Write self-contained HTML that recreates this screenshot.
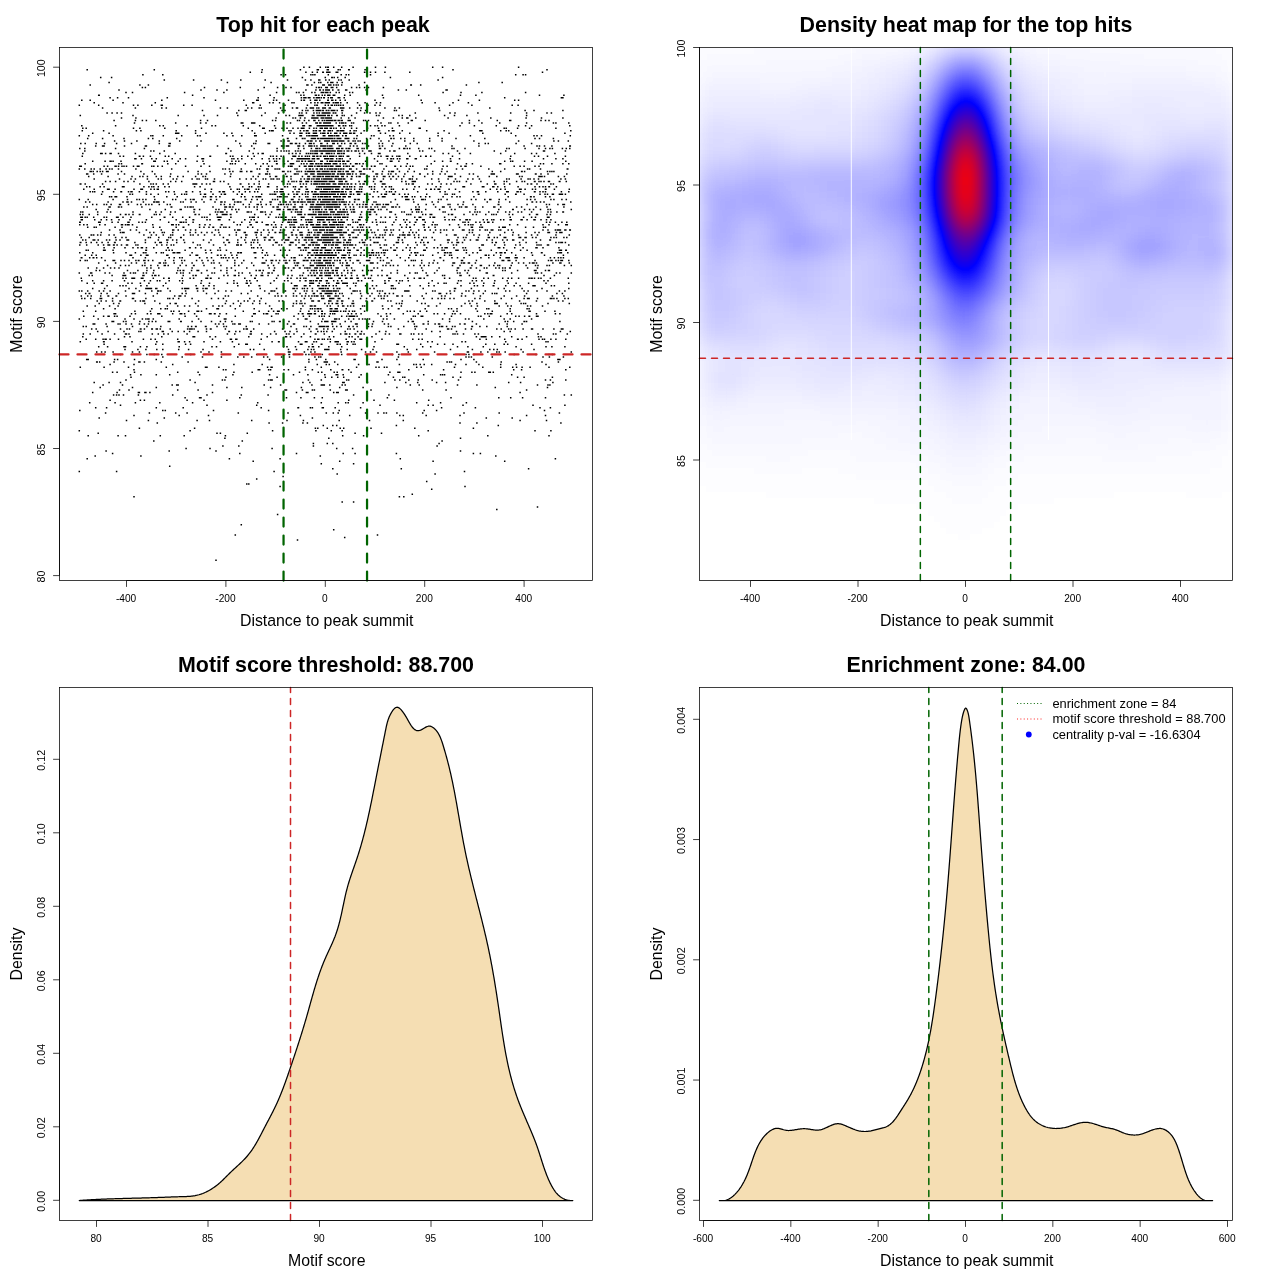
<!DOCTYPE html>
<html lang="en"><head><meta charset="utf-8"><title>Motif enrichment plots</title>
<style>html,body{margin:0;padding:0;background:#fff}svg{display:block}text{font-family:"Liberation Sans", sans-serif;fill:#000}</style></head>
<body>
<svg width="1280" height="1280" viewBox="0 0 1280 1280">
<rect width="1280" height="1280" fill="#fff"/>
<path d="M303.15 67.2h1.5M308.65 67.2h1.5M319.55 67.2h1.5M325.05 67.2h1.5M327.05 67.2h1.5M327.55 67.2h1.5M332.95 67.2h1.5M340.95 67.2h1.5M352.35 67.2h1.5M374.75 67.2h1.5M384.65 67.2h1.5M431.95 67.2h1.5M441.85 67.2h1.5M517.85 67.2h1.5M86.45 69.7h1.5M153.55 69.7h1.5M261.45 69.7h1.5M299.65 69.7h1.5M316.55 69.7h1.5M317.55 69.7h1.5M326.55 69.7h1.5M327.05 69.7h1.5M327.55 69.7h1.5M337.45 69.7h1.5M339.45 69.7h1.5M347.95 69.7h1.5M348.45 69.7h1.5M364.35 69.7h1.5M452.25 69.7h1.5M546.25 69.7h1.5M249.55 72.3h1.5M260.95 72.3h1.5M305.15 72.3h1.5M311.65 72.3h1.5M316.55 72.3h1.5M322.05 72.3h1.5M322.55 72.3h1.5M326.05 72.3h1.5M327.05 72.3h1.5M328.05 72.3h1.5M329.05 72.3h1.5M335.45 72.3h1.5M336.95 72.3h1.5M363.85 72.3h1.5M365.85 72.3h1.5M369.75 72.3h1.5M374.75 72.3h1.5M384.15 72.3h1.5M409.05 72.3h1.5M541.75 72.3h1.5M142.15 74.8h1.5M162.05 74.8h1.5M280.35 74.8h1.5M284.75 74.8h1.5M310.15 74.8h1.5M312.15 74.8h1.5M314.15 74.8h1.5M327.55 74.8h1.5M340.45 74.8h1.5M345.45 74.8h1.5M347.95 74.8h1.5M369.75 74.8h1.5M514.95 74.8h1.5M522.35 74.8h1.5M524.85 74.8h1.5M99.95 77.4h1.5M110.85 77.4h1.5M301.65 77.4h1.5M324.55 77.4h1.5M331.05 77.4h1.5M331.55 77.4h1.5M333.45 77.4h1.5M336.95 77.4h1.5M344.45 77.4h1.5M389.65 77.4h1.5M441.85 77.4h1.5M163.55 79.9h1.5M192.85 79.9h1.5M220.65 79.9h1.5M240.05 79.9h1.5M264.45 79.9h1.5M286.75 79.9h1.5M304.65 79.9h1.5M310.15 79.9h1.5M318.05 79.9h1.5M319.05 79.9h1.5M325.05 79.9h1.5M328.55 79.9h1.5M337.95 79.9h1.5M340.45 79.9h1.5M348.45 79.9h1.5M437.35 79.9h1.5M108.35 82.5h1.5M226.65 82.5h1.5M270.35 82.5h1.5M313.65 82.5h1.5M318.05 82.5h1.5M320.05 82.5h1.5M327.05 82.5h1.5M330.05 82.5h1.5M330.55 82.5h1.5M332.05 82.5h1.5M336.45 82.5h1.5M341.45 82.5h1.5M363.85 82.5h1.5M478.15 82.5h1.5M501.45 82.5h1.5M89.45 85h1.5M139.15 85h1.5M147.65 85h1.5M282.35 85h1.5M306.15 85h1.5M307.15 85h1.5M311.15 85h1.5M322.05 85h1.5M323.55 85h1.5M328.05 85h1.5M329.05 85h1.5M330.05 85h1.5M332.95 85h1.5M335.45 85h1.5M337.45 85h1.5M340.95 85h1.5M358.35 85h1.5M410.05 85h1.5M410.55 85h1.5M419.95 85h1.5M465.65 85h1.5M141.65 87.5h1.5M144.65 87.5h1.5M203.75 87.5h1.5M239.55 87.5h1.5M263.45 87.5h1.5M276.85 87.5h1.5M285.25 87.5h1.5M290.25 87.5h1.5M315.65 87.5h1.5M318.05 87.5h1.5M318.55 87.5h1.5M320.55 87.5h1.5M325.05 87.5h1.5M326.55 87.5h1.5M330.55 87.5h1.5M332.05 87.5h1.5M335.95 87.5h1.5M350.85 87.5h1.5M355.85 87.5h1.5M358.85 87.5h1.5M363.85 87.5h1.5M367.75 87.5h1.5M382.65 87.5h1.5M118.25 90.1h1.5M200.25 90.1h1.5M216.25 90.1h1.5M226.15 90.1h1.5M257.45 90.1h1.5M305.15 90.1h1.5M315.15 90.1h1.5M319.05 90.1h1.5M319.55 90.1h1.5M322.55 90.1h1.5M325.05 90.1h1.5M326.55 90.1h1.5M327.05 90.1h1.5M328.55 90.1h1.5M332.05 90.1h1.5M337.45 90.1h1.5M337.95 90.1h1.5M344.95 90.1h1.5M345.45 90.1h1.5M345.95 90.1h1.5M365.35 90.1h1.5M397.65 90.1h1.5M405.55 90.1h1.5M445.35 90.1h1.5M446.35 90.1h1.5M125.25 92.6h1.5M131.75 92.6h1.5M183.85 92.6h1.5M223.15 92.6h1.5M275.85 92.6h1.5M295.75 92.6h1.5M298.25 92.6h1.5M302.65 92.6h1.5M311.15 92.6h1.5M314.15 92.6h1.5M320.55 92.6h1.5M321.55 92.6h1.5M322.55 92.6h1.5M324.55 92.6h1.5M326.05 92.6h1.5M327.05 92.6h1.5M329.55 92.6h1.5M335.45 92.6h1.5M338.45 92.6h1.5M348.95 92.6h1.5M351.85 92.6h1.5M442.35 92.6h1.5M460.25 92.6h1.5M481.15 92.6h1.5M524.85 92.6h1.5M97.95 95.2h1.5M98.45 95.2h1.5M191.85 95.2h1.5M269.35 95.2h1.5M300.15 95.2h1.5M303.15 95.2h1.5M314.65 95.2h1.5M315.65 95.2h1.5M318.05 95.2h1.5M321.55 95.2h1.5M324.05 95.2h1.5M327.05 95.2h1.5M328.05 95.2h1.5M328.55 95.2h1.5M329.05 95.2h1.5M332.55 95.2h1.5M333.95 95.2h1.5M343.95 95.2h1.5M349.45 95.2h1.5M381.75 95.2h1.5M417.95 95.2h1.5M459.75 95.2h1.5M475.15 95.2h1.5M538.75 95.2h1.5M563.15 95.2h1.5M109.35 97.7h1.5M116.85 97.7h1.5M127.75 97.7h1.5M166.55 97.7h1.5M203.25 97.7h1.5M257.45 97.7h1.5M273.35 97.7h1.5M300.65 97.7h1.5M303.15 97.7h1.5M304.65 97.7h1.5M305.15 97.7h1.5M307.65 97.7h1.5M309.15 97.7h1.5M313.15 97.7h1.5M315.65 97.7h1.5M317.05 97.7h1.5M317.55 97.7h1.5M318.55 97.7h1.5M320.55 97.7h1.5M323.05 97.7h1.5M323.55 97.7h1.5M327.55 97.7h1.5M330.05 97.7h1.5M331.55 97.7h1.5M337.45 97.7h1.5M338.95 97.7h1.5M343.45 97.7h1.5M382.65 97.7h1.5M503.95 97.7h1.5M560.65 97.7h1.5M562.15 97.7h1.5M81.05 100.2h1.5M89.45 100.2h1.5M112.35 100.2h1.5M161.05 100.2h1.5M214.75 100.2h1.5M243.05 100.2h1.5M255.95 100.2h1.5M257.45 100.2h1.5M272.85 100.2h1.5M275.85 100.2h1.5M287.75 100.2h1.5M300.65 100.2h1.5M303.15 100.2h1.5M303.65 100.2h1.5M309.65 100.2h1.5M314.15 100.2h1.5M314.65 100.2h1.5M316.15 100.2h1.5M319.05 100.2h1.5M327.05 100.2h1.5M327.55 100.2h1.5M331.05 100.2h1.5M332.05 100.2h1.5M334.95 100.2h1.5M339.45 100.2h1.5M344.45 100.2h1.5M374.25 100.2h1.5M420.45 100.2h1.5M457.75 100.2h1.5M478.65 100.2h1.5M513.95 100.2h1.5M517.85 100.2h1.5M93.45 102.8h1.5M122.25 102.8h1.5M154.55 102.8h1.5M251.95 102.8h1.5M252.95 102.8h1.5M268.85 102.8h1.5M272.35 102.8h1.5M278.85 102.8h1.5M291.25 102.8h1.5M293.25 102.8h1.5M310.15 102.8h1.5M314.15 102.8h1.5M317.05 102.8h1.5M320.55 102.8h1.5M321.05 102.8h1.5M321.55 102.8h1.5M322.05 102.8h1.5M324.55 102.8h1.5M325.55 102.8h1.5M326.05 102.8h1.5M327.55 102.8h1.5M328.55 102.8h1.5M332.55 102.8h1.5M334.45 102.8h1.5M335.45 102.8h1.5M335.95 102.8h1.5M336.95 102.8h1.5M337.45 102.8h1.5M339.95 102.8h1.5M346.45 102.8h1.5M356.85 102.8h1.5M364.35 102.8h1.5M375.75 102.8h1.5M379.75 102.8h1.5M421.45 102.8h1.5M434.35 102.8h1.5M452.25 102.8h1.5M467.65 102.8h1.5M78.55 105.3h1.5M97.95 105.3h1.5M132.75 105.3h1.5M137.15 105.3h1.5M151.05 105.3h1.5M160.55 105.3h1.5M161.55 105.3h1.5M182.95 105.3h1.5M191.35 105.3h1.5M245.55 105.3h1.5M259.45 105.3h1.5M284.25 105.3h1.5M306.65 105.3h1.5M314.15 105.3h1.5M316.15 105.3h1.5M316.55 105.3h1.5M324.55 105.3h1.5M327.55 105.3h1.5M330.55 105.3h1.5M331.55 105.3h1.5M333.95 105.3h1.5M335.95 105.3h1.5M337.95 105.3h1.5M339.95 105.3h1.5M342.45 105.3h1.5M358.85 105.3h1.5M367.25 105.3h1.5M374.25 105.3h1.5M379.25 105.3h1.5M448.85 105.3h1.5M471.15 105.3h1.5M511.45 105.3h1.5M517.35 105.3h1.5M101.85 107.9h1.5M134.65 107.9h1.5M161.05 107.9h1.5M165.55 107.9h1.5M219.65 107.9h1.5M226.65 107.9h1.5M247.05 107.9h1.5M250.95 107.9h1.5M258.45 107.9h1.5M260.45 107.9h1.5M279.85 107.9h1.5M291.75 107.9h1.5M295.75 107.9h1.5M296.75 107.9h1.5M305.65 107.9h1.5M309.65 107.9h1.5M311.15 107.9h1.5M312.65 107.9h1.5M316.15 107.9h1.5M318.05 107.9h1.5M322.05 107.9h1.5M323.05 107.9h1.5M324.55 107.9h1.5M328.55 107.9h1.5M329.55 107.9h1.5M339.95 107.9h1.5M340.45 107.9h1.5M341.95 107.9h1.5M342.95 107.9h1.5M348.95 107.9h1.5M356.85 107.9h1.5M360.35 107.9h1.5M384.15 107.9h1.5M394.15 107.9h1.5M398.65 107.9h1.5M438.35 107.9h1.5M489.05 107.9h1.5M201.75 110.4h1.5M238.05 110.4h1.5M244.55 110.4h1.5M245.55 110.4h1.5M281.35 110.4h1.5M282.85 110.4h1.5M284.25 110.4h1.5M301.65 110.4h1.5M305.15 110.4h1.5M307.15 110.4h1.5M312.65 110.4h1.5M315.65 110.4h1.5M316.55 110.4h1.5M317.55 110.4h1.5M318.05 110.4h1.5M319.05 110.4h1.5M320.05 110.4h1.5M322.05 110.4h1.5M322.55 110.4h1.5M325.55 110.4h1.5M326.05 110.4h1.5M328.05 110.4h1.5M330.55 110.4h1.5M332.05 110.4h1.5M333.45 110.4h1.5M333.95 110.4h1.5M336.45 110.4h1.5M340.95 110.4h1.5M341.95 110.4h1.5M359.85 110.4h1.5M364.85 110.4h1.5M393.65 110.4h1.5M395.65 110.4h1.5M438.85 110.4h1.5M524.35 110.4h1.5M533.25 110.4h1.5M562.15 110.4h1.5M106.35 113h1.5M111.35 113h1.5M116.35 113h1.5M120.75 113h1.5M236.05 113h1.5M264.45 113h1.5M277.85 113h1.5M298.75 113h1.5M301.15 113h1.5M305.65 113h1.5M313.15 113h1.5M316.15 113h1.5M318.55 113h1.5M321.55 113h1.5M322.05 113h1.5M322.55 113h1.5M324.05 113h1.5M324.55 113h1.5M326.05 113h1.5M327.55 113h1.5M328.55 113h1.5M329.05 113h1.5M332.55 113h1.5M334.45 113h1.5M334.95 113h1.5M341.45 113h1.5M355.85 113h1.5M363.85 113h1.5M369.25 113h1.5M375.25 113h1.5M379.25 113h1.5M414.55 113h1.5M449.25 113h1.5M454.25 113h1.5M477.15 113h1.5M509.95 113h1.5M525.85 113h1.5M546.25 113h1.5M550.65 113h1.5M79.55 115.5h1.5M132.25 115.5h1.5M177.45 115.5h1.5M203.25 115.5h1.5M216.75 115.5h1.5M237.05 115.5h1.5M260.95 115.5h1.5M285.25 115.5h1.5M288.75 115.5h1.5M298.25 115.5h1.5M299.65 115.5h1.5M300.65 115.5h1.5M302.15 115.5h1.5M311.65 115.5h1.5M312.15 115.5h1.5M313.15 115.5h1.5M316.55 115.5h1.5M318.05 115.5h1.5M319.55 115.5h1.5M320.55 115.5h1.5M321.05 115.5h1.5M322.55 115.5h1.5M324.05 115.5h1.5M324.55 115.5h1.5M327.05 115.5h1.5M328.05 115.5h1.5M328.55 115.5h1.5M331.05 115.5h1.5M335.95 115.5h1.5M336.45 115.5h1.5M341.45 115.5h1.5M343.45 115.5h1.5M350.85 115.5h1.5M375.75 115.5h1.5M378.25 115.5h1.5M398.15 115.5h1.5M401.55 115.5h1.5M409.05 115.5h1.5M443.85 115.5h1.5M453.75 115.5h1.5M466.15 115.5h1.5M525.85 115.5h1.5M120.75 118h1.5M135.15 118h1.5M275.35 118h1.5M292.25 118h1.5M294.75 118h1.5M299.65 118h1.5M304.15 118h1.5M311.15 118h1.5M312.15 118h1.5M313.65 118h1.5M314.65 118h1.5M316.15 118h1.5M317.05 118h1.5M320.55 118h1.5M321.55 118h1.5M323.05 118h1.5M325.05 118h1.5M326.55 118h1.5M327.05 118h1.5M327.55 118h1.5M328.05 118h1.5M328.55 118h1.5M330.05 118h1.5M330.55 118h1.5M340.45 118h1.5M347.95 118h1.5M354.35 118h1.5M382.65 118h1.5M392.65 118h1.5M401.55 118h1.5M406.05 118h1.5M407.05 118h1.5M415.05 118h1.5M447.35 118h1.5M490.05 118h1.5M525.35 118h1.5M540.75 118h1.5M562.15 118h1.5M113.35 120.6h1.5M134.65 120.6h1.5M141.65 120.6h1.5M145.65 120.6h1.5M155.05 120.6h1.5M199.85 120.6h1.5M206.75 120.6h1.5M271.85 120.6h1.5M274.85 120.6h1.5M296.75 120.6h1.5M298.75 120.6h1.5M303.65 120.6h1.5M308.15 120.6h1.5M313.15 120.6h1.5M314.15 120.6h1.5M318.05 120.6h1.5M321.55 120.6h1.5M323.55 120.6h1.5M325.55 120.6h1.5M326.05 120.6h1.5M327.05 120.6h1.5M327.55 120.6h1.5M328.05 120.6h1.5M329.55 120.6h1.5M331.05 120.6h1.5M331.55 120.6h1.5M333.45 120.6h1.5M334.95 120.6h1.5M337.45 120.6h1.5M338.45 120.6h1.5M340.45 120.6h1.5M341.45 120.6h1.5M347.45 120.6h1.5M348.95 120.6h1.5M349.45 120.6h1.5M362.85 120.6h1.5M364.85 120.6h1.5M367.75 120.6h1.5M377.25 120.6h1.5M410.55 120.6h1.5M411.55 120.6h1.5M424.45 120.6h1.5M468.65 120.6h1.5M478.15 120.6h1.5M496.55 120.6h1.5M508.95 120.6h1.5M509.95 120.6h1.5M540.25 120.6h1.5M544.75 120.6h1.5M548.25 120.6h1.5M133.75 123.1h1.5M174.95 123.1h1.5M199.85 123.1h1.5M205.25 123.1h1.5M240.55 123.1h1.5M242.05 123.1h1.5M250.95 123.1h1.5M251.45 123.1h1.5M252.45 123.1h1.5M253.95 123.1h1.5M286.25 123.1h1.5M289.75 123.1h1.5M301.65 123.1h1.5M305.65 123.1h1.5M315.15 123.1h1.5M316.55 123.1h1.5M319.05 123.1h1.5M319.55 123.1h1.5M320.05 123.1h1.5M323.05 123.1h1.5M324.05 123.1h1.5M325.05 123.1h1.5M325.55 123.1h1.5M327.05 123.1h1.5M327.55 123.1h1.5M328.55 123.1h1.5M329.55 123.1h1.5M335.45 123.1h1.5M338.95 123.1h1.5M340.95 123.1h1.5M341.95 123.1h1.5M342.45 123.1h1.5M342.95 123.1h1.5M344.95 123.1h1.5M350.85 123.1h1.5M352.85 123.1h1.5M380.25 123.1h1.5M388.15 123.1h1.5M390.15 123.1h1.5M397.15 123.1h1.5M407.55 123.1h1.5M461.25 123.1h1.5M468.65 123.1h1.5M481.15 123.1h1.5M498.95 123.1h1.5M525.85 123.1h1.5M552.65 123.1h1.5M555.15 123.1h1.5M568.05 123.1h1.5M81.05 125.7h1.5M114.85 125.7h1.5M159.05 125.7h1.5M162.55 125.7h1.5M186.35 125.7h1.5M211.25 125.7h1.5M214.75 125.7h1.5M242.55 125.7h1.5M258.95 125.7h1.5M273.85 125.7h1.5M302.15 125.7h1.5M303.15 125.7h1.5M303.65 125.7h1.5M308.65 125.7h1.5M310.15 125.7h1.5M316.55 125.7h1.5M317.55 125.7h1.5M319.05 125.7h1.5M319.55 125.7h1.5M320.05 125.7h1.5M321.05 125.7h1.5M322.05 125.7h1.5M323.55 125.7h1.5M324.05 125.7h1.5M324.55 125.7h1.5M326.05 125.7h1.5M327.05 125.7h1.5M327.55 125.7h1.5M329.05 125.7h1.5M330.05 125.7h1.5M331.05 125.7h1.5M331.55 125.7h1.5M332.05 125.7h1.5M337.95 125.7h1.5M338.95 125.7h1.5M342.45 125.7h1.5M342.95 125.7h1.5M344.95 125.7h1.5M348.95 125.7h1.5M350.85 125.7h1.5M369.75 125.7h1.5M374.25 125.7h1.5M376.75 125.7h1.5M381.25 125.7h1.5M384.15 125.7h1.5M398.65 125.7h1.5M459.25 125.7h1.5M473.65 125.7h1.5M495.55 125.7h1.5M517.85 125.7h1.5M524.85 125.7h1.5M530.85 125.7h1.5M569.05 125.7h1.5M82.05 128.2h1.5M85.45 128.2h1.5M132.75 128.2h1.5M139.15 128.2h1.5M164.05 128.2h1.5M200.75 128.2h1.5M247.55 128.2h1.5M261.95 128.2h1.5M263.45 128.2h1.5M274.85 128.2h1.5M281.35 128.2h1.5M286.25 128.2h1.5M292.25 128.2h1.5M297.25 128.2h1.5M300.65 128.2h1.5M302.15 128.2h1.5M303.15 128.2h1.5M308.65 128.2h1.5M313.15 128.2h1.5M315.65 128.2h1.5M319.55 128.2h1.5M320.55 128.2h1.5M321.55 128.2h1.5M324.05 128.2h1.5M325.05 128.2h1.5M326.55 128.2h1.5M329.55 128.2h1.5M330.55 128.2h1.5M332.95 128.2h1.5M335.45 128.2h1.5M339.95 128.2h1.5M343.45 128.2h1.5M350.85 128.2h1.5M355.85 128.2h1.5M366.75 128.2h1.5M377.75 128.2h1.5M391.65 128.2h1.5M418.45 128.2h1.5M419.45 128.2h1.5M503.45 128.2h1.5M505.45 128.2h1.5M516.85 128.2h1.5M528.85 128.2h1.5M555.15 128.2h1.5M81.55 130.8h1.5M102.85 130.8h1.5M135.65 130.8h1.5M140.15 130.8h1.5M175.45 130.8h1.5M194.85 130.8h1.5M251.45 130.8h1.5M268.85 130.8h1.5M270.85 130.8h1.5M272.35 130.8h1.5M288.25 130.8h1.5M290.25 130.8h1.5M299.65 130.8h1.5M303.15 130.8h1.5M305.65 130.8h1.5M306.65 130.8h1.5M307.15 130.8h1.5M312.65 130.8h1.5M313.15 130.8h1.5M315.15 130.8h1.5M315.65 130.8h1.5M318.55 130.8h1.5M319.05 130.8h1.5M319.55 130.8h1.5M323.05 130.8h1.5M324.05 130.8h1.5M327.55 130.8h1.5M328.05 130.8h1.5M329.55 130.8h1.5M331.55 130.8h1.5M336.45 130.8h1.5M337.45 130.8h1.5M339.45 130.8h1.5M339.95 130.8h1.5M341.45 130.8h1.5M342.95 130.8h1.5M349.45 130.8h1.5M353.35 130.8h1.5M355.35 130.8h1.5M363.35 130.8h1.5M365.85 130.8h1.5M377.75 130.8h1.5M378.75 130.8h1.5M388.15 130.8h1.5M391.65 130.8h1.5M393.15 130.8h1.5M401.55 130.8h1.5M425.95 130.8h1.5M443.35 130.8h1.5M479.15 130.8h1.5M480.65 130.8h1.5M481.15 130.8h1.5M499.95 130.8h1.5M505.45 130.8h1.5M507.95 130.8h1.5M570.05 130.8h1.5M91.95 133.3h1.5M108.35 133.3h1.5M174.95 133.3h1.5M176.45 133.3h1.5M177.95 133.3h1.5M194.85 133.3h1.5M205.25 133.3h1.5M223.15 133.3h1.5M231.15 133.3h1.5M253.95 133.3h1.5M264.45 133.3h1.5M289.25 133.3h1.5M293.25 133.3h1.5M299.25 133.3h1.5M300.15 133.3h1.5M301.15 133.3h1.5M305.65 133.3h1.5M307.65 133.3h1.5M308.65 133.3h1.5M312.65 133.3h1.5M313.65 133.3h1.5M315.15 133.3h1.5M315.65 133.3h1.5M320.05 133.3h1.5M322.05 133.3h1.5M323.05 133.3h1.5M324.05 133.3h1.5M327.05 133.3h1.5M327.55 133.3h1.5M330.05 133.3h1.5M333.95 133.3h1.5M334.95 133.3h1.5M335.45 133.3h1.5M335.95 133.3h1.5M339.45 133.3h1.5M342.95 133.3h1.5M344.45 133.3h1.5M345.95 133.3h1.5M348.95 133.3h1.5M350.35 133.3h1.5M352.85 133.3h1.5M353.85 133.3h1.5M360.35 133.3h1.5M379.75 133.3h1.5M384.65 133.3h1.5M399.05 133.3h1.5M409.05 133.3h1.5M437.35 133.3h1.5M448.35 133.3h1.5M482.05 133.3h1.5M510.45 133.3h1.5M564.15 133.3h1.5M78.55 135.8h1.5M87.95 135.8h1.5M112.35 135.8h1.5M150.15 135.8h1.5M152.05 135.8h1.5M162.55 135.8h1.5M180.95 135.8h1.5M196.85 135.8h1.5M199.35 135.8h1.5M226.15 135.8h1.5M232.15 135.8h1.5M241.05 135.8h1.5M253.95 135.8h1.5M255.45 135.8h1.5M281.85 135.8h1.5M299.25 135.8h1.5M300.65 135.8h1.5M306.15 135.8h1.5M308.15 135.8h1.5M309.15 135.8h1.5M311.15 135.8h1.5M311.65 135.8h1.5M312.65 135.8h1.5M313.15 135.8h1.5M313.65 135.8h1.5M315.15 135.8h1.5M315.65 135.8h1.5M316.55 135.8h1.5M322.55 135.8h1.5M323.05 135.8h1.5M324.05 135.8h1.5M328.05 135.8h1.5M329.05 135.8h1.5M330.55 135.8h1.5M331.05 135.8h1.5M331.55 135.8h1.5M333.45 135.8h1.5M335.45 135.8h1.5M335.95 135.8h1.5M336.95 135.8h1.5M337.45 135.8h1.5M337.95 135.8h1.5M341.95 135.8h1.5M344.95 135.8h1.5M345.45 135.8h1.5M356.35 135.8h1.5M370.75 135.8h1.5M373.25 135.8h1.5M389.15 135.8h1.5M392.65 135.8h1.5M437.35 135.8h1.5M469.65 135.8h1.5M514.95 135.8h1.5M533.25 135.8h1.5M536.25 135.8h1.5M540.75 135.8h1.5M569.55 135.8h1.5M86.95 138.4h1.5M101.85 138.4h1.5M123.25 138.4h1.5M147.65 138.4h1.5M152.05 138.4h1.5M175.95 138.4h1.5M286.75 138.4h1.5M287.25 138.4h1.5M295.75 138.4h1.5M301.65 138.4h1.5M302.15 138.4h1.5M304.15 138.4h1.5M310.65 138.4h1.5M311.15 138.4h1.5M312.15 138.4h1.5M312.65 138.4h1.5M313.65 138.4h1.5M314.65 138.4h1.5M317.05 138.4h1.5M317.55 138.4h1.5M318.05 138.4h1.5M320.05 138.4h1.5M321.05 138.4h1.5M322.55 138.4h1.5M323.05 138.4h1.5M324.05 138.4h1.5M325.55 138.4h1.5M326.05 138.4h1.5M327.55 138.4h1.5M328.55 138.4h1.5M329.05 138.4h1.5M330.05 138.4h1.5M330.55 138.4h1.5M332.05 138.4h1.5M333.95 138.4h1.5M336.45 138.4h1.5M337.45 138.4h1.5M338.45 138.4h1.5M339.95 138.4h1.5M344.45 138.4h1.5M344.95 138.4h1.5M346.45 138.4h1.5M347.95 138.4h1.5M353.35 138.4h1.5M355.85 138.4h1.5M365.85 138.4h1.5M369.75 138.4h1.5M378.25 138.4h1.5M390.15 138.4h1.5M390.65 138.4h1.5M393.15 138.4h1.5M400.05 138.4h1.5M404.05 138.4h1.5M413.05 138.4h1.5M428.95 138.4h1.5M441.35 138.4h1.5M455.25 138.4h1.5M484.05 138.4h1.5M534.25 138.4h1.5M538.75 138.4h1.5M552.65 138.4h1.5M113.85 140.9h1.5M123.75 140.9h1.5M136.15 140.9h1.5M158.55 140.9h1.5M178.95 140.9h1.5M200.25 140.9h1.5M235.05 140.9h1.5M255.45 140.9h1.5M280.35 140.9h1.5M283.25 140.9h1.5M287.25 140.9h1.5M288.25 140.9h1.5M306.65 140.9h1.5M307.65 140.9h1.5M309.65 140.9h1.5M310.65 140.9h1.5M311.15 140.9h1.5M315.15 140.9h1.5M319.05 140.9h1.5M324.05 140.9h1.5M324.55 140.9h1.5M326.05 140.9h1.5M326.55 140.9h1.5M327.05 140.9h1.5M328.55 140.9h1.5M331.05 140.9h1.5M332.55 140.9h1.5M332.95 140.9h1.5M334.45 140.9h1.5M334.95 140.9h1.5M335.95 140.9h1.5M336.45 140.9h1.5M338.45 140.9h1.5M338.95 140.9h1.5M339.95 140.9h1.5M341.45 140.9h1.5M342.95 140.9h1.5M347.45 140.9h1.5M347.95 140.9h1.5M352.35 140.9h1.5M354.35 140.9h1.5M357.35 140.9h1.5M359.35 140.9h1.5M380.25 140.9h1.5M388.15 140.9h1.5M404.05 140.9h1.5M413.05 140.9h1.5M428.95 140.9h1.5M441.35 140.9h1.5M473.15 140.9h1.5M517.85 140.9h1.5M553.15 140.9h1.5M557.65 140.9h1.5M567.55 140.9h1.5M80.05 143.5h1.5M84.45 143.5h1.5M95.45 143.5h1.5M103.85 143.5h1.5M115.85 143.5h1.5M130.75 143.5h1.5M158.55 143.5h1.5M168.45 143.5h1.5M169.45 143.5h1.5M239.05 143.5h1.5M252.95 143.5h1.5M254.95 143.5h1.5M267.35 143.5h1.5M268.85 143.5h1.5M289.75 143.5h1.5M290.75 143.5h1.5M291.25 143.5h1.5M294.75 143.5h1.5M295.75 143.5h1.5M298.75 143.5h1.5M304.65 143.5h1.5M308.65 143.5h1.5M310.15 143.5h1.5M310.65 143.5h1.5M313.15 143.5h1.5M320.05 143.5h1.5M320.55 143.5h1.5M321.05 143.5h1.5M326.55 143.5h1.5M332.05 143.5h1.5M333.45 143.5h1.5M336.95 143.5h1.5M340.95 143.5h1.5M343.95 143.5h1.5M349.45 143.5h1.5M350.35 143.5h1.5M354.35 143.5h1.5M354.85 143.5h1.5M361.85 143.5h1.5M364.35 143.5h1.5M378.25 143.5h1.5M381.75 143.5h1.5M392.15 143.5h1.5M409.55 143.5h1.5M416.45 143.5h1.5M478.15 143.5h1.5M484.55 143.5h1.5M487.55 143.5h1.5M515.35 143.5h1.5M530.85 143.5h1.5M94.95 146h1.5M101.85 146h1.5M103.35 146h1.5M123.75 146h1.5M144.65 146h1.5M145.65 146h1.5M167.95 146h1.5M168.95 146h1.5M196.35 146h1.5M216.75 146h1.5M240.05 146h1.5M250.95 146h1.5M280.85 146h1.5M281.35 146h1.5M282.85 146h1.5M285.75 146h1.5M287.25 146h1.5M287.75 146h1.5M297.25 146h1.5M298.75 146h1.5M302.65 146h1.5M308.15 146h1.5M309.15 146h1.5M309.65 146h1.5M310.65 146h1.5M311.15 146h1.5M313.65 146h1.5M316.15 146h1.5M320.05 146h1.5M320.55 146h1.5M321.05 146h1.5M321.55 146h1.5M322.05 146h1.5M323.05 146h1.5M324.05 146h1.5M324.55 146h1.5M325.05 146h1.5M327.05 146h1.5M329.05 146h1.5M330.05 146h1.5M330.55 146h1.5M331.05 146h1.5M338.45 146h1.5M339.95 146h1.5M349.45 146h1.5M352.85 146h1.5M356.35 146h1.5M367.75 146h1.5M378.75 146h1.5M381.75 146h1.5M391.15 146h1.5M405.05 146h1.5M451.25 146h1.5M478.15 146h1.5M523.35 146h1.5M536.25 146h1.5M538.75 146h1.5M543.75 146h1.5M551.15 146h1.5M569.05 146h1.5M569.55 146h1.5M79.05 148.5h1.5M84.05 148.5h1.5M114.85 148.5h1.5M143.65 148.5h1.5M227.65 148.5h1.5M253.45 148.5h1.5M276.35 148.5h1.5M297.75 148.5h1.5M303.15 148.5h1.5M310.65 148.5h1.5M315.15 148.5h1.5M316.15 148.5h1.5M317.05 148.5h1.5M319.05 148.5h1.5M322.55 148.5h1.5M323.05 148.5h1.5M324.05 148.5h1.5M324.55 148.5h1.5M325.05 148.5h1.5M327.05 148.5h1.5M327.55 148.5h1.5M328.05 148.5h1.5M329.55 148.5h1.5M330.05 148.5h1.5M331.05 148.5h1.5M331.55 148.5h1.5M332.05 148.5h1.5M335.95 148.5h1.5M336.95 148.5h1.5M337.45 148.5h1.5M338.45 148.5h1.5M340.95 148.5h1.5M341.95 148.5h1.5M345.45 148.5h1.5M347.45 148.5h1.5M348.95 148.5h1.5M356.35 148.5h1.5M356.85 148.5h1.5M357.35 148.5h1.5M361.35 148.5h1.5M363.35 148.5h1.5M378.75 148.5h1.5M379.75 148.5h1.5M384.15 148.5h1.5M398.65 148.5h1.5M403.05 148.5h1.5M403.55 148.5h1.5M404.05 148.5h1.5M406.55 148.5h1.5M409.05 148.5h1.5M417.95 148.5h1.5M428.45 148.5h1.5M430.95 148.5h1.5M451.25 148.5h1.5M453.25 148.5h1.5M464.25 148.5h1.5M505.95 148.5h1.5M508.45 148.5h1.5M524.35 148.5h1.5M538.25 148.5h1.5M544.75 148.5h1.5M549.15 148.5h1.5M551.65 148.5h1.5M561.65 148.5h1.5M565.55 148.5h1.5M569.05 148.5h1.5M84.05 151.1h1.5M150.15 151.1h1.5M153.05 151.1h1.5M163.55 151.1h1.5M230.15 151.1h1.5M248.55 151.1h1.5M276.35 151.1h1.5M280.35 151.1h1.5M283.25 151.1h1.5M285.75 151.1h1.5M288.25 151.1h1.5M294.75 151.1h1.5M297.25 151.1h1.5M299.65 151.1h1.5M310.15 151.1h1.5M312.15 151.1h1.5M314.15 151.1h1.5M315.15 151.1h1.5M316.55 151.1h1.5M317.05 151.1h1.5M319.05 151.1h1.5M320.55 151.1h1.5M321.05 151.1h1.5M322.05 151.1h1.5M322.55 151.1h1.5M323.05 151.1h1.5M324.55 151.1h1.5M325.05 151.1h1.5M326.05 151.1h1.5M327.55 151.1h1.5M328.05 151.1h1.5M328.55 151.1h1.5M330.05 151.1h1.5M331.55 151.1h1.5M332.55 151.1h1.5M333.45 151.1h1.5M333.95 151.1h1.5M334.45 151.1h1.5M336.95 151.1h1.5M337.45 151.1h1.5M338.45 151.1h1.5M339.95 151.1h1.5M340.95 151.1h1.5M343.45 151.1h1.5M346.45 151.1h1.5M347.95 151.1h1.5M350.85 151.1h1.5M354.35 151.1h1.5M355.35 151.1h1.5M357.85 151.1h1.5M361.85 151.1h1.5M368.25 151.1h1.5M369.75 151.1h1.5M370.25 151.1h1.5M389.15 151.1h1.5M393.15 151.1h1.5M394.15 151.1h1.5M418.95 151.1h1.5M421.95 151.1h1.5M433.85 151.1h1.5M456.75 151.1h1.5M493.55 151.1h1.5M504.95 151.1h1.5M542.75 151.1h1.5M543.75 151.1h1.5M564.65 151.1h1.5M82.05 153.6h1.5M99.95 153.6h1.5M101.35 153.6h1.5M104.85 153.6h1.5M109.35 153.6h1.5M110.35 153.6h1.5M117.75 153.6h1.5M134.65 153.6h1.5M159.05 153.6h1.5M174.45 153.6h1.5M225.15 153.6h1.5M225.65 153.6h1.5M252.45 153.6h1.5M257.45 153.6h1.5M261.45 153.6h1.5M262.45 153.6h1.5M288.25 153.6h1.5M291.75 153.6h1.5M295.25 153.6h1.5M299.25 153.6h1.5M305.65 153.6h1.5M307.65 153.6h1.5M309.65 153.6h1.5M310.15 153.6h1.5M312.15 153.6h1.5M314.15 153.6h1.5M315.15 153.6h1.5M315.65 153.6h1.5M316.15 153.6h1.5M316.55 153.6h1.5M320.55 153.6h1.5M321.05 153.6h1.5M321.55 153.6h1.5M325.55 153.6h1.5M326.55 153.6h1.5M327.55 153.6h1.5M329.05 153.6h1.5M331.05 153.6h1.5M333.45 153.6h1.5M336.95 153.6h1.5M338.45 153.6h1.5M340.45 153.6h1.5M342.45 153.6h1.5M342.95 153.6h1.5M343.45 153.6h1.5M358.85 153.6h1.5M363.85 153.6h1.5M370.75 153.6h1.5M377.75 153.6h1.5M379.25 153.6h1.5M407.05 153.6h1.5M442.35 153.6h1.5M447.85 153.6h1.5M458.75 153.6h1.5M469.65 153.6h1.5M499.95 153.6h1.5M513.95 153.6h1.5M530.85 153.6h1.5M535.75 153.6h1.5M554.15 153.6h1.5M81.55 156.2h1.5M119.25 156.2h1.5M122.75 156.2h1.5M138.65 156.2h1.5M139.15 156.2h1.5M142.65 156.2h1.5M149.65 156.2h1.5M164.55 156.2h1.5M167.95 156.2h1.5M196.85 156.2h1.5M209.25 156.2h1.5M209.75 156.2h1.5M229.65 156.2h1.5M232.15 156.2h1.5M241.05 156.2h1.5M247.05 156.2h1.5M253.45 156.2h1.5M269.85 156.2h1.5M272.35 156.2h1.5M275.85 156.2h1.5M280.35 156.2h1.5M282.85 156.2h1.5M292.25 156.2h1.5M292.75 156.2h1.5M293.75 156.2h1.5M294.75 156.2h1.5M298.25 156.2h1.5M301.15 156.2h1.5M304.65 156.2h1.5M306.65 156.2h1.5M308.65 156.2h1.5M312.15 156.2h1.5M313.65 156.2h1.5M316.15 156.2h1.5M317.05 156.2h1.5M319.55 156.2h1.5M320.05 156.2h1.5M323.05 156.2h1.5M324.55 156.2h1.5M326.55 156.2h1.5M329.05 156.2h1.5M330.55 156.2h1.5M331.55 156.2h1.5M332.95 156.2h1.5M335.45 156.2h1.5M338.45 156.2h1.5M339.45 156.2h1.5M340.45 156.2h1.5M342.45 156.2h1.5M346.45 156.2h1.5M347.95 156.2h1.5M358.85 156.2h1.5M377.25 156.2h1.5M380.25 156.2h1.5M385.65 156.2h1.5M387.15 156.2h1.5M391.65 156.2h1.5M396.15 156.2h1.5M398.15 156.2h1.5M399.05 156.2h1.5M409.05 156.2h1.5M419.95 156.2h1.5M424.95 156.2h1.5M425.45 156.2h1.5M429.95 156.2h1.5M451.75 156.2h1.5M509.95 156.2h1.5M533.75 156.2h1.5M537.75 156.2h1.5M546.75 156.2h1.5M564.65 156.2h1.5M134.15 158.7h1.5M135.15 158.7h1.5M140.65 158.7h1.5M151.05 158.7h1.5M155.55 158.7h1.5M171.45 158.7h1.5M179.45 158.7h1.5M184.85 158.7h1.5M201.25 158.7h1.5M202.75 158.7h1.5M231.15 158.7h1.5M233.15 158.7h1.5M237.05 158.7h1.5M241.05 158.7h1.5M250.95 158.7h1.5M261.45 158.7h1.5M268.35 158.7h1.5M272.85 158.7h1.5M275.85 158.7h1.5M278.85 158.7h1.5M291.25 158.7h1.5M296.75 158.7h1.5M298.25 158.7h1.5M299.25 158.7h1.5M300.65 158.7h1.5M301.65 158.7h1.5M302.65 158.7h1.5M303.15 158.7h1.5M303.65 158.7h1.5M305.15 158.7h1.5M305.65 158.7h1.5M307.15 158.7h1.5M308.15 158.7h1.5M308.65 158.7h1.5M311.65 158.7h1.5M312.15 158.7h1.5M313.15 158.7h1.5M313.65 158.7h1.5M316.55 158.7h1.5M317.05 158.7h1.5M317.55 158.7h1.5M318.05 158.7h1.5M324.05 158.7h1.5M324.55 158.7h1.5M325.05 158.7h1.5M326.05 158.7h1.5M327.55 158.7h1.5M328.05 158.7h1.5M330.05 158.7h1.5M330.55 158.7h1.5M331.05 158.7h1.5M331.55 158.7h1.5M332.05 158.7h1.5M335.95 158.7h1.5M338.45 158.7h1.5M339.45 158.7h1.5M341.45 158.7h1.5M349.45 158.7h1.5M373.75 158.7h1.5M386.65 158.7h1.5M390.15 158.7h1.5M390.65 158.7h1.5M392.65 158.7h1.5M396.65 158.7h1.5M399.05 158.7h1.5M406.05 158.7h1.5M407.05 158.7h1.5M414.55 158.7h1.5M415.55 158.7h1.5M449.75 158.7h1.5M458.75 158.7h1.5M509.45 158.7h1.5M542.75 158.7h1.5M555.15 158.7h1.5M562.15 158.7h1.5M91.95 161.3h1.5M104.35 161.3h1.5M109.35 161.3h1.5M110.35 161.3h1.5M112.35 161.3h1.5M120.25 161.3h1.5M153.05 161.3h1.5M154.55 161.3h1.5M163.55 161.3h1.5M166.55 161.3h1.5M177.45 161.3h1.5M196.35 161.3h1.5M202.25 161.3h1.5M226.15 161.3h1.5M231.15 161.3h1.5M235.05 161.3h1.5M238.05 161.3h1.5M268.85 161.3h1.5M273.85 161.3h1.5M275.85 161.3h1.5M282.85 161.3h1.5M287.25 161.3h1.5M296.25 161.3h1.5M298.25 161.3h1.5M301.15 161.3h1.5M301.65 161.3h1.5M304.65 161.3h1.5M307.65 161.3h1.5M309.15 161.3h1.5M310.15 161.3h1.5M311.15 161.3h1.5M313.65 161.3h1.5M320.05 161.3h1.5M320.55 161.3h1.5M321.05 161.3h1.5M321.55 161.3h1.5M326.55 161.3h1.5M329.05 161.3h1.5M329.55 161.3h1.5M331.05 161.3h1.5M331.55 161.3h1.5M332.05 161.3h1.5M334.45 161.3h1.5M334.95 161.3h1.5M335.45 161.3h1.5M337.45 161.3h1.5M337.95 161.3h1.5M338.45 161.3h1.5M339.45 161.3h1.5M341.95 161.3h1.5M343.45 161.3h1.5M346.45 161.3h1.5M347.95 161.3h1.5M364.85 161.3h1.5M365.85 161.3h1.5M376.75 161.3h1.5M389.65 161.3h1.5M391.15 161.3h1.5M398.15 161.3h1.5M433.85 161.3h1.5M441.85 161.3h1.5M449.75 161.3h1.5M450.25 161.3h1.5M503.95 161.3h1.5M509.95 161.3h1.5M511.95 161.3h1.5M523.85 161.3h1.5M531.35 161.3h1.5M565.05 161.3h1.5M84.45 163.8h1.5M118.25 163.8h1.5M120.75 163.8h1.5M141.15 163.8h1.5M141.65 163.8h1.5M167.05 163.8h1.5M174.95 163.8h1.5M203.25 163.8h1.5M229.65 163.8h1.5M231.65 163.8h1.5M234.55 163.8h1.5M244.55 163.8h1.5M254.95 163.8h1.5M262.45 163.8h1.5M266.45 163.8h1.5M275.85 163.8h1.5M276.35 163.8h1.5M283.75 163.8h1.5M289.75 163.8h1.5M291.25 163.8h1.5M292.75 163.8h1.5M300.65 163.8h1.5M303.15 163.8h1.5M306.15 163.8h1.5M309.65 163.8h1.5M310.15 163.8h1.5M311.65 163.8h1.5M312.15 163.8h1.5M315.15 163.8h1.5M316.15 163.8h1.5M318.05 163.8h1.5M320.05 163.8h1.5M321.05 163.8h1.5M324.05 163.8h1.5M325.05 163.8h1.5M325.55 163.8h1.5M326.05 163.8h1.5M327.05 163.8h1.5M328.05 163.8h1.5M329.55 163.8h1.5M332.55 163.8h1.5M332.95 163.8h1.5M333.95 163.8h1.5M334.45 163.8h1.5M334.95 163.8h1.5M335.95 163.8h1.5M339.45 163.8h1.5M342.45 163.8h1.5M344.45 163.8h1.5M344.95 163.8h1.5M349.85 163.8h1.5M354.85 163.8h1.5M356.35 163.8h1.5M358.85 163.8h1.5M362.35 163.8h1.5M365.85 163.8h1.5M379.25 163.8h1.5M381.25 163.8h1.5M406.55 163.8h1.5M430.45 163.8h1.5M456.75 163.8h1.5M465.65 163.8h1.5M471.65 163.8h1.5M498.95 163.8h1.5M499.95 163.8h1.5M539.75 163.8h1.5M542.75 163.8h1.5M551.15 163.8h1.5M562.15 163.8h1.5M568.05 163.8h1.5M79.05 166.3h1.5M80.55 166.3h1.5M103.35 166.3h1.5M106.85 166.3h1.5M114.35 166.3h1.5M115.35 166.3h1.5M117.75 166.3h1.5M121.25 166.3h1.5M123.25 166.3h1.5M125.75 166.3h1.5M132.75 166.3h1.5M136.65 166.3h1.5M138.15 166.3h1.5M151.05 166.3h1.5M153.05 166.3h1.5M157.05 166.3h1.5M161.55 166.3h1.5M184.85 166.3h1.5M200.25 166.3h1.5M208.75 166.3h1.5M259.95 166.3h1.5M267.85 166.3h1.5M271.35 166.3h1.5M287.75 166.3h1.5M289.75 166.3h1.5M291.25 166.3h1.5M298.75 166.3h1.5M303.65 166.3h1.5M304.65 166.3h1.5M305.15 166.3h1.5M308.15 166.3h1.5M308.65 166.3h1.5M309.15 166.3h1.5M310.65 166.3h1.5M311.15 166.3h1.5M311.65 166.3h1.5M314.15 166.3h1.5M316.55 166.3h1.5M317.05 166.3h1.5M317.55 166.3h1.5M318.05 166.3h1.5M318.55 166.3h1.5M319.05 166.3h1.5M321.05 166.3h1.5M321.55 166.3h1.5M322.05 166.3h1.5M324.05 166.3h1.5M324.55 166.3h1.5M325.55 166.3h1.5M327.55 166.3h1.5M329.55 166.3h1.5M330.55 166.3h1.5M332.05 166.3h1.5M335.45 166.3h1.5M336.45 166.3h1.5M336.95 166.3h1.5M337.45 166.3h1.5M337.95 166.3h1.5M338.45 166.3h1.5M338.95 166.3h1.5M339.45 166.3h1.5M342.95 166.3h1.5M345.45 166.3h1.5M346.45 166.3h1.5M348.45 166.3h1.5M351.85 166.3h1.5M352.85 166.3h1.5M361.35 166.3h1.5M370.75 166.3h1.5M373.75 166.3h1.5M374.25 166.3h1.5M385.65 166.3h1.5M394.15 166.3h1.5M394.65 166.3h1.5M400.05 166.3h1.5M405.55 166.3h1.5M409.55 166.3h1.5M412.05 166.3h1.5M426.45 166.3h1.5M442.35 166.3h1.5M446.35 166.3h1.5M460.25 166.3h1.5M464.25 166.3h1.5M465.25 166.3h1.5M480.15 166.3h1.5M513.45 166.3h1.5M519.35 166.3h1.5M523.35 166.3h1.5M534.25 166.3h1.5M538.25 166.3h1.5M78.55 168.9h1.5M84.05 168.9h1.5M90.45 168.9h1.5M93.45 168.9h1.5M99.45 168.9h1.5M105.35 168.9h1.5M108.85 168.9h1.5M111.35 168.9h1.5M117.75 168.9h1.5M135.15 168.9h1.5M170.95 168.9h1.5M222.15 168.9h1.5M224.65 168.9h1.5M228.65 168.9h1.5M240.55 168.9h1.5M256.45 168.9h1.5M258.95 168.9h1.5M265.95 168.9h1.5M267.35 168.9h1.5M274.35 168.9h1.5M276.35 168.9h1.5M278.35 168.9h1.5M278.85 168.9h1.5M294.25 168.9h1.5M296.25 168.9h1.5M305.65 168.9h1.5M308.65 168.9h1.5M309.15 168.9h1.5M309.65 168.9h1.5M312.15 168.9h1.5M315.65 168.9h1.5M316.15 168.9h1.5M316.55 168.9h1.5M319.55 168.9h1.5M320.05 168.9h1.5M320.55 168.9h1.5M321.55 168.9h1.5M324.05 168.9h1.5M326.55 168.9h1.5M327.05 168.9h1.5M329.05 168.9h1.5M330.05 168.9h1.5M331.05 168.9h1.5M332.05 168.9h1.5M333.95 168.9h1.5M334.95 168.9h1.5M335.95 168.9h1.5M337.95 168.9h1.5M339.95 168.9h1.5M340.45 168.9h1.5M342.45 168.9h1.5M342.95 168.9h1.5M348.95 168.9h1.5M350.35 168.9h1.5M355.85 168.9h1.5M362.85 168.9h1.5M363.35 168.9h1.5M363.85 168.9h1.5M366.25 168.9h1.5M368.75 168.9h1.5M369.25 168.9h1.5M383.15 168.9h1.5M396.65 168.9h1.5M408.55 168.9h1.5M423.95 168.9h1.5M425.95 168.9h1.5M441.35 168.9h1.5M455.75 168.9h1.5M461.75 168.9h1.5M488.05 168.9h1.5M503.95 168.9h1.5M526.85 168.9h1.5M528.85 168.9h1.5M539.75 168.9h1.5M566.55 168.9h1.5M567.05 168.9h1.5M89.45 171.4h1.5M90.45 171.4h1.5M92.45 171.4h1.5M96.45 171.4h1.5M99.45 171.4h1.5M101.85 171.4h1.5M105.85 171.4h1.5M107.35 171.4h1.5M120.75 171.4h1.5M140.15 171.4h1.5M151.55 171.4h1.5M187.35 171.4h1.5M197.35 171.4h1.5M209.25 171.4h1.5M229.15 171.4h1.5M232.15 171.4h1.5M239.55 171.4h1.5M241.05 171.4h1.5M246.05 171.4h1.5M250.05 171.4h1.5M250.95 171.4h1.5M266.85 171.4h1.5M281.85 171.4h1.5M283.25 171.4h1.5M287.25 171.4h1.5M289.75 171.4h1.5M296.25 171.4h1.5M298.25 171.4h1.5M300.65 171.4h1.5M304.65 171.4h1.5M306.65 171.4h1.5M308.15 171.4h1.5M309.15 171.4h1.5M310.65 171.4h1.5M312.15 171.4h1.5M313.65 171.4h1.5M316.55 171.4h1.5M317.05 171.4h1.5M318.05 171.4h1.5M318.55 171.4h1.5M319.05 171.4h1.5M321.55 171.4h1.5M323.05 171.4h1.5M323.55 171.4h1.5M325.05 171.4h1.5M325.55 171.4h1.5M326.05 171.4h1.5M326.55 171.4h1.5M327.55 171.4h1.5M328.05 171.4h1.5M330.55 171.4h1.5M331.55 171.4h1.5M333.45 171.4h1.5M333.95 171.4h1.5M334.45 171.4h1.5M337.45 171.4h1.5M337.95 171.4h1.5M338.45 171.4h1.5M339.95 171.4h1.5M342.45 171.4h1.5M345.45 171.4h1.5M346.45 171.4h1.5M347.45 171.4h1.5M351.35 171.4h1.5M352.85 171.4h1.5M358.85 171.4h1.5M360.35 171.4h1.5M372.25 171.4h1.5M381.75 171.4h1.5M388.15 171.4h1.5M390.65 171.4h1.5M392.15 171.4h1.5M392.65 171.4h1.5M398.65 171.4h1.5M407.05 171.4h1.5M413.55 171.4h1.5M431.95 171.4h1.5M440.85 171.4h1.5M446.35 171.4h1.5M491.55 171.4h1.5M499.95 171.4h1.5M520.85 171.4h1.5M521.35 171.4h1.5M523.85 171.4h1.5M546.75 171.4h1.5M549.15 171.4h1.5M551.15 171.4h1.5M553.15 171.4h1.5M85.95 174h1.5M86.95 174h1.5M92.95 174h1.5M100.85 174h1.5M117.35 174h1.5M123.75 174h1.5M143.15 174h1.5M154.05 174h1.5M169.95 174h1.5M197.35 174h1.5M200.75 174h1.5M205.75 174h1.5M224.15 174h1.5M230.15 174h1.5M258.45 174h1.5M258.95 174h1.5M264.95 174h1.5M266.45 174h1.5M268.85 174h1.5M284.75 174h1.5M293.75 174h1.5M294.25 174h1.5M294.75 174h1.5M295.25 174h1.5M297.25 174h1.5M304.65 174h1.5M306.15 174h1.5M310.15 174h1.5M311.15 174h1.5M311.65 174h1.5M312.15 174h1.5M313.15 174h1.5M317.05 174h1.5M317.55 174h1.5M318.55 174h1.5M319.55 174h1.5M320.05 174h1.5M320.55 174h1.5M321.05 174h1.5M321.55 174h1.5M322.05 174h1.5M323.05 174h1.5M324.05 174h1.5M325.55 174h1.5M326.55 174h1.5M327.05 174h1.5M327.55 174h1.5M328.05 174h1.5M329.05 174h1.5M329.55 174h1.5M331.55 174h1.5M332.95 174h1.5M333.45 174h1.5M336.95 174h1.5M337.45 174h1.5M339.45 174h1.5M339.95 174h1.5M340.95 174h1.5M341.95 174h1.5M342.45 174h1.5M342.95 174h1.5M343.45 174h1.5M346.45 174h1.5M347.95 174h1.5M348.45 174h1.5M349.45 174h1.5M351.85 174h1.5M355.35 174h1.5M359.85 174h1.5M360.35 174h1.5M362.35 174h1.5M363.85 174h1.5M375.25 174h1.5M376.75 174h1.5M381.25 174h1.5M387.65 174h1.5M390.15 174h1.5M395.15 174h1.5M404.05 174h1.5M418.95 174h1.5M419.45 174h1.5M426.95 174h1.5M431.95 174h1.5M439.35 174h1.5M444.35 174h1.5M454.25 174h1.5M468.65 174h1.5M472.65 174h1.5M490.55 174h1.5M492.05 174h1.5M493.55 174h1.5M515.85 174h1.5M517.35 174h1.5M534.75 174h1.5M535.25 174h1.5M540.25 174h1.5M547.25 174h1.5M566.05 174h1.5M87.95 176.5h1.5M107.35 176.5h1.5M131.25 176.5h1.5M139.15 176.5h1.5M142.15 176.5h1.5M146.65 176.5h1.5M155.55 176.5h1.5M160.55 176.5h1.5M169.45 176.5h1.5M176.95 176.5h1.5M182.45 176.5h1.5M194.85 176.5h1.5M202.25 176.5h1.5M204.75 176.5h1.5M229.65 176.5h1.5M252.45 176.5h1.5M257.45 176.5h1.5M269.35 176.5h1.5M274.85 176.5h1.5M275.85 176.5h1.5M282.85 176.5h1.5M285.75 176.5h1.5M286.25 176.5h1.5M290.25 176.5h1.5M301.65 176.5h1.5M307.15 176.5h1.5M308.65 176.5h1.5M312.65 176.5h1.5M314.15 176.5h1.5M316.55 176.5h1.5M317.05 176.5h1.5M317.55 176.5h1.5M318.05 176.5h1.5M319.05 176.5h1.5M319.55 176.5h1.5M320.05 176.5h1.5M322.05 176.5h1.5M322.55 176.5h1.5M325.05 176.5h1.5M325.55 176.5h1.5M326.05 176.5h1.5M327.05 176.5h1.5M327.55 176.5h1.5M329.05 176.5h1.5M331.05 176.5h1.5M332.55 176.5h1.5M332.95 176.5h1.5M334.95 176.5h1.5M335.45 176.5h1.5M336.45 176.5h1.5M337.45 176.5h1.5M340.95 176.5h1.5M341.45 176.5h1.5M342.45 176.5h1.5M346.45 176.5h1.5M350.85 176.5h1.5M351.35 176.5h1.5M355.85 176.5h1.5M358.35 176.5h1.5M359.35 176.5h1.5M365.85 176.5h1.5M368.25 176.5h1.5M373.25 176.5h1.5M376.25 176.5h1.5M382.65 176.5h1.5M384.15 176.5h1.5M388.65 176.5h1.5M392.15 176.5h1.5M392.65 176.5h1.5M397.65 176.5h1.5M403.05 176.5h1.5M412.05 176.5h1.5M423.95 176.5h1.5M447.85 176.5h1.5M449.25 176.5h1.5M449.75 176.5h1.5M451.25 176.5h1.5M459.75 176.5h1.5M477.15 176.5h1.5M488.55 176.5h1.5M496.05 176.5h1.5M518.85 176.5h1.5M521.35 176.5h1.5M538.25 176.5h1.5M539.75 176.5h1.5M540.75 176.5h1.5M541.25 176.5h1.5M543.75 176.5h1.5M557.65 176.5h1.5M563.65 176.5h1.5M93.45 179h1.5M118.75 179h1.5M130.25 179h1.5M134.65 179h1.5M146.65 179h1.5M157.55 179h1.5M160.55 179h1.5M172.45 179h1.5M175.95 179h1.5M191.35 179h1.5M196.35 179h1.5M198.35 179h1.5M204.75 179h1.5M206.75 179h1.5M213.75 179h1.5M239.05 179h1.5M245.55 179h1.5M250.45 179h1.5M254.95 179h1.5M262.45 179h1.5M264.95 179h1.5M270.35 179h1.5M272.35 179h1.5M272.85 179h1.5M276.35 179h1.5M278.35 179h1.5M290.25 179h1.5M300.15 179h1.5M303.65 179h1.5M306.65 179h1.5M307.65 179h1.5M308.65 179h1.5M311.15 179h1.5M313.15 179h1.5M315.65 179h1.5M316.15 179h1.5M316.55 179h1.5M317.05 179h1.5M317.55 179h1.5M318.55 179h1.5M321.05 179h1.5M323.05 179h1.5M323.55 179h1.5M324.05 179h1.5M324.55 179h1.5M326.05 179h1.5M327.05 179h1.5M327.55 179h1.5M328.55 179h1.5M329.05 179h1.5M330.55 179h1.5M331.05 179h1.5M334.45 179h1.5M335.45 179h1.5M335.95 179h1.5M337.95 179h1.5M338.95 179h1.5M339.95 179h1.5M340.95 179h1.5M342.95 179h1.5M343.95 179h1.5M350.35 179h1.5M350.85 179h1.5M373.25 179h1.5M374.25 179h1.5M382.65 179h1.5M390.15 179h1.5M395.65 179h1.5M401.05 179h1.5M408.55 179h1.5M409.55 179h1.5M411.55 179h1.5M415.95 179h1.5M430.95 179h1.5M437.85 179h1.5M447.35 179h1.5M454.75 179h1.5M467.15 179h1.5M472.15 179h1.5M478.65 179h1.5M505.95 179h1.5M508.45 179h1.5M520.35 179h1.5M527.35 179h1.5M529.35 179h1.5M533.25 179h1.5M537.75 179h1.5M560.15 179h1.5M564.65 179h1.5M104.85 181.6h1.5M109.35 181.6h1.5M114.85 181.6h1.5M123.25 181.6h1.5M127.25 181.6h1.5M133.25 181.6h1.5M148.15 181.6h1.5M169.95 181.6h1.5M174.95 181.6h1.5M180.95 181.6h1.5M212.75 181.6h1.5M213.75 181.6h1.5M219.65 181.6h1.5M223.15 181.6h1.5M258.45 181.6h1.5M281.35 181.6h1.5M287.75 181.6h1.5M291.25 181.6h1.5M293.25 181.6h1.5M295.75 181.6h1.5M299.25 181.6h1.5M300.65 181.6h1.5M305.15 181.6h1.5M306.65 181.6h1.5M307.65 181.6h1.5M310.65 181.6h1.5M313.65 181.6h1.5M314.15 181.6h1.5M315.65 181.6h1.5M316.15 181.6h1.5M316.55 181.6h1.5M317.55 181.6h1.5M318.55 181.6h1.5M320.05 181.6h1.5M321.05 181.6h1.5M322.55 181.6h1.5M323.05 181.6h1.5M323.55 181.6h1.5M324.05 181.6h1.5M325.05 181.6h1.5M326.05 181.6h1.5M328.55 181.6h1.5M329.05 181.6h1.5M330.55 181.6h1.5M331.05 181.6h1.5M331.55 181.6h1.5M332.05 181.6h1.5M332.95 181.6h1.5M333.45 181.6h1.5M338.45 181.6h1.5M339.95 181.6h1.5M341.45 181.6h1.5M344.95 181.6h1.5M345.95 181.6h1.5M358.35 181.6h1.5M363.85 181.6h1.5M365.35 181.6h1.5M366.75 181.6h1.5M372.75 181.6h1.5M379.75 181.6h1.5M380.75 181.6h1.5M401.05 181.6h1.5M405.05 181.6h1.5M411.55 181.6h1.5M412.05 181.6h1.5M413.05 181.6h1.5M414.55 181.6h1.5M438.35 181.6h1.5M453.25 181.6h1.5M456.25 181.6h1.5M458.75 181.6h1.5M465.65 181.6h1.5M480.15 181.6h1.5M493.55 181.6h1.5M503.45 181.6h1.5M505.95 181.6h1.5M515.85 181.6h1.5M521.35 181.6h1.5M523.85 181.6h1.5M533.75 181.6h1.5M534.25 181.6h1.5M538.25 181.6h1.5M540.25 181.6h1.5M543.25 181.6h1.5M547.75 181.6h1.5M548.65 181.6h1.5M558.65 181.6h1.5M559.15 181.6h1.5M565.55 181.6h1.5M79.55 184.1h1.5M80.05 184.1h1.5M84.45 184.1h1.5M101.85 184.1h1.5M139.15 184.1h1.5M150.15 184.1h1.5M152.55 184.1h1.5M155.55 184.1h1.5M162.55 184.1h1.5M167.45 184.1h1.5M192.35 184.1h1.5M192.85 184.1h1.5M193.85 184.1h1.5M194.85 184.1h1.5M195.85 184.1h1.5M201.25 184.1h1.5M205.75 184.1h1.5M209.25 184.1h1.5M227.65 184.1h1.5M239.55 184.1h1.5M240.05 184.1h1.5M248.05 184.1h1.5M253.45 184.1h1.5M258.45 184.1h1.5M267.85 184.1h1.5M286.75 184.1h1.5M289.25 184.1h1.5M299.65 184.1h1.5M302.65 184.1h1.5M305.65 184.1h1.5M310.65 184.1h1.5M313.15 184.1h1.5M313.65 184.1h1.5M314.65 184.1h1.5M315.15 184.1h1.5M316.15 184.1h1.5M316.55 184.1h1.5M317.05 184.1h1.5M319.05 184.1h1.5M321.05 184.1h1.5M322.05 184.1h1.5M323.05 184.1h1.5M323.55 184.1h1.5M324.05 184.1h1.5M326.05 184.1h1.5M326.55 184.1h1.5M327.05 184.1h1.5M328.55 184.1h1.5M329.05 184.1h1.5M332.55 184.1h1.5M333.45 184.1h1.5M334.95 184.1h1.5M337.95 184.1h1.5M339.45 184.1h1.5M339.95 184.1h1.5M340.45 184.1h1.5M340.95 184.1h1.5M341.95 184.1h1.5M343.95 184.1h1.5M346.45 184.1h1.5M347.45 184.1h1.5M350.35 184.1h1.5M350.85 184.1h1.5M354.85 184.1h1.5M359.35 184.1h1.5M362.35 184.1h1.5M362.85 184.1h1.5M363.35 184.1h1.5M374.25 184.1h1.5M381.75 184.1h1.5M383.15 184.1h1.5M384.15 184.1h1.5M405.55 184.1h1.5M408.05 184.1h1.5M411.55 184.1h1.5M412.55 184.1h1.5M426.95 184.1h1.5M431.45 184.1h1.5M440.35 184.1h1.5M445.85 184.1h1.5M450.25 184.1h1.5M470.15 184.1h1.5M486.55 184.1h1.5M494.05 184.1h1.5M495.05 184.1h1.5M503.45 184.1h1.5M508.95 184.1h1.5M526.85 184.1h1.5M530.35 184.1h1.5M530.85 184.1h1.5M536.25 184.1h1.5M550.15 184.1h1.5M552.65 184.1h1.5M85.95 186.7h1.5M88.95 186.7h1.5M99.45 186.7h1.5M103.35 186.7h1.5M121.75 186.7h1.5M123.25 186.7h1.5M143.15 186.7h1.5M148.15 186.7h1.5M151.05 186.7h1.5M153.05 186.7h1.5M157.55 186.7h1.5M164.05 186.7h1.5M168.45 186.7h1.5M193.85 186.7h1.5M199.35 186.7h1.5M229.15 186.7h1.5M242.05 186.7h1.5M248.55 186.7h1.5M250.95 186.7h1.5M257.45 186.7h1.5M259.45 186.7h1.5M266.85 186.7h1.5M267.85 186.7h1.5M276.35 186.7h1.5M283.75 186.7h1.5M284.25 186.7h1.5M286.75 186.7h1.5M292.75 186.7h1.5M294.75 186.7h1.5M300.15 186.7h1.5M300.65 186.7h1.5M301.15 186.7h1.5M305.15 186.7h1.5M316.15 186.7h1.5M318.05 186.7h1.5M318.55 186.7h1.5M319.05 186.7h1.5M320.05 186.7h1.5M321.55 186.7h1.5M322.55 186.7h1.5M323.05 186.7h1.5M324.55 186.7h1.5M325.05 186.7h1.5M325.55 186.7h1.5M326.05 186.7h1.5M327.55 186.7h1.5M328.05 186.7h1.5M329.05 186.7h1.5M330.05 186.7h1.5M330.55 186.7h1.5M332.05 186.7h1.5M333.45 186.7h1.5M334.45 186.7h1.5M334.95 186.7h1.5M336.45 186.7h1.5M337.95 186.7h1.5M338.45 186.7h1.5M338.95 186.7h1.5M342.95 186.7h1.5M343.95 186.7h1.5M346.45 186.7h1.5M348.95 186.7h1.5M350.85 186.7h1.5M353.85 186.7h1.5M359.35 186.7h1.5M361.35 186.7h1.5M368.75 186.7h1.5M370.75 186.7h1.5M373.75 186.7h1.5M381.25 186.7h1.5M385.15 186.7h1.5M388.65 186.7h1.5M390.65 186.7h1.5M414.05 186.7h1.5M418.45 186.7h1.5M435.35 186.7h1.5M439.85 186.7h1.5M462.25 186.7h1.5M463.75 186.7h1.5M481.65 186.7h1.5M483.05 186.7h1.5M492.05 186.7h1.5M493.05 186.7h1.5M497.05 186.7h1.5M503.95 186.7h1.5M517.35 186.7h1.5M534.25 186.7h1.5M538.75 186.7h1.5M542.25 186.7h1.5M544.75 186.7h1.5M548.25 186.7h1.5M548.65 186.7h1.5M555.65 186.7h1.5M83.05 189.2h1.5M93.45 189.2h1.5M106.85 189.2h1.5M108.35 189.2h1.5M114.35 189.2h1.5M133.25 189.2h1.5M140.15 189.2h1.5M141.65 189.2h1.5M150.15 189.2h1.5M153.55 189.2h1.5M156.55 189.2h1.5M157.55 189.2h1.5M204.25 189.2h1.5M210.75 189.2h1.5M230.15 189.2h1.5M236.55 189.2h1.5M238.55 189.2h1.5M244.05 189.2h1.5M246.55 189.2h1.5M248.05 189.2h1.5M255.45 189.2h1.5M257.95 189.2h1.5M276.35 189.2h1.5M280.35 189.2h1.5M281.85 189.2h1.5M294.25 189.2h1.5M298.25 189.2h1.5M298.75 189.2h1.5M305.65 189.2h1.5M306.65 189.2h1.5M315.15 189.2h1.5M315.65 189.2h1.5M316.15 189.2h1.5M316.55 189.2h1.5M318.05 189.2h1.5M320.55 189.2h1.5M323.05 189.2h1.5M324.55 189.2h1.5M325.05 189.2h1.5M325.55 189.2h1.5M326.05 189.2h1.5M326.55 189.2h1.5M327.55 189.2h1.5M328.05 189.2h1.5M328.55 189.2h1.5M329.55 189.2h1.5M330.05 189.2h1.5M332.05 189.2h1.5M334.95 189.2h1.5M335.45 189.2h1.5M335.95 189.2h1.5M336.95 189.2h1.5M337.95 189.2h1.5M341.45 189.2h1.5M341.95 189.2h1.5M345.45 189.2h1.5M346.95 189.2h1.5M347.45 189.2h1.5M347.95 189.2h1.5M350.35 189.2h1.5M353.85 189.2h1.5M358.85 189.2h1.5M360.85 189.2h1.5M370.75 189.2h1.5M373.75 189.2h1.5M383.65 189.2h1.5M390.65 189.2h1.5M392.65 189.2h1.5M402.05 189.2h1.5M406.05 189.2h1.5M413.05 189.2h1.5M425.45 189.2h1.5M429.95 189.2h1.5M430.45 189.2h1.5M433.85 189.2h1.5M437.35 189.2h1.5M438.85 189.2h1.5M448.35 189.2h1.5M454.75 189.2h1.5M489.55 189.2h1.5M496.05 189.2h1.5M499.95 189.2h1.5M504.45 189.2h1.5M518.85 189.2h1.5M520.35 189.2h1.5M524.35 189.2h1.5M531.75 189.2h1.5M534.75 189.2h1.5M544.75 189.2h1.5M545.25 189.2h1.5M553.65 189.2h1.5M568.55 189.2h1.5M89.45 191.8h1.5M91.95 191.8h1.5M93.95 191.8h1.5M101.85 191.8h1.5M112.85 191.8h1.5M120.25 191.8h1.5M120.75 191.8h1.5M127.75 191.8h1.5M130.25 191.8h1.5M131.25 191.8h1.5M138.65 191.8h1.5M145.65 191.8h1.5M165.05 191.8h1.5M167.95 191.8h1.5M173.45 191.8h1.5M185.35 191.8h1.5M185.85 191.8h1.5M191.85 191.8h1.5M199.35 191.8h1.5M210.25 191.8h1.5M218.65 191.8h1.5M219.15 191.8h1.5M222.15 191.8h1.5M223.65 191.8h1.5M232.65 191.8h1.5M238.55 191.8h1.5M244.55 191.8h1.5M249.05 191.8h1.5M253.95 191.8h1.5M256.95 191.8h1.5M273.85 191.8h1.5M276.35 191.8h1.5M279.35 191.8h1.5M280.85 191.8h1.5M281.85 191.8h1.5M282.35 191.8h1.5M292.25 191.8h1.5M296.25 191.8h1.5M298.25 191.8h1.5M305.15 191.8h1.5M307.15 191.8h1.5M307.65 191.8h1.5M311.15 191.8h1.5M311.65 191.8h1.5M314.15 191.8h1.5M315.15 191.8h1.5M319.55 191.8h1.5M320.55 191.8h1.5M321.05 191.8h1.5M321.55 191.8h1.5M322.05 191.8h1.5M322.55 191.8h1.5M323.55 191.8h1.5M324.55 191.8h1.5M325.55 191.8h1.5M326.05 191.8h1.5M326.55 191.8h1.5M328.55 191.8h1.5M330.55 191.8h1.5M331.55 191.8h1.5M332.95 191.8h1.5M333.95 191.8h1.5M334.95 191.8h1.5M335.95 191.8h1.5M336.45 191.8h1.5M337.45 191.8h1.5M337.95 191.8h1.5M338.45 191.8h1.5M340.45 191.8h1.5M340.95 191.8h1.5M341.95 191.8h1.5M342.45 191.8h1.5M344.95 191.8h1.5M349.45 191.8h1.5M350.35 191.8h1.5M355.85 191.8h1.5M357.35 191.8h1.5M358.35 191.8h1.5M360.35 191.8h1.5M360.85 191.8h1.5M373.25 191.8h1.5M376.75 191.8h1.5M385.65 191.8h1.5M388.65 191.8h1.5M390.65 191.8h1.5M394.65 191.8h1.5M416.95 191.8h1.5M439.35 191.8h1.5M444.35 191.8h1.5M458.75 191.8h1.5M472.15 191.8h1.5M476.65 191.8h1.5M477.65 191.8h1.5M485.05 191.8h1.5M497.05 191.8h1.5M505.95 191.8h1.5M507.45 191.8h1.5M516.35 191.8h1.5M517.35 191.8h1.5M519.85 191.8h1.5M533.75 191.8h1.5M534.25 191.8h1.5M539.25 191.8h1.5M542.25 191.8h1.5M544.75 191.8h1.5M560.65 191.8h1.5M568.05 191.8h1.5M100.85 194.3h1.5M129.25 194.3h1.5M131.75 194.3h1.5M145.65 194.3h1.5M150.15 194.3h1.5M157.55 194.3h1.5M173.95 194.3h1.5M180.95 194.3h1.5M183.85 194.3h1.5M185.85 194.3h1.5M199.85 194.3h1.5M203.75 194.3h1.5M204.75 194.3h1.5M212.25 194.3h1.5M220.65 194.3h1.5M223.65 194.3h1.5M224.65 194.3h1.5M236.55 194.3h1.5M241.05 194.3h1.5M241.55 194.3h1.5M260.95 194.3h1.5M269.35 194.3h1.5M271.35 194.3h1.5M273.35 194.3h1.5M274.85 194.3h1.5M280.35 194.3h1.5M281.35 194.3h1.5M283.25 194.3h1.5M287.75 194.3h1.5M293.25 194.3h1.5M295.75 194.3h1.5M296.75 194.3h1.5M301.65 194.3h1.5M304.65 194.3h1.5M307.15 194.3h1.5M312.65 194.3h1.5M314.15 194.3h1.5M315.15 194.3h1.5M315.65 194.3h1.5M317.05 194.3h1.5M317.55 194.3h1.5M319.55 194.3h1.5M320.05 194.3h1.5M320.55 194.3h1.5M322.05 194.3h1.5M322.55 194.3h1.5M323.55 194.3h1.5M325.05 194.3h1.5M325.55 194.3h1.5M326.55 194.3h1.5M327.55 194.3h1.5M328.05 194.3h1.5M329.05 194.3h1.5M329.55 194.3h1.5M330.05 194.3h1.5M331.05 194.3h1.5M331.55 194.3h1.5M332.95 194.3h1.5M334.45 194.3h1.5M336.95 194.3h1.5M337.45 194.3h1.5M339.95 194.3h1.5M341.45 194.3h1.5M341.95 194.3h1.5M342.95 194.3h1.5M343.45 194.3h1.5M345.45 194.3h1.5M349.45 194.3h1.5M350.35 194.3h1.5M352.85 194.3h1.5M356.85 194.3h1.5M357.35 194.3h1.5M358.85 194.3h1.5M363.85 194.3h1.5M365.85 194.3h1.5M366.75 194.3h1.5M369.25 194.3h1.5M380.75 194.3h1.5M384.15 194.3h1.5M385.65 194.3h1.5M392.15 194.3h1.5M393.65 194.3h1.5M398.65 194.3h1.5M404.05 194.3h1.5M407.55 194.3h1.5M425.95 194.3h1.5M444.35 194.3h1.5M446.35 194.3h1.5M451.75 194.3h1.5M453.75 194.3h1.5M477.65 194.3h1.5M478.15 194.3h1.5M504.45 194.3h1.5M514.95 194.3h1.5M515.35 194.3h1.5M523.35 194.3h1.5M539.25 194.3h1.5M544.25 194.3h1.5M546.75 194.3h1.5M551.65 194.3h1.5M552.65 194.3h1.5M558.65 194.3h1.5M560.15 194.3h1.5M561.65 194.3h1.5M564.65 194.3h1.5M108.85 196.8h1.5M110.85 196.8h1.5M114.35 196.8h1.5M115.85 196.8h1.5M126.25 196.8h1.5M153.55 196.8h1.5M166.05 196.8h1.5M176.45 196.8h1.5M202.75 196.8h1.5M204.75 196.8h1.5M209.75 196.8h1.5M210.75 196.8h1.5M215.25 196.8h1.5M219.15 196.8h1.5M240.55 196.8h1.5M244.05 196.8h1.5M251.95 196.8h1.5M255.45 196.8h1.5M257.45 196.8h1.5M258.45 196.8h1.5M259.95 196.8h1.5M276.85 196.8h1.5M278.85 196.8h1.5M280.35 196.8h1.5M284.25 196.8h1.5M286.25 196.8h1.5M293.25 196.8h1.5M293.75 196.8h1.5M298.75 196.8h1.5M305.15 196.8h1.5M307.15 196.8h1.5M312.65 196.8h1.5M314.65 196.8h1.5M317.55 196.8h1.5M319.55 196.8h1.5M320.55 196.8h1.5M321.05 196.8h1.5M321.55 196.8h1.5M323.55 196.8h1.5M324.05 196.8h1.5M324.55 196.8h1.5M325.55 196.8h1.5M326.05 196.8h1.5M326.55 196.8h1.5M327.05 196.8h1.5M329.05 196.8h1.5M329.55 196.8h1.5M332.95 196.8h1.5M333.45 196.8h1.5M333.95 196.8h1.5M334.45 196.8h1.5M334.95 196.8h1.5M335.95 196.8h1.5M336.45 196.8h1.5M338.45 196.8h1.5M339.45 196.8h1.5M342.45 196.8h1.5M343.45 196.8h1.5M343.95 196.8h1.5M344.45 196.8h1.5M347.95 196.8h1.5M348.45 196.8h1.5M349.45 196.8h1.5M366.25 196.8h1.5M366.75 196.8h1.5M372.25 196.8h1.5M377.75 196.8h1.5M381.75 196.8h1.5M382.65 196.8h1.5M384.15 196.8h1.5M401.55 196.8h1.5M404.55 196.8h1.5M405.05 196.8h1.5M406.55 196.8h1.5M411.55 196.8h1.5M414.05 196.8h1.5M419.95 196.8h1.5M424.95 196.8h1.5M428.95 196.8h1.5M442.35 196.8h1.5M451.25 196.8h1.5M456.25 196.8h1.5M459.25 196.8h1.5M473.15 196.8h1.5M507.45 196.8h1.5M529.85 196.8h1.5M530.35 196.8h1.5M533.25 196.8h1.5M544.75 196.8h1.5M549.15 196.8h1.5M78.55 199.4h1.5M87.45 199.4h1.5M112.35 199.4h1.5M126.75 199.4h1.5M136.15 199.4h1.5M138.65 199.4h1.5M142.15 199.4h1.5M145.15 199.4h1.5M154.05 199.4h1.5M171.95 199.4h1.5M174.95 199.4h1.5M184.85 199.4h1.5M189.85 199.4h1.5M192.35 199.4h1.5M193.35 199.4h1.5M201.25 199.4h1.5M209.75 199.4h1.5M210.25 199.4h1.5M215.75 199.4h1.5M232.15 199.4h1.5M232.65 199.4h1.5M233.15 199.4h1.5M244.55 199.4h1.5M245.05 199.4h1.5M250.95 199.4h1.5M256.45 199.4h1.5M261.45 199.4h1.5M271.85 199.4h1.5M274.35 199.4h1.5M276.85 199.4h1.5M290.75 199.4h1.5M292.25 199.4h1.5M298.25 199.4h1.5M301.15 199.4h1.5M306.15 199.4h1.5M306.65 199.4h1.5M307.65 199.4h1.5M309.15 199.4h1.5M309.65 199.4h1.5M311.65 199.4h1.5M312.15 199.4h1.5M313.15 199.4h1.5M314.15 199.4h1.5M315.15 199.4h1.5M318.05 199.4h1.5M318.55 199.4h1.5M319.05 199.4h1.5M319.55 199.4h1.5M322.05 199.4h1.5M322.55 199.4h1.5M323.55 199.4h1.5M324.05 199.4h1.5M325.05 199.4h1.5M325.55 199.4h1.5M326.05 199.4h1.5M327.05 199.4h1.5M328.05 199.4h1.5M329.05 199.4h1.5M330.05 199.4h1.5M331.05 199.4h1.5M332.05 199.4h1.5M332.55 199.4h1.5M332.95 199.4h1.5M333.45 199.4h1.5M335.95 199.4h1.5M337.45 199.4h1.5M337.95 199.4h1.5M338.45 199.4h1.5M338.95 199.4h1.5M339.45 199.4h1.5M341.45 199.4h1.5M342.45 199.4h1.5M353.85 199.4h1.5M354.85 199.4h1.5M357.35 199.4h1.5M358.35 199.4h1.5M367.75 199.4h1.5M394.65 199.4h1.5M405.05 199.4h1.5M406.05 199.4h1.5M407.55 199.4h1.5M408.05 199.4h1.5M412.55 199.4h1.5M420.95 199.4h1.5M422.45 199.4h1.5M424.45 199.4h1.5M437.85 199.4h1.5M440.35 199.4h1.5M446.35 199.4h1.5M470.65 199.4h1.5M475.15 199.4h1.5M484.05 199.4h1.5M489.05 199.4h1.5M490.05 199.4h1.5M498.45 199.4h1.5M504.95 199.4h1.5M526.35 199.4h1.5M529.85 199.4h1.5M534.25 199.4h1.5M550.15 199.4h1.5M553.15 199.4h1.5M561.15 199.4h1.5M565.55 199.4h1.5M84.95 201.9h1.5M88.95 201.9h1.5M107.35 201.9h1.5M122.25 201.9h1.5M126.25 201.9h1.5M127.25 201.9h1.5M130.75 201.9h1.5M142.65 201.9h1.5M153.05 201.9h1.5M153.55 201.9h1.5M155.55 201.9h1.5M157.05 201.9h1.5M158.05 201.9h1.5M163.05 201.9h1.5M179.95 201.9h1.5M182.45 201.9h1.5M190.35 201.9h1.5M195.35 201.9h1.5M203.25 201.9h1.5M214.25 201.9h1.5M220.15 201.9h1.5M221.15 201.9h1.5M224.15 201.9h1.5M234.05 201.9h1.5M236.55 201.9h1.5M238.05 201.9h1.5M240.05 201.9h1.5M250.05 201.9h1.5M259.95 201.9h1.5M269.35 201.9h1.5M270.35 201.9h1.5M279.35 201.9h1.5M282.85 201.9h1.5M284.75 201.9h1.5M285.25 201.9h1.5M289.25 201.9h1.5M292.75 201.9h1.5M294.25 201.9h1.5M296.75 201.9h1.5M297.75 201.9h1.5M300.15 201.9h1.5M301.15 201.9h1.5M302.15 201.9h1.5M304.15 201.9h1.5M307.15 201.9h1.5M307.65 201.9h1.5M308.15 201.9h1.5M309.65 201.9h1.5M311.65 201.9h1.5M313.15 201.9h1.5M317.05 201.9h1.5M320.05 201.9h1.5M320.55 201.9h1.5M321.05 201.9h1.5M321.55 201.9h1.5M323.05 201.9h1.5M323.55 201.9h1.5M324.05 201.9h1.5M324.55 201.9h1.5M326.05 201.9h1.5M327.05 201.9h1.5M328.05 201.9h1.5M328.55 201.9h1.5M329.05 201.9h1.5M331.55 201.9h1.5M332.55 201.9h1.5M333.45 201.9h1.5M334.95 201.9h1.5M335.45 201.9h1.5M335.95 201.9h1.5M338.45 201.9h1.5M340.45 201.9h1.5M341.95 201.9h1.5M342.45 201.9h1.5M343.45 201.9h1.5M345.45 201.9h1.5M348.95 201.9h1.5M353.85 201.9h1.5M362.85 201.9h1.5M365.85 201.9h1.5M373.25 201.9h1.5M375.25 201.9h1.5M390.15 201.9h1.5M413.05 201.9h1.5M431.45 201.9h1.5M437.35 201.9h1.5M462.75 201.9h1.5M486.55 201.9h1.5M498.05 201.9h1.5M508.95 201.9h1.5M531.35 201.9h1.5M531.75 201.9h1.5M535.75 201.9h1.5M539.75 201.9h1.5M543.25 201.9h1.5M570.05 201.9h1.5M91.95 204.5h1.5M95.95 204.5h1.5M103.35 204.5h1.5M105.85 204.5h1.5M110.35 204.5h1.5M118.75 204.5h1.5M119.75 204.5h1.5M127.75 204.5h1.5M136.65 204.5h1.5M140.15 204.5h1.5M145.15 204.5h1.5M148.15 204.5h1.5M151.05 204.5h1.5M158.55 204.5h1.5M166.55 204.5h1.5M169.45 204.5h1.5M220.15 204.5h1.5M223.65 204.5h1.5M229.15 204.5h1.5M233.55 204.5h1.5M242.55 204.5h1.5M248.55 204.5h1.5M256.45 204.5h1.5M257.45 204.5h1.5M260.45 204.5h1.5M265.45 204.5h1.5M269.85 204.5h1.5M277.85 204.5h1.5M279.85 204.5h1.5M280.85 204.5h1.5M282.85 204.5h1.5M285.75 204.5h1.5M287.75 204.5h1.5M290.25 204.5h1.5M294.25 204.5h1.5M301.65 204.5h1.5M305.65 204.5h1.5M310.15 204.5h1.5M310.65 204.5h1.5M311.15 204.5h1.5M312.65 204.5h1.5M315.65 204.5h1.5M316.15 204.5h1.5M317.55 204.5h1.5M318.55 204.5h1.5M319.55 204.5h1.5M320.05 204.5h1.5M321.55 204.5h1.5M322.05 204.5h1.5M323.55 204.5h1.5M324.05 204.5h1.5M326.05 204.5h1.5M327.05 204.5h1.5M327.55 204.5h1.5M328.05 204.5h1.5M328.55 204.5h1.5M329.05 204.5h1.5M329.55 204.5h1.5M330.05 204.5h1.5M330.55 204.5h1.5M332.05 204.5h1.5M332.95 204.5h1.5M333.45 204.5h1.5M334.45 204.5h1.5M334.95 204.5h1.5M335.45 204.5h1.5M335.95 204.5h1.5M336.45 204.5h1.5M338.45 204.5h1.5M338.95 204.5h1.5M339.45 204.5h1.5M343.45 204.5h1.5M344.95 204.5h1.5M347.95 204.5h1.5M351.85 204.5h1.5M356.35 204.5h1.5M358.85 204.5h1.5M362.35 204.5h1.5M364.85 204.5h1.5M366.25 204.5h1.5M371.75 204.5h1.5M375.75 204.5h1.5M377.25 204.5h1.5M379.25 204.5h1.5M382.65 204.5h1.5M385.15 204.5h1.5M386.65 204.5h1.5M387.65 204.5h1.5M396.65 204.5h1.5M417.45 204.5h1.5M425.45 204.5h1.5M432.85 204.5h1.5M447.35 204.5h1.5M449.25 204.5h1.5M457.25 204.5h1.5M462.25 204.5h1.5M472.15 204.5h1.5M497.55 204.5h1.5M498.05 204.5h1.5M526.35 204.5h1.5M545.75 204.5h1.5M548.65 204.5h1.5M557.15 204.5h1.5M562.15 204.5h1.5M563.65 204.5h1.5M83.05 207h1.5M86.45 207h1.5M108.35 207h1.5M109.35 207h1.5M117.75 207h1.5M118.25 207h1.5M120.75 207h1.5M141.15 207h1.5M170.45 207h1.5M170.95 207h1.5M184.35 207h1.5M186.85 207h1.5M189.35 207h1.5M190.35 207h1.5M192.35 207h1.5M212.25 207h1.5M224.15 207h1.5M225.65 207h1.5M228.65 207h1.5M229.65 207h1.5M232.15 207h1.5M245.05 207h1.5M248.55 207h1.5M253.45 207h1.5M256.45 207h1.5M261.45 207h1.5M272.35 207h1.5M272.85 207h1.5M276.35 207h1.5M277.35 207h1.5M283.75 207h1.5M286.75 207h1.5M292.75 207h1.5M294.25 207h1.5M299.25 207h1.5M299.65 207h1.5M300.65 207h1.5M301.65 207h1.5M309.65 207h1.5M311.15 207h1.5M312.15 207h1.5M314.15 207h1.5M314.65 207h1.5M315.15 207h1.5M316.15 207h1.5M316.55 207h1.5M317.55 207h1.5M318.05 207h1.5M319.55 207h1.5M320.05 207h1.5M323.55 207h1.5M325.55 207h1.5M326.55 207h1.5M327.55 207h1.5M329.05 207h1.5M329.55 207h1.5M331.05 207h1.5M332.05 207h1.5M333.95 207h1.5M334.95 207h1.5M335.95 207h1.5M337.45 207h1.5M337.95 207h1.5M338.45 207h1.5M344.95 207h1.5M349.45 207h1.5M352.85 207h1.5M358.85 207h1.5M361.85 207h1.5M364.85 207h1.5M366.25 207h1.5M370.25 207h1.5M374.25 207h1.5M376.75 207h1.5M381.75 207h1.5M382.25 207h1.5M384.15 207h1.5M391.15 207h1.5M392.65 207h1.5M395.15 207h1.5M398.65 207h1.5M415.05 207h1.5M418.45 207h1.5M434.85 207h1.5M441.85 207h1.5M443.35 207h1.5M449.25 207h1.5M458.75 207h1.5M460.75 207h1.5M464.75 207h1.5M466.15 207h1.5M474.65 207h1.5M482.05 207h1.5M493.05 207h1.5M494.05 207h1.5M499.95 207h1.5M515.85 207h1.5M520.85 207h1.5M535.25 207h1.5M546.25 207h1.5M563.15 207h1.5M95.45 209.6h1.5M107.35 209.6h1.5M149.15 209.6h1.5M164.55 209.6h1.5M179.45 209.6h1.5M180.45 209.6h1.5M193.35 209.6h1.5M193.85 209.6h1.5M198.85 209.6h1.5M215.25 209.6h1.5M218.15 209.6h1.5M224.15 209.6h1.5M231.15 209.6h1.5M235.05 209.6h1.5M238.05 209.6h1.5M256.45 209.6h1.5M276.35 209.6h1.5M276.85 209.6h1.5M278.35 209.6h1.5M279.35 209.6h1.5M282.85 209.6h1.5M287.25 209.6h1.5M288.25 209.6h1.5M289.25 209.6h1.5M289.75 209.6h1.5M292.25 209.6h1.5M294.75 209.6h1.5M296.25 209.6h1.5M300.65 209.6h1.5M308.65 209.6h1.5M309.15 209.6h1.5M309.65 209.6h1.5M312.15 209.6h1.5M312.65 209.6h1.5M314.65 209.6h1.5M315.65 209.6h1.5M316.15 209.6h1.5M317.05 209.6h1.5M317.55 209.6h1.5M318.55 209.6h1.5M321.05 209.6h1.5M324.55 209.6h1.5M325.55 209.6h1.5M328.55 209.6h1.5M329.05 209.6h1.5M330.05 209.6h1.5M331.55 209.6h1.5M334.95 209.6h1.5M335.45 209.6h1.5M339.45 209.6h1.5M342.45 209.6h1.5M343.45 209.6h1.5M345.95 209.6h1.5M349.85 209.6h1.5M352.35 209.6h1.5M353.35 209.6h1.5M367.25 209.6h1.5M369.75 209.6h1.5M370.75 209.6h1.5M371.25 209.6h1.5M372.75 209.6h1.5M377.75 209.6h1.5M380.25 209.6h1.5M386.15 209.6h1.5M410.55 209.6h1.5M415.05 209.6h1.5M416.45 209.6h1.5M417.45 209.6h1.5M418.45 209.6h1.5M424.95 209.6h1.5M438.85 209.6h1.5M450.75 209.6h1.5M454.25 209.6h1.5M474.65 209.6h1.5M498.05 209.6h1.5M511.95 209.6h1.5M512.45 209.6h1.5M523.85 209.6h1.5M528.85 209.6h1.5M532.75 209.6h1.5M539.75 209.6h1.5M547.25 209.6h1.5M549.65 209.6h1.5M570.55 209.6h1.5M80.05 212.1h1.5M82.05 212.1h1.5M96.95 212.1h1.5M106.35 212.1h1.5M109.85 212.1h1.5M132.25 212.1h1.5M155.05 212.1h1.5M160.55 212.1h1.5M169.95 212.1h1.5M174.45 212.1h1.5M193.35 212.1h1.5M214.75 212.1h1.5M217.15 212.1h1.5M219.65 212.1h1.5M220.65 212.1h1.5M222.15 212.1h1.5M226.15 212.1h1.5M236.05 212.1h1.5M246.55 212.1h1.5M248.05 212.1h1.5M250.45 212.1h1.5M259.95 212.1h1.5M260.95 212.1h1.5M261.95 212.1h1.5M264.45 212.1h1.5M270.85 212.1h1.5M290.75 212.1h1.5M294.75 212.1h1.5M296.75 212.1h1.5M297.25 212.1h1.5M299.25 212.1h1.5M300.65 212.1h1.5M312.65 212.1h1.5M315.15 212.1h1.5M317.55 212.1h1.5M318.05 212.1h1.5M319.05 212.1h1.5M319.55 212.1h1.5M320.55 212.1h1.5M322.55 212.1h1.5M323.55 212.1h1.5M325.55 212.1h1.5M326.05 212.1h1.5M330.05 212.1h1.5M331.55 212.1h1.5M332.05 212.1h1.5M332.95 212.1h1.5M333.45 212.1h1.5M336.95 212.1h1.5M337.95 212.1h1.5M338.95 212.1h1.5M339.45 212.1h1.5M340.45 212.1h1.5M340.95 212.1h1.5M341.95 212.1h1.5M342.45 212.1h1.5M342.95 212.1h1.5M344.45 212.1h1.5M346.45 212.1h1.5M350.85 212.1h1.5M352.85 212.1h1.5M353.85 212.1h1.5M360.85 212.1h1.5M368.25 212.1h1.5M369.75 212.1h1.5M373.75 212.1h1.5M374.25 212.1h1.5M389.15 212.1h1.5M389.65 212.1h1.5M390.65 212.1h1.5M401.05 212.1h1.5M403.55 212.1h1.5M411.55 212.1h1.5M415.95 212.1h1.5M417.95 212.1h1.5M420.95 212.1h1.5M442.35 212.1h1.5M444.35 212.1h1.5M469.15 212.1h1.5M474.15 212.1h1.5M476.65 212.1h1.5M479.15 212.1h1.5M488.05 212.1h1.5M497.05 212.1h1.5M504.95 212.1h1.5M508.95 212.1h1.5M517.35 212.1h1.5M520.85 212.1h1.5M530.85 212.1h1.5M547.25 212.1h1.5M550.15 212.1h1.5M556.15 212.1h1.5M562.15 212.1h1.5M562.65 212.1h1.5M79.55 214.6h1.5M82.05 214.6h1.5M88.45 214.6h1.5M96.95 214.6h1.5M119.75 214.6h1.5M124.75 214.6h1.5M125.25 214.6h1.5M128.25 214.6h1.5M132.25 214.6h1.5M138.65 214.6h1.5M139.15 214.6h1.5M153.55 214.6h1.5M155.55 214.6h1.5M159.05 214.6h1.5M169.45 214.6h1.5M194.35 214.6h1.5M194.85 214.6h1.5M198.35 214.6h1.5M209.25 214.6h1.5M216.25 214.6h1.5M221.65 214.6h1.5M223.15 214.6h1.5M224.65 214.6h1.5M226.15 214.6h1.5M229.65 214.6h1.5M230.15 214.6h1.5M253.95 214.6h1.5M264.95 214.6h1.5M269.35 214.6h1.5M278.85 214.6h1.5M282.35 214.6h1.5M297.25 214.6h1.5M298.25 214.6h1.5M299.25 214.6h1.5M300.65 214.6h1.5M304.15 214.6h1.5M307.65 214.6h1.5M308.15 214.6h1.5M308.65 214.6h1.5M309.15 214.6h1.5M310.15 214.6h1.5M310.65 214.6h1.5M311.15 214.6h1.5M312.15 214.6h1.5M312.65 214.6h1.5M313.65 214.6h1.5M314.65 214.6h1.5M315.15 214.6h1.5M318.05 214.6h1.5M319.05 214.6h1.5M319.55 214.6h1.5M320.55 214.6h1.5M322.55 214.6h1.5M323.55 214.6h1.5M324.55 214.6h1.5M325.55 214.6h1.5M326.05 214.6h1.5M326.55 214.6h1.5M327.55 214.6h1.5M329.55 214.6h1.5M330.05 214.6h1.5M332.55 214.6h1.5M332.95 214.6h1.5M334.95 214.6h1.5M335.45 214.6h1.5M335.95 214.6h1.5M336.45 214.6h1.5M337.45 214.6h1.5M337.95 214.6h1.5M338.95 214.6h1.5M340.95 214.6h1.5M343.45 214.6h1.5M346.45 214.6h1.5M347.45 214.6h1.5M359.85 214.6h1.5M365.85 214.6h1.5M368.75 214.6h1.5M369.75 214.6h1.5M375.75 214.6h1.5M394.65 214.6h1.5M406.05 214.6h1.5M408.05 214.6h1.5M410.05 214.6h1.5M421.95 214.6h1.5M424.95 214.6h1.5M429.45 214.6h1.5M430.95 214.6h1.5M447.85 214.6h1.5M450.75 214.6h1.5M451.75 214.6h1.5M463.25 214.6h1.5M472.15 214.6h1.5M475.65 214.6h1.5M485.05 214.6h1.5M491.05 214.6h1.5M493.05 214.6h1.5M495.55 214.6h1.5M508.45 214.6h1.5M511.95 214.6h1.5M528.85 214.6h1.5M535.75 214.6h1.5M536.75 214.6h1.5M546.25 214.6h1.5M549.65 214.6h1.5M80.05 217.2h1.5M81.55 217.2h1.5M84.45 217.2h1.5M86.45 217.2h1.5M92.95 217.2h1.5M103.35 217.2h1.5M105.85 217.2h1.5M115.85 217.2h1.5M117.35 217.2h1.5M122.25 217.2h1.5M130.25 217.2h1.5M151.05 217.2h1.5M163.55 217.2h1.5M164.05 217.2h1.5M171.95 217.2h1.5M181.95 217.2h1.5M188.85 217.2h1.5M201.25 217.2h1.5M203.75 217.2h1.5M206.25 217.2h1.5M216.75 217.2h1.5M217.15 217.2h1.5M218.15 217.2h1.5M219.65 217.2h1.5M220.15 217.2h1.5M230.15 217.2h1.5M249.05 217.2h1.5M251.45 217.2h1.5M252.45 217.2h1.5M253.45 217.2h1.5M257.45 217.2h1.5M267.85 217.2h1.5M275.35 217.2h1.5M277.85 217.2h1.5M280.35 217.2h1.5M280.85 217.2h1.5M281.85 217.2h1.5M284.75 217.2h1.5M285.25 217.2h1.5M291.75 217.2h1.5M294.25 217.2h1.5M300.65 217.2h1.5M301.65 217.2h1.5M302.65 217.2h1.5M303.15 217.2h1.5M311.65 217.2h1.5M315.15 217.2h1.5M316.55 217.2h1.5M317.05 217.2h1.5M318.55 217.2h1.5M319.05 217.2h1.5M319.55 217.2h1.5M320.05 217.2h1.5M321.05 217.2h1.5M321.55 217.2h1.5M322.05 217.2h1.5M322.55 217.2h1.5M324.05 217.2h1.5M324.55 217.2h1.5M325.05 217.2h1.5M325.55 217.2h1.5M327.55 217.2h1.5M328.05 217.2h1.5M328.55 217.2h1.5M329.05 217.2h1.5M330.55 217.2h1.5M333.45 217.2h1.5M334.95 217.2h1.5M336.95 217.2h1.5M337.45 217.2h1.5M337.95 217.2h1.5M339.45 217.2h1.5M341.95 217.2h1.5M342.45 217.2h1.5M342.95 217.2h1.5M343.45 217.2h1.5M343.95 217.2h1.5M344.45 217.2h1.5M346.45 217.2h1.5M346.95 217.2h1.5M358.85 217.2h1.5M360.85 217.2h1.5M367.25 217.2h1.5M380.25 217.2h1.5M384.65 217.2h1.5M389.15 217.2h1.5M395.65 217.2h1.5M414.05 217.2h1.5M418.45 217.2h1.5M419.95 217.2h1.5M429.45 217.2h1.5M432.35 217.2h1.5M433.85 217.2h1.5M443.85 217.2h1.5M454.75 217.2h1.5M509.45 217.2h1.5M522.85 217.2h1.5M530.85 217.2h1.5M534.75 217.2h1.5M546.75 217.2h1.5M548.25 217.2h1.5M80.55 219.7h1.5M81.55 219.7h1.5M93.95 219.7h1.5M100.45 219.7h1.5M105.85 219.7h1.5M110.85 219.7h1.5M118.25 219.7h1.5M129.25 219.7h1.5M145.65 219.7h1.5M159.55 219.7h1.5M175.45 219.7h1.5M185.35 219.7h1.5M192.35 219.7h1.5M192.85 219.7h1.5M206.25 219.7h1.5M209.25 219.7h1.5M217.65 219.7h1.5M219.15 219.7h1.5M228.65 219.7h1.5M244.05 219.7h1.5M250.45 219.7h1.5M253.45 219.7h1.5M282.85 219.7h1.5M283.75 219.7h1.5M285.25 219.7h1.5M287.75 219.7h1.5M288.25 219.7h1.5M290.25 219.7h1.5M292.75 219.7h1.5M294.25 219.7h1.5M295.25 219.7h1.5M300.65 219.7h1.5M305.15 219.7h1.5M307.15 219.7h1.5M307.65 219.7h1.5M309.65 219.7h1.5M311.15 219.7h1.5M317.05 219.7h1.5M318.55 219.7h1.5M319.05 219.7h1.5M319.55 219.7h1.5M320.55 219.7h1.5M322.05 219.7h1.5M323.05 219.7h1.5M326.05 219.7h1.5M326.55 219.7h1.5M327.05 219.7h1.5M327.55 219.7h1.5M329.05 219.7h1.5M331.05 219.7h1.5M332.55 219.7h1.5M334.45 219.7h1.5M337.45 219.7h1.5M340.45 219.7h1.5M340.95 219.7h1.5M346.45 219.7h1.5M351.85 219.7h1.5M357.85 219.7h1.5M359.35 219.7h1.5M365.35 219.7h1.5M375.25 219.7h1.5M395.15 219.7h1.5M403.05 219.7h1.5M406.05 219.7h1.5M415.95 219.7h1.5M416.45 219.7h1.5M421.95 219.7h1.5M423.45 219.7h1.5M444.35 219.7h1.5M448.35 219.7h1.5M451.75 219.7h1.5M453.75 219.7h1.5M459.25 219.7h1.5M465.25 219.7h1.5M466.65 219.7h1.5M469.15 219.7h1.5M482.55 219.7h1.5M486.55 219.7h1.5M491.05 219.7h1.5M493.05 219.7h1.5M499.95 219.7h1.5M502.95 219.7h1.5M509.45 219.7h1.5M510.45 219.7h1.5M520.35 219.7h1.5M521.35 219.7h1.5M526.35 219.7h1.5M533.25 219.7h1.5M534.25 219.7h1.5M540.25 219.7h1.5M545.75 219.7h1.5M550.15 219.7h1.5M79.05 222.3h1.5M79.55 222.3h1.5M97.95 222.3h1.5M99.45 222.3h1.5M111.35 222.3h1.5M117.35 222.3h1.5M127.25 222.3h1.5M128.25 222.3h1.5M138.15 222.3h1.5M141.65 222.3h1.5M144.65 222.3h1.5M167.95 222.3h1.5M179.45 222.3h1.5M180.45 222.3h1.5M180.95 222.3h1.5M182.95 222.3h1.5M185.35 222.3h1.5M192.35 222.3h1.5M233.15 222.3h1.5M241.05 222.3h1.5M249.05 222.3h1.5M255.45 222.3h1.5M256.45 222.3h1.5M261.45 222.3h1.5M273.35 222.3h1.5M281.85 222.3h1.5M287.25 222.3h1.5M288.75 222.3h1.5M290.75 222.3h1.5M293.25 222.3h1.5M294.25 222.3h1.5M295.75 222.3h1.5M305.65 222.3h1.5M308.15 222.3h1.5M309.15 222.3h1.5M309.65 222.3h1.5M311.15 222.3h1.5M317.05 222.3h1.5M319.05 222.3h1.5M322.55 222.3h1.5M323.55 222.3h1.5M324.05 222.3h1.5M328.55 222.3h1.5M332.55 222.3h1.5M333.45 222.3h1.5M333.95 222.3h1.5M335.45 222.3h1.5M337.95 222.3h1.5M338.45 222.3h1.5M338.95 222.3h1.5M340.45 222.3h1.5M341.45 222.3h1.5M341.95 222.3h1.5M342.45 222.3h1.5M343.45 222.3h1.5M352.35 222.3h1.5M354.85 222.3h1.5M356.85 222.3h1.5M365.85 222.3h1.5M371.75 222.3h1.5M375.75 222.3h1.5M379.75 222.3h1.5M382.25 222.3h1.5M384.65 222.3h1.5M393.15 222.3h1.5M404.55 222.3h1.5M409.05 222.3h1.5M414.55 222.3h1.5M415.05 222.3h1.5M424.45 222.3h1.5M432.35 222.3h1.5M462.25 222.3h1.5M464.25 222.3h1.5M467.65 222.3h1.5M475.15 222.3h1.5M479.15 222.3h1.5M483.55 222.3h1.5M487.05 222.3h1.5M488.05 222.3h1.5M492.05 222.3h1.5M545.75 222.3h1.5M549.15 222.3h1.5M554.65 222.3h1.5M561.15 222.3h1.5M566.05 222.3h1.5M79.05 224.8h1.5M83.05 224.8h1.5M86.45 224.8h1.5M98.95 224.8h1.5M104.35 224.8h1.5M120.75 224.8h1.5M121.75 224.8h1.5M124.75 224.8h1.5M126.75 224.8h1.5M128.25 224.8h1.5M131.75 224.8h1.5M152.05 224.8h1.5M170.95 224.8h1.5M172.45 224.8h1.5M175.45 224.8h1.5M177.95 224.8h1.5M187.85 224.8h1.5M198.85 224.8h1.5M204.25 224.8h1.5M209.25 224.8h1.5M220.65 224.8h1.5M221.15 224.8h1.5M236.55 224.8h1.5M239.55 224.8h1.5M249.55 224.8h1.5M250.45 224.8h1.5M265.45 224.8h1.5M266.85 224.8h1.5M267.35 224.8h1.5M270.85 224.8h1.5M274.85 224.8h1.5M280.85 224.8h1.5M289.25 224.8h1.5M291.25 224.8h1.5M293.25 224.8h1.5M300.15 224.8h1.5M302.15 224.8h1.5M305.65 224.8h1.5M306.15 224.8h1.5M306.65 224.8h1.5M310.15 224.8h1.5M310.65 224.8h1.5M311.15 224.8h1.5M312.65 224.8h1.5M315.65 224.8h1.5M316.15 224.8h1.5M317.05 224.8h1.5M317.55 224.8h1.5M319.05 224.8h1.5M322.55 224.8h1.5M323.05 224.8h1.5M323.55 224.8h1.5M324.05 224.8h1.5M325.05 224.8h1.5M325.55 224.8h1.5M326.05 224.8h1.5M329.05 224.8h1.5M329.55 224.8h1.5M331.05 224.8h1.5M331.55 224.8h1.5M332.55 224.8h1.5M333.45 224.8h1.5M335.45 224.8h1.5M336.95 224.8h1.5M337.45 224.8h1.5M339.45 224.8h1.5M341.45 224.8h1.5M341.95 224.8h1.5M347.45 224.8h1.5M349.45 224.8h1.5M358.85 224.8h1.5M360.35 224.8h1.5M362.85 224.8h1.5M376.25 224.8h1.5M391.65 224.8h1.5M399.55 224.8h1.5M406.05 224.8h1.5M413.55 224.8h1.5M422.45 224.8h1.5M423.45 224.8h1.5M431.45 224.8h1.5M434.35 224.8h1.5M436.35 224.8h1.5M448.85 224.8h1.5M457.75 224.8h1.5M464.25 224.8h1.5M467.65 224.8h1.5M470.15 224.8h1.5M472.15 224.8h1.5M480.15 224.8h1.5M508.95 224.8h1.5M516.85 224.8h1.5M542.25 224.8h1.5M548.25 224.8h1.5M557.65 224.8h1.5M565.05 224.8h1.5M566.55 224.8h1.5M86.95 227.3h1.5M93.45 227.3h1.5M95.45 227.3h1.5M114.35 227.3h1.5M121.25 227.3h1.5M136.15 227.3h1.5M152.55 227.3h1.5M159.05 227.3h1.5M175.45 227.3h1.5M182.45 227.3h1.5M182.95 227.3h1.5M198.85 227.3h1.5M203.25 227.3h1.5M208.25 227.3h1.5M212.25 227.3h1.5M212.75 227.3h1.5M219.65 227.3h1.5M223.15 227.3h1.5M225.15 227.3h1.5M228.65 227.3h1.5M247.05 227.3h1.5M251.95 227.3h1.5M272.85 227.3h1.5M275.35 227.3h1.5M280.35 227.3h1.5M285.25 227.3h1.5M289.75 227.3h1.5M292.75 227.3h1.5M293.75 227.3h1.5M294.25 227.3h1.5M297.75 227.3h1.5M298.25 227.3h1.5M300.65 227.3h1.5M303.15 227.3h1.5M306.15 227.3h1.5M312.15 227.3h1.5M313.15 227.3h1.5M314.65 227.3h1.5M315.15 227.3h1.5M316.15 227.3h1.5M317.55 227.3h1.5M318.55 227.3h1.5M319.55 227.3h1.5M320.05 227.3h1.5M322.05 227.3h1.5M322.55 227.3h1.5M323.05 227.3h1.5M325.05 227.3h1.5M326.05 227.3h1.5M326.55 227.3h1.5M327.05 227.3h1.5M328.05 227.3h1.5M330.05 227.3h1.5M331.05 227.3h1.5M332.05 227.3h1.5M333.45 227.3h1.5M333.95 227.3h1.5M336.95 227.3h1.5M337.45 227.3h1.5M339.45 227.3h1.5M340.95 227.3h1.5M341.95 227.3h1.5M345.45 227.3h1.5M351.85 227.3h1.5M356.85 227.3h1.5M359.85 227.3h1.5M361.85 227.3h1.5M365.85 227.3h1.5M368.75 227.3h1.5M385.15 227.3h1.5M401.05 227.3h1.5M405.55 227.3h1.5M409.05 227.3h1.5M409.55 227.3h1.5M423.45 227.3h1.5M427.95 227.3h1.5M434.35 227.3h1.5M458.75 227.3h1.5M470.65 227.3h1.5M471.65 227.3h1.5M479.15 227.3h1.5M481.15 227.3h1.5M481.65 227.3h1.5M498.45 227.3h1.5M501.95 227.3h1.5M503.45 227.3h1.5M504.45 227.3h1.5M524.85 227.3h1.5M532.75 227.3h1.5M542.75 227.3h1.5M544.75 227.3h1.5M108.85 229.9h1.5M119.25 229.9h1.5M129.75 229.9h1.5M135.65 229.9h1.5M145.65 229.9h1.5M160.55 229.9h1.5M171.95 229.9h1.5M172.95 229.9h1.5M177.45 229.9h1.5M184.85 229.9h1.5M189.85 229.9h1.5M194.85 229.9h1.5M214.75 229.9h1.5M217.65 229.9h1.5M234.05 229.9h1.5M237.05 229.9h1.5M238.05 229.9h1.5M239.05 229.9h1.5M256.95 229.9h1.5M262.95 229.9h1.5M267.35 229.9h1.5M271.85 229.9h1.5M279.85 229.9h1.5M282.85 229.9h1.5M283.75 229.9h1.5M292.75 229.9h1.5M297.25 229.9h1.5M307.65 229.9h1.5M313.15 229.9h1.5M315.15 229.9h1.5M315.65 229.9h1.5M316.15 229.9h1.5M319.05 229.9h1.5M320.55 229.9h1.5M321.05 229.9h1.5M322.55 229.9h1.5M323.05 229.9h1.5M323.55 229.9h1.5M326.05 229.9h1.5M326.55 229.9h1.5M328.55 229.9h1.5M329.05 229.9h1.5M330.05 229.9h1.5M331.05 229.9h1.5M331.55 229.9h1.5M336.45 229.9h1.5M338.45 229.9h1.5M339.95 229.9h1.5M340.95 229.9h1.5M347.45 229.9h1.5M353.35 229.9h1.5M355.35 229.9h1.5M357.35 229.9h1.5M358.35 229.9h1.5M360.85 229.9h1.5M362.85 229.9h1.5M370.25 229.9h1.5M377.25 229.9h1.5M383.65 229.9h1.5M385.65 229.9h1.5M386.15 229.9h1.5M390.15 229.9h1.5M392.65 229.9h1.5M398.65 229.9h1.5M410.05 229.9h1.5M417.95 229.9h1.5M423.95 229.9h1.5M424.45 229.9h1.5M429.45 229.9h1.5M434.85 229.9h1.5M439.85 229.9h1.5M443.35 229.9h1.5M445.85 229.9h1.5M452.25 229.9h1.5M461.75 229.9h1.5M463.25 229.9h1.5M468.65 229.9h1.5M471.65 229.9h1.5M472.15 229.9h1.5M479.15 229.9h1.5M484.55 229.9h1.5M486.55 229.9h1.5M490.55 229.9h1.5M492.05 229.9h1.5M498.05 229.9h1.5M499.95 229.9h1.5M507.45 229.9h1.5M510.95 229.9h1.5M542.25 229.9h1.5M547.25 229.9h1.5M554.65 229.9h1.5M556.65 229.9h1.5M557.65 229.9h1.5M559.15 229.9h1.5M559.65 229.9h1.5M564.15 229.9h1.5M565.05 229.9h1.5M569.05 229.9h1.5M569.55 229.9h1.5M100.45 232.4h1.5M119.75 232.4h1.5M121.75 232.4h1.5M123.25 232.4h1.5M138.65 232.4h1.5M149.15 232.4h1.5M153.05 232.4h1.5M161.55 232.4h1.5M163.55 232.4h1.5M171.95 232.4h1.5M189.35 232.4h1.5M194.85 232.4h1.5M200.75 232.4h1.5M206.25 232.4h1.5M211.25 232.4h1.5M218.15 232.4h1.5M235.55 232.4h1.5M243.55 232.4h1.5M244.55 232.4h1.5M254.45 232.4h1.5M255.95 232.4h1.5M256.45 232.4h1.5M260.45 232.4h1.5M268.35 232.4h1.5M274.35 232.4h1.5M274.85 232.4h1.5M278.85 232.4h1.5M279.35 232.4h1.5M281.35 232.4h1.5M290.75 232.4h1.5M291.25 232.4h1.5M299.25 232.4h1.5M299.65 232.4h1.5M300.15 232.4h1.5M301.15 232.4h1.5M307.65 232.4h1.5M308.15 232.4h1.5M308.65 232.4h1.5M310.65 232.4h1.5M314.15 232.4h1.5M316.55 232.4h1.5M317.05 232.4h1.5M317.55 232.4h1.5M319.05 232.4h1.5M320.05 232.4h1.5M324.05 232.4h1.5M326.05 232.4h1.5M327.05 232.4h1.5M329.05 232.4h1.5M329.55 232.4h1.5M330.05 232.4h1.5M330.55 232.4h1.5M331.55 232.4h1.5M332.55 232.4h1.5M333.95 232.4h1.5M334.45 232.4h1.5M335.45 232.4h1.5M335.95 232.4h1.5M336.45 232.4h1.5M337.95 232.4h1.5M338.45 232.4h1.5M338.95 232.4h1.5M340.45 232.4h1.5M342.45 232.4h1.5M343.95 232.4h1.5M345.45 232.4h1.5M351.35 232.4h1.5M352.85 232.4h1.5M359.35 232.4h1.5M365.85 232.4h1.5M367.75 232.4h1.5M371.25 232.4h1.5M373.75 232.4h1.5M384.65 232.4h1.5M390.65 232.4h1.5M402.55 232.4h1.5M408.55 232.4h1.5M412.05 232.4h1.5M415.55 232.4h1.5M432.85 232.4h1.5M439.85 232.4h1.5M468.65 232.4h1.5M471.65 232.4h1.5M489.05 232.4h1.5M503.95 232.4h1.5M512.45 232.4h1.5M525.35 232.4h1.5M534.25 232.4h1.5M538.25 232.4h1.5M547.25 232.4h1.5M548.65 232.4h1.5M555.65 232.4h1.5M559.15 232.4h1.5M560.65 232.4h1.5M561.15 232.4h1.5M79.05 235h1.5M90.45 235h1.5M90.95 235h1.5M92.95 235h1.5M96.95 235h1.5M99.95 235h1.5M108.35 235h1.5M113.35 235h1.5M143.15 235h1.5M150.65 235h1.5M155.55 235h1.5M162.55 235h1.5M169.95 235h1.5M171.95 235h1.5M182.95 235h1.5M189.85 235h1.5M192.35 235h1.5M197.35 235h1.5M203.75 235h1.5M213.75 235h1.5M219.15 235h1.5M228.65 235h1.5M235.55 235h1.5M245.05 235h1.5M246.05 235h1.5M255.45 235h1.5M260.45 235h1.5M267.35 235h1.5M283.25 235h1.5M285.25 235h1.5M291.25 235h1.5M291.75 235h1.5M295.25 235h1.5M295.75 235h1.5M299.65 235h1.5M300.65 235h1.5M301.65 235h1.5M306.65 235h1.5M308.65 235h1.5M313.15 235h1.5M314.15 235h1.5M316.55 235h1.5M318.05 235h1.5M322.05 235h1.5M323.55 235h1.5M324.05 235h1.5M325.05 235h1.5M325.55 235h1.5M327.05 235h1.5M328.05 235h1.5M329.05 235h1.5M330.05 235h1.5M330.55 235h1.5M331.05 235h1.5M331.55 235h1.5M332.05 235h1.5M339.45 235h1.5M340.95 235h1.5M341.95 235h1.5M347.95 235h1.5M349.45 235h1.5M357.35 235h1.5M363.85 235h1.5M365.35 235h1.5M374.75 235h1.5M379.25 235h1.5M381.75 235h1.5M384.15 235h1.5M389.15 235h1.5M389.65 235h1.5M392.15 235h1.5M399.05 235h1.5M401.55 235h1.5M403.05 235h1.5M404.05 235h1.5M407.05 235h1.5M408.05 235h1.5M409.05 235h1.5M413.55 235h1.5M417.95 235h1.5M445.85 235h1.5M453.75 235h1.5M455.25 235h1.5M466.15 235h1.5M473.15 235h1.5M478.65 235h1.5M487.55 235h1.5M499.45 235h1.5M511.95 235h1.5M517.85 235h1.5M530.85 235h1.5M536.75 235h1.5M555.15 235h1.5M568.55 235h1.5M80.55 237.5h1.5M88.45 237.5h1.5M114.85 237.5h1.5M121.25 237.5h1.5M125.25 237.5h1.5M147.65 237.5h1.5M149.65 237.5h1.5M158.05 237.5h1.5M167.95 237.5h1.5M169.95 237.5h1.5M179.95 237.5h1.5M180.45 237.5h1.5M222.65 237.5h1.5M240.55 237.5h1.5M245.05 237.5h1.5M255.95 237.5h1.5M263.45 237.5h1.5M264.95 237.5h1.5M270.35 237.5h1.5M271.85 237.5h1.5M287.75 237.5h1.5M288.25 237.5h1.5M296.25 237.5h1.5M301.65 237.5h1.5M304.65 237.5h1.5M305.65 237.5h1.5M306.65 237.5h1.5M308.15 237.5h1.5M309.15 237.5h1.5M309.65 237.5h1.5M310.65 237.5h1.5M311.65 237.5h1.5M314.65 237.5h1.5M316.15 237.5h1.5M317.05 237.5h1.5M317.55 237.5h1.5M321.05 237.5h1.5M321.55 237.5h1.5M322.05 237.5h1.5M322.55 237.5h1.5M323.05 237.5h1.5M323.55 237.5h1.5M324.05 237.5h1.5M325.05 237.5h1.5M326.05 237.5h1.5M326.55 237.5h1.5M327.05 237.5h1.5M328.05 237.5h1.5M330.05 237.5h1.5M331.55 237.5h1.5M332.95 237.5h1.5M333.45 237.5h1.5M333.95 237.5h1.5M334.95 237.5h1.5M335.45 237.5h1.5M336.45 237.5h1.5M339.45 237.5h1.5M342.45 237.5h1.5M342.95 237.5h1.5M348.95 237.5h1.5M352.35 237.5h1.5M354.35 237.5h1.5M355.85 237.5h1.5M366.75 237.5h1.5M369.25 237.5h1.5M372.75 237.5h1.5M375.75 237.5h1.5M377.75 237.5h1.5M378.75 237.5h1.5M382.25 237.5h1.5M397.15 237.5h1.5M398.65 237.5h1.5M404.05 237.5h1.5M414.05 237.5h1.5M417.95 237.5h1.5M422.95 237.5h1.5M425.45 237.5h1.5M431.45 237.5h1.5M457.25 237.5h1.5M462.75 237.5h1.5M465.25 237.5h1.5M477.65 237.5h1.5M487.55 237.5h1.5M488.55 237.5h1.5M493.55 237.5h1.5M496.55 237.5h1.5M503.45 237.5h1.5M504.95 237.5h1.5M518.35 237.5h1.5M519.35 237.5h1.5M519.85 237.5h1.5M524.35 237.5h1.5M525.35 237.5h1.5M531.75 237.5h1.5M535.25 237.5h1.5M550.15 237.5h1.5M553.15 237.5h1.5M555.65 237.5h1.5M563.15 237.5h1.5M566.05 237.5h1.5M82.05 240.1h1.5M84.95 240.1h1.5M92.45 240.1h1.5M93.95 240.1h1.5M97.45 240.1h1.5M105.85 240.1h1.5M108.85 240.1h1.5M115.35 240.1h1.5M119.25 240.1h1.5M126.25 240.1h1.5M126.75 240.1h1.5M127.75 240.1h1.5M144.65 240.1h1.5M157.55 240.1h1.5M166.05 240.1h1.5M167.05 240.1h1.5M171.95 240.1h1.5M175.95 240.1h1.5M182.95 240.1h1.5M202.75 240.1h1.5M210.25 240.1h1.5M226.15 240.1h1.5M227.15 240.1h1.5M237.05 240.1h1.5M244.05 240.1h1.5M251.95 240.1h1.5M253.95 240.1h1.5M256.95 240.1h1.5M263.95 240.1h1.5M268.35 240.1h1.5M268.85 240.1h1.5M269.35 240.1h1.5M273.35 240.1h1.5M281.35 240.1h1.5M284.75 240.1h1.5M286.25 240.1h1.5M286.75 240.1h1.5M287.25 240.1h1.5M287.75 240.1h1.5M294.75 240.1h1.5M295.25 240.1h1.5M298.25 240.1h1.5M303.65 240.1h1.5M305.15 240.1h1.5M308.15 240.1h1.5M310.65 240.1h1.5M311.15 240.1h1.5M311.65 240.1h1.5M317.05 240.1h1.5M317.55 240.1h1.5M318.05 240.1h1.5M318.55 240.1h1.5M319.05 240.1h1.5M319.55 240.1h1.5M320.55 240.1h1.5M322.55 240.1h1.5M323.55 240.1h1.5M324.05 240.1h1.5M324.55 240.1h1.5M325.55 240.1h1.5M326.55 240.1h1.5M327.05 240.1h1.5M328.55 240.1h1.5M329.05 240.1h1.5M329.55 240.1h1.5M330.05 240.1h1.5M330.55 240.1h1.5M331.05 240.1h1.5M332.05 240.1h1.5M336.45 240.1h1.5M336.95 240.1h1.5M337.45 240.1h1.5M343.45 240.1h1.5M344.45 240.1h1.5M347.95 240.1h1.5M348.45 240.1h1.5M348.95 240.1h1.5M349.85 240.1h1.5M361.35 240.1h1.5M364.85 240.1h1.5M369.75 240.1h1.5M384.65 240.1h1.5M397.65 240.1h1.5M401.55 240.1h1.5M420.95 240.1h1.5M421.45 240.1h1.5M433.85 240.1h1.5M446.85 240.1h1.5M448.35 240.1h1.5M456.25 240.1h1.5M463.75 240.1h1.5M469.65 240.1h1.5M475.65 240.1h1.5M477.15 240.1h1.5M486.05 240.1h1.5M491.55 240.1h1.5M501.95 240.1h1.5M506.45 240.1h1.5M511.95 240.1h1.5M512.95 240.1h1.5M522.35 240.1h1.5M539.75 240.1h1.5M549.15 240.1h1.5M549.65 240.1h1.5M79.55 242.6h1.5M80.05 242.6h1.5M85.45 242.6h1.5M90.45 242.6h1.5M95.95 242.6h1.5M101.35 242.6h1.5M107.35 242.6h1.5M113.85 242.6h1.5M114.35 242.6h1.5M134.15 242.6h1.5M144.65 242.6h1.5M154.55 242.6h1.5M159.05 242.6h1.5M160.55 242.6h1.5M166.55 242.6h1.5M175.95 242.6h1.5M183.85 242.6h1.5M192.35 242.6h1.5M208.25 242.6h1.5M223.15 242.6h1.5M228.15 242.6h1.5M228.65 242.6h1.5M237.05 242.6h1.5M245.05 242.6h1.5M250.45 242.6h1.5M252.95 242.6h1.5M256.95 242.6h1.5M274.85 242.6h1.5M276.35 242.6h1.5M283.75 242.6h1.5M289.75 242.6h1.5M290.75 242.6h1.5M292.25 242.6h1.5M298.25 242.6h1.5M305.65 242.6h1.5M310.65 242.6h1.5M311.65 242.6h1.5M313.15 242.6h1.5M313.65 242.6h1.5M314.15 242.6h1.5M316.15 242.6h1.5M322.05 242.6h1.5M323.05 242.6h1.5M324.55 242.6h1.5M325.55 242.6h1.5M326.05 242.6h1.5M326.55 242.6h1.5M327.05 242.6h1.5M327.55 242.6h1.5M328.05 242.6h1.5M329.55 242.6h1.5M332.05 242.6h1.5M332.95 242.6h1.5M335.45 242.6h1.5M336.45 242.6h1.5M336.95 242.6h1.5M337.45 242.6h1.5M338.45 242.6h1.5M339.45 242.6h1.5M339.95 242.6h1.5M342.95 242.6h1.5M345.95 242.6h1.5M347.45 242.6h1.5M349.45 242.6h1.5M358.85 242.6h1.5M361.85 242.6h1.5M363.35 242.6h1.5M363.85 242.6h1.5M373.25 242.6h1.5M374.25 242.6h1.5M376.25 242.6h1.5M376.75 242.6h1.5M377.25 242.6h1.5M395.65 242.6h1.5M397.15 242.6h1.5M397.65 242.6h1.5M402.05 242.6h1.5M415.05 242.6h1.5M419.95 242.6h1.5M422.95 242.6h1.5M426.95 242.6h1.5M427.45 242.6h1.5M447.35 242.6h1.5M451.25 242.6h1.5M456.25 242.6h1.5M457.75 242.6h1.5M461.75 242.6h1.5M491.55 242.6h1.5M495.05 242.6h1.5M495.55 242.6h1.5M503.45 242.6h1.5M518.85 242.6h1.5M525.35 242.6h1.5M535.75 242.6h1.5M555.15 242.6h1.5M558.15 242.6h1.5M560.15 242.6h1.5M561.65 242.6h1.5M564.65 242.6h1.5M79.05 245.1h1.5M85.95 245.1h1.5M97.45 245.1h1.5M102.85 245.1h1.5M107.35 245.1h1.5M108.85 245.1h1.5M112.85 245.1h1.5M113.35 245.1h1.5M116.35 245.1h1.5M120.75 245.1h1.5M125.75 245.1h1.5M126.75 245.1h1.5M135.15 245.1h1.5M137.15 245.1h1.5M156.05 245.1h1.5M161.05 245.1h1.5M166.05 245.1h1.5M170.45 245.1h1.5M172.95 245.1h1.5M196.85 245.1h1.5M199.35 245.1h1.5M212.75 245.1h1.5M224.65 245.1h1.5M236.05 245.1h1.5M237.55 245.1h1.5M240.05 245.1h1.5M240.55 245.1h1.5M250.45 245.1h1.5M258.95 245.1h1.5M272.35 245.1h1.5M278.35 245.1h1.5M280.85 245.1h1.5M288.75 245.1h1.5M289.75 245.1h1.5M295.25 245.1h1.5M301.65 245.1h1.5M303.15 245.1h1.5M303.65 245.1h1.5M308.15 245.1h1.5M309.65 245.1h1.5M312.15 245.1h1.5M312.65 245.1h1.5M315.15 245.1h1.5M316.55 245.1h1.5M317.05 245.1h1.5M318.05 245.1h1.5M318.55 245.1h1.5M324.05 245.1h1.5M325.55 245.1h1.5M328.05 245.1h1.5M330.55 245.1h1.5M332.05 245.1h1.5M332.55 245.1h1.5M334.95 245.1h1.5M335.45 245.1h1.5M336.95 245.1h1.5M342.95 245.1h1.5M344.45 245.1h1.5M346.45 245.1h1.5M346.95 245.1h1.5M348.95 245.1h1.5M349.45 245.1h1.5M349.85 245.1h1.5M350.35 245.1h1.5M351.85 245.1h1.5M354.85 245.1h1.5M363.85 245.1h1.5M366.25 245.1h1.5M369.75 245.1h1.5M379.25 245.1h1.5M383.65 245.1h1.5M385.65 245.1h1.5M393.15 245.1h1.5M407.05 245.1h1.5M416.45 245.1h1.5M423.45 245.1h1.5M423.95 245.1h1.5M439.85 245.1h1.5M452.75 245.1h1.5M455.75 245.1h1.5M481.15 245.1h1.5M482.55 245.1h1.5M494.05 245.1h1.5M503.95 245.1h1.5M514.95 245.1h1.5M519.35 245.1h1.5M536.25 245.1h1.5M538.25 245.1h1.5M540.25 245.1h1.5M546.75 245.1h1.5M547.75 245.1h1.5M568.05 245.1h1.5M103.35 247.7h1.5M113.35 247.7h1.5M124.25 247.7h1.5M132.25 247.7h1.5M137.15 247.7h1.5M140.65 247.7h1.5M141.65 247.7h1.5M145.65 247.7h1.5M153.05 247.7h1.5M167.05 247.7h1.5M167.45 247.7h1.5M188.85 247.7h1.5M189.35 247.7h1.5M194.85 247.7h1.5M200.25 247.7h1.5M219.15 247.7h1.5M250.95 247.7h1.5M252.95 247.7h1.5M256.95 247.7h1.5M260.45 247.7h1.5M297.75 247.7h1.5M299.25 247.7h1.5M304.15 247.7h1.5M305.15 247.7h1.5M305.65 247.7h1.5M307.65 247.7h1.5M314.15 247.7h1.5M316.55 247.7h1.5M317.05 247.7h1.5M317.55 247.7h1.5M321.05 247.7h1.5M321.55 247.7h1.5M322.55 247.7h1.5M323.05 247.7h1.5M323.55 247.7h1.5M324.05 247.7h1.5M324.55 247.7h1.5M331.05 247.7h1.5M334.95 247.7h1.5M336.95 247.7h1.5M338.45 247.7h1.5M338.95 247.7h1.5M343.95 247.7h1.5M346.95 247.7h1.5M353.35 247.7h1.5M360.35 247.7h1.5M379.75 247.7h1.5M380.25 247.7h1.5M390.15 247.7h1.5M396.15 247.7h1.5M405.55 247.7h1.5M409.55 247.7h1.5M414.05 247.7h1.5M425.95 247.7h1.5M433.35 247.7h1.5M436.85 247.7h1.5M441.35 247.7h1.5M444.35 247.7h1.5M445.35 247.7h1.5M446.35 247.7h1.5M453.25 247.7h1.5M462.25 247.7h1.5M464.75 247.7h1.5M478.65 247.7h1.5M497.55 247.7h1.5M498.95 247.7h1.5M502.95 247.7h1.5M513.95 247.7h1.5M522.35 247.7h1.5M535.25 247.7h1.5M536.25 247.7h1.5M542.25 247.7h1.5M558.15 247.7h1.5M85.45 250.2h1.5M87.45 250.2h1.5M102.85 250.2h1.5M104.35 250.2h1.5M112.35 250.2h1.5M145.15 250.2h1.5M145.65 250.2h1.5M165.55 250.2h1.5M168.45 250.2h1.5M171.45 250.2h1.5M184.35 250.2h1.5M204.75 250.2h1.5M209.75 250.2h1.5M217.15 250.2h1.5M219.65 250.2h1.5M225.65 250.2h1.5M261.95 250.2h1.5M279.85 250.2h1.5M284.25 250.2h1.5M288.75 250.2h1.5M300.15 250.2h1.5M302.65 250.2h1.5M305.15 250.2h1.5M311.65 250.2h1.5M312.65 250.2h1.5M313.15 250.2h1.5M315.15 250.2h1.5M316.15 250.2h1.5M317.05 250.2h1.5M319.55 250.2h1.5M320.55 250.2h1.5M321.05 250.2h1.5M324.55 250.2h1.5M326.05 250.2h1.5M326.55 250.2h1.5M327.05 250.2h1.5M328.05 250.2h1.5M329.05 250.2h1.5M330.05 250.2h1.5M333.45 250.2h1.5M336.45 250.2h1.5M336.95 250.2h1.5M337.95 250.2h1.5M338.95 250.2h1.5M339.45 250.2h1.5M340.45 250.2h1.5M342.95 250.2h1.5M343.45 250.2h1.5M347.45 250.2h1.5M347.95 250.2h1.5M349.45 250.2h1.5M356.35 250.2h1.5M357.35 250.2h1.5M363.35 250.2h1.5M371.75 250.2h1.5M382.65 250.2h1.5M384.65 250.2h1.5M386.65 250.2h1.5M393.15 250.2h1.5M394.65 250.2h1.5M402.05 250.2h1.5M409.05 250.2h1.5M422.95 250.2h1.5M424.45 250.2h1.5M441.35 250.2h1.5M443.35 250.2h1.5M455.25 250.2h1.5M455.75 250.2h1.5M457.25 250.2h1.5M463.25 250.2h1.5M465.65 250.2h1.5M479.15 250.2h1.5M480.15 250.2h1.5M490.55 250.2h1.5M505.95 250.2h1.5M519.85 250.2h1.5M526.35 250.2h1.5M558.65 250.2h1.5M559.15 250.2h1.5M560.65 250.2h1.5M565.05 250.2h1.5M565.55 250.2h1.5M79.05 252.8h1.5M91.95 252.8h1.5M112.85 252.8h1.5M125.25 252.8h1.5M134.65 252.8h1.5M142.65 252.8h1.5M143.15 252.8h1.5M145.15 252.8h1.5M155.55 252.8h1.5M160.55 252.8h1.5M162.55 252.8h1.5M172.45 252.8h1.5M173.95 252.8h1.5M176.45 252.8h1.5M177.45 252.8h1.5M178.95 252.8h1.5M191.35 252.8h1.5M205.25 252.8h1.5M210.75 252.8h1.5M230.15 252.8h1.5M237.05 252.8h1.5M237.55 252.8h1.5M239.55 252.8h1.5M240.55 252.8h1.5M253.45 252.8h1.5M254.45 252.8h1.5M254.95 252.8h1.5M261.45 252.8h1.5M265.95 252.8h1.5M307.65 252.8h1.5M309.15 252.8h1.5M313.65 252.8h1.5M315.65 252.8h1.5M316.55 252.8h1.5M319.55 252.8h1.5M321.05 252.8h1.5M324.05 252.8h1.5M325.05 252.8h1.5M327.05 252.8h1.5M328.05 252.8h1.5M329.05 252.8h1.5M331.05 252.8h1.5M331.55 252.8h1.5M334.95 252.8h1.5M337.95 252.8h1.5M346.95 252.8h1.5M348.95 252.8h1.5M360.35 252.8h1.5M368.25 252.8h1.5M370.75 252.8h1.5M371.25 252.8h1.5M372.75 252.8h1.5M375.75 252.8h1.5M377.75 252.8h1.5M380.75 252.8h1.5M383.15 252.8h1.5M384.15 252.8h1.5M410.55 252.8h1.5M414.05 252.8h1.5M415.05 252.8h1.5M416.95 252.8h1.5M437.35 252.8h1.5M443.85 252.8h1.5M444.85 252.8h1.5M446.85 252.8h1.5M449.25 252.8h1.5M450.25 252.8h1.5M465.65 252.8h1.5M472.15 252.8h1.5M476.65 252.8h1.5M495.55 252.8h1.5M499.45 252.8h1.5M500.95 252.8h1.5M503.95 252.8h1.5M504.45 252.8h1.5M510.95 252.8h1.5M530.85 252.8h1.5M540.75 252.8h1.5M541.25 252.8h1.5M557.15 252.8h1.5M559.15 252.8h1.5M560.65 252.8h1.5M567.05 252.8h1.5M84.45 255.3h1.5M90.95 255.3h1.5M95.45 255.3h1.5M129.25 255.3h1.5M130.75 255.3h1.5M140.15 255.3h1.5M145.65 255.3h1.5M147.15 255.3h1.5M166.05 255.3h1.5M167.05 255.3h1.5M189.35 255.3h1.5M195.35 255.3h1.5M196.85 255.3h1.5M216.75 255.3h1.5M217.15 255.3h1.5M220.15 255.3h1.5M224.15 255.3h1.5M231.15 255.3h1.5M236.05 255.3h1.5M264.45 255.3h1.5M266.85 255.3h1.5M273.85 255.3h1.5M281.85 255.3h1.5M286.25 255.3h1.5M298.75 255.3h1.5M301.15 255.3h1.5M307.15 255.3h1.5M310.65 255.3h1.5M312.15 255.3h1.5M314.65 255.3h1.5M315.65 255.3h1.5M316.15 255.3h1.5M317.55 255.3h1.5M318.05 255.3h1.5M318.55 255.3h1.5M320.05 255.3h1.5M320.55 255.3h1.5M321.05 255.3h1.5M321.55 255.3h1.5M322.55 255.3h1.5M323.05 255.3h1.5M323.55 255.3h1.5M325.05 255.3h1.5M326.05 255.3h1.5M326.55 255.3h1.5M327.55 255.3h1.5M328.55 255.3h1.5M329.55 255.3h1.5M330.05 255.3h1.5M331.55 255.3h1.5M332.05 255.3h1.5M333.45 255.3h1.5M333.95 255.3h1.5M335.45 255.3h1.5M341.45 255.3h1.5M341.95 255.3h1.5M342.95 255.3h1.5M343.45 255.3h1.5M344.95 255.3h1.5M348.45 255.3h1.5M353.35 255.3h1.5M355.35 255.3h1.5M359.85 255.3h1.5M363.35 255.3h1.5M368.75 255.3h1.5M370.25 255.3h1.5M372.75 255.3h1.5M375.25 255.3h1.5M378.25 255.3h1.5M383.65 255.3h1.5M396.15 255.3h1.5M409.05 255.3h1.5M415.05 255.3h1.5M415.55 255.3h1.5M419.95 255.3h1.5M422.45 255.3h1.5M431.95 255.3h1.5M443.85 255.3h1.5M448.85 255.3h1.5M450.75 255.3h1.5M468.65 255.3h1.5M484.55 255.3h1.5M485.55 255.3h1.5M488.05 255.3h1.5M493.05 255.3h1.5M499.95 255.3h1.5M514.95 255.3h1.5M531.75 255.3h1.5M543.75 255.3h1.5M562.65 255.3h1.5M80.55 257.8h1.5M81.05 257.8h1.5M88.95 257.8h1.5M92.45 257.8h1.5M92.95 257.8h1.5M95.95 257.8h1.5M100.85 257.8h1.5M132.25 257.8h1.5M144.65 257.8h1.5M168.45 257.8h1.5M173.45 257.8h1.5M178.95 257.8h1.5M181.45 257.8h1.5M198.85 257.8h1.5M206.25 257.8h1.5M210.75 257.8h1.5M220.65 257.8h1.5M222.65 257.8h1.5M225.15 257.8h1.5M228.15 257.8h1.5M232.15 257.8h1.5M236.55 257.8h1.5M254.45 257.8h1.5M254.95 257.8h1.5M261.95 257.8h1.5M283.75 257.8h1.5M290.75 257.8h1.5M293.25 257.8h1.5M294.25 257.8h1.5M304.65 257.8h1.5M308.15 257.8h1.5M308.65 257.8h1.5M309.15 257.8h1.5M314.65 257.8h1.5M318.55 257.8h1.5M319.55 257.8h1.5M320.05 257.8h1.5M323.55 257.8h1.5M324.05 257.8h1.5M327.55 257.8h1.5M329.55 257.8h1.5M330.55 257.8h1.5M332.95 257.8h1.5M336.95 257.8h1.5M337.45 257.8h1.5M340.95 257.8h1.5M342.95 257.8h1.5M343.95 257.8h1.5M347.95 257.8h1.5M349.45 257.8h1.5M349.85 257.8h1.5M369.25 257.8h1.5M376.75 257.8h1.5M379.75 257.8h1.5M386.65 257.8h1.5M399.55 257.8h1.5M408.05 257.8h1.5M439.35 257.8h1.5M439.85 257.8h1.5M451.25 257.8h1.5M456.75 257.8h1.5M463.25 257.8h1.5M480.15 257.8h1.5M488.05 257.8h1.5M499.45 257.8h1.5M505.45 257.8h1.5M506.95 257.8h1.5M508.45 257.8h1.5M514.45 257.8h1.5M515.35 257.8h1.5M516.35 257.8h1.5M523.35 257.8h1.5M549.65 257.8h1.5M553.65 257.8h1.5M557.65 257.8h1.5M560.15 257.8h1.5M562.65 257.8h1.5M79.55 260.4h1.5M84.45 260.4h1.5M86.45 260.4h1.5M104.35 260.4h1.5M112.35 260.4h1.5M113.85 260.4h1.5M120.25 260.4h1.5M123.75 260.4h1.5M128.25 260.4h1.5M135.15 260.4h1.5M137.65 260.4h1.5M138.15 260.4h1.5M143.15 260.4h1.5M144.15 260.4h1.5M147.65 260.4h1.5M152.05 260.4h1.5M164.55 260.4h1.5M172.95 260.4h1.5M180.95 260.4h1.5M183.85 260.4h1.5M195.85 260.4h1.5M201.25 260.4h1.5M207.25 260.4h1.5M212.75 260.4h1.5M226.65 260.4h1.5M234.05 260.4h1.5M243.05 260.4h1.5M265.45 260.4h1.5M270.35 260.4h1.5M271.85 260.4h1.5M275.35 260.4h1.5M278.85 260.4h1.5M283.25 260.4h1.5M285.25 260.4h1.5M288.75 260.4h1.5M293.25 260.4h1.5M294.25 260.4h1.5M302.65 260.4h1.5M304.15 260.4h1.5M306.15 260.4h1.5M307.15 260.4h1.5M310.65 260.4h1.5M312.65 260.4h1.5M313.65 260.4h1.5M316.15 260.4h1.5M318.05 260.4h1.5M319.55 260.4h1.5M323.05 260.4h1.5M323.55 260.4h1.5M324.05 260.4h1.5M324.55 260.4h1.5M325.55 260.4h1.5M327.05 260.4h1.5M329.05 260.4h1.5M330.05 260.4h1.5M333.95 260.4h1.5M336.45 260.4h1.5M338.95 260.4h1.5M339.45 260.4h1.5M344.95 260.4h1.5M349.45 260.4h1.5M356.35 260.4h1.5M357.85 260.4h1.5M365.85 260.4h1.5M367.25 260.4h1.5M368.75 260.4h1.5M379.75 260.4h1.5M382.65 260.4h1.5M390.65 260.4h1.5M404.55 260.4h1.5M410.55 260.4h1.5M412.55 260.4h1.5M414.55 260.4h1.5M420.95 260.4h1.5M433.35 260.4h1.5M442.85 260.4h1.5M460.75 260.4h1.5M461.75 260.4h1.5M475.65 260.4h1.5M501.45 260.4h1.5M502.95 260.4h1.5M507.45 260.4h1.5M508.95 260.4h1.5M515.35 260.4h1.5M534.25 260.4h1.5M547.75 260.4h1.5M550.15 260.4h1.5M551.15 260.4h1.5M555.15 260.4h1.5M557.65 260.4h1.5M560.15 260.4h1.5M561.65 260.4h1.5M568.05 260.4h1.5M97.95 262.9h1.5M114.85 262.9h1.5M130.75 262.9h1.5M135.65 262.9h1.5M144.15 262.9h1.5M158.55 262.9h1.5M159.55 262.9h1.5M163.05 262.9h1.5M165.05 262.9h1.5M173.45 262.9h1.5M181.45 262.9h1.5M191.35 262.9h1.5M202.25 262.9h1.5M210.75 262.9h1.5M213.25 262.9h1.5M218.65 262.9h1.5M234.05 262.9h1.5M241.05 262.9h1.5M250.95 262.9h1.5M261.45 262.9h1.5M262.45 262.9h1.5M263.45 262.9h1.5M263.95 262.9h1.5M270.85 262.9h1.5M277.85 262.9h1.5M284.75 262.9h1.5M286.25 262.9h1.5M293.75 262.9h1.5M296.25 262.9h1.5M297.75 262.9h1.5M309.65 262.9h1.5M314.15 262.9h1.5M316.15 262.9h1.5M318.05 262.9h1.5M319.05 262.9h1.5M320.55 262.9h1.5M321.55 262.9h1.5M325.05 262.9h1.5M326.05 262.9h1.5M326.55 262.9h1.5M328.05 262.9h1.5M329.55 262.9h1.5M332.05 262.9h1.5M332.95 262.9h1.5M339.45 262.9h1.5M341.95 262.9h1.5M345.95 262.9h1.5M346.45 262.9h1.5M352.35 262.9h1.5M359.35 262.9h1.5M369.75 262.9h1.5M371.25 262.9h1.5M372.25 262.9h1.5M376.75 262.9h1.5M386.15 262.9h1.5M388.15 262.9h1.5M420.95 262.9h1.5M428.45 262.9h1.5M432.35 262.9h1.5M436.85 262.9h1.5M452.25 262.9h1.5M452.75 262.9h1.5M453.75 262.9h1.5M460.75 262.9h1.5M462.75 262.9h1.5M463.75 262.9h1.5M467.65 262.9h1.5M468.65 262.9h1.5M474.65 262.9h1.5M494.05 262.9h1.5M511.45 262.9h1.5M517.85 262.9h1.5M522.85 262.9h1.5M528.85 262.9h1.5M531.75 262.9h1.5M533.25 262.9h1.5M535.75 262.9h1.5M552.15 262.9h1.5M559.15 262.9h1.5M560.15 262.9h1.5M568.55 262.9h1.5M106.85 265.5h1.5M119.75 265.5h1.5M124.75 265.5h1.5M128.25 265.5h1.5M141.65 265.5h1.5M144.15 265.5h1.5M150.15 265.5h1.5M157.05 265.5h1.5M163.55 265.5h1.5M164.55 265.5h1.5M167.45 265.5h1.5M179.45 265.5h1.5M185.35 265.5h1.5M192.85 265.5h1.5M193.35 265.5h1.5M203.25 265.5h1.5M220.15 265.5h1.5M234.05 265.5h1.5M238.05 265.5h1.5M252.95 265.5h1.5M267.35 265.5h1.5M272.85 265.5h1.5M294.75 265.5h1.5M296.75 265.5h1.5M302.65 265.5h1.5M309.65 265.5h1.5M310.65 265.5h1.5M311.15 265.5h1.5M312.65 265.5h1.5M316.15 265.5h1.5M317.55 265.5h1.5M319.05 265.5h1.5M319.55 265.5h1.5M320.05 265.5h1.5M320.55 265.5h1.5M321.55 265.5h1.5M322.55 265.5h1.5M323.05 265.5h1.5M323.55 265.5h1.5M324.55 265.5h1.5M327.05 265.5h1.5M329.05 265.5h1.5M330.55 265.5h1.5M332.95 265.5h1.5M341.45 265.5h1.5M345.45 265.5h1.5M346.45 265.5h1.5M346.95 265.5h1.5M348.45 265.5h1.5M363.35 265.5h1.5M382.25 265.5h1.5M385.15 265.5h1.5M389.65 265.5h1.5M392.65 265.5h1.5M397.15 265.5h1.5M408.05 265.5h1.5M413.05 265.5h1.5M419.45 265.5h1.5M423.45 265.5h1.5M427.95 265.5h1.5M451.75 265.5h1.5M459.25 265.5h1.5M471.15 265.5h1.5M479.65 265.5h1.5M480.65 265.5h1.5M488.55 265.5h1.5M493.05 265.5h1.5M497.05 265.5h1.5M498.95 265.5h1.5M510.45 265.5h1.5M525.35 265.5h1.5M534.75 265.5h1.5M537.25 265.5h1.5M546.25 265.5h1.5M548.65 265.5h1.5M563.65 265.5h1.5M570.55 265.5h1.5M87.45 268h1.5M95.95 268h1.5M102.85 268h1.5M109.85 268h1.5M113.85 268h1.5M118.25 268h1.5M146.15 268h1.5M150.15 268h1.5M158.05 268h1.5M177.45 268h1.5M191.35 268h1.5M213.75 268h1.5M226.15 268h1.5M230.65 268h1.5M246.05 268h1.5M268.35 268h1.5M273.85 268h1.5M282.85 268h1.5M284.25 268h1.5M284.75 268h1.5M287.75 268h1.5M292.75 268h1.5M293.25 268h1.5M298.75 268h1.5M299.25 268h1.5M304.15 268h1.5M306.15 268h1.5M306.65 268h1.5M307.15 268h1.5M309.15 268h1.5M314.15 268h1.5M315.15 268h1.5M315.65 268h1.5M316.55 268h1.5M319.55 268h1.5M322.05 268h1.5M325.05 268h1.5M327.55 268h1.5M330.55 268h1.5M335.45 268h1.5M335.95 268h1.5M337.45 268h1.5M345.95 268h1.5M350.85 268h1.5M373.25 268h1.5M376.75 268h1.5M420.95 268h1.5M438.35 268h1.5M456.75 268h1.5M457.75 268h1.5M469.65 268h1.5M470.15 268h1.5M475.65 268h1.5M483.55 268h1.5M486.05 268h1.5M495.05 268h1.5M498.45 268h1.5M501.95 268h1.5M504.45 268h1.5M508.95 268h1.5M509.45 268h1.5M526.85 268h1.5M536.75 268h1.5M95.45 270.6h1.5M98.95 270.6h1.5M126.75 270.6h1.5M137.15 270.6h1.5M146.15 270.6h1.5M153.05 270.6h1.5M176.95 270.6h1.5M179.45 270.6h1.5M182.45 270.6h1.5M182.95 270.6h1.5M190.85 270.6h1.5M196.35 270.6h1.5M197.85 270.6h1.5M206.25 270.6h1.5M220.15 270.6h1.5M226.15 270.6h1.5M234.55 270.6h1.5M255.45 270.6h1.5M258.45 270.6h1.5M259.45 270.6h1.5M262.45 270.6h1.5M272.85 270.6h1.5M273.35 270.6h1.5M290.75 270.6h1.5M307.15 270.6h1.5M310.65 270.6h1.5M311.15 270.6h1.5M313.15 270.6h1.5M313.65 270.6h1.5M315.65 270.6h1.5M319.05 270.6h1.5M321.05 270.6h1.5M324.55 270.6h1.5M326.55 270.6h1.5M327.55 270.6h1.5M331.55 270.6h1.5M332.05 270.6h1.5M332.55 270.6h1.5M334.95 270.6h1.5M335.95 270.6h1.5M336.45 270.6h1.5M343.45 270.6h1.5M346.95 270.6h1.5M351.85 270.6h1.5M353.85 270.6h1.5M361.85 270.6h1.5M367.75 270.6h1.5M370.25 270.6h1.5M371.25 270.6h1.5M381.25 270.6h1.5M396.65 270.6h1.5M421.95 270.6h1.5M436.35 270.6h1.5M456.25 270.6h1.5M464.25 270.6h1.5M467.65 270.6h1.5M479.15 270.6h1.5M501.95 270.6h1.5M504.45 270.6h1.5M516.85 270.6h1.5M533.75 270.6h1.5M535.25 270.6h1.5M544.75 270.6h1.5M547.75 270.6h1.5M548.65 270.6h1.5M78.55 273.1h1.5M89.95 273.1h1.5M90.45 273.1h1.5M90.95 273.1h1.5M104.35 273.1h1.5M108.85 273.1h1.5M123.25 273.1h1.5M129.75 273.1h1.5M132.75 273.1h1.5M134.65 273.1h1.5M142.65 273.1h1.5M145.65 273.1h1.5M152.55 273.1h1.5M175.95 273.1h1.5M179.95 273.1h1.5M182.45 273.1h1.5M188.85 273.1h1.5M200.75 273.1h1.5M211.25 273.1h1.5M213.75 273.1h1.5M226.15 273.1h1.5M238.05 273.1h1.5M241.55 273.1h1.5M249.05 273.1h1.5M261.45 273.1h1.5M267.35 273.1h1.5M268.35 273.1h1.5M271.35 273.1h1.5M302.65 273.1h1.5M309.65 273.1h1.5M313.15 273.1h1.5M316.15 273.1h1.5M316.55 273.1h1.5M320.05 273.1h1.5M321.05 273.1h1.5M324.05 273.1h1.5M326.05 273.1h1.5M328.05 273.1h1.5M329.55 273.1h1.5M331.55 273.1h1.5M332.55 273.1h1.5M335.95 273.1h1.5M336.45 273.1h1.5M340.95 273.1h1.5M346.95 273.1h1.5M350.35 273.1h1.5M350.85 273.1h1.5M366.25 273.1h1.5M390.15 273.1h1.5M396.65 273.1h1.5M409.05 273.1h1.5M414.55 273.1h1.5M416.45 273.1h1.5M425.45 273.1h1.5M433.85 273.1h1.5M456.75 273.1h1.5M459.25 273.1h1.5M466.65 273.1h1.5M485.55 273.1h1.5M486.55 273.1h1.5M510.95 273.1h1.5M534.75 273.1h1.5M536.75 273.1h1.5M540.75 273.1h1.5M555.65 273.1h1.5M559.15 273.1h1.5M570.55 273.1h1.5M88.45 275.6h1.5M91.45 275.6h1.5M111.35 275.6h1.5M122.25 275.6h1.5M123.75 275.6h1.5M124.75 275.6h1.5M142.15 275.6h1.5M143.15 275.6h1.5M151.55 275.6h1.5M154.05 275.6h1.5M155.05 275.6h1.5M158.05 275.6h1.5M182.45 275.6h1.5M192.35 275.6h1.5M194.85 275.6h1.5M195.35 275.6h1.5M207.25 275.6h1.5M223.15 275.6h1.5M227.15 275.6h1.5M233.55 275.6h1.5M234.55 275.6h1.5M238.05 275.6h1.5M250.45 275.6h1.5M255.45 275.6h1.5M260.45 275.6h1.5M261.95 275.6h1.5M267.35 275.6h1.5M277.35 275.6h1.5M287.25 275.6h1.5M291.25 275.6h1.5M299.25 275.6h1.5M301.65 275.6h1.5M307.65 275.6h1.5M310.65 275.6h1.5M311.15 275.6h1.5M313.65 275.6h1.5M314.65 275.6h1.5M319.05 275.6h1.5M320.55 275.6h1.5M321.05 275.6h1.5M324.55 275.6h1.5M325.55 275.6h1.5M327.05 275.6h1.5M327.55 275.6h1.5M328.05 275.6h1.5M328.55 275.6h1.5M329.05 275.6h1.5M329.55 275.6h1.5M333.95 275.6h1.5M336.45 275.6h1.5M337.45 275.6h1.5M340.95 275.6h1.5M341.45 275.6h1.5M344.45 275.6h1.5M350.85 275.6h1.5M356.35 275.6h1.5M362.35 275.6h1.5M363.35 275.6h1.5M370.75 275.6h1.5M377.25 275.6h1.5M381.25 275.6h1.5M386.15 275.6h1.5M386.65 275.6h1.5M404.05 275.6h1.5M426.45 275.6h1.5M426.95 275.6h1.5M441.85 275.6h1.5M443.85 275.6h1.5M459.25 275.6h1.5M460.25 275.6h1.5M468.65 275.6h1.5M492.55 275.6h1.5M493.05 275.6h1.5M543.25 275.6h1.5M553.65 275.6h1.5M80.55 278.2h1.5M122.25 278.2h1.5M125.25 278.2h1.5M131.25 278.2h1.5M132.75 278.2h1.5M133.25 278.2h1.5M133.75 278.2h1.5M140.65 278.2h1.5M142.15 278.2h1.5M152.55 278.2h1.5M163.05 278.2h1.5M167.95 278.2h1.5M168.45 278.2h1.5M181.45 278.2h1.5M189.35 278.2h1.5M192.85 278.2h1.5M205.25 278.2h1.5M206.75 278.2h1.5M209.75 278.2h1.5M210.25 278.2h1.5M218.15 278.2h1.5M244.05 278.2h1.5M253.95 278.2h1.5M254.45 278.2h1.5M275.85 278.2h1.5M286.75 278.2h1.5M290.25 278.2h1.5M296.25 278.2h1.5M299.65 278.2h1.5M303.15 278.2h1.5M305.15 278.2h1.5M316.15 278.2h1.5M316.55 278.2h1.5M317.55 278.2h1.5M321.05 278.2h1.5M328.05 278.2h1.5M330.05 278.2h1.5M331.05 278.2h1.5M338.45 278.2h1.5M339.45 278.2h1.5M344.95 278.2h1.5M345.95 278.2h1.5M349.85 278.2h1.5M351.35 278.2h1.5M356.35 278.2h1.5M357.35 278.2h1.5M364.35 278.2h1.5M367.75 278.2h1.5M369.75 278.2h1.5M388.15 278.2h1.5M389.65 278.2h1.5M407.05 278.2h1.5M413.55 278.2h1.5M418.45 278.2h1.5M419.95 278.2h1.5M423.45 278.2h1.5M443.85 278.2h1.5M448.85 278.2h1.5M472.65 278.2h1.5M475.15 278.2h1.5M483.05 278.2h1.5M487.55 278.2h1.5M501.95 278.2h1.5M507.45 278.2h1.5M510.95 278.2h1.5M517.85 278.2h1.5M528.35 278.2h1.5M530.35 278.2h1.5M531.35 278.2h1.5M533.75 278.2h1.5M537.75 278.2h1.5M540.25 278.2h1.5M549.65 278.2h1.5M567.55 278.2h1.5M81.05 280.7h1.5M91.95 280.7h1.5M102.85 280.7h1.5M111.35 280.7h1.5M123.75 280.7h1.5M143.65 280.7h1.5M149.65 280.7h1.5M156.55 280.7h1.5M159.05 280.7h1.5M168.45 280.7h1.5M178.95 280.7h1.5M181.95 280.7h1.5M200.75 280.7h1.5M233.15 280.7h1.5M246.05 280.7h1.5M249.05 280.7h1.5M256.45 280.7h1.5M273.35 280.7h1.5M283.75 280.7h1.5M287.25 280.7h1.5M299.25 280.7h1.5M304.65 280.7h1.5M305.15 280.7h1.5M309.15 280.7h1.5M310.65 280.7h1.5M312.65 280.7h1.5M315.15 280.7h1.5M315.65 280.7h1.5M316.15 280.7h1.5M319.05 280.7h1.5M319.55 280.7h1.5M320.55 280.7h1.5M325.55 280.7h1.5M326.55 280.7h1.5M332.95 280.7h1.5M336.95 280.7h1.5M340.95 280.7h1.5M357.35 280.7h1.5M357.85 280.7h1.5M360.85 280.7h1.5M371.75 280.7h1.5M384.15 280.7h1.5M388.15 280.7h1.5M395.65 280.7h1.5M399.05 280.7h1.5M401.55 280.7h1.5M407.55 280.7h1.5M431.45 280.7h1.5M457.75 280.7h1.5M460.25 280.7h1.5M471.65 280.7h1.5M475.65 280.7h1.5M481.15 280.7h1.5M494.05 280.7h1.5M506.45 280.7h1.5M543.25 280.7h1.5M547.25 280.7h1.5M86.45 283.3h1.5M93.45 283.3h1.5M100.85 283.3h1.5M101.85 283.3h1.5M127.25 283.3h1.5M131.25 283.3h1.5M139.65 283.3h1.5M148.15 283.3h1.5M165.05 283.3h1.5M181.45 283.3h1.5M200.25 283.3h1.5M208.75 283.3h1.5M226.65 283.3h1.5M233.15 283.3h1.5M236.55 283.3h1.5M245.55 283.3h1.5M246.55 283.3h1.5M250.05 283.3h1.5M269.85 283.3h1.5M290.75 283.3h1.5M309.15 283.3h1.5M310.15 283.3h1.5M311.15 283.3h1.5M312.65 283.3h1.5M318.55 283.3h1.5M326.05 283.3h1.5M328.05 283.3h1.5M335.95 283.3h1.5M336.45 283.3h1.5M337.45 283.3h1.5M337.95 283.3h1.5M341.95 283.3h1.5M342.95 283.3h1.5M343.45 283.3h1.5M344.95 283.3h1.5M346.45 283.3h1.5M352.85 283.3h1.5M355.35 283.3h1.5M384.15 283.3h1.5M384.65 283.3h1.5M398.15 283.3h1.5M427.95 283.3h1.5M437.35 283.3h1.5M443.35 283.3h1.5M445.35 283.3h1.5M456.75 283.3h1.5M469.15 283.3h1.5M473.15 283.3h1.5M483.05 283.3h1.5M493.55 283.3h1.5M507.45 283.3h1.5M515.35 283.3h1.5M527.85 283.3h1.5M545.25 283.3h1.5M568.05 283.3h1.5M106.35 285.8h1.5M119.25 285.8h1.5M122.25 285.8h1.5M125.25 285.8h1.5M140.15 285.8h1.5M146.15 285.8h1.5M162.55 285.8h1.5M195.35 285.8h1.5M202.75 285.8h1.5M208.25 285.8h1.5M213.25 285.8h1.5M237.05 285.8h1.5M248.05 285.8h1.5M258.45 285.8h1.5M258.95 285.8h1.5M293.75 285.8h1.5M295.25 285.8h1.5M296.25 285.8h1.5M303.65 285.8h1.5M305.15 285.8h1.5M309.15 285.8h1.5M317.05 285.8h1.5M318.05 285.8h1.5M321.55 285.8h1.5M322.55 285.8h1.5M324.55 285.8h1.5M325.55 285.8h1.5M328.55 285.8h1.5M332.55 285.8h1.5M335.45 285.8h1.5M346.45 285.8h1.5M354.85 285.8h1.5M364.85 285.8h1.5M371.75 285.8h1.5M375.75 285.8h1.5M390.65 285.8h1.5M392.15 285.8h1.5M409.05 285.8h1.5M419.45 285.8h1.5M427.95 285.8h1.5M433.35 285.8h1.5M460.25 285.8h1.5M473.65 285.8h1.5M476.65 285.8h1.5M482.55 285.8h1.5M492.55 285.8h1.5M493.05 285.8h1.5M504.95 285.8h1.5M513.45 285.8h1.5M519.35 285.8h1.5M532.25 285.8h1.5M532.75 285.8h1.5M534.25 285.8h1.5M550.65 285.8h1.5M553.65 285.8h1.5M91.95 288.4h1.5M103.85 288.4h1.5M128.25 288.4h1.5M135.15 288.4h1.5M145.15 288.4h1.5M146.65 288.4h1.5M148.15 288.4h1.5M149.65 288.4h1.5M150.65 288.4h1.5M155.05 288.4h1.5M156.05 288.4h1.5M167.05 288.4h1.5M181.45 288.4h1.5M183.85 288.4h1.5M184.85 288.4h1.5M186.35 288.4h1.5M187.85 288.4h1.5M195.85 288.4h1.5M196.35 288.4h1.5M196.85 288.4h1.5M202.25 288.4h1.5M204.75 288.4h1.5M206.25 288.4h1.5M213.25 288.4h1.5M259.45 288.4h1.5M275.85 288.4h1.5M292.25 288.4h1.5M293.75 288.4h1.5M296.25 288.4h1.5M301.65 288.4h1.5M303.65 288.4h1.5M306.65 288.4h1.5M311.65 288.4h1.5M318.55 288.4h1.5M320.05 288.4h1.5M321.55 288.4h1.5M322.55 288.4h1.5M324.55 288.4h1.5M326.55 288.4h1.5M327.55 288.4h1.5M332.95 288.4h1.5M336.45 288.4h1.5M338.45 288.4h1.5M338.95 288.4h1.5M349.45 288.4h1.5M369.25 288.4h1.5M373.25 288.4h1.5M390.65 288.4h1.5M392.65 288.4h1.5M394.65 288.4h1.5M422.45 288.4h1.5M453.75 288.4h1.5M454.75 288.4h1.5M470.65 288.4h1.5M497.55 288.4h1.5M503.45 288.4h1.5M521.35 288.4h1.5M541.25 288.4h1.5M568.05 288.4h1.5M78.55 290.9h1.5M81.05 290.9h1.5M86.95 290.9h1.5M98.45 290.9h1.5M102.85 290.9h1.5M109.35 290.9h1.5M124.75 290.9h1.5M138.65 290.9h1.5M151.05 290.9h1.5M157.05 290.9h1.5M158.05 290.9h1.5M160.05 290.9h1.5M169.45 290.9h1.5M184.85 290.9h1.5M196.85 290.9h1.5M202.75 290.9h1.5M217.65 290.9h1.5M225.15 290.9h1.5M230.65 290.9h1.5M250.45 290.9h1.5M263.95 290.9h1.5M270.35 290.9h1.5M271.35 290.9h1.5M273.35 290.9h1.5M273.85 290.9h1.5M284.25 290.9h1.5M284.75 290.9h1.5M294.75 290.9h1.5M303.65 290.9h1.5M306.15 290.9h1.5M311.65 290.9h1.5M316.55 290.9h1.5M321.55 290.9h1.5M322.05 290.9h1.5M322.55 290.9h1.5M324.05 290.9h1.5M326.05 290.9h1.5M326.55 290.9h1.5M328.05 290.9h1.5M328.55 290.9h1.5M330.05 290.9h1.5M331.05 290.9h1.5M332.95 290.9h1.5M334.45 290.9h1.5M335.45 290.9h1.5M337.45 290.9h1.5M352.35 290.9h1.5M353.35 290.9h1.5M354.35 290.9h1.5M356.35 290.9h1.5M359.35 290.9h1.5M366.25 290.9h1.5M376.75 290.9h1.5M379.25 290.9h1.5M381.75 290.9h1.5M404.05 290.9h1.5M405.05 290.9h1.5M406.05 290.9h1.5M407.55 290.9h1.5M408.05 290.9h1.5M431.95 290.9h1.5M434.35 290.9h1.5M449.25 290.9h1.5M453.75 290.9h1.5M465.25 290.9h1.5M468.15 290.9h1.5M473.15 290.9h1.5M478.15 290.9h1.5M484.55 290.9h1.5M504.95 290.9h1.5M508.95 290.9h1.5M523.35 290.9h1.5M527.35 290.9h1.5M536.25 290.9h1.5M546.25 290.9h1.5M558.65 290.9h1.5M564.15 290.9h1.5M84.95 293.4h1.5M88.45 293.4h1.5M88.95 293.4h1.5M100.45 293.4h1.5M106.35 293.4h1.5M117.75 293.4h1.5M131.75 293.4h1.5M133.25 293.4h1.5M133.75 293.4h1.5M144.65 293.4h1.5M156.55 293.4h1.5M181.45 293.4h1.5M185.35 293.4h1.5M205.75 293.4h1.5M214.25 293.4h1.5M240.55 293.4h1.5M247.05 293.4h1.5M268.35 293.4h1.5M276.85 293.4h1.5M292.75 293.4h1.5M299.25 293.4h1.5M305.15 293.4h1.5M312.65 293.4h1.5M313.65 293.4h1.5M319.55 293.4h1.5M320.55 293.4h1.5M324.55 293.4h1.5M326.05 293.4h1.5M327.55 293.4h1.5M328.05 293.4h1.5M329.55 293.4h1.5M331.05 293.4h1.5M334.95 293.4h1.5M338.95 293.4h1.5M341.45 293.4h1.5M350.85 293.4h1.5M359.85 293.4h1.5M366.75 293.4h1.5M367.25 293.4h1.5M371.25 293.4h1.5M378.75 293.4h1.5M384.15 293.4h1.5M384.65 293.4h1.5M388.65 293.4h1.5M392.65 293.4h1.5M425.45 293.4h1.5M438.35 293.4h1.5M439.85 293.4h1.5M445.85 293.4h1.5M449.75 293.4h1.5M461.25 293.4h1.5M472.65 293.4h1.5M482.55 293.4h1.5M491.55 293.4h1.5M494.05 293.4h1.5M496.05 293.4h1.5M525.85 293.4h1.5M556.15 293.4h1.5M561.65 293.4h1.5M80.55 296h1.5M86.95 296h1.5M90.45 296h1.5M99.95 296h1.5M107.35 296h1.5M107.85 296h1.5M115.35 296h1.5M115.85 296h1.5M125.25 296h1.5M152.55 296h1.5M173.95 296h1.5M178.45 296h1.5M179.95 296h1.5M184.35 296h1.5M224.65 296h1.5M227.65 296h1.5M256.95 296h1.5M274.35 296h1.5M277.35 296h1.5M280.85 296h1.5M285.25 296h1.5M292.75 296h1.5M295.75 296h1.5M301.15 296h1.5M304.65 296h1.5M308.15 296h1.5M311.15 296h1.5M313.65 296h1.5M315.65 296h1.5M317.05 296h1.5M320.55 296h1.5M322.55 296h1.5M327.05 296h1.5M328.55 296h1.5M329.05 296h1.5M334.45 296h1.5M335.45 296h1.5M337.45 296h1.5M342.45 296h1.5M360.85 296h1.5M369.25 296h1.5M377.75 296h1.5M380.25 296h1.5M383.65 296h1.5M386.65 296h1.5M396.15 296h1.5M397.15 296h1.5M401.55 296h1.5M409.55 296h1.5M421.45 296h1.5M440.85 296h1.5M444.35 296h1.5M460.75 296h1.5M464.75 296h1.5M479.65 296h1.5M503.45 296h1.5M515.85 296h1.5M523.85 296h1.5M551.65 296h1.5M563.15 296h1.5M81.05 298.5h1.5M84.05 298.5h1.5M89.95 298.5h1.5M99.45 298.5h1.5M100.85 298.5h1.5M111.85 298.5h1.5M131.75 298.5h1.5M132.75 298.5h1.5M145.15 298.5h1.5M167.05 298.5h1.5M168.95 298.5h1.5M172.45 298.5h1.5M177.95 298.5h1.5M191.35 298.5h1.5M210.75 298.5h1.5M217.65 298.5h1.5M222.65 298.5h1.5M249.05 298.5h1.5M260.45 298.5h1.5M303.65 298.5h1.5M310.15 298.5h1.5M321.05 298.5h1.5M321.55 298.5h1.5M322.05 298.5h1.5M323.05 298.5h1.5M329.05 298.5h1.5M329.55 298.5h1.5M331.05 298.5h1.5M332.05 298.5h1.5M332.95 298.5h1.5M337.45 298.5h1.5M337.95 298.5h1.5M338.95 298.5h1.5M347.95 298.5h1.5M359.85 298.5h1.5M365.85 298.5h1.5M373.75 298.5h1.5M380.75 298.5h1.5M383.15 298.5h1.5M422.95 298.5h1.5M431.45 298.5h1.5M437.35 298.5h1.5M440.85 298.5h1.5M443.85 298.5h1.5M449.25 298.5h1.5M453.25 298.5h1.5M474.15 298.5h1.5M479.15 298.5h1.5M500.45 298.5h1.5M510.95 298.5h1.5M523.35 298.5h1.5M526.85 298.5h1.5M528.35 298.5h1.5M536.75 298.5h1.5M549.65 298.5h1.5M551.15 298.5h1.5M553.15 298.5h1.5M556.15 298.5h1.5M564.15 298.5h1.5M567.55 298.5h1.5M96.45 301.1h1.5M100.45 301.1h1.5M105.35 301.1h1.5M111.85 301.1h1.5M119.25 301.1h1.5M119.75 301.1h1.5M134.65 301.1h1.5M139.65 301.1h1.5M142.15 301.1h1.5M143.65 301.1h1.5M154.05 301.1h1.5M197.85 301.1h1.5M225.65 301.1h1.5M237.55 301.1h1.5M243.55 301.1h1.5M247.05 301.1h1.5M253.45 301.1h1.5M258.95 301.1h1.5M278.35 301.1h1.5M281.85 301.1h1.5M295.75 301.1h1.5M300.15 301.1h1.5M311.15 301.1h1.5M311.65 301.1h1.5M312.15 301.1h1.5M312.65 301.1h1.5M317.55 301.1h1.5M318.55 301.1h1.5M328.05 301.1h1.5M329.05 301.1h1.5M330.05 301.1h1.5M336.45 301.1h1.5M336.95 301.1h1.5M340.95 301.1h1.5M341.95 301.1h1.5M352.35 301.1h1.5M365.35 301.1h1.5M371.25 301.1h1.5M371.75 301.1h1.5M387.15 301.1h1.5M390.15 301.1h1.5M401.55 301.1h1.5M416.45 301.1h1.5M468.15 301.1h1.5M471.65 301.1h1.5M484.05 301.1h1.5M494.05 301.1h1.5M518.85 301.1h1.5M535.75 301.1h1.5M557.65 301.1h1.5M562.15 301.1h1.5M98.45 303.6h1.5M112.85 303.6h1.5M118.25 303.6h1.5M144.15 303.6h1.5M159.05 303.6h1.5M169.45 303.6h1.5M174.45 303.6h1.5M175.45 303.6h1.5M194.85 303.6h1.5M224.65 303.6h1.5M232.65 303.6h1.5M240.05 303.6h1.5M251.95 303.6h1.5M258.95 303.6h1.5M264.95 303.6h1.5M292.75 303.6h1.5M295.75 303.6h1.5M299.25 303.6h1.5M301.15 303.6h1.5M304.15 303.6h1.5M324.05 303.6h1.5M328.05 303.6h1.5M331.55 303.6h1.5M335.45 303.6h1.5M336.95 303.6h1.5M341.45 303.6h1.5M351.35 303.6h1.5M352.85 303.6h1.5M395.65 303.6h1.5M398.65 303.6h1.5M401.05 303.6h1.5M420.95 303.6h1.5M424.45 303.6h1.5M439.35 303.6h1.5M464.25 303.6h1.5M469.15 303.6h1.5M476.15 303.6h1.5M494.05 303.6h1.5M495.55 303.6h1.5M496.55 303.6h1.5M505.45 303.6h1.5M520.35 303.6h1.5M522.85 303.6h1.5M524.85 303.6h1.5M547.25 303.6h1.5M568.55 303.6h1.5M86.45 306.1h1.5M94.45 306.1h1.5M108.85 306.1h1.5M117.35 306.1h1.5M166.55 306.1h1.5M176.95 306.1h1.5M183.85 306.1h1.5M188.85 306.1h1.5M197.35 306.1h1.5M212.25 306.1h1.5M218.15 306.1h1.5M221.65 306.1h1.5M229.65 306.1h1.5M239.05 306.1h1.5M268.85 306.1h1.5M292.25 306.1h1.5M302.15 306.1h1.5M309.65 306.1h1.5M311.15 306.1h1.5M313.65 306.1h1.5M314.65 306.1h1.5M326.55 306.1h1.5M329.55 306.1h1.5M337.45 306.1h1.5M341.95 306.1h1.5M342.95 306.1h1.5M346.95 306.1h1.5M349.85 306.1h1.5M352.85 306.1h1.5M361.85 306.1h1.5M363.85 306.1h1.5M381.75 306.1h1.5M391.15 306.1h1.5M400.55 306.1h1.5M427.45 306.1h1.5M427.95 306.1h1.5M435.85 306.1h1.5M460.75 306.1h1.5M470.65 306.1h1.5M476.65 306.1h1.5M498.45 306.1h1.5M506.95 306.1h1.5M510.45 306.1h1.5M526.85 306.1h1.5M529.85 306.1h1.5M541.75 306.1h1.5M102.85 308.7h1.5M114.35 308.7h1.5M151.05 308.7h1.5M160.05 308.7h1.5M164.55 308.7h1.5M166.55 308.7h1.5M205.75 308.7h1.5M216.25 308.7h1.5M217.65 308.7h1.5M234.55 308.7h1.5M253.45 308.7h1.5M270.85 308.7h1.5M280.85 308.7h1.5M286.25 308.7h1.5M300.15 308.7h1.5M309.65 308.7h1.5M311.65 308.7h1.5M314.15 308.7h1.5M316.55 308.7h1.5M318.05 308.7h1.5M320.05 308.7h1.5M329.55 308.7h1.5M331.05 308.7h1.5M334.45 308.7h1.5M334.95 308.7h1.5M336.45 308.7h1.5M345.45 308.7h1.5M359.85 308.7h1.5M382.25 308.7h1.5M387.65 308.7h1.5M397.65 308.7h1.5M398.15 308.7h1.5M424.45 308.7h1.5M447.85 308.7h1.5M450.75 308.7h1.5M456.25 308.7h1.5M475.15 308.7h1.5M486.05 308.7h1.5M488.05 308.7h1.5M509.45 308.7h1.5M526.35 308.7h1.5M528.35 308.7h1.5M82.55 311.2h1.5M94.95 311.2h1.5M134.15 311.2h1.5M149.65 311.2h1.5M170.45 311.2h1.5M172.95 311.2h1.5M178.45 311.2h1.5M187.85 311.2h1.5M196.35 311.2h1.5M197.85 311.2h1.5M200.75 311.2h1.5M242.55 311.2h1.5M258.45 311.2h1.5M267.85 311.2h1.5M272.85 311.2h1.5M276.85 311.2h1.5M278.35 311.2h1.5M299.65 311.2h1.5M308.15 311.2h1.5M314.15 311.2h1.5M317.55 311.2h1.5M321.05 311.2h1.5M321.55 311.2h1.5M329.55 311.2h1.5M331.05 311.2h1.5M332.95 311.2h1.5M333.45 311.2h1.5M334.95 311.2h1.5M335.45 311.2h1.5M336.95 311.2h1.5M339.95 311.2h1.5M342.95 311.2h1.5M344.95 311.2h1.5M348.45 311.2h1.5M351.85 311.2h1.5M353.85 311.2h1.5M363.85 311.2h1.5M406.55 311.2h1.5M409.55 311.2h1.5M413.55 311.2h1.5M419.45 311.2h1.5M425.95 311.2h1.5M452.75 311.2h1.5M456.25 311.2h1.5M476.65 311.2h1.5M491.55 311.2h1.5M509.45 311.2h1.5M528.35 311.2h1.5M529.35 311.2h1.5M544.25 311.2h1.5M554.15 311.2h1.5M113.35 313.8h1.5M114.85 313.8h1.5M130.75 313.8h1.5M134.65 313.8h1.5M146.65 313.8h1.5M150.15 313.8h1.5M157.05 313.8h1.5M157.55 313.8h1.5M159.05 313.8h1.5M171.95 313.8h1.5M179.45 313.8h1.5M180.95 313.8h1.5M183.85 313.8h1.5M193.85 313.8h1.5M208.75 313.8h1.5M210.25 313.8h1.5M213.75 313.8h1.5M214.25 313.8h1.5M219.15 313.8h1.5M225.65 313.8h1.5M252.95 313.8h1.5M254.45 313.8h1.5M262.95 313.8h1.5M265.45 313.8h1.5M266.85 313.8h1.5M275.35 313.8h1.5M277.35 313.8h1.5M297.75 313.8h1.5M301.65 313.8h1.5M302.15 313.8h1.5M307.15 313.8h1.5M308.65 313.8h1.5M309.15 313.8h1.5M310.65 313.8h1.5M313.65 313.8h1.5M314.15 313.8h1.5M314.65 313.8h1.5M321.05 313.8h1.5M321.55 313.8h1.5M324.05 313.8h1.5M329.55 313.8h1.5M332.05 313.8h1.5M333.95 313.8h1.5M347.45 313.8h1.5M350.85 313.8h1.5M355.35 313.8h1.5M360.35 313.8h1.5M377.25 313.8h1.5M385.65 313.8h1.5M389.65 313.8h1.5M402.55 313.8h1.5M417.45 313.8h1.5M433.35 313.8h1.5M436.85 313.8h1.5M443.85 313.8h1.5M451.75 313.8h1.5M454.25 313.8h1.5M459.75 313.8h1.5M484.05 313.8h1.5M487.05 313.8h1.5M489.55 313.8h1.5M491.05 313.8h1.5M506.45 313.8h1.5M510.95 313.8h1.5M535.75 313.8h1.5M554.65 313.8h1.5M559.15 313.8h1.5M83.05 316.3h1.5M92.95 316.3h1.5M102.85 316.3h1.5M107.35 316.3h1.5M108.35 316.3h1.5M113.85 316.3h1.5M116.35 316.3h1.5M129.25 316.3h1.5M161.05 316.3h1.5M184.35 316.3h1.5M195.85 316.3h1.5M218.15 316.3h1.5M234.55 316.3h1.5M251.45 316.3h1.5M270.85 316.3h1.5M293.25 316.3h1.5M302.65 316.3h1.5M308.65 316.3h1.5M318.55 316.3h1.5M321.05 316.3h1.5M323.55 316.3h1.5M328.55 316.3h1.5M340.95 316.3h1.5M345.95 316.3h1.5M348.45 316.3h1.5M349.85 316.3h1.5M351.35 316.3h1.5M352.35 316.3h1.5M352.85 316.3h1.5M353.85 316.3h1.5M356.35 316.3h1.5M380.25 316.3h1.5M386.15 316.3h1.5M412.55 316.3h1.5M414.55 316.3h1.5M420.45 316.3h1.5M421.95 316.3h1.5M450.75 316.3h1.5M477.65 316.3h1.5M480.15 316.3h1.5M488.55 316.3h1.5M499.95 316.3h1.5M514.95 316.3h1.5M518.35 316.3h1.5M523.85 316.3h1.5M528.35 316.3h1.5M528.85 316.3h1.5M535.75 316.3h1.5M537.25 316.3h1.5M78.55 318.9h1.5M97.45 318.9h1.5M124.25 318.9h1.5M133.25 318.9h1.5M141.65 318.9h1.5M145.15 318.9h1.5M147.15 318.9h1.5M148.15 318.9h1.5M152.55 318.9h1.5M178.45 318.9h1.5M197.85 318.9h1.5M223.65 318.9h1.5M225.15 318.9h1.5M297.25 318.9h1.5M304.65 318.9h1.5M306.15 318.9h1.5M322.05 318.9h1.5M333.95 318.9h1.5M334.45 318.9h1.5M335.95 318.9h1.5M338.45 318.9h1.5M347.95 318.9h1.5M352.85 318.9h1.5M358.35 318.9h1.5M361.85 318.9h1.5M364.35 318.9h1.5M366.75 318.9h1.5M368.75 318.9h1.5M382.65 318.9h1.5M386.15 318.9h1.5M393.65 318.9h1.5M410.55 318.9h1.5M441.85 318.9h1.5M448.85 318.9h1.5M464.75 318.9h1.5M468.15 318.9h1.5M483.05 318.9h1.5M503.45 318.9h1.5M509.45 318.9h1.5M530.85 318.9h1.5M111.35 321.4h1.5M112.85 321.4h1.5M122.75 321.4h1.5M125.25 321.4h1.5M139.15 321.4h1.5M148.15 321.4h1.5M151.55 321.4h1.5M155.05 321.4h1.5M167.45 321.4h1.5M168.95 321.4h1.5M179.95 321.4h1.5M180.45 321.4h1.5M191.35 321.4h1.5M200.25 321.4h1.5M210.75 321.4h1.5M219.65 321.4h1.5M224.65 321.4h1.5M231.15 321.4h1.5M249.55 321.4h1.5M251.45 321.4h1.5M271.35 321.4h1.5M273.35 321.4h1.5M278.85 321.4h1.5M279.35 321.4h1.5M288.25 321.4h1.5M309.65 321.4h1.5M321.05 321.4h1.5M324.05 321.4h1.5M325.55 321.4h1.5M327.05 321.4h1.5M331.05 321.4h1.5M332.05 321.4h1.5M332.95 321.4h1.5M333.45 321.4h1.5M333.95 321.4h1.5M334.95 321.4h1.5M344.45 321.4h1.5M350.35 321.4h1.5M372.75 321.4h1.5M381.75 321.4h1.5M407.55 321.4h1.5M411.55 321.4h1.5M412.55 321.4h1.5M427.45 321.4h1.5M448.85 321.4h1.5M471.65 321.4h1.5M504.45 321.4h1.5M506.95 321.4h1.5M512.95 321.4h1.5M523.35 321.4h1.5M523.85 321.4h1.5M525.85 321.4h1.5M559.15 321.4h1.5M92.45 323.9h1.5M93.95 323.9h1.5M105.35 323.9h1.5M117.35 323.9h1.5M119.25 323.9h1.5M125.25 323.9h1.5M130.75 323.9h1.5M138.65 323.9h1.5M143.65 323.9h1.5M147.65 323.9h1.5M214.75 323.9h1.5M218.15 323.9h1.5M222.65 323.9h1.5M232.15 323.9h1.5M234.05 323.9h1.5M238.05 323.9h1.5M239.55 323.9h1.5M258.45 323.9h1.5M267.85 323.9h1.5M286.75 323.9h1.5M292.75 323.9h1.5M293.75 323.9h1.5M317.55 323.9h1.5M331.55 323.9h1.5M339.45 323.9h1.5M354.85 323.9h1.5M356.35 323.9h1.5M367.75 323.9h1.5M371.75 323.9h1.5M383.65 323.9h1.5M387.65 323.9h1.5M413.55 323.9h1.5M422.45 323.9h1.5M422.95 323.9h1.5M427.45 323.9h1.5M434.35 323.9h1.5M437.85 323.9h1.5M438.85 323.9h1.5M459.25 323.9h1.5M463.75 323.9h1.5M464.25 323.9h1.5M475.65 323.9h1.5M498.45 323.9h1.5M506.45 323.9h1.5M521.35 323.9h1.5M82.55 326.5h1.5M85.45 326.5h1.5M106.35 326.5h1.5M131.75 326.5h1.5M146.15 326.5h1.5M160.05 326.5h1.5M187.35 326.5h1.5M190.85 326.5h1.5M194.85 326.5h1.5M195.35 326.5h1.5M204.75 326.5h1.5M205.25 326.5h1.5M216.25 326.5h1.5M223.15 326.5h1.5M225.65 326.5h1.5M245.55 326.5h1.5M290.25 326.5h1.5M303.15 326.5h1.5M305.65 326.5h1.5M310.15 326.5h1.5M318.55 326.5h1.5M319.05 326.5h1.5M320.55 326.5h1.5M321.55 326.5h1.5M322.55 326.5h1.5M323.05 326.5h1.5M324.05 326.5h1.5M326.05 326.5h1.5M327.55 326.5h1.5M332.05 326.5h1.5M335.95 326.5h1.5M340.45 326.5h1.5M347.95 326.5h1.5M348.45 326.5h1.5M352.35 326.5h1.5M356.35 326.5h1.5M367.75 326.5h1.5M371.25 326.5h1.5M387.65 326.5h1.5M390.15 326.5h1.5M403.05 326.5h1.5M414.05 326.5h1.5M415.95 326.5h1.5M438.85 326.5h1.5M440.85 326.5h1.5M441.85 326.5h1.5M445.85 326.5h1.5M451.75 326.5h1.5M454.25 326.5h1.5M471.15 326.5h1.5M471.65 326.5h1.5M479.15 326.5h1.5M486.05 326.5h1.5M506.45 326.5h1.5M90.95 329h1.5M95.45 329h1.5M119.75 329h1.5M126.25 329h1.5M128.75 329h1.5M139.65 329h1.5M140.15 329h1.5M143.65 329h1.5M151.05 329h1.5M151.55 329h1.5M155.55 329h1.5M156.55 329h1.5M159.55 329h1.5M169.45 329h1.5M186.85 329h1.5M188.85 329h1.5M189.85 329h1.5M191.35 329h1.5M193.35 329h1.5M205.75 329h1.5M209.75 329h1.5M210.25 329h1.5M224.65 329h1.5M243.05 329h1.5M245.55 329h1.5M246.55 329h1.5M252.95 329h1.5M281.85 329h1.5M295.75 329h1.5M308.65 329h1.5M315.65 329h1.5M316.15 329h1.5M323.05 329h1.5M327.05 329h1.5M333.45 329h1.5M346.95 329h1.5M349.45 329h1.5M353.35 329h1.5M397.65 329h1.5M414.55 329h1.5M425.45 329h1.5M446.85 329h1.5M447.85 329h1.5M450.75 329h1.5M464.75 329h1.5M470.65 329h1.5M496.05 329h1.5M500.45 329h1.5M507.95 329h1.5M510.45 329h1.5M514.45 329h1.5M522.35 329h1.5M530.85 329h1.5M531.75 329h1.5M542.25 329h1.5M553.15 329h1.5M560.65 329h1.5M562.15 329h1.5M96.95 331.6h1.5M107.35 331.6h1.5M123.25 331.6h1.5M138.15 331.6h1.5M140.15 331.6h1.5M161.55 331.6h1.5M162.55 331.6h1.5M171.45 331.6h1.5M177.45 331.6h1.5M183.45 331.6h1.5M188.85 331.6h1.5M197.35 331.6h1.5M205.75 331.6h1.5M228.15 331.6h1.5M228.65 331.6h1.5M235.05 331.6h1.5M239.05 331.6h1.5M250.05 331.6h1.5M250.45 331.6h1.5M273.85 331.6h1.5M284.25 331.6h1.5M289.25 331.6h1.5M296.25 331.6h1.5M310.15 331.6h1.5M317.05 331.6h1.5M320.55 331.6h1.5M323.05 331.6h1.5M326.05 331.6h1.5M331.55 331.6h1.5M344.45 331.6h1.5M356.85 331.6h1.5M360.85 331.6h1.5M378.75 331.6h1.5M385.15 331.6h1.5M430.95 331.6h1.5M439.35 331.6h1.5M455.75 331.6h1.5M503.45 331.6h1.5M509.45 331.6h1.5M559.65 331.6h1.5M569.55 331.6h1.5M82.55 334.1h1.5M89.45 334.1h1.5M101.35 334.1h1.5M113.85 334.1h1.5M124.75 334.1h1.5M125.75 334.1h1.5M128.25 334.1h1.5M151.55 334.1h1.5M157.55 334.1h1.5M163.05 334.1h1.5M167.45 334.1h1.5M186.35 334.1h1.5M226.65 334.1h1.5M234.05 334.1h1.5M249.55 334.1h1.5M250.45 334.1h1.5M260.95 334.1h1.5M269.85 334.1h1.5M275.35 334.1h1.5M285.75 334.1h1.5M288.25 334.1h1.5M293.25 334.1h1.5M303.15 334.1h1.5M314.65 334.1h1.5M315.15 334.1h1.5M323.55 334.1h1.5M339.95 334.1h1.5M344.45 334.1h1.5M345.95 334.1h1.5M348.95 334.1h1.5M354.35 334.1h1.5M354.85 334.1h1.5M359.35 334.1h1.5M359.85 334.1h1.5M360.35 334.1h1.5M363.35 334.1h1.5M375.25 334.1h1.5M384.65 334.1h1.5M388.65 334.1h1.5M399.05 334.1h1.5M400.05 334.1h1.5M410.55 334.1h1.5M413.05 334.1h1.5M417.95 334.1h1.5M421.45 334.1h1.5M452.25 334.1h1.5M454.25 334.1h1.5M456.75 334.1h1.5M462.75 334.1h1.5M474.15 334.1h1.5M477.65 334.1h1.5M537.25 334.1h1.5M552.65 334.1h1.5M555.15 334.1h1.5M566.55 334.1h1.5M82.05 336.7h1.5M123.75 336.7h1.5M129.25 336.7h1.5M161.05 336.7h1.5M192.35 336.7h1.5M193.85 336.7h1.5M209.25 336.7h1.5M214.75 336.7h1.5M248.05 336.7h1.5M266.45 336.7h1.5M284.75 336.7h1.5M285.75 336.7h1.5M289.75 336.7h1.5M300.65 336.7h1.5M309.65 336.7h1.5M328.55 336.7h1.5M332.95 336.7h1.5M348.45 336.7h1.5M351.35 336.7h1.5M357.35 336.7h1.5M371.25 336.7h1.5M439.35 336.7h1.5M475.65 336.7h1.5M480.65 336.7h1.5M482.05 336.7h1.5M483.55 336.7h1.5M485.05 336.7h1.5M491.05 336.7h1.5M498.95 336.7h1.5M510.95 336.7h1.5M525.85 336.7h1.5M537.75 336.7h1.5M540.25 336.7h1.5M85.45 339.2h1.5M94.95 339.2h1.5M102.35 339.2h1.5M104.35 339.2h1.5M105.35 339.2h1.5M109.35 339.2h1.5M117.75 339.2h1.5M142.65 339.2h1.5M150.15 339.2h1.5M154.55 339.2h1.5M176.95 339.2h1.5M211.75 339.2h1.5M229.65 339.2h1.5M230.65 339.2h1.5M235.05 339.2h1.5M236.05 339.2h1.5M260.45 339.2h1.5M314.15 339.2h1.5M317.05 339.2h1.5M317.55 339.2h1.5M318.05 339.2h1.5M321.55 339.2h1.5M323.55 339.2h1.5M327.05 339.2h1.5M329.55 339.2h1.5M345.45 339.2h1.5M354.35 339.2h1.5M359.35 339.2h1.5M360.85 339.2h1.5M365.85 339.2h1.5M381.25 339.2h1.5M412.05 339.2h1.5M417.95 339.2h1.5M421.45 339.2h1.5M479.15 339.2h1.5M485.55 339.2h1.5M503.95 339.2h1.5M516.85 339.2h1.5M517.35 339.2h1.5M521.35 339.2h1.5M538.25 339.2h1.5M541.75 339.2h1.5M543.75 339.2h1.5M550.15 339.2h1.5M555.15 339.2h1.5M565.05 339.2h1.5M79.55 341.7h1.5M102.85 341.7h1.5M103.35 341.7h1.5M131.25 341.7h1.5M156.05 341.7h1.5M177.45 341.7h1.5M178.45 341.7h1.5M183.85 341.7h1.5M188.85 341.7h1.5M203.25 341.7h1.5M219.65 341.7h1.5M231.65 341.7h1.5M271.35 341.7h1.5M277.85 341.7h1.5M278.35 341.7h1.5M297.75 341.7h1.5M304.65 341.7h1.5M306.15 341.7h1.5M313.15 341.7h1.5M315.65 341.7h1.5M329.55 341.7h1.5M334.45 341.7h1.5M334.95 341.7h1.5M336.45 341.7h1.5M337.45 341.7h1.5M346.45 341.7h1.5M347.45 341.7h1.5M350.85 341.7h1.5M353.35 341.7h1.5M374.25 341.7h1.5M426.95 341.7h1.5M431.45 341.7h1.5M461.25 341.7h1.5M464.75 341.7h1.5M504.95 341.7h1.5M545.25 341.7h1.5M547.25 341.7h1.5M103.35 344.3h1.5M155.05 344.3h1.5M162.05 344.3h1.5M184.85 344.3h1.5M189.85 344.3h1.5M238.05 344.3h1.5M245.05 344.3h1.5M246.55 344.3h1.5M258.95 344.3h1.5M299.65 344.3h1.5M301.15 344.3h1.5M311.65 344.3h1.5M320.55 344.3h1.5M321.05 344.3h1.5M336.45 344.3h1.5M336.95 344.3h1.5M339.45 344.3h1.5M346.45 344.3h1.5M352.35 344.3h1.5M354.35 344.3h1.5M396.15 344.3h1.5M396.65 344.3h1.5M397.65 344.3h1.5M419.95 344.3h1.5M436.85 344.3h1.5M443.85 344.3h1.5M452.25 344.3h1.5M485.05 344.3h1.5M494.05 344.3h1.5M503.45 344.3h1.5M506.95 344.3h1.5M530.85 344.3h1.5M97.95 346.8h1.5M106.85 346.8h1.5M123.25 346.8h1.5M124.75 346.8h1.5M139.65 346.8h1.5M146.15 346.8h1.5M178.45 346.8h1.5M211.25 346.8h1.5M215.75 346.8h1.5M233.55 346.8h1.5M282.85 346.8h1.5M286.25 346.8h1.5M294.75 346.8h1.5M308.15 346.8h1.5M311.65 346.8h1.5M312.65 346.8h1.5M318.05 346.8h1.5M328.05 346.8h1.5M340.95 346.8h1.5M373.25 346.8h1.5M403.55 346.8h1.5M421.95 346.8h1.5M429.95 346.8h1.5M456.75 346.8h1.5M467.15 346.8h1.5M482.55 346.8h1.5M515.35 346.8h1.5M545.25 346.8h1.5M551.15 346.8h1.5M564.15 346.8h1.5M124.25 349.4h1.5M137.15 349.4h1.5M145.15 349.4h1.5M156.05 349.4h1.5M162.05 349.4h1.5M177.95 349.4h1.5M187.85 349.4h1.5M202.25 349.4h1.5M249.55 349.4h1.5M252.95 349.4h1.5M263.45 349.4h1.5M287.75 349.4h1.5M295.75 349.4h1.5M307.15 349.4h1.5M310.65 349.4h1.5M313.15 349.4h1.5M324.05 349.4h1.5M325.55 349.4h1.5M327.05 349.4h1.5M328.05 349.4h1.5M339.95 349.4h1.5M346.45 349.4h1.5M360.85 349.4h1.5M372.25 349.4h1.5M406.55 349.4h1.5M415.95 349.4h1.5M449.75 349.4h1.5M471.65 349.4h1.5M489.05 349.4h1.5M493.05 349.4h1.5M496.55 349.4h1.5M520.35 349.4h1.5M533.25 349.4h1.5M95.95 351.9h1.5M100.85 351.9h1.5M104.35 351.9h1.5M112.35 351.9h1.5M131.75 351.9h1.5M138.65 351.9h1.5M200.25 351.9h1.5M208.25 351.9h1.5M220.65 351.9h1.5M287.75 351.9h1.5M289.25 351.9h1.5M303.65 351.9h1.5M310.15 351.9h1.5M314.15 351.9h1.5M340.45 351.9h1.5M364.85 351.9h1.5M369.75 351.9h1.5M375.75 351.9h1.5M396.15 351.9h1.5M407.55 351.9h1.5M433.85 351.9h1.5M466.65 351.9h1.5M467.65 351.9h1.5M480.15 351.9h1.5M487.05 351.9h1.5M496.05 351.9h1.5M498.45 351.9h1.5M504.45 351.9h1.5M522.35 351.9h1.5M570.55 351.9h1.5M119.75 354.4h1.5M146.15 354.4h1.5M153.55 354.4h1.5M161.05 354.4h1.5M189.85 354.4h1.5M239.05 354.4h1.5M255.95 354.4h1.5M288.25 354.4h1.5M288.75 354.4h1.5M305.15 354.4h1.5M308.15 354.4h1.5M321.55 354.4h1.5M340.95 354.4h1.5M354.85 354.4h1.5M391.65 354.4h1.5M398.15 354.4h1.5M453.25 354.4h1.5M465.25 354.4h1.5M468.15 354.4h1.5M473.15 354.4h1.5M513.45 354.4h1.5M535.25 354.4h1.5M548.25 354.4h1.5M551.65 354.4h1.5M162.05 357h1.5M181.45 357h1.5M201.75 357h1.5M220.65 357h1.5M237.05 357h1.5M243.05 357h1.5M250.95 357h1.5M262.95 357h1.5M266.85 357h1.5M280.85 357h1.5M288.75 357h1.5M314.15 357h1.5M318.05 357h1.5M320.05 357h1.5M397.65 357h1.5M465.25 357h1.5M468.15 357h1.5M470.65 357h1.5M491.55 357h1.5M542.25 357h1.5M548.65 357h1.5M562.65 357h1.5M85.95 359.5h1.5M87.45 359.5h1.5M113.85 359.5h1.5M116.85 359.5h1.5M133.75 359.5h1.5M155.55 359.5h1.5M268.85 359.5h1.5M308.15 359.5h1.5M315.65 359.5h1.5M325.05 359.5h1.5M353.35 359.5h1.5M354.35 359.5h1.5M381.25 359.5h1.5M396.15 359.5h1.5M422.45 359.5h1.5M460.25 359.5h1.5M473.15 359.5h1.5M557.15 359.5h1.5M557.65 359.5h1.5M559.15 359.5h1.5M95.95 362.1h1.5M96.45 362.1h1.5M98.95 362.1h1.5M113.35 362.1h1.5M123.25 362.1h1.5M138.15 362.1h1.5M139.15 362.1h1.5M143.65 362.1h1.5M160.55 362.1h1.5M187.35 362.1h1.5M308.15 362.1h1.5M323.55 362.1h1.5M325.05 362.1h1.5M326.55 362.1h1.5M333.95 362.1h1.5M376.25 362.1h1.5M377.25 362.1h1.5M446.35 362.1h1.5M448.85 362.1h1.5M450.75 362.1h1.5M475.65 362.1h1.5M500.45 362.1h1.5M541.25 362.1h1.5M557.65 362.1h1.5M109.35 364.6h1.5M133.25 364.6h1.5M171.95 364.6h1.5M233.15 364.6h1.5M261.45 364.6h1.5M316.55 364.6h1.5M325.55 364.6h1.5M328.55 364.6h1.5M336.95 364.6h1.5M357.85 364.6h1.5M368.25 364.6h1.5M398.65 364.6h1.5M413.05 364.6h1.5M415.55 364.6h1.5M419.45 364.6h1.5M423.45 364.6h1.5M430.95 364.6h1.5M454.75 364.6h1.5M465.25 364.6h1.5M478.15 364.6h1.5M499.95 364.6h1.5M515.35 364.6h1.5M545.25 364.6h1.5M79.55 367.2h1.5M103.35 367.2h1.5M127.75 367.2h1.5M165.55 367.2h1.5M204.75 367.2h1.5M206.25 367.2h1.5M218.15 367.2h1.5M266.85 367.2h1.5M270.35 367.2h1.5M271.35 367.2h1.5M304.65 367.2h1.5M320.55 367.2h1.5M355.85 367.2h1.5M375.25 367.2h1.5M378.25 367.2h1.5M383.65 367.2h1.5M386.15 367.2h1.5M415.95 367.2h1.5M420.45 367.2h1.5M453.75 367.2h1.5M482.05 367.2h1.5M499.95 367.2h1.5M511.95 367.2h1.5M515.85 367.2h1.5M521.35 367.2h1.5M529.35 367.2h1.5M548.25 367.2h1.5M569.05 367.2h1.5M133.25 369.7h1.5M222.65 369.7h1.5M225.15 369.7h1.5M257.45 369.7h1.5M258.95 369.7h1.5M267.85 369.7h1.5M269.85 369.7h1.5M283.25 369.7h1.5M287.75 369.7h1.5M304.65 369.7h1.5M311.65 369.7h1.5M330.05 369.7h1.5M341.45 369.7h1.5M341.95 369.7h1.5M347.95 369.7h1.5M408.05 369.7h1.5M442.85 369.7h1.5M512.95 369.7h1.5M520.85 369.7h1.5M565.05 369.7h1.5M111.85 372.2h1.5M116.35 372.2h1.5M133.75 372.2h1.5M176.95 372.2h1.5M197.35 372.2h1.5M233.15 372.2h1.5M251.45 372.2h1.5M298.75 372.2h1.5M317.55 372.2h1.5M321.05 372.2h1.5M333.45 372.2h1.5M336.45 372.2h1.5M350.35 372.2h1.5M389.15 372.2h1.5M397.15 372.2h1.5M398.65 372.2h1.5M399.05 372.2h1.5M460.25 372.2h1.5M471.15 372.2h1.5M474.15 372.2h1.5M488.05 372.2h1.5M489.55 372.2h1.5M492.55 372.2h1.5M129.75 374.8h1.5M140.15 374.8h1.5M155.55 374.8h1.5M168.95 374.8h1.5M198.85 374.8h1.5M232.15 374.8h1.5M268.85 374.8h1.5M292.75 374.8h1.5M307.15 374.8h1.5M324.05 374.8h1.5M335.45 374.8h1.5M336.95 374.8h1.5M342.45 374.8h1.5M360.35 374.8h1.5M387.65 374.8h1.5M422.95 374.8h1.5M439.85 374.8h1.5M441.85 374.8h1.5M443.85 374.8h1.5M510.95 374.8h1.5M130.25 377.3h1.5M225.15 377.3h1.5M276.35 377.3h1.5M324.55 377.3h1.5M331.05 377.3h1.5M336.95 377.3h1.5M342.95 377.3h1.5M358.35 377.3h1.5M392.65 377.3h1.5M402.05 377.3h1.5M404.05 377.3h1.5M452.25 377.3h1.5M459.75 377.3h1.5M516.85 377.3h1.5M523.35 377.3h1.5M551.65 377.3h1.5M125.25 379.9h1.5M189.35 379.9h1.5M221.65 379.9h1.5M224.15 379.9h1.5M267.85 379.9h1.5M269.85 379.9h1.5M271.35 379.9h1.5M307.65 379.9h1.5M320.55 379.9h1.5M345.95 379.9h1.5M347.95 379.9h1.5M394.15 379.9h1.5M399.05 379.9h1.5M408.05 379.9h1.5M417.45 379.9h1.5M431.45 379.9h1.5M457.75 379.9h1.5M544.75 379.9h1.5M549.65 379.9h1.5M565.05 379.9h1.5M93.45 382.4h1.5M108.35 382.4h1.5M119.75 382.4h1.5M194.35 382.4h1.5M302.15 382.4h1.5M309.15 382.4h1.5M341.95 382.4h1.5M343.45 382.4h1.5M366.75 382.4h1.5M384.15 382.4h1.5M405.05 382.4h1.5M416.95 382.4h1.5M435.85 382.4h1.5M444.85 382.4h1.5M507.95 382.4h1.5M519.85 382.4h1.5M552.15 382.4h1.5M102.35 385h1.5M121.75 385h1.5M171.45 385h1.5M175.95 385h1.5M177.45 385h1.5M211.75 385h1.5M263.45 385h1.5M279.85 385h1.5M311.15 385h1.5M320.55 385h1.5M322.05 385h1.5M323.55 385h1.5M329.05 385h1.5M341.45 385h1.5M344.45 385h1.5M409.55 385h1.5M418.45 385h1.5M456.75 385h1.5M476.15 385h1.5M536.75 385h1.5M547.25 385h1.5M549.15 385h1.5M99.45 387.5h1.5M131.75 387.5h1.5M155.55 387.5h1.5M226.15 387.5h1.5M241.05 387.5h1.5M269.85 387.5h1.5M300.65 387.5h1.5M338.95 387.5h1.5M362.35 387.5h1.5M396.15 387.5h1.5M494.55 387.5h1.5M546.75 387.5h1.5M118.75 390h1.5M128.25 390h1.5M176.95 390h1.5M197.35 390h1.5M284.25 390h1.5M285.75 390h1.5M301.65 390h1.5M311.65 390h1.5M313.65 390h1.5M329.55 390h1.5M344.95 390h1.5M346.45 390h1.5M370.25 390h1.5M421.95 390h1.5M445.35 390h1.5M525.85 390h1.5M91.95 392.6h1.5M116.35 392.6h1.5M137.65 392.6h1.5M138.65 392.6h1.5M144.15 392.6h1.5M145.15 392.6h1.5M149.15 392.6h1.5M211.75 392.6h1.5M295.75 392.6h1.5M305.65 392.6h1.5M307.15 392.6h1.5M332.95 392.6h1.5M335.95 392.6h1.5M337.45 392.6h1.5M519.35 392.6h1.5M112.85 395.1h1.5M115.85 395.1h1.5M118.25 395.1h1.5M122.75 395.1h1.5M137.65 395.1h1.5M171.95 395.1h1.5M206.25 395.1h1.5M240.55 395.1h1.5M267.35 395.1h1.5M352.85 395.1h1.5M388.15 395.1h1.5M563.65 395.1h1.5M570.55 395.1h1.5M184.35 397.7h1.5M198.85 397.7h1.5M200.25 397.7h1.5M239.05 397.7h1.5M285.75 397.7h1.5M300.15 397.7h1.5M313.65 397.7h1.5M321.55 397.7h1.5M386.65 397.7h1.5M450.25 397.7h1.5M498.05 397.7h1.5M509.95 397.7h1.5M521.85 397.7h1.5M544.75 397.7h1.5M109.35 400.2h1.5M139.65 400.2h1.5M143.65 400.2h1.5M186.35 400.2h1.5M203.25 400.2h1.5M226.15 400.2h1.5M347.95 400.2h1.5M373.25 400.2h1.5M393.65 400.2h1.5M427.95 400.2h1.5M88.95 402.7h1.5M114.35 402.7h1.5M134.65 402.7h1.5M159.05 402.7h1.5M191.85 402.7h1.5M256.95 402.7h1.5M320.55 402.7h1.5M337.45 402.7h1.5M344.95 402.7h1.5M347.45 402.7h1.5M362.35 402.7h1.5M415.95 402.7h1.5M439.85 402.7h1.5M465.65 402.7h1.5M119.75 405.3h1.5M206.25 405.3h1.5M255.95 405.3h1.5M379.25 405.3h1.5M427.45 405.3h1.5M432.35 405.3h1.5M462.25 405.3h1.5M532.25 405.3h1.5M564.15 405.3h1.5M94.95 407.8h1.5M105.85 407.8h1.5M155.55 407.8h1.5M182.45 407.8h1.5M260.45 407.8h1.5M297.25 407.8h1.5M297.75 407.8h1.5M309.65 407.8h1.5M311.65 407.8h1.5M321.55 407.8h1.5M322.55 407.8h1.5M334.45 407.8h1.5M359.85 407.8h1.5M440.85 407.8h1.5M474.65 407.8h1.5M539.25 407.8h1.5M549.65 407.8h1.5M79.05 410.4h1.5M162.05 410.4h1.5M164.55 410.4h1.5M212.75 410.4h1.5M267.85 410.4h1.5M338.45 410.4h1.5M423.45 410.4h1.5M435.85 410.4h1.5M543.75 410.4h1.5M104.85 412.9h1.5M148.65 412.9h1.5M174.95 412.9h1.5M186.35 412.9h1.5M237.55 412.9h1.5M287.25 412.9h1.5M325.55 412.9h1.5M332.55 412.9h1.5M337.45 412.9h1.5M364.85 412.9h1.5M377.25 412.9h1.5M383.15 412.9h1.5M385.65 412.9h1.5M396.15 412.9h1.5M421.95 412.9h1.5M463.25 412.9h1.5M498.45 412.9h1.5M558.65 412.9h1.5M133.25 415.5h1.5M178.45 415.5h1.5M207.75 415.5h1.5M299.65 415.5h1.5M348.95 415.5h1.5M399.05 415.5h1.5M402.55 415.5h1.5M425.45 415.5h1.5M459.25 415.5h1.5M525.85 415.5h1.5M544.75 415.5h1.5M98.45 418h1.5M163.55 418h1.5M311.65 418h1.5M485.55 418h1.5M511.45 418h1.5M125.75 420.5h1.5M147.65 420.5h1.5M196.35 420.5h1.5M208.75 420.5h1.5M250.95 420.5h1.5M286.25 420.5h1.5M302.65 420.5h1.5M338.45 420.5h1.5M368.75 420.5h1.5M402.55 420.5h1.5M519.35 420.5h1.5M545.75 420.5h1.5M156.55 423.1h1.5M268.35 423.1h1.5M281.85 423.1h1.5M302.15 423.1h1.5M306.65 423.1h1.5M459.25 423.1h1.5M476.15 423.1h1.5M560.15 423.1h1.5M322.55 425.6h1.5M332.05 425.6h1.5M335.95 425.6h1.5M395.65 425.6h1.5M497.55 425.6h1.5M138.65 428.2h1.5M193.85 428.2h1.5M314.65 428.2h1.5M317.05 428.2h1.5M326.55 428.2h1.5M339.45 428.2h1.5M342.95 428.2h1.5M370.25 428.2h1.5M414.05 428.2h1.5M472.65 428.2h1.5M78.55 430.7h1.5M189.35 430.7h1.5M271.85 430.7h1.5M315.15 430.7h1.5M330.55 430.7h1.5M341.45 430.7h1.5M427.45 430.7h1.5M534.25 430.7h1.5M550.15 430.7h1.5M97.45 433.2h1.5M216.25 433.2h1.5M219.65 433.2h1.5M246.55 433.2h1.5M354.35 433.2h1.5M380.75 433.2h1.5M87.45 435.8h1.5M117.35 435.8h1.5M124.75 435.8h1.5M159.55 435.8h1.5M183.45 435.8h1.5M224.65 435.8h1.5M341.95 435.8h1.5M362.85 435.8h1.5M417.95 435.8h1.5M487.05 435.8h1.5M548.25 435.8h1.5M224.15 438.3h1.5M328.05 438.3h1.5M459.75 438.3h1.5M153.05 440.9h1.5M241.55 440.9h1.5M441.35 440.9h1.5M312.65 443.4h1.5M326.55 443.4h1.5M332.05 443.4h1.5M438.35 443.4h1.5M222.15 446h1.5M238.05 446h1.5M312.65 446h1.5M436.35 446h1.5M185.35 448.5h1.5M209.25 448.5h1.5M271.35 448.5h1.5M335.95 448.5h1.5M351.85 448.5h1.5M105.35 451h1.5M168.45 451h1.5M215.25 451h1.5M459.75 451h1.5M111.85 453.6h1.5M239.05 453.6h1.5M295.75 453.6h1.5M342.45 453.6h1.5M354.35 453.6h1.5M395.65 453.6h1.5M472.65 453.6h1.5M479.65 453.6h1.5M94.45 456.1h1.5M140.15 456.1h1.5M319.55 456.1h1.5M495.05 456.1h1.5M86.45 458.7h1.5M228.65 458.7h1.5M279.35 458.7h1.5M399.55 458.7h1.5M554.65 458.7h1.5M252.45 461.2h1.5M338.95 461.2h1.5M432.35 461.2h1.5M503.95 461.2h1.5M320.55 463.8h1.5M352.85 463.8h1.5M168.95 466.3h1.5M332.05 468.8h1.5M400.55 468.8h1.5M527.85 468.8h1.5M78.55 471.4h1.5M115.85 471.4h1.5M273.35 471.4h1.5M463.75 471.4h1.5M336.45 473.9h1.5M434.35 473.9h1.5M282.35 476.5h1.5M255.95 479h1.5M425.95 481.5h1.5M246.05 484.1h1.5M248.05 484.1h1.5M279.35 486.6h1.5M464.25 486.6h1.5M430.95 489.2h1.5M411.55 494.3h1.5M133.25 496.8h1.5M398.65 496.8h1.5M403.05 496.8h1.5M341.45 501.9h1.5M352.85 501.9h1.5M536.75 507h1.5M496.05 509.5h1.5M276.85 514.6h1.5M240.55 524.8h1.5M332.95 529.8h1.5M234.55 534.9h1.5M376.75 534.9h1.5M343.95 537.5h1.5M296.75 540h1.5M215.25 560.3h1.5" stroke="#000" stroke-width="1.5" fill="none"/>
<path d="M59.5 354.45H592.5" stroke="#cd2626" stroke-width="2.25" stroke-dasharray="9 9" stroke-linecap="round" fill="none"/>
<path d="M283.55 580.5V47.5" stroke="#006400" stroke-width="2.25" stroke-dasharray="9 9" stroke-linecap="round" fill="none"/>
<path d="M367.05 580.5V47.5" stroke="#006400" stroke-width="2.25" stroke-dasharray="9 9" stroke-linecap="round" fill="none"/>
<rect x="59.5" y="47.5" width="533" height="533" fill="none" stroke="#000" stroke-width="0.75"/>
<path d="M126.5 580.5H524.1M126.5 580.5v6.4M225.9 580.5v6.4M325.3 580.5v6.4M424.7 580.5v6.4M524.1 580.5v6.4" fill="none" stroke="#000" stroke-width="0.75"/>
<text transform="translate(126.1 601.9) scale(0.95 1)" text-anchor="middle" font-size="10.7">-400</text>
<text transform="translate(225.5 601.9) scale(0.95 1)" text-anchor="middle" font-size="10.7">-200</text>
<text transform="translate(324.9 601.9) scale(0.95 1)" text-anchor="middle" font-size="10.7">0</text>
<text transform="translate(424.3 601.9) scale(0.95 1)" text-anchor="middle" font-size="10.7">200</text>
<text transform="translate(523.7 601.9) scale(0.95 1)" text-anchor="middle" font-size="10.7">400</text>
<path d="M59.5 67.2V575.6M59.5 575.6h-6.4M59.5 448.5h-6.4M59.5 321.4h-6.4M59.5 194.3h-6.4M59.5 67.2h-6.4" fill="none" stroke="#000" stroke-width="0.75"/>
<text transform="translate(45 576.6) rotate(-90)" text-anchor="middle" font-size="10.7">80</text>
<text transform="translate(45 449.5) rotate(-90)" text-anchor="middle" font-size="10.7">85</text>
<text transform="translate(45 322.4) rotate(-90)" text-anchor="middle" font-size="10.7">90</text>
<text transform="translate(45 195.3) rotate(-90)" text-anchor="middle" font-size="10.7">95</text>
<text transform="translate(45 68.2) rotate(-90)" text-anchor="middle" font-size="10.7">100</text>
<text transform="translate(323 31.9) scale(0.943 1)" text-anchor="middle" font-size="22.7" font-weight="bold">Top hit for each peak</text>
<text transform="translate(326.7 626.4)" text-anchor="middle" font-size="15.85">Distance to peak summit</text>
<text transform="translate(22.3 314) rotate(-90)" text-anchor="middle" font-size="15.85">Motif score</text>
<clipPath id="c2"><rect x="699.5" y="47.5" width="533" height="533"/></clipPath>
<filter id="heat" x="-5%" y="-5%" width="110%" height="110%" color-interpolation-filters="sRGB"><feGaussianBlur stdDeviation="4"/><feComponentTransfer><feFuncR type="table" tableValues="1 0 1"/><feFuncG type="table" tableValues="1 0 0"/><feFuncB type="table" tableValues="1 1 0"/><feFuncA type="linear" slope="0" intercept="1"/></feComponentTransfer></filter>
<g clip-path="url(#c2)"><g filter="url(#heat)" shape-rendering="crispEdges">
<rect x="666" y="14" width="602" height="602" fill="#000"/>
<path fill="#010101" d="M694 30h66v6h-66zM802 30h72v6h-72zM1156 30h84v6h-84zM694 36h12v6h-12zM1228 36h12v6h-12zM688 42h12v6h-12zM1228 42h12v6h-12zM688 48h12v6h-12zM1234 48h6v6h-6zM688 54h12v6h-12zM1234 54h12v6h-12zM688 60h6v6h-6zM1234 60h12v6h-12zM688 66h6v6h-6zM1234 66h12v6h-12zM682 72h12v6h-12zM1240 72h6v6h-6zM682 78h12v6h-12zM1240 78h6v6h-6zM682 84h6v6h-6zM1240 84h6v6h-6zM682 90h6v6h-6zM1240 90h12v6h-12zM682 96h6v6h-6zM1246 96h6v6h-6zM682 102h6v6h-6zM1246 102h6v6h-6zM682 108h6v6h-6zM1246 108h6v6h-6zM682 114h6v6h-6zM1246 114h6v6h-6zM1246 120h6v6h-6zM1246 126h6v6h-6zM1246 132h6v6h-6zM1246 306h6v6h-6zM1246 312h6v6h-6zM1246 318h6v6h-6zM1246 324h6v6h-6zM1246 330h6v6h-6zM1246 336h6v6h-6zM1246 342h6v6h-6zM1246 348h6v6h-6zM682 354h6v6h-6zM1246 354h6v6h-6zM682 360h6v6h-6zM1246 360h6v6h-6zM682 366h6v6h-6zM1246 366h6v6h-6zM682 372h6v6h-6zM1246 372h6v6h-6zM682 378h6v6h-6zM1240 378h12v6h-12zM682 384h6v6h-6zM1240 384h6v6h-6zM682 390h6v6h-6zM1240 390h6v6h-6zM682 396h6v6h-6zM1240 396h6v6h-6zM682 402h6v6h-6zM1240 402h6v6h-6zM682 408h6v6h-6zM1240 408h6v6h-6zM682 414h6v6h-6zM1240 414h6v6h-6zM682 420h12v6h-12zM1240 420h6v6h-6zM688 426h6v6h-6zM1240 426h6v6h-6zM688 432h6v6h-6zM1234 432h12v6h-12zM688 438h6v6h-6zM1234 438h12v6h-12zM688 444h12v6h-12zM1234 444h6v6h-6zM688 450h12v6h-12zM1228 450h12v6h-12zM688 456h12v6h-12zM1222 456h18v6h-18zM694 462h12v6h-12zM1222 462h18v6h-18zM694 468h60v6h-60zM802 468h36v6h-36zM1210 468h30v6h-30zM694 474h162v6h-162zM1018 474h216v6h-216zM700 480h228v6h-228zM1006 480h228v6h-228zM706 486h228v6h-228zM994 486h240v6h-240zM766 492h180v6h-180zM988 492h126v6h-126zM1186 492h36v6h-36zM874 498h78v6h-78zM982 498h72v6h-72zM916 504h102v6h-102zM928 510h78v6h-78zM934 516h66v6h-66zM940 522h54v6h-54zM946 528h36v6h-36zM958 534h12v6h-12z"/>
<path fill="#020202" d="M760 30h42v6h-42zM874 30h48v6h-48zM1012 30h144v6h-144zM706 36h198v6h-198zM1072 36h156v6h-156zM700 42h72v6h-72zM796 42h54v6h-54zM1144 42h84v6h-84zM700 48h54v6h-54zM1216 48h18v6h-18zM700 54h6v6h-6zM1222 54h12v6h-12zM694 60h6v6h-6zM1228 60h6v6h-6zM694 66h6v6h-6zM1228 66h6v6h-6zM694 72h6v6h-6zM1234 72h6v6h-6zM1234 78h6v6h-6zM688 84h6v6h-6zM1234 84h6v6h-6zM688 90h6v6h-6zM688 96h6v6h-6zM1240 96h6v6h-6zM1240 102h6v6h-6zM1240 108h6v6h-6zM682 120h6v6h-6zM682 126h6v6h-6zM682 132h6v6h-6zM682 138h6v6h-6zM1246 138h6v6h-6zM682 144h6v6h-6zM1246 144h6v6h-6zM1246 150h6v6h-6zM1246 156h6v6h-6zM1246 162h6v6h-6zM1246 168h6v6h-6zM1246 174h6v6h-6zM1246 180h6v6h-6zM1246 186h6v6h-6zM1246 192h6v6h-6zM1246 198h6v6h-6zM1246 204h6v6h-6zM1246 210h6v6h-6zM1246 216h6v6h-6zM1246 222h6v6h-6zM1246 228h6v6h-6zM1246 234h6v6h-6zM1246 240h6v6h-6zM1246 258h6v6h-6zM1246 264h6v6h-6zM1246 270h6v6h-6zM1246 276h6v6h-6zM1246 282h6v6h-6zM1246 288h6v6h-6zM1246 294h6v6h-6zM1246 300h6v6h-6zM682 336h6v6h-6zM682 342h6v6h-6zM682 348h6v6h-6zM688 366h6v6h-6zM1240 366h6v6h-6zM688 372h6v6h-6zM1240 372h6v6h-6zM688 378h6v6h-6zM688 384h6v6h-6zM1234 384h6v6h-6zM688 390h6v6h-6zM1234 390h6v6h-6zM688 396h6v6h-6zM1234 396h6v6h-6zM688 402h6v6h-6zM1234 402h6v6h-6zM688 408h6v6h-6zM1234 408h6v6h-6zM688 414h6v6h-6zM1234 414h6v6h-6zM1234 420h6v6h-6zM694 426h6v6h-6zM1234 426h6v6h-6zM694 432h6v6h-6zM1228 432h6v6h-6zM694 438h6v6h-6zM1228 438h6v6h-6zM700 444h6v6h-6zM1216 444h18v6h-18zM700 450h12v6h-12zM808 450h42v6h-42zM1192 450h36v6h-36zM700 456h66v6h-66zM790 456h66v6h-66zM1024 456h78v6h-78zM1156 456h66v6h-66zM706 462h210v6h-210zM1006 462h216v6h-216zM754 468h48v6h-48zM838 468h90v6h-90zM994 468h216v6h-216zM856 474h84v6h-84zM988 474h30v6h-30zM928 480h24v6h-24zM982 480h24v6h-24zM934 486h60v6h-60zM946 492h42v6h-42zM952 498h30v6h-30z"/>
<path fill="#030303" d="M922 30h12v6h-12zM994 30h18v6h-18zM904 36h18v6h-18zM1012 36h60v6h-60zM772 42h24v6h-24zM850 42h54v6h-54zM1036 42h108v6h-108zM754 48h102v6h-102zM1090 48h126v6h-126zM706 54h132v6h-132zM1144 54h78v6h-78zM700 60h66v6h-66zM1198 60h30v6h-30zM700 66h6v6h-6zM1222 66h6v6h-6zM1228 72h6v6h-6zM694 78h6v6h-6zM1228 78h6v6h-6zM694 84h6v6h-6zM1234 90h6v6h-6zM688 102h6v6h-6zM688 108h6v6h-6zM688 114h6v6h-6zM1240 114h6v6h-6zM1240 120h6v6h-6zM1240 126h6v6h-6zM682 150h6v6h-6zM682 156h6v6h-6zM682 162h6v6h-6zM682 168h6v6h-6zM682 210h6v6h-6zM682 216h6v6h-6zM1246 246h6v6h-6zM1246 252h6v6h-6zM682 288h6v6h-6zM682 294h6v6h-6zM682 300h6v6h-6zM682 306h6v6h-6zM682 312h6v6h-6zM1240 312h6v6h-6zM682 318h6v6h-6zM1240 318h6v6h-6zM682 324h6v6h-6zM1240 324h6v6h-6zM682 330h6v6h-6zM1240 330h6v6h-6zM1240 336h6v6h-6zM1240 342h6v6h-6zM1240 348h6v6h-6zM688 354h6v6h-6zM1240 354h6v6h-6zM688 360h6v6h-6zM1240 360h6v6h-6zM1234 378h6v6h-6zM694 408h6v6h-6zM694 414h6v6h-6zM1228 414h6v6h-6zM694 420h6v6h-6zM1228 420h6v6h-6zM700 426h6v6h-6zM1228 426h6v6h-6zM700 432h6v6h-6zM838 432h24v6h-24zM1222 432h6v6h-6zM700 438h12v6h-12zM802 438h72v6h-72zM1066 438h30v6h-30zM1168 438h24v6h-24zM1210 438h18v6h-18zM706 444h180v6h-180zM1024 444h84v6h-84zM1138 444h78v6h-78zM712 450h96v6h-96zM850 450h60v6h-60zM1006 450h186v6h-186zM766 456h24v6h-24zM856 456h72v6h-72zM994 456h30v6h-30zM1102 456h54v6h-54zM916 462h24v6h-24zM988 462h18v6h-18zM928 468h18v6h-18zM982 468h12v6h-12zM940 474h48v6h-48zM952 480h30v6h-30z"/>
<path fill="#040404" d="M934 30h12v6h-12zM988 30h6v6h-6zM922 36h6v6h-6zM1006 36h6v6h-6zM904 42h12v6h-12zM1018 42h18v6h-18zM856 48h42v6h-42zM1036 48h54v6h-54zM838 54h24v6h-24zM1066 54h78v6h-78zM766 60h78v6h-78zM1120 60h78v6h-78zM706 66h120v6h-120zM1186 66h36v6h-36zM700 72h12v6h-12zM1216 72h12v6h-12zM700 78h6v6h-6zM1222 78h6v6h-6zM1228 84h6v6h-6zM694 90h6v6h-6zM1234 96h6v6h-6zM1234 102h6v6h-6zM688 120h6v6h-6zM688 126h6v6h-6zM1240 132h6v6h-6zM1240 138h6v6h-6zM1240 144h6v6h-6zM1240 150h6v6h-6zM1240 156h6v6h-6zM682 174h6v6h-6zM682 180h6v6h-6zM682 186h6v6h-6zM682 192h6v6h-6zM682 198h6v6h-6zM682 204h6v6h-6zM682 222h6v6h-6zM682 228h6v6h-6zM682 234h6v6h-6zM682 240h6v6h-6zM682 246h6v6h-6zM682 252h6v6h-6zM682 258h6v6h-6zM682 264h6v6h-6zM682 270h6v6h-6zM682 276h6v6h-6zM682 282h6v6h-6zM1240 282h6v6h-6zM1240 288h6v6h-6zM1240 294h6v6h-6zM1240 300h6v6h-6zM1240 306h6v6h-6zM688 342h6v6h-6zM688 348h6v6h-6zM1234 372h6v6h-6zM1228 384h6v6h-6zM694 390h6v6h-6zM1228 390h6v6h-6zM694 396h6v6h-6zM1228 396h6v6h-6zM694 402h6v6h-6zM1228 402h6v6h-6zM1228 408h6v6h-6zM700 414h6v6h-6zM700 420h6v6h-6zM784 420h48v6h-48zM856 420h12v6h-12zM1222 420h6v6h-6zM706 426h6v6h-6zM724 426h156v6h-156zM1042 426h54v6h-54zM1150 426h36v6h-36zM1222 426h6v6h-6zM706 432h132v6h-132zM862 432h24v6h-24zM1018 432h96v6h-96zM1126 432h96v6h-96zM712 438h90v6h-90zM874 438h24v6h-24zM1012 438h54v6h-54zM1096 438h72v6h-72zM1192 438h18v6h-18zM886 444h42v6h-42zM1000 444h24v6h-24zM1108 444h30v6h-30zM910 450h24v6h-24zM994 450h12v6h-12zM928 456h18v6h-18zM982 456h12v6h-12zM940 462h12v6h-12zM976 462h12v6h-12zM946 468h36v6h-36z"/>
<path fill="#050505" d="M946 30h12v6h-12zM976 30h12v6h-12zM928 36h6v6h-6zM1000 36h6v6h-6zM916 42h6v6h-6zM1012 42h6v6h-6zM898 48h12v6h-12zM1024 48h12v6h-12zM862 54h24v6h-24zM1036 54h30v6h-30zM844 60h18v6h-18zM1060 60h60v6h-60zM826 66h24v6h-24zM1084 66h102v6h-102zM712 72h120v6h-120zM1102 72h6v6h-6zM1186 72h30v6h-30zM706 78h6v6h-6zM760 78h42v6h-42zM1216 78h6v6h-6zM700 84h6v6h-6zM1228 90h6v6h-6zM694 96h6v6h-6zM694 102h6v6h-6zM1234 108h6v6h-6zM688 132h6v6h-6zM688 138h6v6h-6zM688 144h6v6h-6zM1240 162h6v6h-6zM1240 168h6v6h-6zM1240 174h6v6h-6zM1240 180h6v6h-6zM1240 186h6v6h-6zM1240 270h6v6h-6zM1240 276h6v6h-6zM688 336h6v6h-6zM694 360h6v6h-6zM1234 360h6v6h-6zM694 366h6v6h-6zM1234 366h6v6h-6zM694 372h6v6h-6zM694 378h6v6h-6zM1228 378h6v6h-6zM694 384h6v6h-6zM1222 390h6v6h-6zM1222 396h6v6h-6zM1222 402h6v6h-6zM700 408h6v6h-6zM784 408h36v6h-36zM1222 408h6v6h-6zM706 414h6v6h-6zM730 414h156v6h-156zM1024 414h66v6h-66zM1150 414h42v6h-42zM1222 414h6v6h-6zM706 420h78v6h-78zM832 420h24v6h-24zM868 420h30v6h-30zM1018 420h90v6h-90zM1132 420h72v6h-72zM1210 420h12v6h-12zM712 426h12v6h-12zM880 426h30v6h-30zM1012 426h30v6h-30zM1096 426h54v6h-54zM1186 426h36v6h-36zM886 432h36v6h-36zM1006 432h12v6h-12zM1114 432h12v6h-12zM898 438h36v6h-36zM1000 438h12v6h-12zM928 444h12v6h-12zM988 444h12v6h-12zM934 450h12v6h-12zM982 450h12v6h-12zM946 456h36v6h-36zM952 462h24v6h-24z"/>
<path fill="#060606" d="M958 30h18v6h-18zM934 36h6v6h-6zM994 36h6v6h-6zM922 42h6v6h-6zM1006 42h6v6h-6zM910 48h6v6h-6zM1018 48h6v6h-6zM886 54h18v6h-18zM1030 54h6v6h-6zM862 60h18v6h-18zM1042 60h18v6h-18zM850 66h12v6h-12zM1060 66h24v6h-24zM832 72h18v6h-18zM1078 72h24v6h-24zM1108 72h78v6h-78zM712 78h48v6h-48zM802 78h30v6h-30zM1084 78h48v6h-48zM1192 78h24v6h-24zM760 84h36v6h-36zM1216 84h12v6h-12zM700 90h6v6h-6zM1228 96h6v6h-6zM694 108h6v6h-6zM694 114h6v6h-6zM1234 114h6v6h-6zM1234 120h6v6h-6zM688 150h6v6h-6zM688 156h6v6h-6zM1240 192h6v6h-6zM1240 198h6v6h-6zM1240 204h6v6h-6zM1240 210h6v6h-6zM1240 216h6v6h-6zM1240 222h6v6h-6zM1240 228h6v6h-6zM1240 234h6v6h-6zM1240 240h6v6h-6zM1240 246h6v6h-6zM1240 252h6v6h-6zM1240 258h6v6h-6zM1240 264h6v6h-6zM688 324h6v6h-6zM688 330h6v6h-6zM1234 342h6v6h-6zM1234 348h6v6h-6zM694 354h6v6h-6zM1234 354h6v6h-6zM1228 372h6v6h-6zM1222 384h6v6h-6zM1210 390h12v6h-12zM700 396h6v6h-6zM1030 396h30v6h-30zM1162 396h60v6h-60zM700 402h6v6h-6zM748 402h66v6h-66zM1018 402h54v6h-54zM1150 402h72v6h-72zM706 408h12v6h-12zM724 408h60v6h-60zM820 408h78v6h-78zM1012 408h84v6h-84zM1138 408h84v6h-84zM712 414h18v6h-18zM886 414h24v6h-24zM1012 414h12v6h-12zM1090 414h60v6h-60zM1192 414h30v6h-30zM898 420h24v6h-24zM1006 420h12v6h-12zM1108 420h24v6h-24zM1204 420h6v6h-6zM910 426h18v6h-18zM1000 426h12v6h-12zM922 432h18v6h-18zM994 432h12v6h-12zM934 438h12v6h-12zM988 438h12v6h-12zM940 444h12v6h-12zM976 444h12v6h-12zM946 450h36v6h-36z"/>
<path fill="#070707" d="M940 36h6v6h-6zM988 36h6v6h-6zM1000 42h6v6h-6zM916 48h6v6h-6zM1012 48h6v6h-6zM904 54h6v6h-6zM1024 54h6v6h-6zM880 60h12v6h-12zM1030 60h12v6h-12zM862 66h12v6h-12zM1042 66h18v6h-18zM850 72h18v6h-18zM1060 72h18v6h-18zM832 78h24v6h-24zM1072 78h12v6h-12zM1132 78h60v6h-60zM706 84h54v6h-54zM796 84h24v6h-24zM1078 84h54v6h-54zM1204 84h12v6h-12zM760 90h30v6h-30zM1084 90h24v6h-24zM1222 90h6v6h-6zM700 96h6v6h-6zM1228 102h6v6h-6zM694 120h6v6h-6zM1234 126h6v6h-6zM1234 132h6v6h-6zM688 162h6v6h-6zM688 300h6v6h-6zM688 306h6v6h-6zM688 312h6v6h-6zM1234 312h6v6h-6zM688 318h6v6h-6zM1234 318h6v6h-6zM1234 324h6v6h-6zM1234 330h6v6h-6zM1234 336h6v6h-6zM694 348h6v6h-6zM1222 378h6v6h-6zM1174 384h48v6h-48zM700 390h6v6h-6zM1030 390h36v6h-36zM1150 390h60v6h-60zM748 396h54v6h-54zM1018 396h12v6h-12zM1060 396h18v6h-18zM1132 396h30v6h-30zM706 402h6v6h-6zM736 402h12v6h-12zM814 402h84v6h-84zM1012 402h6v6h-6zM1072 402h24v6h-24zM1126 402h24v6h-24zM718 408h6v6h-6zM898 408h18v6h-18zM1006 408h6v6h-6zM1096 408h42v6h-42zM910 414h18v6h-18zM1000 414h12v6h-12zM922 420h12v6h-12zM1000 420h6v6h-6zM928 426h12v6h-12zM994 426h6v6h-6zM940 432h6v6h-6zM988 432h6v6h-6zM946 438h6v6h-6zM976 438h12v6h-12zM952 444h24v6h-24z"/>
<path fill="#080808" d="M946 36h6v6h-6zM982 36h6v6h-6zM928 42h6v6h-6zM1006 48h6v6h-6zM910 54h6v6h-6zM1018 54h6v6h-6zM892 60h12v6h-12zM1024 60h6v6h-6zM874 66h12v6h-12zM1036 66h6v6h-6zM868 72h6v6h-6zM1048 72h12v6h-12zM856 78h12v6h-12zM1060 78h12v6h-12zM820 84h42v6h-42zM1066 84h12v6h-12zM1132 84h72v6h-72zM706 90h54v6h-54zM790 90h18v6h-18zM1072 90h12v6h-12zM1108 90h24v6h-24zM1210 90h12v6h-12zM772 96h6v6h-6zM1084 96h30v6h-30zM1222 96h6v6h-6zM700 102h6v6h-6zM1228 108h6v6h-6zM694 126h6v6h-6zM1234 138h6v6h-6zM1234 144h6v6h-6zM688 168h6v6h-6zM688 204h6v6h-6zM688 210h6v6h-6zM688 216h6v6h-6zM688 252h6v6h-6zM688 258h6v6h-6zM688 282h6v6h-6zM688 288h6v6h-6zM688 294h6v6h-6zM1234 300h6v6h-6zM1234 306h6v6h-6zM700 360h6v6h-6zM700 366h6v6h-6zM1228 366h6v6h-6zM700 372h6v6h-6zM1222 372h6v6h-6zM700 378h6v6h-6zM1180 378h6v6h-6zM1204 378h18v6h-18zM700 384h6v6h-6zM1030 384h30v6h-30zM1144 384h30v6h-30zM754 390h48v6h-48zM862 390h12v6h-12zM1018 390h12v6h-12zM1066 390h12v6h-12zM1126 390h24v6h-24zM706 396h6v6h-6zM736 396h12v6h-12zM802 396h96v6h-96zM1012 396h6v6h-6zM1078 396h54v6h-54zM712 402h24v6h-24zM898 402h18v6h-18zM1006 402h6v6h-6zM1096 402h30v6h-30zM916 408h12v6h-12zM1000 408h6v6h-6zM928 414h6v6h-6zM994 414h6v6h-6zM934 420h6v6h-6zM994 420h6v6h-6zM940 426h6v6h-6zM988 426h6v6h-6zM946 432h12v6h-12zM976 432h12v6h-12zM952 438h24v6h-24z"/>
<path fill="#090909" d="M952 36h6v6h-6zM976 36h6v6h-6zM994 42h6v6h-6zM922 48h6v6h-6zM1012 54h6v6h-6zM904 60h6v6h-6zM886 66h12v6h-12zM1030 66h6v6h-6zM874 72h12v6h-12zM1036 72h12v6h-12zM868 78h12v6h-12zM1048 78h12v6h-12zM862 84h6v6h-6zM1054 84h12v6h-12zM808 90h54v6h-54zM1060 90h12v6h-12zM1132 90h78v6h-78zM706 96h66v6h-66zM778 96h24v6h-24zM1072 96h12v6h-12zM1114 96h18v6h-18zM1174 96h48v6h-48zM706 102h6v6h-6zM1084 102h36v6h-36zM1186 102h18v6h-18zM1222 102h6v6h-6zM700 108h6v6h-6zM1228 114h6v6h-6zM694 132h6v6h-6zM1234 150h6v6h-6zM1234 156h6v6h-6zM688 174h6v6h-6zM688 180h6v6h-6zM688 186h6v6h-6zM688 192h6v6h-6zM688 198h6v6h-6zM688 222h6v6h-6zM688 228h6v6h-6zM688 234h6v6h-6zM688 240h6v6h-6zM688 246h6v6h-6zM688 264h6v6h-6zM688 270h6v6h-6zM688 276h6v6h-6zM1234 282h6v6h-6zM1234 288h6v6h-6zM1234 294h6v6h-6zM694 342h6v6h-6zM700 354h6v6h-6zM1228 360h6v6h-6zM1036 372h12v6h-12zM1030 378h30v6h-30zM1138 378h42v6h-42zM1186 378h18v6h-18zM754 384h42v6h-42zM862 384h24v6h-24zM1024 384h6v6h-6zM1060 384h18v6h-18zM1114 384h30v6h-30zM706 390h6v6h-6zM742 390h12v6h-12zM802 390h18v6h-18zM838 390h24v6h-24zM874 390h24v6h-24zM1012 390h6v6h-6zM1078 390h48v6h-48zM712 396h12v6h-12zM730 396h6v6h-6zM898 396h18v6h-18zM1006 396h6v6h-6zM916 402h12v6h-12zM1000 402h6v6h-6zM928 408h6v6h-6zM994 408h6v6h-6zM934 414h6v6h-6zM988 414h6v6h-6zM940 420h6v6h-6zM988 420h6v6h-6zM946 426h12v6h-12zM982 426h6v6h-6zM958 432h18v6h-18z"/>
<path fill="#0a0a0a" d="M958 36h18v6h-18zM934 42h6v6h-6zM916 54h6v6h-6zM1018 60h6v6h-6zM898 66h6v6h-6zM1024 66h6v6h-6zM886 72h6v6h-6zM1030 72h6v6h-6zM880 78h6v6h-6zM1042 78h6v6h-6zM868 84h12v6h-12zM1048 84h6v6h-6zM862 90h6v6h-6zM1054 90h6v6h-6zM802 96h18v6h-18zM832 96h30v6h-30zM1060 96h12v6h-12zM1132 96h42v6h-42zM712 102h84v6h-84zM1072 102h12v6h-12zM1120 102h24v6h-24zM1162 102h24v6h-24zM1204 102h18v6h-18zM706 108h6v6h-6zM1084 108h48v6h-48zM1180 108h48v6h-48zM700 114h6v6h-6zM1228 120h6v6h-6zM694 138h6v6h-6zM694 144h6v6h-6zM1234 162h6v6h-6zM1234 276h6v6h-6zM694 336h6v6h-6zM1228 354h6v6h-6zM1036 366h12v6h-12zM1222 366h6v6h-6zM1024 372h12v6h-12zM1048 372h12v6h-12zM1114 372h108v6h-108zM760 378h36v6h-36zM868 378h24v6h-24zM1024 378h6v6h-6zM1060 378h12v6h-12zM1102 378h36v6h-36zM706 384h6v6h-6zM748 384h6v6h-6zM796 384h18v6h-18zM844 384h18v6h-18zM886 384h18v6h-18zM1018 384h6v6h-6zM1078 384h36v6h-36zM736 390h6v6h-6zM820 390h18v6h-18zM898 390h18v6h-18zM1006 390h6v6h-6zM724 396h6v6h-6zM916 396h6v6h-6zM1000 396h6v6h-6zM928 402h6v6h-6zM994 402h6v6h-6zM934 408h6v6h-6zM988 408h6v6h-6zM940 414h6v6h-6zM946 420h6v6h-6zM982 420h6v6h-6zM958 426h24v6h-24z"/>
<path fill="#0b0b0b" d="M988 42h6v6h-6zM928 48h6v6h-6zM1000 48h6v6h-6zM1006 54h6v6h-6zM910 60h6v6h-6zM904 66h6v6h-6zM892 72h6v6h-6zM886 78h6v6h-6zM1036 78h6v6h-6zM880 84h6v6h-6zM1042 84h6v6h-6zM868 90h12v6h-12zM1048 90h6v6h-6zM820 96h12v6h-12zM862 96h6v6h-6zM1054 96h6v6h-6zM796 102h18v6h-18zM838 102h18v6h-18zM1066 102h6v6h-6zM1144 102h18v6h-18zM712 108h78v6h-78zM1072 108h12v6h-12zM1132 108h48v6h-48zM1096 114h48v6h-48zM1180 114h36v6h-36zM1222 114h6v6h-6zM700 120h6v6h-6zM1120 120h24v6h-24zM1132 126h12v6h-12zM1228 126h6v6h-6zM694 150h6v6h-6zM1234 168h6v6h-6zM1234 174h6v6h-6zM1234 180h6v6h-6zM1234 186h6v6h-6zM1234 270h6v6h-6zM1228 330h6v6h-6zM1228 336h6v6h-6zM1228 342h6v6h-6zM700 348h6v6h-6zM1228 348h6v6h-6zM706 354h6v6h-6zM706 360h6v6h-6zM1036 360h12v6h-12zM1114 360h30v6h-30zM706 366h6v6h-6zM760 366h30v6h-30zM1024 366h12v6h-12zM1048 366h12v6h-12zM1108 366h48v6h-48zM706 372h6v6h-6zM754 372h48v6h-48zM874 372h12v6h-12zM1018 372h6v6h-6zM1060 372h12v6h-12zM1096 372h18v6h-18zM706 378h6v6h-6zM748 378h12v6h-12zM796 378h18v6h-18zM850 378h18v6h-18zM892 378h12v6h-12zM1018 378h6v6h-6zM1072 378h30v6h-30zM742 384h6v6h-6zM814 384h30v6h-30zM904 384h12v6h-12zM1012 384h6v6h-6zM712 390h12v6h-12zM730 390h6v6h-6zM916 390h6v6h-6zM1000 390h6v6h-6zM922 396h12v6h-12zM994 396h6v6h-6zM934 402h6v6h-6zM988 402h6v6h-6zM940 408h6v6h-6zM946 414h6v6h-6zM982 414h6v6h-6zM952 420h30v6h-30z"/>
<path fill="#0c0c0c" d="M940 42h6v6h-6zM922 54h6v6h-6zM1012 60h6v6h-6zM1018 66h6v6h-6zM898 72h6v6h-6zM1024 72h6v6h-6zM892 78h6v6h-6zM1030 78h6v6h-6zM886 84h6v6h-6zM1036 84h6v6h-6zM1042 90h6v6h-6zM868 96h6v6h-6zM1048 96h6v6h-6zM814 102h24v6h-24zM856 102h12v6h-12zM1060 102h6v6h-6zM790 108h24v6h-24zM832 108h24v6h-24zM1066 108h6v6h-6zM706 114h6v6h-6zM730 114h72v6h-72zM1078 114h18v6h-18zM1144 114h36v6h-36zM1216 114h6v6h-6zM1108 120h12v6h-12zM1144 120h12v6h-12zM1186 120h18v6h-18zM1120 126h12v6h-12zM1144 126h6v6h-6zM1126 132h24v6h-24zM1228 132h6v6h-6zM694 156h6v6h-6zM1234 192h6v6h-6zM1234 198h6v6h-6zM1234 216h6v6h-6zM1234 222h6v6h-6zM1234 228h6v6h-6zM1234 234h6v6h-6zM1234 264h6v6h-6zM1228 312h6v6h-6zM1228 318h6v6h-6zM694 324h6v6h-6zM1228 324h6v6h-6zM694 330h6v6h-6zM712 354h6v6h-6zM772 354h18v6h-18zM1114 354h30v6h-30zM712 360h6v6h-6zM754 360h42v6h-42zM1030 360h6v6h-6zM1048 360h12v6h-12zM1102 360h12v6h-12zM1144 360h6v6h-6zM1222 360h6v6h-6zM712 366h6v6h-6zM748 366h12v6h-12zM790 366h12v6h-12zM1018 366h6v6h-6zM1060 366h12v6h-12zM1090 366h18v6h-18zM1156 366h66v6h-66zM748 372h6v6h-6zM802 372h18v6h-18zM856 372h18v6h-18zM886 372h18v6h-18zM1072 372h24v6h-24zM742 378h6v6h-6zM814 378h36v6h-36zM904 378h12v6h-12zM1012 378h6v6h-6zM712 384h6v6h-6zM736 384h6v6h-6zM916 384h6v6h-6zM1006 384h6v6h-6zM724 390h6v6h-6zM922 390h6v6h-6zM946 408h6v6h-6zM982 408h6v6h-6zM952 414h12v6h-12zM970 414h12v6h-12z"/>
<path fill="#0d0d0d" d="M982 42h6v6h-6zM994 48h6v6h-6zM916 60h6v6h-6zM910 66h6v6h-6zM904 72h6v6h-6zM898 78h6v6h-6zM1024 78h6v6h-6zM892 84h6v6h-6zM1030 84h6v6h-6zM880 90h6v6h-6zM1036 90h6v6h-6zM874 96h6v6h-6zM1042 96h6v6h-6zM868 102h6v6h-6zM1048 102h12v6h-12zM814 108h18v6h-18zM856 108h12v6h-12zM1060 108h6v6h-6zM712 114h18v6h-18zM802 114h54v6h-54zM1072 114h6v6h-6zM766 120h72v6h-72zM1090 120h18v6h-18zM1156 120h30v6h-30zM1204 120h24v6h-24zM700 126h6v6h-6zM790 126h36v6h-36zM1114 126h6v6h-6zM1150 126h12v6h-12zM1120 132h6v6h-6zM1150 132h6v6h-6zM1132 138h12v6h-12zM1228 138h6v6h-6zM694 162h6v6h-6zM1234 204h6v6h-6zM1234 210h6v6h-6zM1234 240h6v6h-6zM1234 246h6v6h-6zM1234 252h6v6h-6zM1234 258h6v6h-6zM1228 306h6v6h-6zM694 312h6v6h-6zM694 318h6v6h-6zM700 342h6v6h-6zM706 348h6v6h-6zM778 348h18v6h-18zM718 354h6v6h-6zM754 354h18v6h-18zM790 354h18v6h-18zM1036 354h12v6h-12zM1108 354h6v6h-6zM1144 354h6v6h-6zM1222 354h6v6h-6zM718 360h12v6h-12zM736 360h18v6h-18zM796 360h18v6h-18zM1024 360h6v6h-6zM1060 360h12v6h-12zM1090 360h12v6h-12zM1150 360h12v6h-12zM1216 360h6v6h-6zM718 366h6v6h-6zM742 366h6v6h-6zM802 366h24v6h-24zM862 366h36v6h-36zM1072 366h18v6h-18zM712 372h6v6h-6zM742 372h6v6h-6zM820 372h36v6h-36zM904 372h12v6h-12zM1012 372h6v6h-6zM712 378h6v6h-6zM736 378h6v6h-6zM916 378h6v6h-6zM1006 378h6v6h-6zM718 384h6v6h-6zM730 384h6v6h-6zM922 384h6v6h-6zM1000 384h6v6h-6zM928 390h6v6h-6zM994 390h6v6h-6zM934 396h6v6h-6zM988 396h6v6h-6zM940 402h6v6h-6zM982 402h6v6h-6zM952 408h6v6h-6zM976 408h6v6h-6zM964 414h6v6h-6z"/>
<path fill="#0e0e0e" d="M946 42h6v6h-6zM934 48h6v6h-6zM1012 66h6v6h-6zM1018 72h6v6h-6zM886 90h6v6h-6zM880 96h6v6h-6zM1036 96h6v6h-6zM874 102h6v6h-6zM868 108h6v6h-6zM1054 108h6v6h-6zM856 114h6v6h-6zM1066 114h6v6h-6zM706 120h6v6h-6zM724 120h42v6h-42zM838 120h18v6h-18zM1078 120h12v6h-12zM778 126h12v6h-12zM826 126h24v6h-24zM1102 126h12v6h-12zM1162 126h42v6h-42zM1222 126h6v6h-6zM700 132h6v6h-6zM796 132h30v6h-30zM1114 132h6v6h-6zM1156 132h6v6h-6zM700 138h6v6h-6zM1126 138h6v6h-6zM1144 138h6v6h-6zM1228 144h6v6h-6zM694 300h6v6h-6zM1228 300h6v6h-6zM694 306h6v6h-6zM784 342h12v6h-12zM712 348h6v6h-6zM766 348h12v6h-12zM796 348h12v6h-12zM1114 348h30v6h-30zM1222 348h6v6h-6zM724 354h30v6h-30zM808 354h12v6h-12zM1030 354h6v6h-6zM1048 354h12v6h-12zM1096 354h12v6h-12zM1150 354h6v6h-6zM730 360h6v6h-6zM814 360h18v6h-18zM874 360h6v6h-6zM1018 360h6v6h-6zM1072 360h18v6h-18zM1162 360h54v6h-54zM724 366h18v6h-18zM826 366h36v6h-36zM898 366h12v6h-12zM1012 366h6v6h-6zM718 372h6v6h-6zM736 372h6v6h-6zM916 372h6v6h-6zM1006 372h6v6h-6zM718 378h6v6h-6zM730 378h6v6h-6zM922 378h6v6h-6zM1000 378h6v6h-6zM724 384h6v6h-6zM928 384h6v6h-6zM994 384h6v6h-6zM934 390h6v6h-6zM988 390h6v6h-6zM940 396h6v6h-6zM982 396h6v6h-6zM946 402h6v6h-6zM976 402h6v6h-6zM958 408h18v6h-18z"/>
<path fill="#0f0f0f" d="M976 42h6v6h-6zM1000 54h6v6h-6zM1006 60h6v6h-6zM910 72h6v6h-6zM904 78h6v6h-6zM898 84h6v6h-6zM1024 84h6v6h-6zM892 90h6v6h-6zM1030 90h6v6h-6zM886 96h6v6h-6zM1042 102h6v6h-6zM1048 108h6v6h-6zM862 114h6v6h-6zM1060 114h6v6h-6zM712 120h12v6h-12zM856 120h6v6h-6zM1072 120h6v6h-6zM706 126h6v6h-6zM736 126h42v6h-42zM850 126h6v6h-6zM1090 126h12v6h-12zM1204 126h18v6h-18zM784 132h12v6h-12zM826 132h24v6h-24zM1108 132h6v6h-6zM1162 132h6v6h-6zM1120 138h6v6h-6zM1150 138h6v6h-6zM700 144h6v6h-6zM1132 144h12v6h-12zM1228 150h6v6h-6zM694 168h6v6h-6zM694 288h6v6h-6zM1228 288h6v6h-6zM694 294h6v6h-6zM1228 294h6v6h-6zM700 336h6v6h-6zM1222 336h6v6h-6zM772 342h12v6h-12zM796 342h12v6h-12zM1222 342h6v6h-6zM718 348h12v6h-12zM754 348h12v6h-12zM808 348h12v6h-12zM1108 348h6v6h-6zM1144 348h6v6h-6zM820 354h12v6h-12zM1024 354h6v6h-6zM1060 354h12v6h-12zM1090 354h6v6h-6zM1156 354h6v6h-6zM1210 354h12v6h-12zM832 360h42v6h-42zM880 360h24v6h-24zM1012 360h6v6h-6zM910 366h12v6h-12zM724 372h12v6h-12zM922 372h6v6h-6zM724 378h6v6h-6zM928 378h6v6h-6zM934 384h6v6h-6zM946 396h6v6h-6zM952 402h6v6h-6zM970 402h6v6h-6z"/>
<path fill="#101010" d="M952 42h6v6h-6zM928 54h6v6h-6zM922 60h6v6h-6zM916 66h6v6h-6zM1018 78h6v6h-6zM1030 96h6v6h-6zM880 102h6v6h-6zM1036 102h6v6h-6zM874 108h6v6h-6zM868 114h6v6h-6zM1054 114h6v6h-6zM862 120h6v6h-6zM1066 120h6v6h-6zM712 126h24v6h-24zM856 126h6v6h-6zM1078 126h12v6h-12zM706 132h6v6h-6zM778 132h6v6h-6zM850 132h6v6h-6zM1102 132h6v6h-6zM1168 132h18v6h-18zM1222 132h6v6h-6zM790 138h48v6h-48zM1114 138h6v6h-6zM1156 138h6v6h-6zM1126 144h6v6h-6zM1144 144h12v6h-12zM700 150h6v6h-6zM1228 156h6v6h-6zM694 174h6v6h-6zM694 210h6v6h-6zM694 276h6v6h-6zM1228 276h6v6h-6zM694 282h6v6h-6zM1228 282h6v6h-6zM1222 318h6v6h-6zM1222 324h6v6h-6zM1222 330h6v6h-6zM778 336h30v6h-30zM706 342h6v6h-6zM766 342h6v6h-6zM808 342h12v6h-12zM1126 342h6v6h-6zM730 348h24v6h-24zM820 348h6v6h-6zM1030 348h30v6h-30zM1102 348h6v6h-6zM1150 348h6v6h-6zM1216 348h6v6h-6zM832 354h66v6h-66zM1018 354h6v6h-6zM1072 354h18v6h-18zM1162 354h48v6h-48zM904 360h12v6h-12zM1006 366h6v6h-6zM1000 372h6v6h-6zM994 378h6v6h-6zM988 384h6v6h-6zM940 390h6v6h-6zM982 390h6v6h-6zM976 396h6v6h-6zM958 402h12v6h-12z"/>
<path fill="#111111" d="M958 42h18v6h-18zM988 48h6v6h-6zM1012 72h6v6h-6zM904 84h6v6h-6zM898 90h6v6h-6zM1024 90h6v6h-6zM892 96h6v6h-6zM886 102h6v6h-6zM880 108h6v6h-6zM1042 108h6v6h-6zM874 114h6v6h-6zM1048 114h6v6h-6zM868 120h6v6h-6zM1060 120h6v6h-6zM862 126h6v6h-6zM1072 126h6v6h-6zM712 132h42v6h-42zM766 132h12v6h-12zM856 132h6v6h-6zM1096 132h6v6h-6zM1186 132h36v6h-36zM706 138h6v6h-6zM724 138h12v6h-12zM784 138h6v6h-6zM838 138h18v6h-18zM1108 138h6v6h-6zM1162 138h6v6h-6zM1222 138h6v6h-6zM1120 144h6v6h-6zM1156 144h6v6h-6zM1228 162h6v6h-6zM694 198h6v6h-6zM694 204h6v6h-6zM694 216h6v6h-6zM694 222h6v6h-6zM694 240h6v6h-6zM694 246h6v6h-6zM694 252h6v6h-6zM694 258h6v6h-6zM694 264h6v6h-6zM694 270h6v6h-6zM1222 312h6v6h-6zM772 336h6v6h-6zM808 336h6v6h-6zM712 342h12v6h-12zM760 342h6v6h-6zM820 342h6v6h-6zM1114 342h12v6h-12zM1132 342h12v6h-12zM1216 342h6v6h-6zM826 348h66v6h-66zM1024 348h6v6h-6zM1060 348h6v6h-6zM1096 348h6v6h-6zM1156 348h6v6h-6zM1204 348h12v6h-12zM898 354h12v6h-12zM916 360h6v6h-6zM1006 360h6v6h-6zM922 366h6v6h-6zM928 372h6v6h-6zM934 378h6v6h-6zM940 384h6v6h-6zM946 390h6v6h-6zM952 396h12v6h-12zM970 396h6v6h-6z"/>
<path fill="#121212" d="M940 48h6v6h-6zM1006 66h6v6h-6zM910 78h6v6h-6zM1018 84h6v6h-6zM1024 96h6v6h-6zM1030 102h6v6h-6zM1036 108h6v6h-6zM874 120h6v6h-6zM1054 120h6v6h-6zM868 126h6v6h-6zM1066 126h6v6h-6zM754 132h12v6h-12zM862 132h6v6h-6zM1090 132h6v6h-6zM712 138h12v6h-12zM736 138h6v6h-6zM778 138h6v6h-6zM856 138h6v6h-6zM1168 138h12v6h-12zM706 144h6v6h-6zM718 144h12v6h-12zM796 144h18v6h-18zM1114 144h6v6h-6zM1222 144h6v6h-6zM1132 150h18v6h-18zM700 156h6v6h-6zM1228 168h6v6h-6zM1228 174h6v6h-6zM694 180h6v6h-6zM1228 180h6v6h-6zM694 186h6v6h-6zM1228 186h6v6h-6zM694 192h6v6h-6zM694 228h6v6h-6zM694 234h6v6h-6zM1228 270h6v6h-6zM1222 306h6v6h-6zM700 330h6v6h-6zM778 330h36v6h-36zM766 336h6v6h-6zM814 336h12v6h-12zM1216 336h6v6h-6zM724 342h36v6h-36zM826 342h60v6h-60zM1036 342h18v6h-18zM1108 342h6v6h-6zM1144 342h6v6h-6zM1210 342h6v6h-6zM892 348h12v6h-12zM1066 348h30v6h-30zM1162 348h6v6h-6zM1186 348h18v6h-18zM910 354h6v6h-6zM1012 354h6v6h-6zM922 360h6v6h-6zM928 366h6v6h-6zM1000 366h6v6h-6zM994 372h6v6h-6zM988 378h6v6h-6zM982 384h6v6h-6zM976 390h6v6h-6zM964 396h6v6h-6z"/>
<path fill="#131313" d="M994 54h6v6h-6zM1000 60h6v6h-6zM916 72h6v6h-6zM1012 78h6v6h-6zM904 90h6v6h-6zM898 96h6v6h-6zM892 102h6v6h-6zM886 108h6v6h-6zM880 114h6v6h-6zM1042 114h6v6h-6zM874 126h6v6h-6zM1060 126h6v6h-6zM868 132h6v6h-6zM1078 132h12v6h-12zM742 138h12v6h-12zM772 138h6v6h-6zM862 138h6v6h-6zM1102 138h6v6h-6zM1180 138h42v6h-42zM712 144h6v6h-6zM730 144h12v6h-12zM790 144h6v6h-6zM814 144h42v6h-42zM1162 144h6v6h-6zM706 150h6v6h-6zM1126 150h6v6h-6zM1150 150h6v6h-6zM1228 192h6v6h-6zM1222 300h6v6h-6zM1216 318h6v6h-6zM700 324h6v6h-6zM772 324h36v6h-36zM1216 324h6v6h-6zM766 330h12v6h-12zM814 330h18v6h-18zM1216 330h6v6h-6zM706 336h6v6h-6zM760 336h6v6h-6zM826 336h42v6h-42zM886 342h12v6h-12zM1030 342h6v6h-6zM1054 342h6v6h-6zM1102 342h6v6h-6zM1150 342h6v6h-6zM1204 342h6v6h-6zM904 348h6v6h-6zM1018 348h6v6h-6zM1168 348h18v6h-18zM916 354h6v6h-6zM934 372h6v6h-6zM940 378h6v6h-6zM946 384h6v6h-6zM952 390h12v6h-12zM970 390h6v6h-6z"/>
<path fill="#141414" d="M982 48h6v6h-6zM934 54h6v6h-6zM922 66h6v6h-6zM910 84h6v6h-6zM1018 90h6v6h-6zM1024 102h6v6h-6zM1030 108h6v6h-6zM1036 114h6v6h-6zM880 120h6v6h-6zM1048 120h6v6h-6zM874 132h6v6h-6zM1072 132h6v6h-6zM754 138h18v6h-18zM868 138h6v6h-6zM1096 138h6v6h-6zM742 144h6v6h-6zM784 144h6v6h-6zM856 144h6v6h-6zM1108 144h6v6h-6zM1168 144h6v6h-6zM1216 144h6v6h-6zM712 150h18v6h-18zM1120 150h6v6h-6zM1156 150h6v6h-6zM1222 150h6v6h-6zM700 162h6v6h-6zM1228 222h6v6h-6zM1228 264h6v6h-6zM1054 282h6v6h-6zM1048 288h18v6h-18zM1222 288h6v6h-6zM1048 294h18v6h-18zM1222 294h6v6h-6zM1048 300h18v6h-18zM766 306h6v6h-6zM1042 306h18v6h-18zM700 312h6v6h-6zM760 312h24v6h-24zM1042 312h18v6h-18zM1216 312h6v6h-6zM700 318h6v6h-6zM760 318h42v6h-42zM1036 318h24v6h-24zM760 324h12v6h-12zM808 324h42v6h-42zM1036 324h18v6h-18zM760 330h6v6h-6zM832 330h30v6h-30zM1042 330h6v6h-6zM1210 330h6v6h-6zM712 336h48v6h-48zM868 336h18v6h-18zM1030 336h24v6h-24zM1114 336h30v6h-30zM1210 336h6v6h-6zM898 342h6v6h-6zM1024 342h6v6h-6zM1060 342h12v6h-12zM1096 342h6v6h-6zM1156 342h12v6h-12zM1186 342h18v6h-18zM910 348h6v6h-6zM922 354h6v6h-6zM1006 354h6v6h-6zM1000 360h6v6h-6zM994 366h6v6h-6zM988 372h6v6h-6zM982 378h6v6h-6zM952 384h6v6h-6zM976 384h6v6h-6zM964 390h6v6h-6z"/>
<path fill="#151515" d="M946 48h6v6h-6zM928 60h6v6h-6zM1006 72h6v6h-6zM898 102h6v6h-6zM892 108h6v6h-6zM886 114h6v6h-6zM1042 120h6v6h-6zM880 126h6v6h-6zM1054 126h6v6h-6zM1066 132h6v6h-6zM874 138h6v6h-6zM1090 138h6v6h-6zM778 144h6v6h-6zM862 144h6v6h-6zM1174 144h12v6h-12zM1210 144h6v6h-6zM730 150h12v6h-12zM790 150h24v6h-24zM1162 150h6v6h-6zM706 156h6v6h-6zM1132 156h18v6h-18zM1222 156h6v6h-6zM1228 198h6v6h-6zM1228 210h6v6h-6zM1228 216h6v6h-6zM1228 228h6v6h-6zM1228 234h6v6h-6zM1048 282h6v6h-6zM1060 282h12v6h-12zM1222 282h6v6h-6zM1066 288h6v6h-6zM1042 294h6v6h-6zM1066 294h6v6h-6zM1042 300h6v6h-6zM1066 300h6v6h-6zM700 306h6v6h-6zM754 306h12v6h-12zM772 306h12v6h-12zM1036 306h6v6h-6zM1060 306h6v6h-6zM1216 306h6v6h-6zM754 312h6v6h-6zM784 312h12v6h-12zM1036 312h6v6h-6zM1060 312h6v6h-6zM1210 312h6v6h-6zM754 318h6v6h-6zM802 318h48v6h-48zM1030 318h6v6h-6zM1060 318h6v6h-6zM1210 318h6v6h-6zM754 324h6v6h-6zM850 324h12v6h-12zM1030 324h6v6h-6zM1054 324h12v6h-12zM1210 324h6v6h-6zM706 330h6v6h-6zM748 330h12v6h-12zM862 330h12v6h-12zM1030 330h12v6h-12zM1048 330h12v6h-12zM886 336h6v6h-6zM1054 336h12v6h-12zM1108 336h6v6h-6zM1144 336h12v6h-12zM1198 336h12v6h-12zM904 342h6v6h-6zM1072 342h24v6h-24zM1168 342h18v6h-18zM916 348h6v6h-6zM1012 348h6v6h-6zM928 360h6v6h-6zM934 366h6v6h-6zM940 372h6v6h-6zM946 378h6v6h-6zM958 384h6v6h-6zM970 384h6v6h-6z"/>
<path fill="#161616" d="M916 78h6v6h-6zM1012 84h6v6h-6zM904 96h6v6h-6zM1018 96h6v6h-6zM1024 108h6v6h-6zM1030 114h6v6h-6zM886 120h6v6h-6zM1048 126h6v6h-6zM880 132h6v6h-6zM1060 132h6v6h-6zM1084 138h6v6h-6zM748 144h12v6h-12zM772 144h6v6h-6zM868 144h6v6h-6zM1102 144h6v6h-6zM1186 144h24v6h-24zM784 150h6v6h-6zM814 150h42v6h-42zM1114 150h6v6h-6zM1168 150h6v6h-6zM1216 150h6v6h-6zM712 156h6v6h-6zM1126 156h6v6h-6zM1150 156h6v6h-6zM700 168h6v6h-6zM1228 204h6v6h-6zM1228 240h6v6h-6zM1228 258h6v6h-6zM1048 276h24v6h-24zM1222 276h6v6h-6zM1042 282h6v6h-6zM1042 288h6v6h-6zM1072 288h6v6h-6zM700 294h6v6h-6zM1072 294h6v6h-6zM700 300h6v6h-6zM760 300h18v6h-18zM1036 300h6v6h-6zM1216 300h6v6h-6zM784 306h6v6h-6zM1066 306h6v6h-6zM1210 306h6v6h-6zM748 312h6v6h-6zM796 312h18v6h-18zM820 312h30v6h-30zM1030 312h6v6h-6zM1066 312h6v6h-6zM1204 312h6v6h-6zM748 318h6v6h-6zM850 318h6v6h-6zM1024 318h6v6h-6zM1066 318h6v6h-6zM1204 318h6v6h-6zM748 324h6v6h-6zM862 324h6v6h-6zM1024 324h6v6h-6zM1066 324h6v6h-6zM1204 324h6v6h-6zM736 330h12v6h-12zM874 330h6v6h-6zM1024 330h6v6h-6zM1060 330h6v6h-6zM1198 330h12v6h-12zM892 336h12v6h-12zM1024 336h6v6h-6zM1066 336h6v6h-6zM1096 336h12v6h-12zM1156 336h12v6h-12zM1186 336h12v6h-12zM910 342h6v6h-6zM1018 342h6v6h-6zM922 348h6v6h-6zM1000 354h6v6h-6zM994 360h6v6h-6zM982 372h6v6h-6zM976 378h6v6h-6zM964 384h6v6h-6z"/>
<path fill="#171717" d="M1000 66h6v6h-6zM910 90h6v6h-6zM892 114h6v6h-6zM1036 120h6v6h-6zM886 126h6v6h-6zM880 138h6v6h-6zM1078 138h6v6h-6zM760 144h12v6h-12zM874 144h6v6h-6zM1096 144h6v6h-6zM742 150h6v6h-6zM778 150h6v6h-6zM856 150h12v6h-12zM1108 150h6v6h-6zM718 156h18v6h-18zM1156 156h6v6h-6zM1222 162h6v6h-6zM1228 246h6v6h-6zM1228 252h6v6h-6zM1054 270h12v6h-12zM1042 276h6v6h-6zM1072 276h6v6h-6zM1072 282h6v6h-6zM700 288h6v6h-6zM1216 288h6v6h-6zM760 294h6v6h-6zM1036 294h6v6h-6zM1216 294h6v6h-6zM754 300h6v6h-6zM778 300h6v6h-6zM838 300h12v6h-12zM1072 300h6v6h-6zM1204 300h12v6h-12zM748 306h6v6h-6zM790 306h6v6h-6zM826 306h30v6h-30zM1030 306h6v6h-6zM1072 306h6v6h-6zM1174 306h36v6h-36zM742 312h6v6h-6zM814 312h6v6h-6zM850 312h6v6h-6zM1024 312h6v6h-6zM1072 312h6v6h-6zM1162 312h42v6h-42zM742 318h6v6h-6zM856 318h6v6h-6zM1072 318h6v6h-6zM1162 318h42v6h-42zM706 324h6v6h-6zM736 324h12v6h-12zM868 324h6v6h-6zM1072 324h6v6h-6zM1156 324h48v6h-48zM712 330h24v6h-24zM880 330h6v6h-6zM1066 330h12v6h-12zM1108 330h90v6h-90zM904 336h6v6h-6zM1018 336h6v6h-6zM1072 336h24v6h-24zM1168 336h18v6h-18zM916 342h6v6h-6zM1006 348h6v6h-6zM928 354h6v6h-6zM934 360h6v6h-6zM988 366h6v6h-6zM952 378h6v6h-6zM970 378h6v6h-6z"/>
<path fill="#181818" d="M952 48h6v6h-6zM976 48h6v6h-6zM988 54h6v6h-6zM994 60h6v6h-6zM922 72h6v6h-6zM904 102h6v6h-6zM1018 102h6v6h-6zM898 108h6v6h-6zM1042 126h6v6h-6zM886 132h6v6h-6zM1054 132h6v6h-6zM1072 138h6v6h-6zM1090 144h6v6h-6zM748 150h6v6h-6zM772 150h6v6h-6zM868 150h6v6h-6zM1174 150h12v6h-12zM1204 150h12v6h-12zM736 156h6v6h-6zM796 156h6v6h-6zM1120 156h6v6h-6zM706 162h6v6h-6zM1132 162h18v6h-18zM700 174h6v6h-6zM1222 180h6v6h-6zM844 270h12v6h-12zM1048 270h6v6h-6zM1066 270h6v6h-6zM1222 270h6v6h-6zM700 276h6v6h-6zM838 276h18v6h-18zM1078 276h6v6h-6zM700 282h6v6h-6zM838 282h18v6h-18zM1036 282h6v6h-6zM1078 282h6v6h-6zM1216 282h6v6h-6zM838 288h18v6h-18zM1036 288h6v6h-6zM1078 288h6v6h-6zM748 294h12v6h-12zM766 294h12v6h-12zM832 294h24v6h-24zM1078 294h6v6h-6zM1204 294h12v6h-12zM748 300h6v6h-6zM784 300h6v6h-6zM832 300h6v6h-6zM850 300h6v6h-6zM1030 300h6v6h-6zM1078 300h6v6h-6zM1168 300h36v6h-36zM742 306h6v6h-6zM796 306h30v6h-30zM856 306h6v6h-6zM1024 306h6v6h-6zM1078 306h6v6h-6zM1162 306h12v6h-12zM856 312h6v6h-6zM1078 312h6v6h-6zM1156 312h6v6h-6zM706 318h6v6h-6zM736 318h6v6h-6zM862 318h6v6h-6zM1018 318h6v6h-6zM1078 318h6v6h-6zM1150 318h12v6h-12zM724 324h12v6h-12zM1018 324h6v6h-6zM1078 324h12v6h-12zM1138 324h18v6h-18zM886 330h6v6h-6zM1018 330h6v6h-6zM1078 330h30v6h-30zM910 336h6v6h-6zM1012 342h6v6h-6zM940 366h6v6h-6zM946 372h6v6h-6zM958 378h12v6h-12z"/>
<path fill="#191919" d="M940 54h6v6h-6zM1006 78h6v6h-6zM916 84h6v6h-6zM1012 90h6v6h-6zM1024 114h6v6h-6zM892 120h6v6h-6zM1030 120h6v6h-6zM1036 126h6v6h-6zM1048 132h6v6h-6zM1066 138h6v6h-6zM880 144h6v6h-6zM1084 144h6v6h-6zM754 150h18v6h-18zM1102 150h6v6h-6zM1186 150h18v6h-18zM742 156h6v6h-6zM784 156h12v6h-12zM802 156h18v6h-18zM1114 156h6v6h-6zM1162 156h6v6h-6zM1216 156h6v6h-6zM712 162h6v6h-6zM1126 162h6v6h-6zM1150 162h6v6h-6zM1222 168h6v6h-6zM1222 174h6v6h-6zM1222 186h6v6h-6zM700 258h6v6h-6zM700 264h6v6h-6zM844 264h18v6h-18zM700 270h6v6h-6zM742 270h6v6h-6zM838 270h6v6h-6zM856 270h6v6h-6zM1042 270h6v6h-6zM1072 270h12v6h-12zM736 276h18v6h-18zM832 276h6v6h-6zM856 276h6v6h-6zM1084 276h6v6h-6zM736 282h24v6h-24zM832 282h6v6h-6zM856 282h6v6h-6zM1084 282h6v6h-6zM742 288h30v6h-30zM832 288h6v6h-6zM856 288h6v6h-6zM1084 288h6v6h-6zM1204 288h12v6h-12zM742 294h6v6h-6zM778 294h6v6h-6zM826 294h6v6h-6zM856 294h6v6h-6zM1030 294h6v6h-6zM1084 294h6v6h-6zM1162 294h42v6h-42zM742 300h6v6h-6zM790 300h6v6h-6zM820 300h12v6h-12zM856 300h6v6h-6zM1084 300h6v6h-6zM1156 300h12v6h-12zM736 306h6v6h-6zM1084 306h6v6h-6zM1150 306h12v6h-12zM706 312h6v6h-6zM736 312h6v6h-6zM862 312h6v6h-6zM1018 312h6v6h-6zM1084 312h6v6h-6zM1144 312h12v6h-12zM730 318h6v6h-6zM868 318h6v6h-6zM1084 318h12v6h-12zM1138 318h12v6h-12zM712 324h12v6h-12zM874 324h6v6h-6zM1090 324h48v6h-48zM892 330h6v6h-6zM922 342h6v6h-6zM928 348h6v6h-6zM994 354h6v6h-6zM988 360h6v6h-6zM982 366h6v6h-6zM976 372h6v6h-6z"/>
<path fill="#1a1a1a" d="M958 48h6v6h-6zM970 48h6v6h-6zM934 60h6v6h-6zM928 66h6v6h-6zM910 96h6v6h-6zM1018 108h6v6h-6zM898 114h6v6h-6zM892 126h6v6h-6zM886 138h6v6h-6zM1060 138h6v6h-6zM1078 144h6v6h-6zM874 150h6v6h-6zM748 156h6v6h-6zM778 156h6v6h-6zM820 156h42v6h-42zM1168 156h6v6h-6zM1210 156h6v6h-6zM718 162h12v6h-12zM706 168h6v6h-6zM1138 168h6v6h-6zM700 180h6v6h-6zM1222 192h6v6h-6zM700 204h6v6h-6zM700 210h6v6h-6zM700 216h6v6h-6zM700 246h6v6h-6zM700 252h6v6h-6zM850 258h18v6h-18zM742 264h12v6h-12zM838 264h6v6h-6zM862 264h6v6h-6zM1048 264h30v6h-30zM736 270h6v6h-6zM748 270h12v6h-12zM832 270h6v6h-6zM862 270h6v6h-6zM1084 270h18v6h-18zM730 276h6v6h-6zM754 276h12v6h-12zM826 276h6v6h-6zM862 276h6v6h-6zM1036 276h6v6h-6zM1090 276h12v6h-12zM1216 276h6v6h-6zM730 282h6v6h-6zM760 282h6v6h-6zM826 282h6v6h-6zM862 282h6v6h-6zM1090 282h6v6h-6zM1204 282h12v6h-12zM736 288h6v6h-6zM772 288h6v6h-6zM826 288h6v6h-6zM862 288h6v6h-6zM1030 288h6v6h-6zM1090 288h6v6h-6zM1156 288h48v6h-48zM736 294h6v6h-6zM784 294h6v6h-6zM820 294h6v6h-6zM862 294h6v6h-6zM1090 294h6v6h-6zM1150 294h12v6h-12zM706 300h6v6h-6zM736 300h6v6h-6zM796 300h24v6h-24zM862 300h6v6h-6zM1024 300h6v6h-6zM1090 300h6v6h-6zM1144 300h12v6h-12zM706 306h6v6h-6zM862 306h6v6h-6zM1018 306h6v6h-6zM1090 306h6v6h-6zM1144 306h6v6h-6zM730 312h6v6h-6zM1090 312h6v6h-6zM1138 312h6v6h-6zM712 318h18v6h-18zM1012 318h6v6h-6zM1096 318h12v6h-12zM1126 318h12v6h-12zM880 324h6v6h-6zM1012 324h6v6h-6zM898 330h6v6h-6zM1012 330h6v6h-6zM916 336h6v6h-6zM1012 336h6v6h-6zM1006 342h6v6h-6zM1000 348h6v6h-6zM934 354h6v6h-6zM952 372h6v6h-6zM970 372h6v6h-6z"/>
<path fill="#1b1b1b" d="M964 48h6v6h-6zM1012 96h6v6h-6zM904 108h6v6h-6zM898 120h6v6h-6zM1024 120h6v6h-6zM1030 126h6v6h-6zM892 132h6v6h-6zM1042 132h6v6h-6zM1054 138h6v6h-6zM886 144h6v6h-6zM1072 144h6v6h-6zM880 150h6v6h-6zM1096 150h6v6h-6zM754 156h6v6h-6zM766 156h12v6h-12zM862 156h6v6h-6zM1108 156h6v6h-6zM1174 156h6v6h-6zM1204 156h6v6h-6zM730 162h12v6h-12zM1120 162h6v6h-6zM1156 162h6v6h-6zM1216 162h6v6h-6zM1126 168h12v6h-12zM1144 168h6v6h-6zM700 186h6v6h-6zM700 198h6v6h-6zM700 222h6v6h-6zM700 240h6v6h-6zM856 252h6v6h-6zM748 258h6v6h-6zM844 258h6v6h-6zM868 258h6v6h-6zM736 264h6v6h-6zM754 264h6v6h-6zM832 264h6v6h-6zM868 264h6v6h-6zM1078 264h30v6h-30zM1222 264h6v6h-6zM730 270h6v6h-6zM760 270h6v6h-6zM826 270h6v6h-6zM868 270h6v6h-6zM1036 270h6v6h-6zM1102 270h12v6h-12zM766 276h6v6h-6zM820 276h6v6h-6zM868 276h6v6h-6zM1102 276h12v6h-12zM1210 276h6v6h-6zM724 282h6v6h-6zM766 282h6v6h-6zM820 282h6v6h-6zM868 282h6v6h-6zM1030 282h6v6h-6zM1096 282h12v6h-12zM1150 282h54v6h-54zM706 288h6v6h-6zM730 288h6v6h-6zM778 288h6v6h-6zM820 288h6v6h-6zM868 288h12v6h-12zM1096 288h6v6h-6zM1138 288h18v6h-18zM706 294h6v6h-6zM730 294h6v6h-6zM790 294h6v6h-6zM814 294h6v6h-6zM868 294h12v6h-12zM1096 294h6v6h-6zM1132 294h18v6h-18zM730 300h6v6h-6zM868 300h6v6h-6zM1096 300h6v6h-6zM1132 300h12v6h-12zM730 306h6v6h-6zM868 306h6v6h-6zM1096 306h6v6h-6zM1132 306h12v6h-12zM712 312h18v6h-18zM868 312h6v6h-6zM1012 312h6v6h-6zM1096 312h12v6h-12zM1126 312h12v6h-12zM874 318h6v6h-6zM1108 318h18v6h-18zM886 324h6v6h-6zM904 330h6v6h-6zM928 342h6v6h-6zM940 360h6v6h-6zM946 366h6v6h-6zM958 372h12v6h-12z"/>
<path fill="#1c1c1c" d="M1000 72h6v6h-6zM922 78h6v6h-6zM1006 84h6v6h-6zM916 90h6v6h-6zM1036 132h6v6h-6zM892 138h6v6h-6zM1066 144h6v6h-6zM1090 150h6v6h-6zM760 156h6v6h-6zM868 156h6v6h-6zM1180 156h6v6h-6zM1198 156h6v6h-6zM742 162h6v6h-6zM790 162h12v6h-12zM712 168h6v6h-6zM1126 174h18v6h-18zM1216 180h6v6h-6zM700 192h6v6h-6zM1222 198h6v6h-6zM1222 222h6v6h-6zM700 228h6v6h-6zM1222 228h6v6h-6zM700 234h6v6h-6zM850 252h6v6h-6zM862 252h12v6h-12zM736 258h12v6h-12zM754 258h6v6h-6zM838 258h6v6h-6zM874 258h6v6h-6zM1090 258h18v6h-18zM730 264h6v6h-6zM760 264h6v6h-6zM826 264h6v6h-6zM874 264h6v6h-6zM1042 264h6v6h-6zM1108 264h6v6h-6zM724 270h6v6h-6zM766 270h6v6h-6zM820 270h6v6h-6zM874 270h6v6h-6zM1114 270h6v6h-6zM1216 270h6v6h-6zM724 276h6v6h-6zM772 276h6v6h-6zM814 276h6v6h-6zM874 276h6v6h-6zM1030 276h6v6h-6zM1114 276h6v6h-6zM1162 276h48v6h-48zM706 282h6v6h-6zM772 282h12v6h-12zM814 282h6v6h-6zM874 282h6v6h-6zM1108 282h12v6h-12zM1138 282h12v6h-12zM724 288h6v6h-6zM784 288h6v6h-6zM814 288h6v6h-6zM880 288h6v6h-6zM1102 288h36v6h-36zM724 294h6v6h-6zM796 294h18v6h-18zM880 294h6v6h-6zM1024 294h6v6h-6zM1102 294h30v6h-30zM712 300h6v6h-6zM724 300h6v6h-6zM874 300h6v6h-6zM1018 300h6v6h-6zM1102 300h30v6h-30zM712 306h18v6h-18zM874 306h6v6h-6zM1102 306h30v6h-30zM874 312h6v6h-6zM1108 312h18v6h-18zM880 318h6v6h-6zM892 324h6v6h-6zM910 330h6v6h-6zM922 336h6v6h-6zM1006 336h6v6h-6zM934 348h6v6h-6zM976 366h6v6h-6z"/>
<path fill="#1d1d1d" d="M982 54h6v6h-6zM910 102h6v6h-6zM904 114h6v6h-6zM1018 114h6v6h-6zM898 126h6v6h-6zM1048 138h6v6h-6zM1060 144h6v6h-6zM1078 150h12v6h-12zM874 156h6v6h-6zM1102 156h6v6h-6zM1186 156h12v6h-12zM748 162h6v6h-6zM778 162h12v6h-12zM802 162h18v6h-18zM1114 162h6v6h-6zM1162 162h6v6h-6zM1210 162h6v6h-6zM718 168h12v6h-12zM1120 168h6v6h-6zM1150 168h6v6h-6zM1216 168h6v6h-6zM706 174h6v6h-6zM1216 174h6v6h-6zM1126 180h6v6h-6zM1216 186h6v6h-6zM1222 204h6v6h-6zM1222 210h6v6h-6zM1222 216h6v6h-6zM1222 234h6v6h-6zM856 246h12v6h-12zM742 252h12v6h-12zM844 252h6v6h-6zM874 252h6v6h-6zM760 258h6v6h-6zM832 258h6v6h-6zM1048 258h42v6h-42zM1222 258h6v6h-6zM766 264h6v6h-6zM820 264h6v6h-6zM880 264h6v6h-6zM1036 264h6v6h-6zM772 270h6v6h-6zM814 270h6v6h-6zM880 270h6v6h-6zM706 276h6v6h-6zM718 276h6v6h-6zM778 276h6v6h-6zM808 276h6v6h-6zM880 276h6v6h-6zM1120 276h6v6h-6zM1144 276h18v6h-18zM712 282h12v6h-12zM784 282h6v6h-6zM808 282h6v6h-6zM880 282h6v6h-6zM1120 282h18v6h-18zM712 288h12v6h-12zM790 288h6v6h-6zM808 288h6v6h-6zM886 288h6v6h-6zM1024 288h6v6h-6zM712 294h12v6h-12zM886 294h6v6h-6zM718 300h6v6h-6zM880 300h6v6h-6zM1012 306h6v6h-6zM880 312h6v6h-6zM886 318h6v6h-6zM1006 318h6v6h-6zM898 324h6v6h-6zM1006 324h6v6h-6zM916 330h6v6h-6zM1006 330h6v6h-6zM1000 342h6v6h-6zM994 348h6v6h-6zM940 354h6v6h-6zM988 354h6v6h-6zM982 360h6v6h-6zM952 366h6v6h-6z"/>
<path fill="#1e1e1e" d="M946 54h6v6h-6zM994 66h6v6h-6zM1012 102h6v6h-6zM1024 126h6v6h-6zM898 132h6v6h-6zM1030 132h6v6h-6zM1042 138h6v6h-6zM892 144h6v6h-6zM886 150h6v6h-6zM1072 150h6v6h-6zM754 162h24v6h-24zM820 162h42v6h-42zM730 168h6v6h-6zM1156 168h6v6h-6zM1120 174h6v6h-6zM1144 174h6v6h-6zM1120 180h6v6h-6zM1132 180h12v6h-12zM1216 192h6v6h-6zM1222 240h6v6h-6zM742 246h12v6h-12zM850 246h6v6h-6zM868 246h6v6h-6zM736 252h6v6h-6zM754 252h6v6h-6zM838 252h6v6h-6zM1096 252h6v6h-6zM730 258h6v6h-6zM826 258h6v6h-6zM880 258h6v6h-6zM1042 258h6v6h-6zM1108 258h6v6h-6zM706 264h6v6h-6zM724 264h6v6h-6zM772 264h6v6h-6zM814 264h6v6h-6zM1114 264h6v6h-6zM706 270h6v6h-6zM718 270h6v6h-6zM778 270h6v6h-6zM808 270h6v6h-6zM886 270h6v6h-6zM1030 270h6v6h-6zM1120 270h6v6h-6zM1168 270h48v6h-48zM712 276h6v6h-6zM784 276h6v6h-6zM802 276h6v6h-6zM886 276h6v6h-6zM1126 276h18v6h-18zM790 282h18v6h-18zM886 282h6v6h-6zM1024 282h6v6h-6zM796 288h12v6h-12zM892 288h6v6h-6zM892 294h6v6h-6zM886 300h12v6h-12zM880 306h6v6h-6zM1006 312h6v6h-6zM892 318h6v6h-6zM904 324h6v6h-6zM928 336h6v6h-6zM946 360h6v6h-6zM958 366h6v6h-6zM970 366h6v6h-6z"/>
<path fill="#1f1f1f" d="M988 60h6v6h-6zM928 72h6v6h-6zM922 84h6v6h-6zM1006 90h6v6h-6zM916 96h6v6h-6zM904 120h6v6h-6zM1054 144h6v6h-6zM1066 150h6v6h-6zM880 156h6v6h-6zM1096 156h6v6h-6zM862 162h12v6h-12zM1108 162h6v6h-6zM1168 162h6v6h-6zM1204 162h6v6h-6zM736 168h12v6h-12zM1114 168h6v6h-6zM1210 168h6v6h-6zM712 174h12v6h-12zM1114 174h6v6h-6zM1150 174h6v6h-6zM1210 174h6v6h-6zM706 180h6v6h-6zM1114 180h6v6h-6zM1210 180h6v6h-6zM1210 186h6v6h-6zM826 216h12v6h-12zM748 234h6v6h-6zM742 240h12v6h-12zM856 240h18v6h-18zM754 246h6v6h-6zM844 246h6v6h-6zM874 246h6v6h-6zM1222 246h6v6h-6zM760 252h6v6h-6zM880 252h6v6h-6zM1084 252h12v6h-12zM1102 252h6v6h-6zM1222 252h6v6h-6zM706 258h6v6h-6zM724 258h6v6h-6zM766 258h6v6h-6zM886 258h6v6h-6zM718 264h6v6h-6zM778 264h6v6h-6zM808 264h6v6h-6zM886 264h6v6h-6zM1216 264h6v6h-6zM712 270h6v6h-6zM784 270h24v6h-24zM1126 270h6v6h-6zM1150 270h18v6h-18zM790 276h12v6h-12zM892 276h6v6h-6zM1024 276h6v6h-6zM892 282h6v6h-6zM898 288h6v6h-6zM898 294h6v6h-6zM1018 294h6v6h-6zM898 300h6v6h-6zM1012 300h6v6h-6zM886 306h6v6h-6zM886 312h6v6h-6zM910 324h6v6h-6zM922 330h6v6h-6zM934 342h6v6h-6zM976 360h6v6h-6zM964 366h6v6h-6z"/>
<path fill="#202020" d="M1000 78h6v6h-6zM910 108h6v6h-6zM1012 108h6v6h-6zM1018 120h6v6h-6zM898 138h6v6h-6zM1036 138h6v6h-6zM1048 144h6v6h-6zM892 150h6v6h-6zM1060 150h6v6h-6zM1078 156h18v6h-18zM874 162h6v6h-6zM1174 162h6v6h-6zM1198 162h6v6h-6zM748 168h6v6h-6zM778 168h30v6h-30zM724 174h12v6h-12zM1144 180h6v6h-6zM1120 186h18v6h-18zM820 210h18v6h-18zM820 216h6v6h-6zM838 216h12v6h-12zM838 222h6v6h-6zM748 228h12v6h-12zM742 234h6v6h-6zM754 234h6v6h-6zM754 240h6v6h-6zM850 240h6v6h-6zM874 240h6v6h-6zM736 246h6v6h-6zM880 246h6v6h-6zM706 252h6v6h-6zM730 252h6v6h-6zM832 252h6v6h-6zM1048 252h36v6h-36zM1108 252h6v6h-6zM772 258h6v6h-6zM820 258h6v6h-6zM1036 258h6v6h-6zM1114 258h6v6h-6zM712 264h6v6h-6zM784 264h24v6h-24zM892 264h6v6h-6zM1030 264h6v6h-6zM1120 264h6v6h-6zM1174 264h30v6h-30zM892 270h6v6h-6zM1132 270h18v6h-18zM898 282h6v6h-6zM904 288h6v6h-6zM904 294h6v6h-6zM904 300h6v6h-6zM892 306h12v6h-12zM1006 306h6v6h-6zM892 312h6v6h-6zM898 318h6v6h-6zM1000 318h6v6h-6zM1000 324h6v6h-6zM1000 330h6v6h-6zM1000 336h6v6h-6zM940 348h6v6h-6zM982 354h6v6h-6z"/>
<path fill="#212121" d="M976 54h6v6h-6zM940 60h6v6h-6zM934 66h6v6h-6zM904 126h6v6h-6zM1024 132h6v6h-6zM898 144h6v6h-6zM886 156h6v6h-6zM1066 156h12v6h-12zM1102 162h6v6h-6zM1180 162h18v6h-18zM754 168h24v6h-24zM808 168h12v6h-12zM1108 168h6v6h-6zM1162 168h6v6h-6zM1204 168h6v6h-6zM736 174h6v6h-6zM1156 174h6v6h-6zM1204 174h6v6h-6zM1108 180h6v6h-6zM1204 180h6v6h-6zM706 186h6v6h-6zM1114 186h6v6h-6zM1204 186h6v6h-6zM1210 192h6v6h-6zM1216 198h6v6h-6zM814 204h18v6h-18zM814 210h6v6h-6zM838 210h12v6h-12zM814 216h6v6h-6zM850 216h6v6h-6zM748 222h6v6h-6zM826 222h12v6h-12zM844 222h12v6h-12zM1216 222h6v6h-6zM742 228h6v6h-6zM850 228h12v6h-12zM1216 228h6v6h-6zM760 234h6v6h-6zM850 234h24v6h-24zM736 240h6v6h-6zM760 240h6v6h-6zM844 240h6v6h-6zM706 246h6v6h-6zM760 246h6v6h-6zM838 246h6v6h-6zM1096 246h12v6h-12zM724 252h6v6h-6zM766 252h6v6h-6zM826 252h6v6h-6zM886 252h6v6h-6zM1042 252h6v6h-6zM712 258h12v6h-12zM814 258h6v6h-6zM892 258h6v6h-6zM1126 264h6v6h-6zM1168 264h6v6h-6zM1204 264h12v6h-12zM1024 270h6v6h-6zM898 276h6v6h-6zM1018 288h6v6h-6zM898 312h6v6h-6zM904 318h6v6h-6zM916 324h6v6h-6zM994 342h6v6h-6zM988 348h6v6h-6zM946 354h6v6h-6zM952 360h6v6h-6z"/>
<path fill="#222222" d="M910 114h6v6h-6zM1030 138h6v6h-6zM1042 144h6v6h-6zM1054 150h6v6h-6zM1060 156h6v6h-6zM880 162h6v6h-6zM1066 162h12v6h-12zM820 168h54v6h-54zM1198 168h6v6h-6zM742 174h6v6h-6zM1108 174h6v6h-6zM712 180h12v6h-12zM1150 180h6v6h-6zM802 186h6v6h-6zM1108 186h6v6h-6zM1138 186h6v6h-6zM802 192h18v6h-18zM802 198h24v6h-24zM706 204h6v6h-6zM808 204h6v6h-6zM832 204h12v6h-12zM1216 204h6v6h-6zM706 210h6v6h-6zM808 210h6v6h-6zM850 210h6v6h-6zM1216 210h6v6h-6zM706 216h6v6h-6zM856 216h6v6h-6zM1216 216h6v6h-6zM742 222h6v6h-6zM754 222h6v6h-6zM820 222h6v6h-6zM856 222h6v6h-6zM760 228h6v6h-6zM838 228h12v6h-12zM862 228h6v6h-6zM736 234h6v6h-6zM844 234h6v6h-6zM874 234h6v6h-6zM1216 234h6v6h-6zM706 240h6v6h-6zM880 240h6v6h-6zM730 246h6v6h-6zM886 246h6v6h-6zM1084 246h12v6h-12zM1108 246h6v6h-6zM1036 252h6v6h-6zM1114 252h6v6h-6zM778 258h6v6h-6zM808 258h6v6h-6zM1030 258h6v6h-6zM1120 258h6v6h-6zM1180 258h24v6h-24zM1216 258h6v6h-6zM1024 264h6v6h-6zM1156 264h12v6h-12zM898 270h6v6h-6zM904 282h6v6h-6zM1018 282h6v6h-6zM910 294h6v6h-6zM1012 294h6v6h-6zM910 300h6v6h-6zM904 306h6v6h-6zM904 312h6v6h-6zM1000 312h6v6h-6zM910 318h6v6h-6zM928 330h6v6h-6zM934 336h6v6h-6zM958 360h6v6h-6zM970 360h6v6h-6z"/>
<path fill="#232323" d="M952 54h6v6h-6zM922 90h6v6h-6zM1006 96h6v6h-6zM916 102h6v6h-6zM1012 114h6v6h-6zM1018 126h6v6h-6zM904 132h6v6h-6zM1048 150h6v6h-6zM892 156h6v6h-6zM1054 156h6v6h-6zM886 162h6v6h-6zM1060 162h6v6h-6zM1078 162h24v6h-24zM874 168h6v6h-6zM1060 168h12v6h-12zM1102 168h6v6h-6zM1168 168h6v6h-6zM748 174h6v6h-6zM778 174h36v6h-36zM1198 174h6v6h-6zM724 180h12v6h-12zM790 180h18v6h-18zM1198 180h6v6h-6zM790 186h12v6h-12zM808 186h12v6h-12zM1144 186h6v6h-6zM1198 186h6v6h-6zM706 192h6v6h-6zM796 192h6v6h-6zM820 192h6v6h-6zM1120 192h12v6h-12zM1204 192h6v6h-6zM706 198h6v6h-6zM826 198h12v6h-12zM802 204h6v6h-6zM844 204h6v6h-6zM808 216h6v6h-6zM706 222h6v6h-6zM760 222h6v6h-6zM814 222h6v6h-6zM862 222h6v6h-6zM706 228h6v6h-6zM736 228h6v6h-6zM832 228h6v6h-6zM868 228h6v6h-6zM706 234h6v6h-6zM838 234h6v6h-6zM880 234h6v6h-6zM730 240h6v6h-6zM838 240h6v6h-6zM886 240h6v6h-6zM1216 240h6v6h-6zM724 246h6v6h-6zM766 246h6v6h-6zM832 246h6v6h-6zM1042 246h42v6h-42zM712 252h12v6h-12zM772 252h6v6h-6zM820 252h6v6h-6zM892 252h6v6h-6zM1186 252h12v6h-12zM784 258h24v6h-24zM1174 258h6v6h-6zM1204 258h12v6h-12zM898 264h6v6h-6zM1132 264h6v6h-6zM1150 264h6v6h-6zM910 288h6v6h-6zM1006 300h6v6h-6zM910 306h6v6h-6zM910 312h6v6h-6zM922 324h6v6h-6zM994 336h6v6h-6zM940 342h6v6h-6zM976 354h6v6h-6zM964 360h6v6h-6z"/>
<path fill="#242424" d="M994 72h6v6h-6zM928 78h6v6h-6zM904 138h6v6h-6zM1036 144h6v6h-6zM898 150h6v6h-6zM1054 162h6v6h-6zM880 168h6v6h-6zM1072 168h6v6h-6zM1174 168h6v6h-6zM1192 168h6v6h-6zM754 174h24v6h-24zM814 174h66v6h-66zM1102 174h6v6h-6zM1162 174h6v6h-6zM736 180h6v6h-6zM784 180h6v6h-6zM808 180h12v6h-12zM1102 180h6v6h-6zM1156 180h6v6h-6zM712 186h6v6h-6zM784 186h6v6h-6zM820 186h6v6h-6zM1102 186h6v6h-6zM790 192h6v6h-6zM826 192h12v6h-12zM1114 192h6v6h-6zM1132 192h6v6h-6zM796 198h6v6h-6zM838 198h6v6h-6zM1210 198h6v6h-6zM850 204h6v6h-6zM802 210h6v6h-6zM856 210h6v6h-6zM742 216h18v6h-18zM862 216h6v6h-6zM736 222h6v6h-6zM868 222h6v6h-6zM1210 222h6v6h-6zM766 228h6v6h-6zM826 228h6v6h-6zM874 228h6v6h-6zM1210 228h6v6h-6zM730 234h6v6h-6zM766 234h6v6h-6zM832 234h6v6h-6zM1192 234h12v6h-12zM1210 234h6v6h-6zM766 240h6v6h-6zM832 240h6v6h-6zM1036 240h18v6h-18zM1096 240h18v6h-18zM1186 240h12v6h-12zM712 246h6v6h-6zM826 246h6v6h-6zM892 246h6v6h-6zM1036 246h6v6h-6zM1114 246h6v6h-6zM1186 246h12v6h-12zM1030 252h6v6h-6zM1180 252h6v6h-6zM1198 252h6v6h-6zM1216 252h6v6h-6zM898 258h6v6h-6zM1024 258h6v6h-6zM1168 258h6v6h-6zM1138 264h12v6h-12zM904 276h6v6h-6zM1018 276h6v6h-6zM1000 306h6v6h-6zM916 318h6v6h-6zM946 348h6v6h-6zM982 348h6v6h-6zM952 354h6v6h-6z"/>
<path fill="#252525" d="M958 54h6v6h-6zM970 54h6v6h-6zM1000 84h6v6h-6zM910 120h6v6h-6zM1024 138h6v6h-6zM1042 150h6v6h-6zM1048 156h6v6h-6zM886 168h6v6h-6zM1054 168h6v6h-6zM1078 168h12v6h-12zM1096 168h6v6h-6zM1180 168h12v6h-12zM880 174h6v6h-6zM1060 174h18v6h-18zM1096 174h6v6h-6zM1168 174h6v6h-6zM1192 174h6v6h-6zM742 180h6v6h-6zM778 180h6v6h-6zM820 180h54v6h-54zM1096 180h6v6h-6zM1192 180h6v6h-6zM718 186h6v6h-6zM826 186h18v6h-18zM1150 186h6v6h-6zM1192 186h6v6h-6zM838 192h6v6h-6zM1108 192h6v6h-6zM1138 192h6v6h-6zM1198 192h6v6h-6zM790 198h6v6h-6zM844 198h6v6h-6zM1204 198h6v6h-6zM796 204h6v6h-6zM856 204h6v6h-6zM1060 204h12v6h-12zM1210 204h6v6h-6zM862 210h6v6h-6zM1060 210h12v6h-12zM1210 210h6v6h-6zM760 216h6v6h-6zM1210 216h6v6h-6zM766 222h6v6h-6zM808 222h6v6h-6zM1192 222h18v6h-18zM730 228h6v6h-6zM820 228h6v6h-6zM1186 228h24v6h-24zM886 234h6v6h-6zM1036 234h12v6h-12zM1180 234h12v6h-12zM1204 234h6v6h-6zM724 240h6v6h-6zM1030 240h6v6h-6zM1054 240h12v6h-12zM1084 240h12v6h-12zM1114 240h6v6h-6zM1198 240h18v6h-18zM718 246h6v6h-6zM1030 246h6v6h-6zM1180 246h6v6h-6zM1198 246h6v6h-6zM1216 246h6v6h-6zM778 252h6v6h-6zM814 252h6v6h-6zM898 252h6v6h-6zM1120 252h6v6h-6zM1174 252h6v6h-6zM1204 252h6v6h-6zM1126 258h6v6h-6zM1162 258h6v6h-6zM904 270h6v6h-6zM1018 270h6v6h-6zM910 282h6v6h-6zM1012 288h6v6h-6zM916 294h6v6h-6zM916 300h6v6h-6zM916 306h6v6h-6zM916 312h6v6h-6zM994 318h6v6h-6zM994 324h6v6h-6zM994 330h6v6h-6zM988 342h6v6h-6z"/>
<path fill="#262626" d="M964 54h6v6h-6zM982 60h6v6h-6zM988 66h6v6h-6zM1006 102h6v6h-6zM916 108h6v6h-6zM1018 132h6v6h-6zM904 144h6v6h-6zM1030 144h6v6h-6zM892 162h6v6h-6zM1048 162h6v6h-6zM1048 168h6v6h-6zM1090 168h6v6h-6zM1054 174h6v6h-6zM1078 174h6v6h-6zM1090 174h6v6h-6zM1186 174h6v6h-6zM748 180h6v6h-6zM772 180h6v6h-6zM874 180h6v6h-6zM1060 180h12v6h-12zM1162 180h6v6h-6zM724 186h12v6h-12zM778 186h6v6h-6zM844 186h18v6h-18zM1096 186h6v6h-6zM712 192h6v6h-6zM784 192h6v6h-6zM844 192h12v6h-12zM1102 192h6v6h-6zM850 198h6v6h-6zM1060 198h12v6h-12zM1120 198h6v6h-6zM1054 204h6v6h-6zM1072 204h6v6h-6zM712 210h6v6h-6zM748 210h6v6h-6zM1054 210h6v6h-6zM1072 210h6v6h-6zM712 216h6v6h-6zM736 216h6v6h-6zM802 216h6v6h-6zM868 216h6v6h-6zM1060 216h6v6h-6zM1192 216h18v6h-18zM730 222h6v6h-6zM874 222h6v6h-6zM1180 222h12v6h-12zM880 228h6v6h-6zM1180 228h6v6h-6zM826 234h6v6h-6zM1030 234h6v6h-6zM1048 234h12v6h-12zM1102 234h18v6h-18zM712 240h12v6h-12zM826 240h6v6h-6zM892 240h6v6h-6zM1066 240h18v6h-18zM1180 240h6v6h-6zM772 246h6v6h-6zM1204 246h12v6h-12zM808 252h6v6h-6zM1024 252h6v6h-6zM1210 252h6v6h-6zM1156 258h6v6h-6zM904 264h6v6h-6zM1018 264h6v6h-6zM916 288h6v6h-6zM922 318h6v6h-6zM928 324h6v6h-6zM934 330h6v6h-6zM940 336h6v6h-6zM958 354h6v6h-6zM970 354h6v6h-6z"/>
<path fill="#272727" d="M934 72h6v6h-6zM1012 120h6v6h-6zM910 126h6v6h-6zM1036 150h6v6h-6zM898 156h6v6h-6zM1042 156h6v6h-6zM886 174h6v6h-6zM1084 174h6v6h-6zM1174 174h12v6h-12zM754 180h18v6h-18zM880 180h6v6h-6zM1054 180h6v6h-6zM1072 180h24v6h-24zM1168 180h6v6h-6zM1186 180h6v6h-6zM736 186h6v6h-6zM862 186h12v6h-12zM1066 186h6v6h-6zM1090 186h6v6h-6zM1156 186h6v6h-6zM1186 186h6v6h-6zM778 192h6v6h-6zM856 192h6v6h-6zM1066 192h6v6h-6zM1096 192h6v6h-6zM1144 192h6v6h-6zM1192 192h6v6h-6zM712 198h6v6h-6zM784 198h6v6h-6zM856 198h6v6h-6zM1054 198h6v6h-6zM1072 198h12v6h-12zM1108 198h12v6h-12zM1126 198h12v6h-12zM1198 198h6v6h-6zM712 204h6v6h-6zM790 204h6v6h-6zM862 204h6v6h-6zM1048 204h6v6h-6zM1078 204h6v6h-6zM1204 204h6v6h-6zM742 210h6v6h-6zM754 210h6v6h-6zM796 210h6v6h-6zM868 210h6v6h-6zM1048 210h6v6h-6zM1078 210h6v6h-6zM1198 210h12v6h-12zM730 216h6v6h-6zM766 216h6v6h-6zM1054 216h6v6h-6zM1066 216h12v6h-12zM1180 216h12v6h-12zM712 222h6v6h-6zM1054 222h6v6h-6zM1126 222h12v6h-12zM1174 222h6v6h-6zM712 228h6v6h-6zM772 228h6v6h-6zM814 228h6v6h-6zM886 228h6v6h-6zM1036 228h24v6h-24zM1114 228h18v6h-18zM1174 228h6v6h-6zM712 234h6v6h-6zM724 234h6v6h-6zM772 234h6v6h-6zM820 234h6v6h-6zM892 234h6v6h-6zM1060 234h6v6h-6zM1090 234h12v6h-12zM1120 234h6v6h-6zM1174 234h6v6h-6zM772 240h6v6h-6zM1024 240h6v6h-6zM1120 240h6v6h-6zM1174 240h6v6h-6zM820 246h6v6h-6zM898 246h6v6h-6zM1024 246h6v6h-6zM1120 246h6v6h-6zM1174 246h6v6h-6zM784 252h6v6h-6zM802 252h6v6h-6zM1168 252h6v6h-6zM904 258h6v6h-6zM1132 258h6v6h-6zM1150 258h6v6h-6zM910 276h6v6h-6zM1012 282h6v6h-6zM1006 294h6v6h-6zM994 312h6v6h-6zM946 342h6v6h-6zM964 354h6v6h-6z"/>
<path fill="#282828" d="M946 60h6v6h-6zM922 96h6v6h-6zM1042 162h6v6h-6zM892 168h6v6h-6zM1048 174h6v6h-6zM1174 180h12v6h-12zM742 186h6v6h-6zM772 186h6v6h-6zM874 186h6v6h-6zM1054 186h12v6h-12zM1072 186h18v6h-18zM1162 186h6v6h-6zM1180 186h6v6h-6zM718 192h12v6h-12zM862 192h6v6h-6zM1054 192h12v6h-12zM1072 192h24v6h-24zM1150 192h6v6h-6zM1186 192h6v6h-6zM862 198h6v6h-6zM1048 198h6v6h-6zM1084 198h24v6h-24zM1138 198h6v6h-6zM1192 198h6v6h-6zM1084 204h6v6h-6zM1192 204h12v6h-12zM736 210h6v6h-6zM760 210h6v6h-6zM1186 210h12v6h-12zM796 216h6v6h-6zM874 216h6v6h-6zM1048 216h6v6h-6zM1126 216h24v6h-24zM1168 216h12v6h-12zM724 222h6v6h-6zM772 222h6v6h-6zM802 222h6v6h-6zM880 222h6v6h-6zM1042 222h12v6h-12zM1060 222h12v6h-12zM1114 222h12v6h-12zM1138 222h12v6h-12zM1168 222h6v6h-6zM718 228h12v6h-12zM1060 228h12v6h-12zM1102 228h12v6h-12zM1132 228h6v6h-6zM1168 228h6v6h-6zM718 234h6v6h-6zM1066 234h24v6h-24zM1126 234h6v6h-6zM1168 234h6v6h-6zM820 240h6v6h-6zM898 240h6v6h-6zM778 246h6v6h-6zM790 252h12v6h-12zM1126 252h6v6h-6zM1018 258h6v6h-6zM1138 258h12v6h-12zM922 300h6v6h-6zM1000 300h6v6h-6zM922 306h6v6h-6zM922 312h6v6h-6zM988 336h6v6h-6zM952 348h6v6h-6zM976 348h6v6h-6z"/>
<path fill="#292929" d="M940 66h6v6h-6zM994 78h6v6h-6zM928 84h6v6h-6zM1000 90h6v6h-6zM910 132h6v6h-6zM1024 144h6v6h-6zM904 150h6v6h-6zM1030 150h6v6h-6zM1036 156h6v6h-6zM898 162h6v6h-6zM1042 168h6v6h-6zM892 174h6v6h-6zM886 180h6v6h-6zM1048 180h6v6h-6zM748 186h24v6h-24zM1168 186h12v6h-12zM730 192h12v6h-12zM772 192h6v6h-6zM868 192h6v6h-6zM1048 192h6v6h-6zM1156 192h6v6h-6zM1180 192h6v6h-6zM718 198h6v6h-6zM778 198h6v6h-6zM1144 198h6v6h-6zM1186 198h6v6h-6zM718 204h6v6h-6zM736 204h18v6h-18zM784 204h6v6h-6zM868 204h6v6h-6zM1042 204h6v6h-6zM1090 204h6v6h-6zM1114 204h30v6h-30zM1186 204h6v6h-6zM718 210h18v6h-18zM766 210h6v6h-6zM790 210h6v6h-6zM1042 210h6v6h-6zM1084 210h6v6h-6zM1126 210h30v6h-30zM1174 210h12v6h-12zM718 216h12v6h-12zM772 216h6v6h-6zM1042 216h6v6h-6zM1078 216h6v6h-6zM1120 216h6v6h-6zM1150 216h18v6h-18zM718 222h6v6h-6zM1036 222h6v6h-6zM1072 222h6v6h-6zM1108 222h6v6h-6zM1150 222h18v6h-18zM808 228h6v6h-6zM892 228h6v6h-6zM1030 228h6v6h-6zM1072 228h6v6h-6zM1096 228h6v6h-6zM1138 228h6v6h-6zM1162 228h6v6h-6zM814 234h6v6h-6zM1024 234h6v6h-6zM1168 240h6v6h-6zM814 246h6v6h-6zM1168 246h6v6h-6zM904 252h6v6h-6zM1018 252h6v6h-6zM1162 252h6v6h-6zM910 270h6v6h-6zM1012 276h6v6h-6zM916 282h6v6h-6zM922 294h6v6h-6zM988 330h6v6h-6zM982 342h6v6h-6z"/>
<path fill="#2a2a2a" d="M1006 108h6v6h-6zM916 114h6v6h-6zM1012 126h6v6h-6zM1018 138h6v6h-6zM1042 174h6v6h-6zM880 186h6v6h-6zM1048 186h6v6h-6zM742 192h12v6h-12zM1162 192h18v6h-18zM724 198h24v6h-24zM868 198h6v6h-6zM1042 198h6v6h-6zM1150 198h6v6h-6zM1180 198h6v6h-6zM724 204h12v6h-12zM754 204h12v6h-12zM1096 204h18v6h-18zM1144 204h12v6h-12zM1174 204h12v6h-12zM772 210h6v6h-6zM784 210h6v6h-6zM874 210h6v6h-6zM1090 210h6v6h-6zM1120 210h6v6h-6zM1156 210h18v6h-18zM778 216h6v6h-6zM790 216h6v6h-6zM880 216h6v6h-6zM1036 216h6v6h-6zM1084 216h6v6h-6zM1114 216h6v6h-6zM778 222h6v6h-6zM796 222h6v6h-6zM886 222h6v6h-6zM1078 222h12v6h-12zM1102 222h6v6h-6zM778 228h6v6h-6zM1078 228h18v6h-18zM1144 228h18v6h-18zM778 234h6v6h-6zM898 234h6v6h-6zM1132 234h6v6h-6zM1162 234h6v6h-6zM778 240h6v6h-6zM814 240h6v6h-6zM1126 240h6v6h-6zM784 246h6v6h-6zM808 246h6v6h-6zM904 246h6v6h-6zM1018 246h6v6h-6zM1126 246h6v6h-6zM1156 252h6v6h-6zM1012 270h6v6h-6zM1006 288h6v6h-6zM994 306h6v6h-6zM928 318h6v6h-6zM934 324h6v6h-6zM988 324h6v6h-6zM958 348h6v6h-6zM970 348h6v6h-6z"/>
<path fill="#2b2b2b" d="M910 138h6v6h-6zM904 156h6v6h-6zM1036 162h6v6h-6zM898 168h6v6h-6zM892 180h6v6h-6zM1042 180h6v6h-6zM754 192h18v6h-18zM874 192h6v6h-6zM1042 192h6v6h-6zM748 198h12v6h-12zM766 198h12v6h-12zM1156 198h24v6h-24zM766 204h18v6h-18zM874 204h6v6h-6zM1036 204h6v6h-6zM1156 204h18v6h-18zM778 210h6v6h-6zM1036 210h6v6h-6zM1096 210h24v6h-24zM784 216h6v6h-6zM1090 216h24v6h-24zM784 222h12v6h-12zM1030 222h6v6h-6zM1090 222h12v6h-12zM802 228h6v6h-6zM1024 228h6v6h-6zM808 234h6v6h-6zM1138 234h6v6h-6zM1156 234h6v6h-6zM1018 240h6v6h-6zM1162 240h6v6h-6zM802 246h6v6h-6zM1162 246h6v6h-6zM1132 252h6v6h-6zM910 264h6v6h-6zM1012 264h6v6h-6zM922 288h6v6h-6zM988 318h6v6h-6zM940 330h6v6h-6zM946 336h6v6h-6zM952 342h6v6h-6zM964 348h6v6h-6z"/>
<path fill="#2c2c2c" d="M976 60h6v6h-6zM922 102h6v6h-6zM1030 156h6v6h-6zM1036 168h6v6h-6zM886 186h6v6h-6zM1042 186h6v6h-6zM880 192h6v6h-6zM760 198h6v6h-6zM874 198h6v6h-6zM1036 198h6v6h-6zM880 210h6v6h-6zM886 216h6v6h-6zM892 222h6v6h-6zM784 228h6v6h-6zM796 228h6v6h-6zM898 228h6v6h-6zM784 234h6v6h-6zM1144 234h12v6h-12zM784 240h6v6h-6zM808 240h6v6h-6zM904 240h6v6h-6zM1132 240h6v6h-6zM790 246h12v6h-12zM1138 252h18v6h-18zM910 258h6v6h-6zM916 276h6v6h-6zM928 312h6v6h-6zM982 336h6v6h-6zM976 342h6v6h-6z"/>
<path fill="#2d2d2d" d="M988 72h6v6h-6zM1006 114h6v6h-6zM916 120h6v6h-6zM910 144h6v6h-6zM1024 150h6v6h-6zM898 174h6v6h-6zM1036 192h6v6h-6zM1030 216h6v6h-6zM790 228h6v6h-6zM802 234h6v6h-6zM904 234h6v6h-6zM1018 234h6v6h-6zM1156 240h6v6h-6zM1132 246h6v6h-6zM1156 246h6v6h-6zM1012 258h6v6h-6zM1006 282h6v6h-6zM1000 294h6v6h-6zM928 300h6v6h-6zM928 306h6v6h-6zM988 312h6v6h-6z"/>
<path fill="#2e2e2e" d="M952 60h6v6h-6zM982 66h6v6h-6zM934 78h6v6h-6zM928 90h6v6h-6zM1000 96h6v6h-6zM1012 132h6v6h-6zM1018 144h6v6h-6zM904 162h6v6h-6zM1030 162h6v6h-6zM1036 174h6v6h-6zM1036 180h6v6h-6zM892 186h6v6h-6zM1036 186h6v6h-6zM886 192h6v6h-6zM880 198h6v6h-6zM880 204h6v6h-6zM1030 204h6v6h-6zM1030 210h6v6h-6zM898 222h6v6h-6zM1024 222h6v6h-6zM790 234h12v6h-12zM790 240h18v6h-18zM1138 240h18v6h-18zM1138 246h6v6h-6zM1150 246h6v6h-6zM910 252h6v6h-6zM1012 252h6v6h-6zM994 300h6v6h-6zM934 318h6v6h-6zM982 330h6v6h-6zM958 342h6v6h-6zM970 342h6v6h-6z"/>
<path fill="#2f2f2f" d="M994 84h6v6h-6zM916 126h6v6h-6zM898 180h6v6h-6zM1030 198h6v6h-6zM886 210h6v6h-6zM892 216h6v6h-6zM904 228h6v6h-6zM1144 246h6v6h-6zM916 270h6v6h-6zM1006 276h6v6h-6zM922 282h6v6h-6zM928 294h6v6h-6zM940 324h6v6h-6zM982 324h6v6h-6zM946 330h6v6h-6zM952 336h6v6h-6zM976 336h6v6h-6zM964 342h6v6h-6z"/>
<path fill="#303030" d="M970 60h6v6h-6zM922 108h6v6h-6zM910 150h6v6h-6zM1024 156h6v6h-6zM904 168h6v6h-6zM1030 168h6v6h-6zM1030 192h6v6h-6zM886 198h6v6h-6zM886 204h6v6h-6zM1018 228h6v6h-6zM910 246h6v6h-6zM1012 246h6v6h-6z"/>
<path fill="#313131" d="M958 60h6v6h-6zM946 66h6v6h-6zM940 72h6v6h-6zM1006 120h6v6h-6zM898 186h6v6h-6zM1030 186h6v6h-6zM892 192h6v6h-6zM892 210h6v6h-6zM898 216h6v6h-6zM1024 216h6v6h-6zM910 240h6v6h-6zM1012 240h6v6h-6zM916 264h6v6h-6zM1006 270h6v6h-6zM1000 288h6v6h-6zM988 306h6v6h-6zM934 312h6v6h-6zM982 318h6v6h-6z"/>
<path fill="#323232" d="M964 60h6v6h-6zM1000 102h6v6h-6zM916 132h6v6h-6zM1012 138h6v6h-6zM1018 150h6v6h-6zM904 174h6v6h-6zM1030 174h6v6h-6zM1030 180h6v6h-6zM892 198h6v6h-6zM892 204h6v6h-6zM1024 204h6v6h-6zM1024 210h6v6h-6zM904 222h6v6h-6zM910 234h6v6h-6zM1006 264h6v6h-6zM928 288h6v6h-6zM934 306h6v6h-6zM976 330h6v6h-6zM958 336h6v6h-6zM970 336h6v6h-6z"/>
<path fill="#333333" d="M928 96h6v6h-6zM910 156h6v6h-6zM1024 162h6v6h-6zM1024 198h6v6h-6zM898 210h6v6h-6zM916 258h6v6h-6zM922 276h6v6h-6zM940 318h6v6h-6zM952 330h6v6h-6zM964 336h6v6h-6z"/>
<path fill="#343434" d="M934 84h6v6h-6zM922 114h6v6h-6zM916 138h6v6h-6zM904 180h6v6h-6zM898 192h6v6h-6zM1024 192h6v6h-6zM1018 222h6v6h-6zM910 228h6v6h-6zM1012 234h6v6h-6zM1006 258h6v6h-6zM1000 282h6v6h-6zM994 294h6v6h-6zM934 300h6v6h-6zM982 312h6v6h-6zM946 324h6v6h-6z"/>
<path fill="#353535" d="M988 78h6v6h-6zM994 90h6v6h-6zM1006 126h6v6h-6zM1018 156h6v6h-6zM1024 168h6v6h-6zM898 198h6v6h-6zM898 204h6v6h-6zM904 216h6v6h-6zM916 252h6v6h-6zM976 324h6v6h-6zM970 330h6v6h-6z"/>
<path fill="#363636" d="M976 66h6v6h-6zM1012 144h6v6h-6zM910 162h6v6h-6zM1024 174h6v6h-6zM1024 180h6v6h-6zM1024 186h6v6h-6zM1018 216h6v6h-6zM1006 252h6v6h-6zM934 294h6v6h-6zM988 300h6v6h-6zM940 312h6v6h-6zM958 330h6v6h-6z"/>
<path fill="#373737" d="M982 72h6v6h-6zM1000 108h6v6h-6zM916 144h6v6h-6zM904 186h6v6h-6zM904 210h6v6h-6zM910 222h6v6h-6zM916 246h6v6h-6zM922 270h6v6h-6zM1000 276h6v6h-6zM928 282h6v6h-6zM976 318h6v6h-6zM964 330h6v6h-6z"/>
<path fill="#383838" d="M928 102h6v6h-6zM922 120h6v6h-6zM910 168h6v6h-6zM904 192h6v6h-6zM1018 210h6v6h-6zM1012 228h6v6h-6zM916 240h6v6h-6zM1006 246h6v6h-6zM982 306h6v6h-6zM946 318h6v6h-6zM952 324h6v6h-6zM970 324h6v6h-6z"/>
<path fill="#393939" d="M952 66h6v6h-6zM940 78h6v6h-6zM1006 132h6v6h-6zM1018 162h6v6h-6zM904 198h6v6h-6zM904 204h6v6h-6zM1018 204h6v6h-6zM1000 270h6v6h-6zM994 288h6v6h-6zM940 306h6v6h-6z"/>
<path fill="#3a3a3a" d="M916 150h6v6h-6zM1018 198h6v6h-6zM910 216h6v6h-6zM916 234h6v6h-6zM922 264h6v6h-6zM958 324h6v6h-6z"/>
<path fill="#3b3b3b" d="M946 72h6v6h-6zM934 90h6v6h-6zM994 96h6v6h-6zM1000 114h6v6h-6zM1012 150h6v6h-6zM1018 168h6v6h-6zM910 174h6v6h-6zM1018 192h6v6h-6zM1006 240h6v6h-6zM934 288h6v6h-6zM940 300h6v6h-6zM976 312h6v6h-6zM964 324h6v6h-6z"/>
<path fill="#3c3c3c" d="M970 66h6v6h-6zM988 84h6v6h-6zM922 126h6v6h-6zM910 180h6v6h-6zM1018 186h6v6h-6zM1012 222h6v6h-6zM916 228h6v6h-6zM1000 264h6v6h-6zM928 276h6v6h-6zM988 294h6v6h-6zM946 312h6v6h-6zM952 318h6v6h-6zM970 318h6v6h-6z"/>
<path fill="#3d3d3d" d="M958 66h6v6h-6zM928 108h6v6h-6zM1018 174h6v6h-6zM1018 180h6v6h-6zM910 210h6v6h-6zM922 258h6v6h-6zM994 282h6v6h-6z"/>
<path fill="#3e3e3e" d="M964 66h6v6h-6zM1006 138h6v6h-6zM916 156h6v6h-6zM1012 156h6v6h-6zM910 186h6v6h-6zM910 204h6v6h-6zM1000 258h6v6h-6zM982 300h6v6h-6z"/>
<path fill="#3f3f3f" d="M922 132h6v6h-6zM910 192h6v6h-6zM910 198h6v6h-6zM1012 216h6v6h-6zM916 222h6v6h-6zM1006 234h6v6h-6zM922 252h6v6h-6zM940 294h6v6h-6zM946 306h6v6h-6zM976 306h6v6h-6zM958 318h12v6h-12z"/>
<path fill="#404040" d="M982 78h6v6h-6zM1000 120h6v6h-6zM970 312h6v6h-6z"/>
<path fill="#414141" d="M976 72h6v6h-6zM940 84h6v6h-6zM934 96h6v6h-6zM994 102h6v6h-6zM916 162h6v6h-6zM1012 210h6v6h-6zM1000 252h6v6h-6zM928 270h6v6h-6zM994 276h6v6h-6zM934 282h6v6h-6zM952 312h6v6h-6z"/>
<path fill="#424242" d="M922 138h6v6h-6zM1012 162h6v6h-6zM1012 204h6v6h-6zM922 246h6v6h-6zM988 288h6v6h-6z"/>
<path fill="#434343" d="M928 114h6v6h-6zM1006 144h6v6h-6zM1012 198h6v6h-6zM916 216h6v6h-6zM922 240h6v6h-6zM946 300h6v6h-6zM958 312h12v6h-12z"/>
<path fill="#444444" d="M952 72h6v6h-6zM988 90h6v6h-6zM916 168h6v6h-6zM1012 168h6v6h-6zM1012 192h6v6h-6zM1006 228h6v6h-6zM1000 246h6v6h-6z"/>
<path fill="#454545" d="M946 78h6v6h-6zM1000 126h6v6h-6zM1012 186h6v6h-6zM922 234h6v6h-6zM928 264h6v6h-6zM994 270h6v6h-6zM940 288h6v6h-6zM982 294h6v6h-6zM976 300h6v6h-6zM952 306h6v6h-6zM970 306h6v6h-6z"/>
<path fill="#464646" d="M922 144h6v6h-6zM1012 174h6v6h-6zM1012 180h6v6h-6zM916 210h6v6h-6z"/>
<path fill="#474747" d="M970 72h6v6h-6zM1006 150h6v6h-6zM916 174h6v6h-6zM934 276h6v6h-6zM988 282h6v6h-6z"/>
<path fill="#484848" d="M934 102h6v6h-6zM994 108h6v6h-6zM928 120h6v6h-6zM916 180h6v6h-6zM916 204h6v6h-6zM922 228h6v6h-6zM1000 240h6v6h-6zM994 264h6v6h-6zM946 294h6v6h-6zM958 306h12v6h-12z"/>
<path fill="#494949" d="M958 72h6v6h-6zM940 90h6v6h-6zM922 150h6v6h-6zM916 186h6v6h-6zM916 198h6v6h-6zM1006 222h6v6h-6zM928 258h6v6h-6z"/>
<path fill="#4a4a4a" d="M964 72h6v6h-6zM982 84h6v6h-6zM1000 132h6v6h-6zM916 192h6v6h-6zM952 300h6v6h-6z"/>
<path fill="#4b4b4b" d="M976 78h6v6h-6zM1006 156h6v6h-6zM940 282h6v6h-6zM970 300h6v6h-6z"/>
<path fill="#4c4c4c" d="M988 96h6v6h-6zM922 222h6v6h-6zM994 258h6v6h-6zM982 288h6v6h-6z"/>
<path fill="#4d4d4d" d="M928 126h6v6h-6zM922 156h6v6h-6zM1006 216h6v6h-6zM1000 234h6v6h-6zM928 252h6v6h-6zM934 270h6v6h-6zM988 276h6v6h-6zM976 294h6v6h-6z"/>
<path fill="#4e4e4e" d="M934 108h6v6h-6zM994 114h6v6h-6zM958 300h12v6h-12z"/>
<path fill="#4f4f4f" d="M952 78h6v6h-6zM946 84h6v6h-6zM1000 138h6v6h-6zM1006 162h6v6h-6zM1006 210h6v6h-6zM946 288h6v6h-6z"/>
<path fill="#505050" d="M922 216h6v6h-6zM928 246h6v6h-6zM994 252h6v6h-6zM952 294h6v6h-6z"/>
<path fill="#515151" d="M940 96h6v6h-6zM928 132h6v6h-6zM922 162h6v6h-6zM1006 204h6v6h-6z"/>
<path fill="#525252" d="M1006 168h6v6h-6zM1006 192h6v6h-6zM1006 198h6v6h-6zM928 240h6v6h-6zM988 270h6v6h-6zM982 282h6v6h-6z"/>
<path fill="#535353" d="M970 78h6v6h-6zM982 90h6v6h-6zM994 120h6v6h-6zM1006 174h6v6h-6zM1006 186h6v6h-6zM934 264h6v6h-6zM940 276h6v6h-6zM970 294h6v6h-6z"/>
<path fill="#545454" d="M988 102h6v6h-6zM1006 180h6v6h-6zM922 210h6v6h-6zM1000 228h6v6h-6zM994 246h6v6h-6z"/>
<path fill="#555555" d="M958 78h6v6h-6zM934 114h6v6h-6zM1000 144h6v6h-6zM922 168h6v6h-6zM928 234h6v6h-6zM976 288h6v6h-6zM958 294h6v6h-6z"/>
<path fill="#565656" d="M976 84h6v6h-6zM928 138h6v6h-6zM922 204h6v6h-6zM964 294h6v6h-6z"/>
<path fill="#575757" d="M964 78h6v6h-6zM922 174h6v6h-6zM988 264h6v6h-6zM946 282h6v6h-6zM952 288h6v6h-6z"/>
<path fill="#585858" d="M946 90h6v6h-6zM922 198h6v6h-6zM934 258h6v6h-6z"/>
<path fill="#595959" d="M994 126h6v6h-6zM922 180h6v6h-6zM922 192h6v6h-6zM928 228h6v6h-6zM994 240h6v6h-6zM982 276h6v6h-6z"/>
<path fill="#5a5a5a" d="M952 84h6v6h-6zM940 102h6v6h-6zM928 144h6v6h-6zM1000 150h6v6h-6zM922 186h6v6h-6zM1000 222h6v6h-6z"/>
<path fill="#5b5b5b" d="M988 108h6v6h-6zM940 270h6v6h-6zM970 288h6v6h-6z"/>
<path fill="#5c5c5c" d="M934 120h6v6h-6zM988 258h6v6h-6z"/>
<path fill="#5d5d5d" d="M982 96h6v6h-6zM934 252h6v6h-6zM976 282h6v6h-6zM958 288h6v6h-6z"/>
<path fill="#5e5e5e" d="M928 150h6v6h-6zM1000 156h6v6h-6zM928 222h6v6h-6zM964 288h6v6h-6z"/>
<path fill="#5f5f5f" d="M970 84h6v6h-6zM994 132h6v6h-6zM1000 216h6v6h-6zM946 276h6v6h-6z"/>
<path fill="#606060" d="M994 234h6v6h-6zM982 270h6v6h-6zM952 282h6v6h-6z"/>
<path fill="#616161" d="M958 84h6v6h-6zM976 90h6v6h-6zM1000 162h6v6h-6zM934 246h6v6h-6zM988 252h6v6h-6z"/>
<path fill="#626262" d="M946 96h6v6h-6zM940 108h6v6h-6zM934 126h6v6h-6zM1000 210h6v6h-6zM928 216h6v6h-6zM940 264h6v6h-6z"/>
<path fill="#636363" d="M964 84h6v6h-6zM988 114h6v6h-6zM928 156h6v6h-6z"/>
<path fill="#646464" d="M1000 168h6v6h-6zM1000 204h6v6h-6zM970 282h6v6h-6z"/>
<path fill="#656565" d="M952 90h6v6h-6zM994 138h6v6h-6zM1000 198h6v6h-6zM934 240h6v6h-6zM976 276h6v6h-6z"/>
<path fill="#666666" d="M1000 174h6v6h-6zM1000 180h6v6h-6zM1000 186h6v6h-6zM1000 192h6v6h-6zM988 246h6v6h-6zM982 264h6v6h-6zM958 282h6v6h-6z"/>
<path fill="#676767" d="M982 102h6v6h-6zM928 162h6v6h-6zM928 210h6v6h-6z"/>
<path fill="#686868" d="M934 132h6v6h-6zM994 228h6v6h-6zM946 270h6v6h-6zM964 282h6v6h-6z"/>
<path fill="#696969" d="M934 234h6v6h-6zM940 258h6v6h-6z"/>
<path fill="#6a6a6a" d="M940 114h6v6h-6zM988 120h6v6h-6zM928 204h6v6h-6zM952 276h6v6h-6z"/>
<path fill="#6b6b6b" d="M970 90h6v6h-6zM928 168h6v6h-6z"/>
<path fill="#6c6c6c" d="M946 102h6v6h-6zM994 144h6v6h-6z"/>
<path fill="#6d6d6d" d="M976 96h6v6h-6zM928 198h6v6h-6zM988 240h6v6h-6zM982 258h6v6h-6zM976 270h6v6h-6zM970 276h6v6h-6z"/>
<path fill="#6e6e6e" d="M958 90h6v6h-6zM934 138h6v6h-6zM928 174h6v6h-6zM934 228h6v6h-6z"/>
<path fill="#6f6f6f" d="M928 180h6v6h-6zM928 192h6v6h-6zM994 222h6v6h-6zM940 252h6v6h-6z"/>
<path fill="#707070" d="M964 90h6v6h-6zM952 96h6v6h-6zM982 108h6v6h-6zM928 186h6v6h-6zM958 276h6v6h-6z"/>
<path fill="#717171" d="M988 126h6v6h-6zM994 150h6v6h-6zM946 264h6v6h-6zM964 276h6v6h-6z"/>
<path fill="#737373" d="M940 120h6v6h-6zM934 144h6v6h-6zM982 252h6v6h-6z"/>
<path fill="#747474" d="M934 222h6v6h-6zM940 246h6v6h-6zM952 270h6v6h-6z"/>
<path fill="#757575" d="M988 234h6v6h-6zM976 264h6v6h-6z"/>
<path fill="#767676" d="M946 108h6v6h-6zM994 156h6v6h-6zM994 216h6v6h-6z"/>
<path fill="#777777" d="M970 270h6v6h-6z"/>
<path fill="#787878" d="M970 96h6v6h-6zM976 102h6v6h-6zM988 132h6v6h-6z"/>
<path fill="#797979" d="M934 150h6v6h-6zM940 240h6v6h-6zM946 258h6v6h-6z"/>
<path fill="#7a7a7a" d="M958 96h6v6h-6zM982 114h6v6h-6zM940 126h6v6h-6zM994 162h6v6h-6zM994 210h6v6h-6zM934 216h6v6h-6zM982 246h6v6h-6zM958 270h6v6h-6z"/>
<path fill="#7c7c7c" d="M952 102h6v6h-6zM994 204h6v6h-6zM976 258h6v6h-6zM964 270h6v6h-6z"/>
<path fill="#7d7d7d" d="M964 96h6v6h-6zM994 168h6v6h-6zM952 264h6v6h-6z"/>
<path fill="#7e7e7e" d="M934 156h6v6h-6zM994 174h6v6h-6zM994 198h6v6h-6z"/>
<path fill="#7f7f7f" d="M994 180h6v6h-6zM994 186h6v6h-6zM994 192h6v6h-6zM934 210h6v6h-6zM988 228h6v6h-6zM940 234h6v6h-6z"/>
<path fill="#808080" d="M946 114h6v6h-6zM988 138h6v6h-6zM946 252h6v6h-6zM970 264h6v6h-6z"/>
<path fill="#828282" d="M940 132h6v6h-6zM982 240h6v6h-6z"/>
<path fill="#838383" d="M976 108h6v6h-6zM982 120h6v6h-6zM934 162h6v6h-6zM934 204h6v6h-6z"/>
<path fill="#848484" d="M970 102h6v6h-6zM976 252h6v6h-6zM958 264h6v6h-6z"/>
<path fill="#858585" d="M964 264h6v6h-6z"/>
<path fill="#868686" d="M958 102h6v6h-6zM940 228h6v6h-6zM952 258h6v6h-6z"/>
<path fill="#878787" d="M952 108h6v6h-6zM988 144h6v6h-6zM934 168h6v6h-6zM934 198h6v6h-6zM946 246h6v6h-6z"/>
<path fill="#888888" d="M988 222h6v6h-6z"/>
<path fill="#898989" d="M964 102h6v6h-6zM940 138h6v6h-6zM934 192h6v6h-6zM970 258h6v6h-6z"/>
<path fill="#8a8a8a" d="M946 120h6v6h-6zM934 174h6v6h-6z"/>
<path fill="#8b8b8b" d="M982 126h6v6h-6zM934 180h6v6h-6zM934 186h6v6h-6z"/>
<path fill="#8c8c8c" d="M982 234h6v6h-6zM976 246h6v6h-6z"/>
<path fill="#8d8d8d" d="M940 222h6v6h-6z"/>
<path fill="#8e8e8e" d="M976 114h6v6h-6zM988 150h6v6h-6zM946 240h6v6h-6zM952 252h6v6h-6zM958 258h6v6h-6z"/>
<path fill="#8f8f8f" d="M964 258h6v6h-6z"/>
<path fill="#909090" d="M940 144h6v6h-6zM988 216h6v6h-6z"/>
<path fill="#919191" d="M970 108h6v6h-6zM970 252h6v6h-6z"/>
<path fill="#939393" d="M958 108h6v6h-6zM952 114h6v6h-6zM946 126h6v6h-6zM982 132h6v6h-6zM988 156h6v6h-6z"/>
<path fill="#959595" d="M940 216h6v6h-6zM946 234h6v6h-6zM976 240h6v6h-6z"/>
<path fill="#969696" d="M964 108h6v6h-6zM988 210h6v6h-6zM952 246h6v6h-6z"/>
<path fill="#979797" d="M940 150h6v6h-6zM988 162h6v6h-6zM982 228h6v6h-6zM958 252h6v6h-6z"/>
<path fill="#989898" d="M976 120h6v6h-6zM964 252h6v6h-6z"/>
<path fill="#999999" d="M988 204h6v6h-6z"/>
<path fill="#9a9a9a" d="M988 168h6v6h-6zM970 246h6v6h-6z"/>
<path fill="#9b9b9b" d="M988 198h6v6h-6zM940 210h6v6h-6z"/>
<path fill="#9c9c9c" d="M946 132h6v6h-6zM982 138h6v6h-6zM988 174h6v6h-6zM988 180h6v6h-6zM988 186h6v6h-6zM988 192h6v6h-6z"/>
<path fill="#9d9d9d" d="M970 114h6v6h-6zM940 156h6v6h-6z"/>
<path fill="#9e9e9e" d="M952 120h6v6h-6zM946 228h6v6h-6zM952 240h6v6h-6z"/>
<path fill="#9f9f9f" d="M958 114h6v6h-6z"/>
<path fill="#a0a0a0" d="M976 234h6v6h-6zM958 246h6v6h-6z"/>
<path fill="#a1a1a1" d="M940 204h6v6h-6zM964 246h6v6h-6z"/>
<path fill="#a2a2a2" d="M976 126h6v6h-6zM982 222h6v6h-6z"/>
<path fill="#a3a3a3" d="M964 114h6v6h-6zM940 162h6v6h-6z"/>
<path fill="#a4a4a4" d="M982 144h6v6h-6zM970 240h6v6h-6z"/>
<path fill="#a5a5a5" d="M946 138h6v6h-6zM940 198h6v6h-6z"/>
<path fill="#a7a7a7" d="M940 168h6v6h-6zM946 222h6v6h-6z"/>
<path fill="#a8a8a8" d="M970 120h6v6h-6zM952 126h6v6h-6zM940 192h6v6h-6zM952 234h6v6h-6z"/>
<path fill="#a9a9a9" d="M940 174h6v6h-6zM958 240h6v6h-6z"/>
<path fill="#aaaaaa" d="M940 180h6v6h-6zM940 186h6v6h-6z"/>
<path fill="#ababab" d="M958 120h6v6h-6zM964 240h6v6h-6z"/>
<path fill="#acacac" d="M976 132h6v6h-6zM982 150h6v6h-6zM982 216h6v6h-6z"/>
<path fill="#adadad" d="M946 144h6v6h-6zM976 228h6v6h-6z"/>
<path fill="#afafaf" d="M964 120h6v6h-6zM970 234h6v6h-6z"/>
<path fill="#b0b0b0" d="M946 216h6v6h-6z"/>
<path fill="#b2b2b2" d="M982 156h6v6h-6zM982 210h6v6h-6zM952 228h6v6h-6z"/>
<path fill="#b3b3b3" d="M970 126h6v6h-6zM952 132h6v6h-6zM958 234h6v6h-6z"/>
<path fill="#b5b5b5" d="M976 138h6v6h-6zM946 150h6v6h-6z"/>
<path fill="#b6b6b6" d="M958 126h6v6h-6zM982 162h6v6h-6zM964 234h6v6h-6z"/>
<path fill="#b7b7b7" d="M982 204h6v6h-6z"/>
<path fill="#b8b8b8" d="M946 210h6v6h-6z"/>
<path fill="#b9b9b9" d="M982 168h6v6h-6zM982 198h6v6h-6zM976 222h6v6h-6z"/>
<path fill="#bababa" d="M964 126h6v6h-6z"/>
<path fill="#bbbbbb" d="M982 174h6v6h-6zM982 180h6v6h-6zM982 186h6v6h-6zM982 192h6v6h-6z"/>
<path fill="#bcbcbc" d="M946 156h6v6h-6zM970 228h6v6h-6z"/>
<path fill="#bdbdbd" d="M970 132h6v6h-6zM952 138h6v6h-6zM952 222h6v6h-6z"/>
<path fill="#bebebe" d="M946 204h6v6h-6z"/>
<path fill="#bfbfbf" d="M976 144h6v6h-6zM958 228h6v6h-6z"/>
<path fill="#c1c1c1" d="M958 132h6v6h-6z"/>
<path fill="#c2c2c2" d="M946 162h6v6h-6z"/>
<path fill="#c3c3c3" d="M946 198h6v6h-6zM964 228h6v6h-6z"/>
<path fill="#c4c4c4" d="M976 216h6v6h-6z"/>
<path fill="#c5c5c5" d="M964 132h6v6h-6z"/>
<path fill="#c6c6c6" d="M952 144h6v6h-6zM946 168h6v6h-6zM946 192h6v6h-6z"/>
<path fill="#c7c7c7" d="M976 150h6v6h-6z"/>
<path fill="#c8c8c8" d="M970 138h6v6h-6zM946 186h6v6h-6zM952 216h6v6h-6z"/>
<path fill="#c9c9c9" d="M946 174h6v6h-6zM946 180h6v6h-6z"/>
<path fill="#cacaca" d="M970 222h6v6h-6z"/>
<path fill="#cccccc" d="M958 138h6v6h-6zM976 210h6v6h-6zM958 222h6v6h-6z"/>
<path fill="#cecece" d="M976 156h6v6h-6z"/>
<path fill="#cfcfcf" d="M952 150h6v6h-6z"/>
<path fill="#d0d0d0" d="M964 138h6v6h-6zM964 222h6v6h-6z"/>
<path fill="#d1d1d1" d="M952 210h6v6h-6z"/>
<path fill="#d2d2d2" d="M970 144h6v6h-6zM976 204h6v6h-6z"/>
<path fill="#d3d3d3" d="M976 162h6v6h-6z"/>
<path fill="#d5d5d5" d="M976 198h6v6h-6zM970 216h6v6h-6z"/>
<path fill="#d7d7d7" d="M958 144h6v6h-6zM952 156h6v6h-6zM976 168h6v6h-6zM976 192h6v6h-6zM952 204h6v6h-6z"/>
<path fill="#d8d8d8" d="M976 174h6v6h-6zM976 180h6v6h-6zM976 186h6v6h-6zM958 216h6v6h-6z"/>
<path fill="#dbdbdb" d="M964 144h6v6h-6z"/>
<path fill="#dcdcdc" d="M970 150h6v6h-6zM952 198h6v6h-6zM964 216h6v6h-6z"/>
<path fill="#dddddd" d="M952 162h6v6h-6z"/>
<path fill="#dfdfdf" d="M970 210h6v6h-6z"/>
<path fill="#e0e0e0" d="M958 150h6v6h-6zM952 192h6v6h-6z"/>
<path fill="#e1e1e1" d="M952 168h6v6h-6zM958 210h6v6h-6z"/>
<path fill="#e2e2e2" d="M952 186h6v6h-6z"/>
<path fill="#e3e3e3" d="M970 156h6v6h-6zM952 174h6v6h-6zM952 180h6v6h-6z"/>
<path fill="#e5e5e5" d="M964 150h6v6h-6zM970 204h6v6h-6z"/>
<path fill="#e6e6e6" d="M964 210h6v6h-6z"/>
<path fill="#e8e8e8" d="M958 156h6v6h-6zM958 204h6v6h-6z"/>
<path fill="#e9e9e9" d="M970 162h6v6h-6zM970 198h6v6h-6z"/>
<path fill="#ebebeb" d="M970 192h6v6h-6z"/>
<path fill="#ececec" d="M970 168h6v6h-6z"/>
<path fill="#ededed" d="M964 156h6v6h-6zM970 186h6v6h-6zM958 198h6v6h-6zM964 204h6v6h-6z"/>
<path fill="#eeeeee" d="M958 162h6v6h-6zM970 174h6v6h-6zM970 180h6v6h-6z"/>
<path fill="#f1f1f1" d="M958 192h6v6h-6z"/>
<path fill="#f2f2f2" d="M964 162h6v6h-6zM958 168h6v6h-6zM964 198h6v6h-6z"/>
<path fill="#f3f3f3" d="M958 186h6v6h-6z"/>
<path fill="#f4f4f4" d="M958 174h6v6h-6zM958 180h6v6h-6z"/>
<path fill="#f5f5f5" d="M964 192h6v6h-6z"/>
<path fill="#f6f6f6" d="M964 168h6v6h-6z"/>
<path fill="#f7f7f7" d="M964 186h6v6h-6z"/>
<path fill="#f8f8f8" d="M964 174h6v6h-6zM964 180h6v6h-6z"/>
</g>
<path d="M851.3 47.5V440M1048.5 47.5V440" stroke="#fff" stroke-opacity="0.9" stroke-width="1" fill="none"/>
</g>
<path d="M699.5 358.25H1232.5" stroke="#cd2626" stroke-width="1.5" stroke-dasharray="6 6" stroke-linecap="round" fill="none"/>
<path d="M920.35 580.5V47.5" stroke="#006400" stroke-width="1.5" stroke-dasharray="6 6" stroke-linecap="round" fill="none"/>
<path d="M1010.65 580.5V47.5" stroke="#006400" stroke-width="1.5" stroke-dasharray="6 6" stroke-linecap="round" fill="none"/>
<rect x="699.5" y="47.5" width="533" height="533" fill="none" stroke="#000" stroke-width="0.75"/>
<path d="M750.5 580.5H1180.5M750.5 580.5v6.4M858 580.5v6.4M965.5 580.5v6.4M1073 580.5v6.4M1180.5 580.5v6.4" fill="none" stroke="#000" stroke-width="0.75"/>
<text transform="translate(750.1 601.9) scale(0.95 1)" text-anchor="middle" font-size="10.7">-400</text>
<text transform="translate(857.6 601.9) scale(0.95 1)" text-anchor="middle" font-size="10.7">-200</text>
<text transform="translate(965.1 601.9) scale(0.95 1)" text-anchor="middle" font-size="10.7">0</text>
<text transform="translate(1072.6 601.9) scale(0.95 1)" text-anchor="middle" font-size="10.7">200</text>
<text transform="translate(1180.1 601.9) scale(0.95 1)" text-anchor="middle" font-size="10.7">400</text>
<path d="M699.5 47.5V460M699.5 460h-6.4M699.5 322.5h-6.4M699.5 185h-6.4M699.5 47.5h-6.4" fill="none" stroke="#000" stroke-width="0.75"/>
<text transform="translate(685 461) rotate(-90)" text-anchor="middle" font-size="10.7">85</text>
<text transform="translate(685 323.5) rotate(-90)" text-anchor="middle" font-size="10.7">90</text>
<text transform="translate(685 186) rotate(-90)" text-anchor="middle" font-size="10.7">95</text>
<text transform="translate(685 48.5) rotate(-90)" text-anchor="middle" font-size="10.7">100</text>
<text transform="translate(966 31.9) scale(0.943 1)" text-anchor="middle" font-size="22.7" font-weight="bold">Density heat map for the top hits</text>
<text transform="translate(966.7 626.4)" text-anchor="middle" font-size="15.85">Distance to peak summit</text>
<text transform="translate(662.3 314) rotate(-90)" text-anchor="middle" font-size="15.85">Motif score</text>
<path d="M79.25 1200.5L80.26 1200.43L81.27 1200.35L82.27 1200.28L83.28 1200.21L84.28 1200.15L85.29 1200.08L86.29 1200.02L87.3 1199.96L88.3 1199.9L89.3 1199.84L90.3 1199.78L91.3 1199.72L92.31 1199.67L93.31 1199.61L94.31 1199.56L95.31 1199.51L96.31 1199.46L97.3 1199.41L98.3 1199.36L99.3 1199.32L100.3 1199.27L101.3 1199.23L102.29 1199.19L103.29 1199.15L104.29 1199.1L105.28 1199.06L106.28 1199.03L107.27 1198.99L108.27 1198.95L109.26 1198.92L110.26 1198.88L111.25 1198.85L112.25 1198.81L113.24 1198.78L114.24 1198.75L115.23 1198.71L116.23 1198.68L117.22 1198.65L118.21 1198.62L119.21 1198.59L120.2 1198.56L121.2 1198.53L122.19 1198.51L123.19 1198.48L124.18 1198.45L125.17 1198.42L126.17 1198.4L127.16 1198.37L128.16 1198.34L129.15 1198.32L130.15 1198.29L131.14 1198.27L132.14 1198.24L133.13 1198.21L134.13 1198.19L135.13 1198.16L136.12 1198.14L137.12 1198.11L138.12 1198.08L139.11 1198.06L140.11 1198.03L141.11 1198.01L142.11 1197.98L143.11 1197.95L144.11 1197.92L145.11 1197.9L146.11 1197.87L147.11 1197.84L148.11 1197.81L149.11 1197.78L150.11 1197.75L151.11 1197.72L152.12 1197.69L153.12 1197.66L154.12 1197.63L155.13 1197.59L156.13 1197.56L157.14 1197.53L158.15 1197.49L159.16 1197.46L160.16 1197.42L161.17 1197.38L162.18 1197.34L163.19 1197.3L164.2 1197.26L165.21 1197.23L166.22 1197.19L167.23 1197.15L168.24 1197.11L169.25 1197.07L170.26 1197.03L171.27 1196.99L172.28 1196.95L173.29 1196.92L174.3 1196.88L175.3 1196.85L176.31 1196.81L177.31 1196.78L178.32 1196.75L179.32 1196.72L180.32 1196.69L181.32 1196.67L182.32 1196.64L183.31 1196.62L184.31 1196.59L185.3 1196.55L186.29 1196.51L187.28 1196.46L188.26 1196.41L189.25 1196.34L190.23 1196.26L191.21 1196.16L192.18 1196.06L193.16 1195.93L194.13 1195.78L195.09 1195.62L196.06 1195.43L197.02 1195.23L197.97 1194.99L198.93 1194.73L199.88 1194.45L200.82 1194.15L201.76 1193.82L202.7 1193.47L203.63 1193.1L204.55 1192.7L205.47 1192.29L206.38 1191.86L207.28 1191.41L208.18 1190.94L209.07 1190.45L209.95 1189.95L210.82 1189.43L211.69 1188.9L212.54 1188.35L213.39 1187.79L214.22 1187.21L215.05 1186.62L215.86 1186.02L216.66 1185.41L217.46 1184.79L218.24 1184.15L219 1183.51L219.76 1182.86L220.5 1182.2L221.23 1181.54L221.95 1180.87L222.66 1180.19L223.37 1179.51L224.07 1178.82L224.76 1178.13L225.45 1177.43L226.14 1176.74L226.83 1176.04L227.52 1175.34L228.22 1174.64L228.92 1173.94L229.63 1173.24L230.35 1172.54L231.07 1171.84L231.8 1171.15L232.54 1170.46L233.29 1169.76L234.04 1169.07L234.79 1168.38L235.55 1167.68L236.31 1166.99L237.06 1166.3L237.82 1165.6L238.58 1164.9L239.33 1164.2L240.08 1163.5L240.82 1162.79L241.56 1162.08L242.29 1161.37L243.01 1160.65L243.73 1159.93L244.43 1159.2L245.12 1158.47L245.8 1157.73L246.47 1156.99L247.12 1156.24L247.76 1155.48L248.38 1154.72L249 1153.95L249.6 1153.18L250.19 1152.4L250.77 1151.61L251.33 1150.82L251.89 1150.03L252.44 1149.23L252.98 1148.42L253.51 1147.61L254.03 1146.79L254.54 1145.97L255.05 1145.15L255.55 1144.32L256.04 1143.48L256.53 1142.64L257.01 1141.8L257.49 1140.95L257.96 1140.1L258.43 1139.25L258.89 1138.39L259.36 1137.53L259.82 1136.66L260.28 1135.79L260.73 1134.92L261.19 1134.04L261.64 1133.16L262.1 1132.28L262.55 1131.4L263.01 1130.51L263.47 1129.62L263.93 1128.73L264.39 1127.83L264.86 1126.93L265.33 1126.03L265.8 1125.13L266.27 1124.23L266.75 1123.32L267.23 1122.41L267.71 1121.51L268.19 1120.59L268.67 1119.68L269.15 1118.77L269.63 1117.85L270.11 1116.94L270.59 1116.02L271.07 1115.1L271.54 1114.18L272.02 1113.27L272.49 1112.35L272.95 1111.43L273.41 1110.5L273.87 1109.58L274.33 1108.66L274.77 1107.74L275.22 1106.82L275.65 1105.9L276.08 1104.98L276.51 1104.06L276.93 1103.14L277.35 1102.22L277.76 1101.3L278.16 1100.38L278.56 1099.46L278.96 1098.54L279.35 1097.62L279.73 1096.7L280.12 1095.78L280.49 1094.86L280.87 1093.93L281.24 1093.01L281.6 1092.09L281.97 1091.17L282.33 1090.25L282.68 1089.32L283.04 1088.4L283.39 1087.48L283.73 1086.56L284.08 1085.63L284.42 1084.71L284.76 1083.78L285.1 1082.86L285.43 1081.93L285.77 1081L286.1 1080.08L286.43 1079.15L286.76 1078.22L287.08 1077.29L287.41 1076.36L287.73 1075.43L288.05 1074.5L288.38 1073.56L288.7 1072.63L289.02 1071.7L289.34 1070.76L289.66 1069.83L289.98 1068.89L290.3 1067.95L290.61 1067.01L290.93 1066.07L291.25 1065.13L291.57 1064.19L291.89 1063.25L292.21 1062.31L292.53 1061.36L292.84 1060.42L293.16 1059.47L293.48 1058.52L293.8 1057.58L294.11 1056.63L294.43 1055.68L294.74 1054.73L295.06 1053.78L295.37 1052.83L295.69 1051.88L296 1050.93L296.31 1049.97L296.63 1049.02L296.94 1048.07L297.25 1047.11L297.56 1046.16L297.87 1045.2L298.18 1044.24L298.49 1043.29L298.8 1042.33L299.1 1041.37L299.41 1040.41L299.71 1039.46L300.02 1038.5L300.32 1037.54L300.63 1036.58L300.93 1035.62L301.23 1034.66L301.53 1033.7L301.83 1032.74L302.12 1031.78L302.42 1030.81L302.72 1029.85L303.01 1028.89L303.3 1027.93L303.6 1026.97L303.89 1026L304.18 1025.04L304.47 1024.08L304.75 1023.12L305.04 1022.15L305.32 1021.19L305.61 1020.23L305.89 1019.26L306.17 1018.3L306.45 1017.34L306.73 1016.37L307 1015.41L307.28 1014.45L307.55 1013.49L307.82 1012.52L308.09 1011.56L308.36 1010.6L308.63 1009.63L308.9 1008.67L309.17 1007.71L309.44 1006.75L309.71 1005.79L309.97 1004.83L310.24 1003.86L310.51 1002.9L310.78 1001.94L311.04 1000.98L311.31 1000.02L311.58 999.06L311.85 998.1L312.12 997.14L312.39 996.19L312.66 995.23L312.94 994.27L313.21 993.31L313.49 992.36L313.76 991.4L314.04 990.44L314.32 989.49L314.6 988.54L314.89 987.58L315.18 986.63L315.46 985.67L315.75 984.72L316.05 983.77L316.34 982.82L316.64 981.87L316.94 980.92L317.24 979.97L317.55 979.02L317.86 978.08L318.17 977.13L318.49 976.18L318.81 975.24L319.13 974.29L319.46 973.35L319.79 972.41L320.13 971.47L320.47 970.53L320.81 969.59L321.16 968.65L321.51 967.71L321.86 966.77L322.22 965.84L322.59 964.9L322.96 963.97L323.34 963.04L323.72 962.1L324.1 961.17L324.49 960.24L324.89 959.32L325.29 958.39L325.7 957.46L326.11 956.54L326.53 955.61L326.95 954.69L327.37 953.77L327.8 952.84L328.22 951.92L328.65 951L329.08 950.08L329.51 949.16L329.94 948.24L330.36 947.32L330.78 946.4L331.2 945.48L331.62 944.56L332.03 943.64L332.44 942.72L332.84 941.8L333.23 940.88L333.62 939.96L334 939.04L334.38 938.11L334.74 937.19L335.1 936.27L335.44 935.34L335.78 934.41L336.11 933.49L336.43 932.56L336.74 931.63L337.04 930.69L337.34 929.76L337.63 928.83L337.91 927.89L338.19 926.95L338.46 926.01L338.72 925.07L338.98 924.12L339.23 923.18L339.48 922.23L339.72 921.28L339.96 920.32L340.2 919.37L340.42 918.41L340.65 917.45L340.87 916.48L341.09 915.52L341.31 914.55L341.52 913.58L341.73 912.61L341.94 911.63L342.15 910.65L342.35 909.68L342.56 908.7L342.76 907.72L342.96 906.74L343.17 905.75L343.37 904.77L343.58 903.78L343.78 902.8L343.99 901.81L344.2 900.83L344.41 899.84L344.62 898.86L344.84 897.87L345.05 896.89L345.27 895.9L345.5 894.92L345.73 893.94L345.96 892.95L346.2 891.97L346.44 890.99L346.69 890.02L346.94 889.04L347.2 888.06L347.46 887.09L347.73 886.12L348.01 885.15L348.29 884.18L348.58 883.22L348.87 882.25L349.17 881.29L349.47 880.33L349.78 879.37L350.09 878.41L350.4 877.45L350.72 876.5L351.04 875.54L351.37 874.59L351.69 873.64L352.02 872.68L352.35 871.73L352.68 870.78L353.01 869.83L353.34 868.88L353.68 867.93L354.01 866.99L354.34 866.04L354.67 865.09L355 864.14L355.33 863.19L355.66 862.25L355.99 861.3L356.31 860.35L356.64 859.4L356.95 858.45L357.27 857.5L357.58 856.55L357.89 855.6L358.2 854.65L358.5 853.7L358.8 852.74L359.1 851.79L359.39 850.84L359.68 849.88L359.97 848.93L360.26 847.97L360.54 847.02L360.82 846.06L361.1 845.11L361.37 844.15L361.64 843.19L361.91 842.23L362.18 841.28L362.44 840.32L362.7 839.36L362.96 838.4L363.22 837.44L363.47 836.47L363.72 835.51L363.97 834.55L364.22 833.59L364.47 832.62L364.71 831.66L364.95 830.7L365.19 829.73L365.43 828.77L365.66 827.8L365.89 826.83L366.13 825.87L366.36 824.9L366.58 823.93L366.81 822.96L367.03 822L367.26 821.03L367.48 820.06L367.7 819.09L367.91 818.12L368.13 817.14L368.35 816.17L368.56 815.2L368.77 814.23L368.98 813.25L369.19 812.28L369.4 811.31L369.61 810.33L369.82 809.36L370.02 808.38L370.23 807.4L370.43 806.43L370.63 805.45L370.84 804.47L371.04 803.49L371.24 802.51L371.44 801.53L371.63 800.55L371.83 799.57L372.03 798.59L372.23 797.61L372.42 796.63L372.62 795.65L372.81 794.66L373.01 793.68L373.2 792.7L373.4 791.71L373.59 790.73L373.79 789.74L373.98 788.76L374.17 787.77L374.37 786.78L374.56 785.8L374.75 784.81L374.95 783.82L375.14 782.83L375.33 781.84L375.53 780.85L375.72 779.86L375.91 778.87L376.11 777.88L376.3 776.89L376.5 775.9L376.69 774.91L376.89 773.91L377.08 772.92L377.28 771.93L377.48 770.93L377.67 769.94L377.87 768.95L378.06 767.96L378.26 766.96L378.46 765.97L378.65 764.98L378.85 763.99L379.05 762.99L379.24 762L379.44 761.01L379.64 760.02L379.83 759.03L380.03 758.04L380.22 757.05L380.42 756.06L380.62 755.07L380.81 754.09L381.01 753.1L381.21 752.11L381.4 751.13L381.6 750.14L381.79 749.16L381.99 748.18L382.19 747.2L382.38 746.22L382.58 745.24L382.77 744.26L382.97 743.28L383.16 742.31L383.35 741.33L383.55 740.36L383.74 739.39L383.94 738.42L384.13 737.45L384.32 736.48L384.52 735.52L384.71 734.55L384.9 733.59L385.09 732.63L385.28 731.67L385.47 730.71L385.66 729.76L385.86 728.81L386.05 727.85L386.25 726.9L386.46 725.96L386.68 725.01L386.9 724.07L387.14 723.13L387.4 722.19L387.67 721.25L387.96 720.32L388.28 719.39L388.61 718.46L388.97 717.53L389.36 716.61L389.78 715.69L390.22 714.77L390.7 713.85L391.22 712.94L391.77 712.03L392.36 711.12L392.99 710.22L393.65 709.38L394.35 708.63L395.07 708L395.81 707.53L396.57 707.27L397.35 707.24L398.13 707.44L398.92 707.84L399.7 708.41L400.47 709.11L401.22 709.91L401.94 710.77L402.64 711.66L403.29 712.55L403.91 713.44L404.5 714.32L405.06 715.2L405.59 716.07L406.11 716.94L406.62 717.8L407.11 718.67L407.6 719.53L408.08 720.39L408.57 721.25L409.06 722.11L409.57 722.98L410.09 723.84L410.63 724.71L411.19 725.58L411.78 726.44L412.4 727.27L413.06 728.05L413.76 728.75L414.51 729.37L415.29 729.89L416.11 730.29L416.97 730.56L417.85 730.69L418.75 730.66L419.68 730.46L420.61 730.12L421.56 729.66L422.52 729.13L423.48 728.56L424.44 727.97L425.4 727.41L426.35 726.92L427.3 726.51L428.23 726.24L429.15 726.12L430.04 726.19L430.91 726.4L431.76 726.75L432.58 727.21L433.36 727.75L434.11 728.34L434.81 728.98L435.49 729.65L436.12 730.36L436.72 731.1L437.3 731.87L437.84 732.67L438.35 733.5L438.84 734.35L439.3 735.23L439.74 736.12L440.16 737.04L440.56 737.97L440.94 738.91L441.3 739.87L441.65 740.84L441.99 741.82L442.31 742.8L442.63 743.79L442.94 744.78L443.24 745.77L443.54 746.76L443.84 747.75L444.13 748.73L444.42 749.72L444.71 750.7L444.99 751.68L445.27 752.65L445.55 753.63L445.83 754.6L446.1 755.57L446.37 756.54L446.63 757.51L446.89 758.48L447.15 759.45L447.41 760.41L447.66 761.38L447.91 762.35L448.16 763.31L448.41 764.28L448.65 765.24L448.89 766.2L449.13 767.17L449.37 768.13L449.6 769.1L449.83 770.07L450.06 771.03L450.28 772L450.51 772.97L450.73 773.94L450.95 774.9L451.16 775.87L451.38 776.84L451.59 777.81L451.8 778.78L452.01 779.76L452.21 780.73L452.42 781.7L452.62 782.67L452.82 783.65L453.02 784.62L453.22 785.6L453.41 786.57L453.61 787.55L453.8 788.52L453.99 789.5L454.18 790.47L454.37 791.45L454.55 792.43L454.74 793.41L454.92 794.38L455.11 795.36L455.29 796.34L455.47 797.32L455.65 798.3L455.83 799.28L456 800.26L456.18 801.24L456.36 802.22L456.53 803.2L456.71 804.18L456.88 805.16L457.05 806.15L457.23 807.13L457.4 808.11L457.57 809.09L457.74 810.07L457.91 811.06L458.08 812.04L458.25 813.02L458.42 814.01L458.59 814.99L458.76 815.97L458.93 816.96L459.1 817.94L459.27 818.92L459.44 819.91L459.61 820.89L459.78 821.88L459.95 822.86L460.12 823.84L460.29 824.83L460.46 825.81L460.64 826.8L460.81 827.78L460.98 828.77L461.15 829.75L461.33 830.73L461.5 831.72L461.68 832.7L461.85 833.69L462.03 834.67L462.21 835.66L462.39 836.64L462.57 837.62L462.75 838.61L462.93 839.59L463.11 840.58L463.3 841.56L463.48 842.54L463.67 843.53L463.86 844.51L464.05 845.49L464.24 846.47L464.43 847.46L464.62 848.44L464.82 849.42L465.02 850.4L465.21 851.39L465.42 852.37L465.62 853.35L465.82 854.33L466.03 855.31L466.24 856.29L466.44 857.27L466.66 858.25L466.87 859.23L467.08 860.21L467.3 861.19L467.52 862.17L467.73 863.15L467.96 864.13L468.18 865.11L468.4 866.08L468.62 867.06L468.85 868.04L469.08 869.02L469.31 870L469.53 870.97L469.76 871.95L470 872.93L470.23 873.9L470.46 874.88L470.7 875.86L470.93 876.83L471.17 877.81L471.41 878.79L471.65 879.76L471.89 880.74L472.13 881.71L472.37 882.69L472.61 883.66L472.85 884.64L473.09 885.61L473.34 886.59L473.58 887.56L473.83 888.54L474.07 889.51L474.32 890.49L474.56 891.46L474.81 892.44L475.05 893.41L475.3 894.38L475.55 895.36L475.8 896.33L476.04 897.3L476.29 898.28L476.54 899.25L476.79 900.23L477.04 901.2L477.28 902.17L477.53 903.15L477.78 904.12L478.03 905.09L478.28 906.07L478.52 907.04L478.77 908.01L479.02 908.98L479.27 909.96L479.51 910.93L479.76 911.9L480.01 912.88L480.25 913.85L480.5 914.82L480.74 915.8L480.98 916.77L481.23 917.74L481.47 918.71L481.71 919.69L481.95 920.66L482.2 921.63L482.44 922.6L482.67 923.58L482.91 924.55L483.15 925.52L483.39 926.5L483.62 927.47L483.86 928.44L484.09 929.42L484.32 930.39L484.56 931.36L484.79 932.33L485.02 933.31L485.24 934.28L485.47 935.25L485.7 936.23L485.92 937.2L486.15 938.18L486.37 939.15L486.59 940.12L486.81 941.1L487.02 942.07L487.24 943.04L487.45 944.02L487.67 944.99L487.88 945.97L488.09 946.94L488.3 947.92L488.5 948.89L488.71 949.87L488.91 950.84L489.11 951.82L489.31 952.79L489.51 953.77L489.71 954.74L489.9 955.72L490.09 956.69L490.29 957.67L490.48 958.64L490.67 959.62L490.86 960.6L491.04 961.57L491.23 962.55L491.41 963.53L491.59 964.5L491.78 965.48L491.96 966.46L492.13 967.43L492.31 968.41L492.49 969.39L492.66 970.37L492.84 971.35L493.01 972.33L493.18 973.3L493.35 974.28L493.52 975.26L493.69 976.24L493.86 977.22L494.03 978.2L494.19 979.18L494.36 980.16L494.52 981.14L494.68 982.12L494.84 983.1L495 984.08L495.16 985.07L495.32 986.05L495.48 987.03L495.64 988.01L495.79 988.99L495.95 989.98L496.1 990.96L496.26 991.94L496.41 992.93L496.56 993.91L496.72 994.89L496.87 995.88L497.02 996.86L497.17 997.85L497.32 998.83L497.47 999.82L497.61 1000.81L497.76 1001.79L497.91 1002.78L498.06 1003.77L498.2 1004.75L498.35 1005.74L498.49 1006.73L498.64 1007.72L498.78 1008.71L498.92 1009.7L499.07 1010.68L499.21 1011.67L499.35 1012.66L499.5 1013.65L499.64 1014.65L499.78 1015.64L499.92 1016.63L500.07 1017.62L500.21 1018.61L500.35 1019.6L500.49 1020.59L500.64 1021.59L500.78 1022.58L500.92 1023.57L501.07 1024.56L501.21 1025.56L501.36 1026.55L501.5 1027.54L501.65 1028.53L501.79 1029.53L501.94 1030.52L502.09 1031.51L502.24 1032.5L502.39 1033.5L502.54 1034.49L502.69 1035.48L502.85 1036.47L503 1037.46L503.16 1038.46L503.32 1039.45L503.47 1040.44L503.63 1041.43L503.8 1042.42L503.96 1043.41L504.12 1044.4L504.29 1045.39L504.46 1046.38L504.63 1047.37L504.8 1048.36L504.97 1049.34L505.15 1050.33L505.33 1051.32L505.51 1052.31L505.69 1053.29L505.87 1054.28L506.06 1055.26L506.25 1056.25L506.44 1057.23L506.63 1058.22L506.83 1059.2L507.02 1060.18L507.22 1061.16L507.43 1062.14L507.63 1063.12L507.84 1064.1L508.06 1065.08L508.27 1066.06L508.49 1067.04L508.71 1068.02L508.93 1068.99L509.16 1069.97L509.39 1070.94L509.62 1071.91L509.86 1072.89L510.1 1073.86L510.34 1074.83L510.59 1075.8L510.84 1076.77L511.09 1077.73L511.35 1078.7L511.61 1079.67L511.87 1080.63L512.14 1081.59L512.41 1082.56L512.69 1083.52L512.96 1084.48L513.25 1085.44L513.53 1086.39L513.82 1087.35L514.11 1088.31L514.41 1089.26L514.71 1090.21L515.02 1091.17L515.33 1092.12L515.64 1093.06L515.96 1094.01L516.28 1094.96L516.6 1095.9L516.93 1096.85L517.26 1097.79L517.6 1098.73L517.94 1099.67L518.29 1100.61L518.64 1101.54L518.99 1102.48L519.35 1103.41L519.71 1104.34L520.08 1105.28L520.45 1106.21L520.82 1107.13L521.2 1108.06L521.58 1108.99L521.96 1109.91L522.34 1110.84L522.73 1111.76L523.12 1112.68L523.51 1113.61L523.9 1114.53L524.29 1115.45L524.69 1116.37L525.08 1117.29L525.48 1118.21L525.88 1119.12L526.27 1120.04L526.67 1120.96L527.07 1121.88L527.47 1122.8L527.87 1123.71L528.26 1124.63L528.66 1125.55L529.06 1126.47L529.45 1127.38L529.85 1128.3L530.24 1129.22L530.63 1130.14L531.02 1131.06L531.41 1131.98L531.8 1132.9L532.18 1133.82L532.56 1134.74L532.94 1135.66L533.31 1136.58L533.69 1137.51L534.06 1138.43L534.42 1139.36L534.78 1140.28L535.14 1141.21L535.49 1142.14L535.84 1143.07L536.19 1144L536.53 1144.93L536.87 1145.86L537.2 1146.8L537.52 1147.73L537.84 1148.67L538.16 1149.61L538.47 1150.55L538.78 1151.49L539.09 1152.43L539.4 1153.38L539.7 1154.32L540 1155.27L540.3 1156.21L540.6 1157.16L540.9 1158.1L541.2 1159.05L541.5 1160L541.8 1160.95L542.1 1161.9L542.41 1162.85L542.71 1163.79L543.02 1164.74L543.34 1165.69L543.65 1166.64L543.97 1167.59L544.3 1168.54L544.63 1169.49L544.97 1170.44L545.31 1171.38L545.66 1172.33L546.01 1173.28L546.37 1174.23L546.74 1175.17L547.12 1176.12L547.5 1177.06L547.9 1178L548.3 1178.95L548.72 1179.89L549.14 1180.83L549.57 1181.76L550.02 1182.7L550.48 1183.63L550.95 1184.56L551.43 1185.47L551.93 1186.38L552.44 1187.28L552.96 1188.16L553.51 1189.02L554.06 1189.87L554.64 1190.7L555.23 1191.51L555.84 1192.3L556.47 1193.06L557.12 1193.8L557.79 1194.51L558.48 1195.19L559.19 1195.83L559.92 1196.45L560.68 1197.02L561.46 1197.56L562.26 1198.07L563.09 1198.53L563.94 1198.95L564.82 1199.32L565.72 1199.65L566.66 1199.93L567.62 1200.16L568.6 1200.34L569.62 1200.46L570.67 1200.5L571.74 1200.5L572.8 1200.5Z" fill="#f5deb3" stroke="#000" stroke-width="1.25" stroke-linejoin="round"/>
<path d="M290.51 1220.5V687.5" stroke="#cd2626" stroke-width="1.5" stroke-dasharray="6 6" stroke-linecap="round" fill="none"/>
<rect x="59.5" y="687.5" width="533" height="533" fill="none" stroke="#000" stroke-width="0.75"/>
<path d="M96.5 1220.5H542.5M96.5 1220.5v6.4M208 1220.5v6.4M319.5 1220.5v6.4M431 1220.5v6.4M542.5 1220.5v6.4" fill="none" stroke="#000" stroke-width="0.75"/>
<text transform="translate(96.1 1241.9) scale(0.95 1)" text-anchor="middle" font-size="10.7">80</text>
<text transform="translate(207.6 1241.9) scale(0.95 1)" text-anchor="middle" font-size="10.7">85</text>
<text transform="translate(319.1 1241.9) scale(0.95 1)" text-anchor="middle" font-size="10.7">90</text>
<text transform="translate(430.6 1241.9) scale(0.95 1)" text-anchor="middle" font-size="10.7">95</text>
<text transform="translate(542.1 1241.9) scale(0.95 1)" text-anchor="middle" font-size="10.7">100</text>
<path d="M59.5 759.3V1200.3M59.5 1200.3h-6.4M59.5 1126.8h-6.4M59.5 1053.3h-6.4M59.5 979.8h-6.4M59.5 906.3h-6.4M59.5 832.8h-6.4M59.5 759.3h-6.4" fill="none" stroke="#000" stroke-width="0.75"/>
<text transform="translate(45 1201.3) rotate(-90)" text-anchor="middle" font-size="10.7">0.00</text>
<text transform="translate(45 1127.8) rotate(-90)" text-anchor="middle" font-size="10.7">0.02</text>
<text transform="translate(45 1054.3) rotate(-90)" text-anchor="middle" font-size="10.7">0.04</text>
<text transform="translate(45 980.8) rotate(-90)" text-anchor="middle" font-size="10.7">0.06</text>
<text transform="translate(45 907.3) rotate(-90)" text-anchor="middle" font-size="10.7">0.08</text>
<text transform="translate(45 833.8) rotate(-90)" text-anchor="middle" font-size="10.7">0.10</text>
<text transform="translate(45 760.3) rotate(-90)" text-anchor="middle" font-size="10.7">0.12</text>
<text transform="translate(326 671.9) scale(0.943 1)" text-anchor="middle" font-size="22.7" font-weight="bold">Motif score threshold: 88.700</text>
<text transform="translate(326.7 1266.4)" text-anchor="middle" font-size="15.85">Motif score</text>
<text transform="translate(22.3 954) rotate(-90)" text-anchor="middle" font-size="15.85">Density</text>
<path d="M719.3 1200.5L720.41 1200.5L721.49 1200.5L722.55 1200.5L723.57 1200.5L724.58 1200.5L725.55 1200.3L726.5 1200.02L727.43 1199.68L728.33 1199.29L729.21 1198.84L730.06 1198.34L730.9 1197.8L731.7 1197.22L732.49 1196.61L733.26 1195.96L734 1195.28L734.73 1194.58L735.43 1193.86L736.12 1193.12L736.79 1192.37L737.43 1191.61L738.07 1190.83L738.68 1190.05L739.27 1189.26L739.85 1188.45L740.42 1187.64L740.97 1186.82L741.5 1185.98L742.02 1185.14L742.52 1184.29L743.01 1183.43L743.49 1182.57L743.96 1181.7L744.41 1180.81L744.85 1179.93L745.29 1179.03L745.71 1178.13L746.12 1177.22L746.52 1176.31L746.91 1175.39L747.29 1174.46L747.67 1173.53L748.04 1172.59L748.4 1171.65L748.75 1170.71L749.1 1169.76L749.44 1168.8L749.78 1167.85L750.11 1166.89L750.44 1165.93L750.77 1164.96L751.1 1164L751.42 1163.03L751.75 1162.06L752.07 1161.1L752.4 1160.13L752.72 1159.17L753.05 1158.2L753.39 1157.24L753.73 1156.29L754.07 1155.33L754.42 1154.38L754.77 1153.43L755.14 1152.49L755.51 1151.55L755.88 1150.62L756.27 1149.7L756.67 1148.78L757.08 1147.87L757.5 1146.97L757.93 1146.07L758.38 1145.19L758.84 1144.31L759.32 1143.44L759.81 1142.59L760.31 1141.74L760.84 1140.91L761.38 1140.08L761.94 1139.28L762.52 1138.48L763.12 1137.69L763.74 1136.92L764.38 1136.17L765.04 1135.43L765.73 1134.7L766.44 1134L767.17 1133.3L767.93 1132.63L768.71 1131.98L769.52 1131.35L770.35 1130.77L771.2 1130.23L772.06 1129.74L772.95 1129.31L773.85 1128.95L774.77 1128.66L775.7 1128.46L776.65 1128.34L777.61 1128.32L778.57 1128.41L779.55 1128.58L780.53 1128.83L781.52 1129.12L782.52 1129.43L783.52 1129.74L784.52 1130.01L785.52 1130.23L786.53 1130.39L787.53 1130.48L788.53 1130.51L789.54 1130.49L790.54 1130.43L791.54 1130.33L792.55 1130.2L793.55 1130.05L794.55 1129.88L795.56 1129.71L796.56 1129.53L797.56 1129.35L798.56 1129.19L799.56 1129.04L800.56 1128.91L801.55 1128.82L802.55 1128.75L803.55 1128.71L804.54 1128.71L805.53 1128.75L806.52 1128.82L807.51 1128.93L808.5 1129.06L809.49 1129.21L810.47 1129.37L811.46 1129.53L812.44 1129.68L813.42 1129.82L814.4 1129.95L815.37 1130.04L816.35 1130.1L817.33 1130.11L818.3 1130.07L819.27 1129.97L820.24 1129.8L821.21 1129.57L822.18 1129.29L823.14 1128.95L824.11 1128.58L825.07 1128.18L826.03 1127.75L826.99 1127.31L827.95 1126.86L828.9 1126.41L829.86 1125.97L830.81 1125.55L831.76 1125.16L832.71 1124.79L833.66 1124.46L834.61 1124.18L835.56 1123.96L836.5 1123.8L837.44 1123.7L838.39 1123.69L839.33 1123.76L840.26 1123.91L841.2 1124.14L842.14 1124.43L843.07 1124.77L844 1125.14L844.93 1125.53L845.86 1125.93L846.79 1126.33L847.72 1126.74L848.64 1127.14L849.57 1127.54L850.5 1127.93L851.43 1128.32L852.36 1128.69L853.3 1129.06L854.23 1129.4L855.17 1129.73L856.12 1130.04L857.06 1130.32L858.02 1130.58L858.97 1130.81L859.94 1131.02L860.91 1131.19L861.88 1131.32L862.87 1131.42L863.86 1131.48L864.86 1131.5L865.86 1131.47L866.88 1131.41L867.89 1131.31L868.92 1131.18L869.94 1131.03L870.96 1130.85L871.99 1130.64L873.01 1130.42L874.03 1130.19L875.04 1129.94L876.05 1129.69L877.05 1129.43L878.05 1129.17L879.03 1128.91L880 1128.66L880.96 1128.41L881.91 1128.17L882.84 1127.92L883.75 1127.66L884.65 1127.38L885.53 1127.06L886.38 1126.71L887.21 1126.31L888.03 1125.86L888.82 1125.36L889.59 1124.81L890.34 1124.22L891.07 1123.59L891.78 1122.92L892.48 1122.22L893.16 1121.49L893.82 1120.73L894.48 1119.94L895.11 1119.13L895.74 1118.31L896.36 1117.46L896.96 1116.6L897.56 1115.73L898.14 1114.85L898.72 1113.96L899.3 1113.08L899.86 1112.19L900.43 1111.3L900.99 1110.43L901.54 1109.56L902.1 1108.69L902.65 1107.84L903.19 1106.99L903.73 1106.15L904.27 1105.31L904.81 1104.47L905.34 1103.64L905.86 1102.81L906.38 1101.98L906.9 1101.14L907.4 1100.31L907.91 1099.47L908.4 1098.63L908.89 1097.78L909.37 1096.93L909.85 1096.07L910.32 1095.21L910.79 1094.34L911.24 1093.47L911.69 1092.59L912.14 1091.71L912.58 1090.82L913.01 1089.93L913.44 1089.04L913.86 1088.14L914.27 1087.24L914.68 1086.33L915.09 1085.42L915.49 1084.5L915.88 1083.59L916.27 1082.67L916.65 1081.74L917.02 1080.82L917.39 1079.88L917.76 1078.95L918.12 1078.01L918.48 1077.08L918.83 1076.13L919.17 1075.19L919.51 1074.24L919.85 1073.29L920.18 1072.34L920.5 1071.39L920.82 1070.43L921.14 1069.48L921.45 1068.52L921.76 1067.56L922.06 1066.6L922.36 1065.63L922.65 1064.67L922.94 1063.7L923.23 1062.73L923.51 1061.76L923.78 1060.79L924.06 1059.82L924.33 1058.85L924.59 1057.88L924.85 1056.91L925.11 1055.94L925.36 1054.97L925.62 1053.99L925.86 1053.02L926.1 1052.05L926.34 1051.07L926.58 1050.1L926.81 1049.12L927.04 1048.15L927.27 1047.17L927.49 1046.2L927.71 1045.22L927.93 1044.25L928.14 1043.27L928.35 1042.29L928.56 1041.32L928.76 1040.34L928.96 1039.36L929.16 1038.38L929.36 1037.4L929.55 1036.43L929.74 1035.45L929.93 1034.47L930.12 1033.49L930.3 1032.51L930.48 1031.53L930.66 1030.55L930.84 1029.57L931.01 1028.59L931.18 1027.61L931.35 1026.62L931.52 1025.64L931.69 1024.66L931.85 1023.68L932.01 1022.7L932.17 1021.71L932.33 1020.73L932.49 1019.75L932.64 1018.76L932.8 1017.78L932.95 1016.79L933.1 1015.81L933.25 1014.83L933.39 1013.84L933.54 1012.86L933.68 1011.87L933.83 1010.88L933.97 1009.9L934.11 1008.91L934.25 1007.93L934.39 1006.94L934.53 1005.95L934.66 1004.97L934.8 1003.98L934.93 1002.99L935.07 1002L935.2 1001.02L935.34 1000.03L935.47 999.04L935.6 998.05L935.73 997.06L935.86 996.07L935.99 995.08L936.12 994.09L936.25 993.11L936.38 992.12L936.51 991.13L936.64 990.14L936.77 989.15L936.89 988.16L937.02 987.16L937.15 986.17L937.27 985.18L937.4 984.19L937.52 983.2L937.65 982.21L937.77 981.22L937.9 980.23L938.02 979.23L938.14 978.24L938.26 977.25L938.39 976.26L938.51 975.26L938.63 974.27L938.75 973.28L938.87 972.28L938.99 971.29L939.11 970.3L939.23 969.3L939.34 968.31L939.46 967.32L939.58 966.32L939.69 965.33L939.81 964.34L939.93 963.34L940.04 962.35L940.16 961.35L940.27 960.36L940.39 959.36L940.5 958.37L940.61 957.37L940.72 956.38L940.84 955.38L940.95 954.39L941.06 953.39L941.17 952.4L941.28 951.4L941.39 950.4L941.5 949.41L941.61 948.41L941.72 947.42L941.83 946.42L941.94 945.42L942.04 944.43L942.15 943.43L942.26 942.44L942.36 941.44L942.47 940.44L942.57 939.45L942.68 938.45L942.78 937.45L942.89 936.46L942.99 935.46L943.09 934.46L943.2 933.47L943.3 932.47L943.4 931.47L943.5 930.47L943.6 929.48L943.7 928.48L943.8 927.48L943.9 926.49L944 925.49L944.1 924.49L944.2 923.49L944.3 922.5L944.39 921.5L944.49 920.5L944.59 919.5L944.68 918.51L944.78 917.51L944.88 916.51L944.97 915.51L945.07 914.52L945.16 913.52L945.25 912.52L945.35 911.52L945.44 910.53L945.53 909.53L945.63 908.53L945.72 907.53L945.81 906.54L945.9 905.54L945.99 904.54L946.08 903.54L946.17 902.55L946.26 901.55L946.35 900.55L946.44 899.55L946.53 898.56L946.61 897.56L946.7 896.56L946.79 895.56L946.88 894.57L946.96 893.57L947.05 892.57L947.13 891.58L947.22 890.58L947.3 889.58L947.39 888.59L947.47 887.59L947.56 886.59L947.64 885.59L947.72 884.6L947.8 883.6L947.89 882.6L947.97 881.61L948.05 880.61L948.13 879.61L948.21 878.62L948.29 877.62L948.37 876.62L948.45 875.63L948.53 874.63L948.61 873.63L948.69 872.64L948.77 871.64L948.85 870.64L948.93 869.65L949.01 868.65L949.09 867.66L949.16 866.66L949.24 865.66L949.32 864.67L949.4 863.67L949.47 862.67L949.55 861.68L949.63 860.68L949.7 859.68L949.78 858.69L949.86 857.69L949.93 856.7L950.01 855.7L950.08 854.7L950.16 853.71L950.23 852.71L950.31 851.72L950.38 850.72L950.46 849.72L950.53 848.73L950.61 847.73L950.68 846.74L950.76 845.74L950.83 844.74L950.91 843.75L950.98 842.75L951.05 841.76L951.13 840.76L951.2 839.76L951.28 838.77L951.35 837.77L951.42 836.78L951.5 835.78L951.57 834.78L951.64 833.79L951.72 832.79L951.79 831.8L951.86 830.8L951.94 829.8L952.01 828.81L952.08 827.81L952.16 826.82L952.23 825.82L952.3 824.82L952.38 823.83L952.45 822.83L952.52 821.84L952.6 820.84L952.67 819.84L952.74 818.85L952.82 817.85L952.89 816.86L952.97 815.86L953.04 814.86L953.11 813.87L953.19 812.87L953.26 811.88L953.34 810.88L953.41 809.88L953.48 808.89L953.56 807.89L953.63 806.9L953.71 805.9L953.78 804.9L953.86 803.91L953.93 802.91L954.01 801.91L954.08 800.92L954.16 799.92L954.24 798.93L954.31 797.93L954.39 796.93L954.46 795.94L954.54 794.94L954.62 793.94L954.69 792.95L954.77 791.95L954.85 790.96L954.93 789.96L955 788.96L955.08 787.97L955.16 786.97L955.24 785.97L955.32 784.98L955.39 783.98L955.47 782.98L955.55 781.99L955.63 780.99L955.71 779.99L955.79 779L955.87 778L955.95 777L956.04 776.01L956.12 775.01L956.2 774.01L956.28 773.02L956.36 772.02L956.45 771.02L956.53 770.03L956.61 769.03L956.7 768.03L956.78 767.03L956.86 766.04L956.95 765.04L957.03 764.04L957.12 763.05L957.21 762.05L957.29 761.05L957.38 760.05L957.46 759.06L957.55 758.06L957.64 757.06L957.73 756.06L957.82 755.07L957.91 754.07L958 753.07L958.09 752.07L958.18 751.08L958.27 750.08L958.36 749.08L958.45 748.08L958.54 747.08L958.63 746.09L958.73 745.09L958.82 744.09L958.92 743.09L959.01 742.09L959.11 741.1L959.2 740.1L959.3 739.1L959.4 738.1L959.5 737.1L959.61 736.11L959.71 735.11L959.82 734.11L959.93 733.12L960.05 732.12L960.16 731.12L960.29 730.13L960.41 729.13L960.54 728.14L960.67 727.14L960.81 726.15L960.95 725.15L961.1 724.16L961.25 723.17L961.41 722.17L961.57 721.18L961.74 720.19L961.92 719.2L962.1 718.21L962.3 717.22L962.51 716.24L962.73 715.25L962.98 714.26L963.25 713.28L963.55 712.29L963.88 711.31L964.24 710.33L964.64 709.4L965.05 708.65L965.49 708.18L965.92 708.12L966.35 708.47L966.76 709.13L967.14 709.99L967.49 710.93L967.8 711.89L968.07 712.87L968.32 713.86L968.53 714.86L968.72 715.86L968.9 716.87L969.06 717.89L969.21 718.91L969.36 719.93L969.5 720.94L969.65 721.96L969.79 722.97L969.93 723.98L970.08 725L970.21 726.01L970.35 727.01L970.49 728.02L970.63 729.03L970.76 730.03L970.89 731.04L971.02 732.04L971.16 733.05L971.28 734.05L971.41 735.05L971.54 736.05L971.67 737.05L971.79 738.04L971.91 739.04L972.04 740.04L972.16 741.04L972.28 742.03L972.39 743.03L972.51 744.02L972.63 745.01L972.74 746.01L972.86 747L972.97 747.99L973.08 748.99L973.2 749.98L973.31 750.97L973.42 751.96L973.52 752.95L973.63 753.94L973.74 754.93L973.84 755.92L973.95 756.92L974.05 757.91L974.15 758.9L974.26 759.89L974.36 760.88L974.46 761.87L974.56 762.86L974.66 763.85L974.75 764.84L974.85 765.83L974.95 766.83L975.04 767.82L975.14 768.81L975.23 769.8L975.32 770.79L975.41 771.79L975.51 772.78L975.6 773.77L975.69 774.76L975.78 775.76L975.87 776.75L975.95 777.74L976.04 778.74L976.13 779.73L976.21 780.72L976.3 781.72L976.39 782.71L976.47 783.71L976.55 784.7L976.64 785.7L976.72 786.69L976.8 787.68L976.88 788.68L976.97 789.67L977.05 790.67L977.13 791.66L977.21 792.66L977.29 793.65L977.37 794.65L977.45 795.65L977.52 796.64L977.6 797.64L977.68 798.63L977.76 799.63L977.83 800.63L977.91 801.62L977.99 802.62L978.06 803.61L978.14 804.61L978.21 805.61L978.29 806.6L978.36 807.6L978.44 808.6L978.51 809.59L978.59 810.59L978.66 811.59L978.74 812.58L978.81 813.58L978.88 814.58L978.96 815.58L979.03 816.57L979.1 817.57L979.18 818.57L979.25 819.57L979.32 820.56L979.4 821.56L979.47 822.56L979.54 823.56L979.61 824.55L979.69 825.55L979.76 826.55L979.83 827.55L979.91 828.55L979.98 829.54L980.05 830.54L980.12 831.54L980.2 832.54L980.27 833.54L980.34 834.54L980.42 835.53L980.49 836.53L980.57 837.53L980.64 838.53L980.71 839.53L980.79 840.52L980.86 841.52L980.94 842.52L981.01 843.52L981.09 844.52L981.16 845.52L981.24 846.52L981.31 847.51L981.39 848.51L981.46 849.51L981.54 850.51L981.61 851.51L981.69 852.51L981.77 853.5L981.84 854.5L981.92 855.5L982 856.5L982.07 857.5L982.15 858.5L982.23 859.5L982.3 860.49L982.38 861.49L982.46 862.49L982.54 863.49L982.62 864.49L982.69 865.49L982.77 866.49L982.85 867.48L982.93 868.48L983.01 869.48L983.09 870.48L983.17 871.48L983.25 872.48L983.33 873.47L983.41 874.47L983.49 875.47L983.57 876.47L983.65 877.47L983.73 878.47L983.81 879.46L983.89 880.46L983.97 881.46L984.06 882.46L984.14 883.46L984.22 884.45L984.3 885.45L984.38 886.45L984.47 887.45L984.55 888.45L984.63 889.44L984.72 890.44L984.8 891.44L984.88 892.44L984.97 893.43L985.05 894.43L985.14 895.43L985.22 896.43L985.31 897.42L985.39 898.42L985.48 899.42L985.56 900.42L985.65 901.41L985.74 902.41L985.82 903.41L985.91 904.4L986 905.4L986.08 906.4L986.17 907.4L986.26 908.39L986.35 909.39L986.44 910.39L986.52 911.38L986.61 912.38L986.7 913.38L986.79 914.37L986.88 915.37L986.97 916.36L987.06 917.36L987.15 918.36L987.24 919.35L987.33 920.35L987.42 921.34L987.52 922.34L987.61 923.34L987.7 924.33L987.79 925.33L987.88 926.32L987.98 927.32L988.07 928.31L988.16 929.31L988.26 930.3L988.35 931.3L988.45 932.29L988.54 933.29L988.64 934.28L988.73 935.28L988.83 936.27L988.93 937.27L989.02 938.26L989.12 939.25L989.22 940.25L989.32 941.24L989.42 942.24L989.51 943.23L989.62 944.22L989.72 945.22L989.82 946.21L989.92 947.2L990.02 948.2L990.13 949.19L990.23 950.18L990.33 951.18L990.44 952.17L990.55 953.16L990.65 954.15L990.76 955.15L990.87 956.14L990.98 957.13L991.09 958.12L991.2 959.11L991.31 960.11L991.43 961.1L991.54 962.09L991.66 963.08L991.77 964.07L991.89 965.06L992.01 966.05L992.13 967.04L992.25 968.03L992.37 969.02L992.49 970.01L992.61 971L992.74 971.99L992.86 972.98L992.99 973.97L993.12 974.96L993.25 975.95L993.38 976.94L993.51 977.93L993.65 978.92L993.78 979.91L993.92 980.9L994.05 981.89L994.19 982.87L994.33 983.86L994.47 984.85L994.62 985.84L994.76 986.83L994.91 987.81L995.05 988.8L995.2 989.79L995.35 990.77L995.5 991.76L995.66 992.75L995.81 993.73L995.97 994.72L996.13 995.71L996.29 996.69L996.45 997.68L996.61 998.66L996.78 999.65L996.94 1000.63L997.11 1001.62L997.28 1002.6L997.45 1003.59L997.62 1004.57L997.8 1005.56L997.98 1006.54L998.15 1007.53L998.33 1008.51L998.51 1009.49L998.7 1010.48L998.88 1011.46L999.07 1012.44L999.25 1013.43L999.44 1014.41L999.63 1015.39L999.82 1016.37L1000.01 1017.36L1000.21 1018.34L1000.4 1019.32L1000.6 1020.3L1000.8 1021.28L1001 1022.26L1001.2 1023.25L1001.4 1024.23L1001.6 1025.21L1001.8 1026.19L1002.01 1027.17L1002.22 1028.15L1002.42 1029.13L1002.63 1030.11L1002.84 1031.09L1003.05 1032.07L1003.26 1033.05L1003.47 1034.03L1003.69 1035.01L1003.9 1035.99L1004.12 1036.97L1004.33 1037.94L1004.55 1038.92L1004.77 1039.9L1004.99 1040.88L1005.21 1041.86L1005.43 1042.84L1005.65 1043.81L1005.87 1044.79L1006.09 1045.77L1006.32 1046.75L1006.54 1047.72L1006.77 1048.7L1006.99 1049.68L1007.22 1050.66L1007.44 1051.63L1007.67 1052.61L1007.9 1053.59L1008.13 1054.56L1008.36 1055.54L1008.59 1056.51L1008.82 1057.49L1009.05 1058.47L1009.28 1059.44L1009.51 1060.42L1009.74 1061.39L1009.98 1062.37L1010.21 1063.34L1010.44 1064.32L1010.68 1065.29L1010.91 1066.27L1011.15 1067.24L1011.39 1068.21L1011.63 1069.19L1011.87 1070.16L1012.12 1071.13L1012.36 1072.1L1012.61 1073.07L1012.86 1074.04L1013.12 1075L1013.38 1075.97L1013.64 1076.94L1013.9 1077.9L1014.17 1078.86L1014.44 1079.82L1014.72 1080.78L1014.99 1081.74L1015.28 1082.7L1015.57 1083.65L1015.86 1084.61L1016.16 1085.56L1016.46 1086.51L1016.77 1087.45L1017.08 1088.4L1017.4 1089.34L1017.72 1090.28L1018.05 1091.22L1018.39 1092.16L1018.73 1093.1L1019.08 1094.03L1019.44 1094.96L1019.8 1095.88L1020.17 1096.81L1020.55 1097.73L1020.93 1098.65L1021.33 1099.57L1021.73 1100.48L1022.13 1101.39L1022.55 1102.3L1022.98 1103.2L1023.41 1104.1L1023.85 1105L1024.3 1105.9L1024.76 1106.79L1025.23 1107.67L1025.71 1108.56L1026.2 1109.43L1026.7 1110.3L1027.22 1111.16L1027.75 1112.01L1028.29 1112.85L1028.85 1113.68L1029.42 1114.5L1030.01 1115.3L1030.62 1116.09L1031.24 1116.87L1031.88 1117.63L1032.55 1118.37L1033.23 1119.09L1033.93 1119.79L1034.66 1120.47L1035.4 1121.13L1036.17 1121.77L1036.97 1122.38L1037.79 1122.97L1038.63 1123.53L1039.49 1124.07L1040.37 1124.57L1041.27 1125.05L1042.19 1125.5L1043.12 1125.92L1044.06 1126.3L1045.01 1126.66L1045.98 1126.98L1046.95 1127.26L1047.93 1127.52L1048.91 1127.75L1049.9 1127.94L1050.89 1128.11L1051.89 1128.24L1052.89 1128.35L1053.89 1128.43L1054.88 1128.48L1055.88 1128.5L1056.87 1128.49L1057.86 1128.46L1058.84 1128.41L1059.82 1128.32L1060.79 1128.22L1061.76 1128.09L1062.73 1127.93L1063.69 1127.75L1064.66 1127.55L1065.62 1127.33L1066.58 1127.08L1067.54 1126.82L1068.51 1126.53L1069.47 1126.23L1070.44 1125.92L1071.41 1125.6L1072.38 1125.27L1073.34 1124.95L1074.31 1124.62L1075.29 1124.31L1076.26 1124L1077.23 1123.71L1078.2 1123.43L1079.18 1123.18L1080.15 1122.95L1081.12 1122.75L1082.1 1122.59L1083.07 1122.46L1084.05 1122.37L1085.02 1122.33L1086 1122.33L1086.97 1122.38L1087.95 1122.48L1088.92 1122.61L1089.89 1122.78L1090.87 1122.99L1091.84 1123.22L1092.81 1123.48L1093.78 1123.76L1094.76 1124.06L1095.73 1124.37L1096.7 1124.69L1097.66 1125.01L1098.63 1125.33L1099.6 1125.66L1100.56 1125.97L1101.53 1126.28L1102.49 1126.57L1103.45 1126.84L1104.42 1127.09L1105.37 1127.32L1106.33 1127.54L1107.29 1127.74L1108.25 1127.93L1109.2 1128.12L1110.15 1128.32L1111.11 1128.52L1112.06 1128.73L1113.01 1128.96L1113.97 1129.22L1114.92 1129.5L1115.87 1129.81L1116.82 1130.16L1117.77 1130.54L1118.73 1130.94L1119.68 1131.35L1120.63 1131.76L1121.58 1132.16L1122.54 1132.55L1123.49 1132.91L1124.45 1133.25L1125.41 1133.56L1126.36 1133.84L1127.32 1134.09L1128.28 1134.32L1129.24 1134.52L1130.21 1134.68L1131.17 1134.81L1132.14 1134.91L1133.11 1134.98L1134.08 1135.01L1135.05 1135L1136.03 1134.96L1137 1134.88L1137.98 1134.76L1138.97 1134.6L1139.95 1134.41L1140.94 1134.17L1141.93 1133.89L1142.92 1133.58L1143.91 1133.24L1144.91 1132.88L1145.9 1132.5L1146.9 1132.11L1147.89 1131.71L1148.88 1131.32L1149.87 1130.92L1150.85 1130.54L1151.83 1130.18L1152.81 1129.83L1153.78 1129.52L1154.75 1129.23L1155.71 1128.98L1156.67 1128.78L1157.61 1128.62L1158.55 1128.52L1159.49 1128.47L1160.41 1128.49L1161.32 1128.59L1162.22 1128.75L1163.11 1128.99L1163.99 1129.31L1164.85 1129.69L1165.7 1130.13L1166.53 1130.63L1167.33 1131.19L1168.12 1131.79L1168.88 1132.44L1169.61 1133.13L1170.32 1133.86L1171 1134.62L1171.64 1135.4L1172.26 1136.21L1172.84 1137.03L1173.38 1137.88L1173.9 1138.74L1174.39 1139.61L1174.86 1140.5L1175.3 1141.4L1175.73 1142.31L1176.13 1143.23L1176.52 1144.16L1176.9 1145.09L1177.26 1146.03L1177.62 1146.98L1177.96 1147.93L1178.3 1148.88L1178.63 1149.83L1178.96 1150.79L1179.28 1151.75L1179.59 1152.71L1179.9 1153.67L1180.21 1154.64L1180.51 1155.6L1180.8 1156.57L1181.1 1157.54L1181.39 1158.51L1181.68 1159.48L1181.97 1160.45L1182.25 1161.42L1182.54 1162.39L1182.83 1163.36L1183.12 1164.33L1183.41 1165.3L1183.7 1166.26L1184 1167.23L1184.29 1168.19L1184.59 1169.15L1184.9 1170.1L1185.21 1171.06L1185.53 1172.01L1185.85 1172.96L1186.18 1173.91L1186.51 1174.85L1186.85 1175.78L1187.2 1176.72L1187.56 1177.65L1187.93 1178.57L1188.3 1179.49L1188.69 1180.4L1189.09 1181.31L1189.5 1182.21L1189.92 1183.11L1190.35 1184L1190.8 1184.88L1191.26 1185.75L1191.73 1186.62L1192.22 1187.48L1192.72 1188.34L1193.24 1189.18L1193.77 1190.02L1194.32 1190.85L1194.89 1191.67L1195.48 1192.48L1196.08 1193.28L1196.7 1194.07L1197.35 1194.84L1198.01 1195.59L1198.7 1196.31L1199.41 1197L1200.15 1197.65L1200.91 1198.26L1201.7 1198.83L1202.51 1199.34L1203.36 1199.79L1204.23 1200.19L1205.14 1200.5L1206.08 1200.5L1207.05 1200.5L1208.06 1200.5L1209.1 1200.5L1210.18 1200.5L1211.3 1200.5L1212.45 1200.5L1212.6 1200.5Z" fill="#f5deb3" stroke="#000" stroke-width="1.25" stroke-linejoin="round"/>
<path d="M928.82 1220.5V687.5" stroke="#006400" stroke-width="1.5" stroke-dasharray="6 6" stroke-linecap="round" fill="none"/>
<path d="M1002.18 1220.5V687.5" stroke="#006400" stroke-width="1.5" stroke-dasharray="6 6" stroke-linecap="round" fill="none"/>
<rect x="699.5" y="687.5" width="533" height="533" fill="none" stroke="#000" stroke-width="0.75"/>
<path d="M703.5 1220.5H1227.5M703.5 1220.5v6.4M790.83 1220.5v6.4M878.17 1220.5v6.4M965.5 1220.5v6.4M1052.83 1220.5v6.4M1140.17 1220.5v6.4M1227.5 1220.5v6.4" fill="none" stroke="#000" stroke-width="0.75"/>
<text transform="translate(703.1 1241.9) scale(0.95 1)" text-anchor="middle" font-size="10.7">-600</text>
<text transform="translate(790.43 1241.9) scale(0.95 1)" text-anchor="middle" font-size="10.7">-400</text>
<text transform="translate(877.77 1241.9) scale(0.95 1)" text-anchor="middle" font-size="10.7">-200</text>
<text transform="translate(965.1 1241.9) scale(0.95 1)" text-anchor="middle" font-size="10.7">0</text>
<text transform="translate(1052.43 1241.9) scale(0.95 1)" text-anchor="middle" font-size="10.7">200</text>
<text transform="translate(1139.77 1241.9) scale(0.95 1)" text-anchor="middle" font-size="10.7">400</text>
<text transform="translate(1227.1 1241.9) scale(0.95 1)" text-anchor="middle" font-size="10.7">600</text>
<path d="M699.5 719.3V1200.3M699.5 1200.3h-6.4M699.5 1080.05h-6.4M699.5 959.8h-6.4M699.5 839.55h-6.4M699.5 719.3h-6.4" fill="none" stroke="#000" stroke-width="0.75"/>
<text transform="translate(685 1201.3) rotate(-90)" text-anchor="middle" font-size="10.7">0.000</text>
<text transform="translate(685 1081.05) rotate(-90)" text-anchor="middle" font-size="10.7">0.001</text>
<text transform="translate(685 960.8) rotate(-90)" text-anchor="middle" font-size="10.7">0.002</text>
<text transform="translate(685 840.55) rotate(-90)" text-anchor="middle" font-size="10.7">0.003</text>
<text transform="translate(685 720.3) rotate(-90)" text-anchor="middle" font-size="10.7">0.004</text>
<text transform="translate(966 671.9) scale(0.943 1)" text-anchor="middle" font-size="22.7" font-weight="bold">Enrichment zone: 84.00</text>
<text transform="translate(966.7 1266.4)" text-anchor="middle" font-size="15.85">Distance to peak summit</text>
<text transform="translate(662.3 954) rotate(-90)" text-anchor="middle" font-size="15.85">Density</text>
<path d="M1017 703.5H1041.6" stroke="#006400" stroke-width="1" stroke-dasharray="1 2.36" fill="none"/>
<path d="M1017 719.0H1041.6" stroke="#ff2020" stroke-width="1" stroke-dasharray="1 2.36" fill="none"/>
<circle cx="1028.8" cy="734.5" r="2.9" fill="#0000ff"/>
<text x="1052.4" y="707.8" font-size="12.85">enrichment zone = 84</text>
<text x="1052.4" y="723.4" font-size="12.85">motif score threshold = 88.700</text>
<text x="1052.4" y="739.0" font-size="12.85">centrality p-val = -16.6304</text>
</svg>
</body></html>
